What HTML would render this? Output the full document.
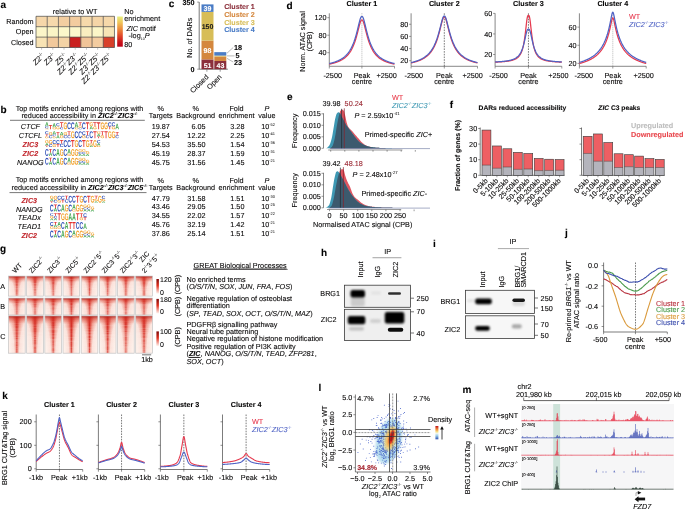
<!DOCTYPE html><html><head><meta charset="utf-8"><style>html,body{margin:0;padding:0;background:#fff;width:685px;height:509px;overflow:hidden}text{stroke-width:0.1px}svg{display:block;font-family:"Liberation Sans",sans-serif;text-rendering:geometricPrecision;will-change:transform}</style></head><body><svg width="685" height="509" viewBox="0 0 685 509"><defs><path id="gA" d="M0.787 1 0.697 0.744H0.306L0.215 1H0L0.374 0H0.627L1 1ZM0.501 0.154 0.496 0.17Q0.489 0.195 0.479 0.228Q0.469 0.26 0.354 0.587H0.648L0.547 0.3L0.516 0.203Z"/><path id="gC" d="M0.531 0.84Q0.73 0.84 0.808 0.655L1 0.722Q0.938 0.863 0.818 0.931Q0.698 1 0.531 1Q0.277 1 0.139 0.867Q0 0.734 0 0.496Q0 0.257 0.134 0.128Q0.267 0 0.521 0Q0.706 0 0.823 0.069Q0.94 0.137 0.987 0.27L0.792 0.319Q0.768 0.246 0.696 0.203Q0.624 0.16 0.526 0.16Q0.376 0.16 0.299 0.246Q0.222 0.331 0.222 0.496Q0.222 0.663 0.301 0.752Q0.381 0.84 0.531 0.84Z"/><path id="gG" d="M0.522 0.841Q0.606 0.841 0.684 0.818Q0.762 0.794 0.805 0.759V0.624H0.556V0.474H1V0.831Q0.919 0.91 0.789 0.955Q0.659 1 0.517 1Q0.268 1 0.134 0.869Q-0 0.737 -0 0.496Q-0 0.256 0.135 0.128Q0.269 0 0.522 0Q0.881 0 0.978 0.253L0.781 0.31Q0.75 0.236 0.682 0.198Q0.614 0.16 0.522 0.16Q0.371 0.16 0.293 0.247Q0.215 0.334 0.215 0.496Q0.215 0.661 0.296 0.751Q0.376 0.841 0.522 0.841Z"/><path id="gT" d="M0.622 0.162V1H0.377V0.162H0V0H1V0.162Z"/><linearGradient id="ylorrd" x1="0" y1="0" x2="0" y2="1"><stop offset="0" stop-color="#e6f07c"/><stop offset="0.2" stop-color="#f0c45a"/><stop offset="0.42" stop-color="#ec8a3c"/><stop offset="0.65" stop-color="#e04428"/><stop offset="0.85" stop-color="#c8141c"/><stop offset="1" stop-color="#be0018"/></linearGradient><filter id="bl6" x="-50%" y="-50%" width="200%" height="200%"><feGaussianBlur stdDeviation="0.6"/></filter><filter id="bl7" x="-50%" y="-50%" width="200%" height="200%"><feGaussianBlur stdDeviation="0.7"/></filter><filter id="bl8" x="-50%" y="-50%" width="200%" height="200%"><feGaussianBlur stdDeviation="0.8"/></filter><filter id="bl9" x="-50%" y="-50%" width="200%" height="200%"><feGaussianBlur stdDeviation="0.9"/></filter><filter id="bl10" x="-50%" y="-50%" width="200%" height="200%"><feGaussianBlur stdDeviation="1.0"/></filter><filter id="bl12" x="-50%" y="-50%" width="200%" height="200%"><feGaussianBlur stdDeviation="1.2"/></filter><linearGradient id="hg" x1="0" y1="0" x2="1" y2="0"><stop offset="0" stop-color="#e8553e" stop-opacity="0"/><stop offset="0.3" stop-color="#e24a36" stop-opacity="0.35"/><stop offset="0.5" stop-color="#d42c24" stop-opacity="1"/><stop offset="0.7" stop-color="#e24a36" stop-opacity="0.35"/><stop offset="1" stop-color="#e8553e" stop-opacity="0"/></linearGradient><linearGradient id="cbg" x1="0" y1="0" x2="0" y2="1"><stop offset="0" stop-color="#7d0a0a"/><stop offset="0.45" stop-color="#e0301e"/><stop offset="1" stop-color="#fff4ef"/></linearGradient><linearGradient id="vtop" x1="0" y1="0" x2="0" y2="1"><stop offset="0" stop-color="#a5120e" stop-opacity="0.95"/><stop offset="0.35" stop-color="#c8281c" stop-opacity="0.45"/><stop offset="1" stop-color="#e04a36" stop-opacity="0"/></linearGradient><clipPath id="gc00"><rect x="8.50" y="276.10" width="16.7" height="20.00"/></clipPath><clipPath id="gc01"><rect x="26.67" y="276.10" width="16.7" height="20.00"/></clipPath><clipPath id="gc02"><rect x="44.84" y="276.10" width="16.7" height="20.00"/></clipPath><clipPath id="gc03"><rect x="63.01" y="276.10" width="16.7" height="20.00"/></clipPath><clipPath id="gc04"><rect x="81.18" y="276.10" width="16.7" height="20.00"/></clipPath><clipPath id="gc05"><rect x="99.35" y="276.10" width="16.7" height="20.00"/></clipPath><clipPath id="gc06"><rect x="117.52" y="276.10" width="16.7" height="20.00"/></clipPath><clipPath id="gc07"><rect x="135.69" y="276.10" width="16.7" height="20.00"/></clipPath><clipPath id="gc10"><rect x="8.50" y="298.10" width="16.7" height="16.90"/></clipPath><clipPath id="gc11"><rect x="26.67" y="298.10" width="16.7" height="16.90"/></clipPath><clipPath id="gc12"><rect x="44.84" y="298.10" width="16.7" height="16.90"/></clipPath><clipPath id="gc13"><rect x="63.01" y="298.10" width="16.7" height="16.90"/></clipPath><clipPath id="gc14"><rect x="81.18" y="298.10" width="16.7" height="16.90"/></clipPath><clipPath id="gc15"><rect x="99.35" y="298.10" width="16.7" height="16.90"/></clipPath><clipPath id="gc16"><rect x="117.52" y="298.10" width="16.7" height="16.90"/></clipPath><clipPath id="gc17"><rect x="135.69" y="298.10" width="16.7" height="16.90"/></clipPath><clipPath id="gc20"><rect x="8.50" y="315.90" width="16.7" height="37.30"/></clipPath><clipPath id="gc21"><rect x="26.67" y="315.90" width="16.7" height="37.30"/></clipPath><clipPath id="gc22"><rect x="44.84" y="315.90" width="16.7" height="37.30"/></clipPath><clipPath id="gc23"><rect x="63.01" y="315.90" width="16.7" height="37.30"/></clipPath><clipPath id="gc24"><rect x="81.18" y="315.90" width="16.7" height="37.30"/></clipPath><clipPath id="gc25"><rect x="99.35" y="315.90" width="16.7" height="37.30"/></clipPath><clipPath id="gc26"><rect x="117.52" y="315.90" width="16.7" height="37.30"/></clipPath><clipPath id="gc27"><rect x="135.69" y="315.90" width="16.7" height="37.30"/></clipPath><linearGradient id="dens" x1="0" y1="0" x2="0" y2="1"><stop offset="0" stop-color="#c0141c"/><stop offset="0.25" stop-color="#f08a3a"/><stop offset="0.45" stop-color="#f8e88a"/><stop offset="0.55" stop-color="#f2f4ee"/><stop offset="0.72" stop-color="#9fd0ea"/><stop offset="1" stop-color="#2d4fb0"/></linearGradient></defs><text x="0.50" y="7.60" font-size="10" font-weight="bold" fill="#000" stroke="#000">a</text>
<text x="75.20" y="13.50" font-size="7.25" text-anchor="middle" stroke="#231f20">relative to WT</text>
<text x="33.60" y="24.20" font-size="7.25" text-anchor="end" stroke="#231f20">Random</text>
<text x="33.60" y="34.40" font-size="7.25" text-anchor="end" stroke="#231f20">Open</text>
<text x="33.60" y="44.80" font-size="7.25" text-anchor="end" stroke="#231f20">Closed</text>
<rect x="36.00" y="16.30" width="11.21" height="10.40" fill="#f6d7aa"/>
<rect x="47.21" y="16.30" width="11.21" height="10.40" fill="#f6d9ac"/>
<rect x="58.42" y="16.30" width="11.21" height="10.40" fill="#f3cea1"/>
<rect x="69.63" y="16.30" width="11.21" height="10.40" fill="#f3cc9f"/>
<rect x="80.84" y="16.30" width="11.21" height="10.40" fill="#f6d9ab"/>
<rect x="92.05" y="16.30" width="11.21" height="10.40" fill="#f5d5a7"/>
<rect x="103.26" y="16.30" width="11.21" height="10.40" fill="#f6d8aa"/>
<rect x="36.00" y="26.70" width="11.21" height="10.40" fill="#fcf6c9"/>
<rect x="47.21" y="26.70" width="11.21" height="10.40" fill="#fbf5c6"/>
<rect x="58.42" y="26.70" width="11.21" height="10.40" fill="#fcf7ca"/>
<rect x="69.63" y="26.70" width="11.21" height="10.40" fill="#fcf8cc"/>
<rect x="80.84" y="26.70" width="11.21" height="10.40" fill="#f9eec0"/>
<rect x="92.05" y="26.70" width="11.21" height="10.40" fill="#fbf6c8"/>
<rect x="103.26" y="26.70" width="11.21" height="10.40" fill="#f7e5b6"/>
<rect x="36.00" y="37.10" width="11.21" height="10.40" fill="#f8e3b4"/>
<rect x="47.21" y="37.10" width="11.21" height="10.40" fill="#f2c99c"/>
<rect x="58.42" y="37.10" width="11.21" height="10.40" fill="#f4d3a5"/>
<rect x="69.63" y="37.10" width="11.21" height="10.40" fill="#c9201f"/>
<rect x="80.84" y="37.10" width="11.21" height="10.40" fill="#f1c498"/>
<rect x="92.05" y="37.10" width="11.21" height="10.40" fill="#f3cca0"/>
<rect x="103.26" y="37.10" width="11.21" height="10.40" fill="#d8402a"/>
<line x1="36.00" y1="16.30" x2="36.00" y2="47.50" stroke="#3a3a3a" stroke-width="0.65"/>
<line x1="47.21" y1="16.30" x2="47.21" y2="47.50" stroke="#3a3a3a" stroke-width="0.65"/>
<line x1="58.42" y1="16.30" x2="58.42" y2="47.50" stroke="#3a3a3a" stroke-width="0.65"/>
<line x1="69.63" y1="16.30" x2="69.63" y2="47.50" stroke="#3a3a3a" stroke-width="0.65"/>
<line x1="80.84" y1="16.30" x2="80.84" y2="47.50" stroke="#3a3a3a" stroke-width="0.65"/>
<line x1="92.05" y1="16.30" x2="92.05" y2="47.50" stroke="#3a3a3a" stroke-width="0.65"/>
<line x1="103.26" y1="16.30" x2="103.26" y2="47.50" stroke="#3a3a3a" stroke-width="0.65"/>
<line x1="114.47" y1="16.30" x2="114.47" y2="47.50" stroke="#3a3a3a" stroke-width="0.65"/>
<line x1="36.00" y1="16.30" x2="114.47" y2="16.30" stroke="#3a3a3a" stroke-width="0.65"/>
<line x1="36.00" y1="26.70" x2="114.47" y2="26.70" stroke="#3a3a3a" stroke-width="0.65"/>
<line x1="36.00" y1="37.10" x2="114.47" y2="37.10" stroke="#3a3a3a" stroke-width="0.65"/>
<line x1="36.00" y1="47.50" x2="114.47" y2="47.50" stroke="#3a3a3a" stroke-width="0.65"/>
<line x1="41.61" y1="47.50" x2="41.61" y2="49.70" stroke="#888" stroke-width="0.5"/>
<line x1="52.81" y1="47.50" x2="52.81" y2="49.70" stroke="#888" stroke-width="0.5"/>
<line x1="64.03" y1="47.50" x2="64.03" y2="49.70" stroke="#888" stroke-width="0.5"/>
<line x1="75.23" y1="47.50" x2="75.23" y2="49.70" stroke="#888" stroke-width="0.5"/>
<line x1="86.45" y1="47.50" x2="86.45" y2="49.70" stroke="#888" stroke-width="0.5"/>
<line x1="97.66" y1="47.50" x2="97.66" y2="49.70" stroke="#888" stroke-width="0.5"/>
<line x1="108.87" y1="47.50" x2="108.87" y2="49.70" stroke="#888" stroke-width="0.5"/>
<text x="45.01" y="56.20" font-size="7.6" text-anchor="end" font-style="italic" stroke="#231f20" transform="rotate(-45 45.01 56.20)">Z2<tspan font-size="4.6" baseline-shift="2.9" stroke="none" font-style="normal">-/-</tspan></text>
<text x="56.21" y="56.20" font-size="7.6" text-anchor="end" font-style="italic" stroke="#231f20" transform="rotate(-45 56.21 56.20)">Z3<tspan font-size="4.6" baseline-shift="2.9" stroke="none" font-style="normal">-/-</tspan></text>
<text x="67.43" y="56.20" font-size="7.6" text-anchor="end" font-style="italic" stroke="#231f20" transform="rotate(-45 67.43 56.20)">Z5<tspan font-size="4.6" baseline-shift="2.9" stroke="none" font-style="normal">-/-</tspan></text>
<text x="78.64" y="56.20" font-size="7.6" text-anchor="end" font-style="italic" stroke="#231f20" transform="rotate(-45 78.64 56.20)">Z2<tspan font-size="4.6" baseline-shift="2.9" stroke="none" font-style="normal">-/-</tspan>Z3<tspan font-size="4.6" baseline-shift="2.9" stroke="none" font-style="normal">-/-</tspan></text>
<text x="89.85" y="56.20" font-size="7.6" text-anchor="end" font-style="italic" stroke="#231f20" transform="rotate(-45 89.85 56.20)">Z2<tspan font-size="4.6" baseline-shift="2.9" stroke="none" font-style="normal">-/-</tspan>Z5<tspan font-size="4.6" baseline-shift="2.9" stroke="none" font-style="normal">-/-</tspan></text>
<text x="101.06" y="56.20" font-size="7.6" text-anchor="end" font-style="italic" stroke="#231f20" transform="rotate(-45 101.06 56.20)">Z3<tspan font-size="4.6" baseline-shift="2.9" stroke="none" font-style="normal">-/-</tspan>Z5<tspan font-size="4.6" baseline-shift="2.9" stroke="none" font-style="normal">-/-</tspan></text>
<text x="112.27" y="56.20" font-size="7.6" text-anchor="end" font-style="italic" stroke="#231f20" transform="rotate(-45 112.27 56.20)">Z2<tspan font-size="4.6" baseline-shift="2.9" stroke="none" font-style="normal">-/-</tspan>Z3<tspan font-size="4.6" baseline-shift="2.9" stroke="none" font-style="normal">-/-</tspan>Z5<tspan font-size="4.6" baseline-shift="2.9" stroke="none" font-style="normal">-/-</tspan></text>
<rect x="117.20" y="16.50" width="5.60" height="30.20" fill="url(#ylorrd)"/>
<text x="124.30" y="14.20" font-size="7.25" stroke="#231f20">No</text>
<text x="124.30" y="21.20" font-size="7.25" stroke="#231f20">enrichment</text>
<text x="126.40" y="30.80" font-size="7.25" stroke="#231f20"><tspan font-style="italic">ZIC</tspan> motif</text>
<text x="128.60" y="37.60" font-size="7.25" stroke="#231f20">-log<tspan font-size="3.6" baseline-shift="-1.5" stroke="none" font-style="normal">10</tspan><tspan font-style="italic">P</tspan></text>
<text x="124.30" y="47.00" font-size="7.25" stroke="#231f20">80</text>
<text x="168.80" y="7.20" font-size="10" font-weight="bold" fill="#000" stroke="#000">c</text>
<line x1="199.20" y1="2.10" x2="199.20" y2="69.20" stroke="#555" stroke-width="0.8"/>
<line x1="199.20" y1="69.20" x2="227.80" y2="69.20" stroke="#555" stroke-width="0.8"/>
<line x1="197.20" y1="2.10" x2="199.20" y2="2.10" stroke="#555" stroke-width="0.6"/>
<line x1="197.20" y1="69.20" x2="199.20" y2="69.20" stroke="#555" stroke-width="0.6"/>
<text x="194.50" y="5.20" font-size="7.25" text-anchor="end" font-weight="bold" stroke="#231f20">350</text>
<text x="194.50" y="71.80" font-size="7.25" text-anchor="end" font-weight="bold" stroke="#231f20">0</text>
<text x="192.50" y="37.70" font-size="7.25" text-anchor="middle" stroke="#231f20" transform="rotate(-90 192.50 37.70)">No. of DARs</text>
<rect x="201.50" y="59.42" width="12.00" height="9.78" fill="#8b2f3b"/>
<rect x="201.50" y="40.63" width="12.00" height="18.79" fill="#d4873e"/>
<rect x="201.50" y="11.88" width="12.00" height="28.76" fill="#d7bd57"/>
<rect x="201.50" y="4.40" width="12.00" height="7.48" fill="#4a7cc6"/>
<rect x="214.30" y="60.96" width="12.00" height="8.24" fill="#8b2f3b"/>
<rect x="214.30" y="56.55" width="12.00" height="4.41" fill="#d4873e"/>
<rect x="214.30" y="55.59" width="12.00" height="0.96" fill="#d7bd57"/>
<rect x="214.30" y="52.14" width="12.00" height="3.45" fill="#4a7cc6"/>
<text x="207.50" y="10.60" font-size="7" text-anchor="middle" font-weight="bold" fill="#fff" stroke="#fff">39</text>
<text x="207.50" y="28.60" font-size="7" text-anchor="middle" font-weight="bold" fill="#1a1a1a" stroke="#1a1a1a">150</text>
<text x="207.50" y="53.00" font-size="7" text-anchor="middle" font-weight="bold" fill="#fff" stroke="#fff">98</text>
<text x="207.60" y="67.60" font-size="7" text-anchor="middle" font-weight="bold" fill="#fff" stroke="#fff">51</text>
<text x="220.40" y="67.60" font-size="7" text-anchor="middle" font-weight="bold" fill="#fff" stroke="#fff">43</text>
<line x1="227.00" y1="53.20" x2="233.20" y2="47.50" stroke="#777" stroke-width="0.5"/>
<line x1="227.00" y1="55.90" x2="234.50" y2="55.90" stroke="#777" stroke-width="0.5"/>
<line x1="227.00" y1="58.40" x2="233.20" y2="62.00" stroke="#777" stroke-width="0.5"/>
<text x="234.00" y="50.00" font-size="7.25" font-weight="bold" stroke="#231f20">18</text>
<text x="235.50" y="57.80" font-size="7.25" font-weight="bold" stroke="#231f20">5</text>
<text x="234.00" y="64.60" font-size="7.25" font-weight="bold" stroke="#231f20">23</text>
<line x1="206.90" y1="69.20" x2="206.90" y2="71.70" stroke="#555" stroke-width="0.6"/>
<line x1="220.20" y1="69.20" x2="220.20" y2="71.70" stroke="#555" stroke-width="0.6"/>
<text x="209.00" y="77.50" font-size="7.25" text-anchor="end" stroke="#231f20" transform="rotate(-45 209.00 77.50)">Closed</text>
<text x="222.20" y="77.50" font-size="7.25" text-anchor="end" stroke="#231f20" transform="rotate(-45 222.20 77.50)">Open</text>
<text x="224.20" y="9.30" font-size="7.15" font-weight="bold" fill="#8b2f3b" stroke="#8b2f3b">Cluster 1</text>
<text x="224.20" y="16.90" font-size="7.15" font-weight="bold" fill="#d4873e" stroke="#d4873e">Cluster 2</text>
<text x="224.20" y="24.50" font-size="7.15" font-weight="bold" fill="#d7bd57" stroke="#d7bd57">Cluster 3</text>
<text x="224.20" y="32.10" font-size="7.15" font-weight="bold" fill="#4a7cc6" stroke="#4a7cc6">Cluster 4</text>
<text x="286.50" y="9.00" font-size="10" font-weight="bold" fill="#000" stroke="#000">d</text>
<text x="304.60" y="41.50" font-size="7.25" text-anchor="middle" stroke="#231f20" transform="rotate(-90 304.60 41.50)">Norm. ATAC signal</text>
<text x="312.30" y="41.50" font-size="7.25" text-anchor="middle" stroke="#231f20" transform="rotate(-90 312.30 41.50)">(CPB)</text>
<text x="361.90" y="6.20" font-size="7.2" text-anchor="middle" font-weight="bold" stroke="#231f20">Cluster 1</text>
<line x1="329.30" y1="13.30" x2="329.30" y2="66.30" stroke="#555" stroke-width="0.7"/>
<line x1="329.30" y1="66.30" x2="394.50" y2="66.30" stroke="#555" stroke-width="0.7"/>
<line x1="327.30" y1="17.70" x2="329.30" y2="17.70" stroke="#555" stroke-width="0.6"/>
<text x="326.50" y="20.30" font-size="7.25" text-anchor="end" stroke="#231f20">120</text>
<line x1="327.30" y1="35.20" x2="329.30" y2="35.20" stroke="#555" stroke-width="0.6"/>
<text x="326.50" y="37.80" font-size="7.25" text-anchor="end" stroke="#231f20">80</text>
<line x1="327.30" y1="52.70" x2="329.30" y2="52.70" stroke="#555" stroke-width="0.6"/>
<text x="326.50" y="55.30" font-size="7.25" text-anchor="end" stroke="#231f20">40</text>
<line x1="329.30" y1="66.30" x2="329.30" y2="68.50" stroke="#555" stroke-width="0.6"/>
<line x1="361.90" y1="66.30" x2="361.90" y2="68.50" stroke="#555" stroke-width="0.6"/>
<line x1="394.50" y1="66.30" x2="394.50" y2="68.50" stroke="#555" stroke-width="0.6"/>
<text x="332.70" y="77.60" font-size="7.25" text-anchor="middle" stroke="#231f20">-2500</text>
<text x="361.90" y="77.50" font-size="7.25" text-anchor="middle" stroke="#231f20">Peak</text>
<text x="361.90" y="84.30" font-size="7.25" text-anchor="middle" stroke="#231f20">centre</text>
<text x="386.70" y="77.60" font-size="7.25" text-anchor="middle" stroke="#231f20">+2500</text>
<line x1="361.90" y1="13.30" x2="361.90" y2="66.30" stroke="#999" stroke-width="0.7" stroke-dasharray="1,1"/>
<path d="M329.30,64.16 L329.63,64.09 L329.95,64.02 L330.28,63.95 L330.60,63.88 L330.93,63.80 L331.26,63.73 L331.58,63.65 L331.91,63.57 L332.23,63.49 L332.56,63.41 L332.89,63.32 L333.21,63.24 L333.54,63.15 L333.86,63.05 L334.19,62.96 L334.52,62.86 L334.84,62.76 L335.17,62.66 L335.49,62.56 L335.82,62.45 L336.15,62.34 L336.47,62.23 L336.80,62.11 L337.12,61.99 L337.45,61.87 L337.78,61.74 L338.10,61.61 L338.43,61.47 L338.75,61.34 L339.08,61.19 L339.41,61.05 L339.73,60.90 L340.06,60.74 L340.38,60.58 L340.71,60.41 L341.04,60.24 L341.36,60.06 L341.69,59.88 L342.01,59.69 L342.34,59.50 L342.67,59.30 L342.99,59.09 L343.32,58.87 L343.64,58.65 L343.97,58.42 L344.30,58.18 L344.62,57.93 L344.95,57.67 L345.27,57.40 L345.60,57.13 L345.93,56.84 L346.25,56.54 L346.58,56.23 L346.90,55.91 L347.23,55.57 L347.56,55.22 L347.88,54.86 L348.21,54.48 L348.53,54.09 L348.86,53.68 L349.19,53.25 L349.51,52.80 L349.84,52.34 L350.16,51.85 L350.49,51.35 L350.82,50.82 L351.14,50.26 L351.47,49.68 L351.79,49.08 L352.12,48.45 L352.45,47.78 L352.77,47.09 L353.10,46.37 L353.42,45.61 L353.75,44.81 L354.08,43.98 L354.40,43.12 L354.73,42.21 L355.05,41.26 L355.38,40.27 L355.71,39.24 L356.03,38.17 L356.36,37.05 L356.68,35.90 L357.01,34.70 L357.34,33.47 L357.66,32.20 L357.99,30.92 L358.31,29.61 L358.64,28.29 L358.97,26.99 L359.29,25.71 L359.62,24.48 L359.94,23.32 L360.27,22.28 L360.60,21.39 L360.92,20.70 L361.25,20.24 L361.57,20.04 L361.90,20.00 L362.23,20.04 L362.55,20.24 L362.88,20.70 L363.20,21.39 L363.53,22.28 L363.86,23.32 L364.18,24.48 L364.51,25.71 L364.83,26.99 L365.16,28.29 L365.49,29.61 L365.81,30.92 L366.14,32.20 L366.46,33.47 L366.79,34.70 L367.12,35.90 L367.44,37.05 L367.77,38.17 L368.09,39.24 L368.42,40.27 L368.75,41.26 L369.07,42.21 L369.40,43.12 L369.72,43.98 L370.05,44.81 L370.38,45.61 L370.70,46.37 L371.03,47.09 L371.35,47.78 L371.68,48.45 L372.01,49.08 L372.33,49.68 L372.66,50.26 L372.98,50.82 L373.31,51.35 L373.64,51.85 L373.96,52.34 L374.29,52.80 L374.61,53.25 L374.94,53.68 L375.27,54.09 L375.59,54.48 L375.92,54.86 L376.24,55.22 L376.57,55.57 L376.90,55.91 L377.22,56.23 L377.55,56.54 L377.87,56.84 L378.20,57.13 L378.53,57.40 L378.85,57.67 L379.18,57.93 L379.50,58.18 L379.83,58.42 L380.16,58.65 L380.48,58.87 L380.81,59.09 L381.13,59.30 L381.46,59.50 L381.79,59.69 L382.11,59.88 L382.44,60.06 L382.76,60.24 L383.09,60.41 L383.42,60.58 L383.74,60.74 L384.07,60.90 L384.39,61.05 L384.72,61.19 L385.05,61.34 L385.37,61.47 L385.70,61.61 L386.02,61.74 L386.35,61.87 L386.68,61.99 L387.00,62.11 L387.33,62.23 L387.65,62.34 L387.98,62.45 L388.31,62.56 L388.63,62.66 L388.96,62.76 L389.28,62.86 L389.61,62.96 L389.94,63.05 L390.26,63.15 L390.59,63.24 L390.91,63.32 L391.24,63.41 L391.57,63.49 L391.89,63.57 L392.22,63.65 L392.54,63.73 L392.87,63.80 L393.20,63.88 L393.52,63.95 L393.85,64.02 L394.17,64.09 L394.50,64.16" fill="none" stroke="#e63a4f" stroke-width="1.25" stroke-linejoin="round"/>
<path d="M329.30,63.56 L329.63,63.48 L329.95,63.40 L330.28,63.33 L330.60,63.25 L330.93,63.16 L331.26,63.08 L331.58,62.99 L331.91,62.90 L332.23,62.81 L332.56,62.72 L332.89,62.62 L333.21,62.53 L333.54,62.43 L333.86,62.33 L334.19,62.22 L334.52,62.11 L334.84,62.00 L335.17,61.89 L335.49,61.77 L335.82,61.65 L336.15,61.53 L336.47,61.40 L336.80,61.27 L337.12,61.14 L337.45,61.00 L337.78,60.86 L338.10,60.72 L338.43,60.57 L338.75,60.41 L339.08,60.25 L339.41,60.09 L339.73,59.92 L340.06,59.75 L340.38,59.57 L340.71,59.39 L341.04,59.20 L341.36,59.00 L341.69,58.80 L342.01,58.59 L342.34,58.37 L342.67,58.15 L342.99,57.92 L343.32,57.68 L343.64,57.43 L343.97,57.18 L344.30,56.91 L344.62,56.64 L344.95,56.36 L345.27,56.06 L345.60,55.76 L345.93,55.44 L346.25,55.11 L346.58,54.77 L346.90,54.42 L347.23,54.05 L347.56,53.67 L347.88,53.27 L348.21,52.85 L348.53,52.42 L348.86,51.98 L349.19,51.51 L349.51,51.02 L349.84,50.51 L350.16,49.99 L350.49,49.43 L350.82,48.86 L351.14,48.26 L351.47,47.63 L351.79,46.98 L352.12,46.29 L352.45,45.58 L352.77,44.83 L353.10,44.05 L353.42,43.24 L353.75,42.39 L354.08,41.50 L354.40,40.57 L354.73,39.60 L355.05,38.59 L355.38,37.54 L355.71,36.45 L356.03,35.32 L356.36,34.14 L356.68,32.92 L357.01,31.67 L357.34,30.38 L357.66,29.06 L357.99,27.72 L358.31,26.36 L358.64,25.00 L358.97,23.65 L359.29,22.33 L359.62,21.07 L359.94,19.89 L360.27,18.82 L360.60,17.91 L360.92,17.21 L361.25,16.75 L361.57,16.54 L361.90,16.50 L362.23,16.54 L362.55,16.75 L362.88,17.21 L363.20,17.91 L363.53,18.82 L363.86,19.89 L364.18,21.07 L364.51,22.33 L364.83,23.65 L365.16,25.00 L365.49,26.36 L365.81,27.72 L366.14,29.06 L366.46,30.38 L366.79,31.67 L367.12,32.92 L367.44,34.14 L367.77,35.32 L368.09,36.45 L368.42,37.54 L368.75,38.59 L369.07,39.60 L369.40,40.57 L369.72,41.50 L370.05,42.39 L370.38,43.24 L370.70,44.05 L371.03,44.83 L371.35,45.58 L371.68,46.29 L372.01,46.98 L372.33,47.63 L372.66,48.26 L372.98,48.86 L373.31,49.43 L373.64,49.99 L373.96,50.51 L374.29,51.02 L374.61,51.51 L374.94,51.98 L375.27,52.42 L375.59,52.85 L375.92,53.27 L376.24,53.67 L376.57,54.05 L376.90,54.42 L377.22,54.77 L377.55,55.11 L377.87,55.44 L378.20,55.76 L378.53,56.06 L378.85,56.36 L379.18,56.64 L379.50,56.91 L379.83,57.18 L380.16,57.43 L380.48,57.68 L380.81,57.92 L381.13,58.15 L381.46,58.37 L381.79,58.59 L382.11,58.80 L382.44,59.00 L382.76,59.20 L383.09,59.39 L383.42,59.57 L383.74,59.75 L384.07,59.92 L384.39,60.09 L384.72,60.25 L385.05,60.41 L385.37,60.57 L385.70,60.72 L386.02,60.86 L386.35,61.00 L386.68,61.14 L387.00,61.27 L387.33,61.40 L387.65,61.53 L387.98,61.65 L388.31,61.77 L388.63,61.89 L388.96,62.00 L389.28,62.11 L389.61,62.22 L389.94,62.33 L390.26,62.43 L390.59,62.53 L390.91,62.62 L391.24,62.72 L391.57,62.81 L391.89,62.90 L392.22,62.99 L392.54,63.08 L392.87,63.16 L393.20,63.25 L393.52,63.33 L393.85,63.40 L394.17,63.48 L394.50,63.56" fill="none" stroke="#4f62c4" stroke-width="1.25" stroke-linejoin="round"/>
<text x="444.30" y="6.20" font-size="7.2" text-anchor="middle" font-weight="bold" stroke="#231f20">Cluster 2</text>
<line x1="411.10" y1="13.30" x2="411.10" y2="66.30" stroke="#555" stroke-width="0.7"/>
<line x1="411.10" y1="66.30" x2="477.50" y2="66.30" stroke="#555" stroke-width="0.7"/>
<line x1="409.10" y1="24.25" x2="411.10" y2="24.25" stroke="#555" stroke-width="0.6"/>
<text x="408.30" y="26.85" font-size="7.25" text-anchor="end" stroke="#231f20">80</text>
<line x1="409.10" y1="36.40" x2="411.10" y2="36.40" stroke="#555" stroke-width="0.6"/>
<text x="408.30" y="39.00" font-size="7.25" text-anchor="end" stroke="#231f20">60</text>
<line x1="409.10" y1="48.55" x2="411.10" y2="48.55" stroke="#555" stroke-width="0.6"/>
<text x="408.30" y="51.15" font-size="7.25" text-anchor="end" stroke="#231f20">40</text>
<line x1="409.10" y1="60.70" x2="411.10" y2="60.70" stroke="#555" stroke-width="0.6"/>
<text x="408.30" y="63.30" font-size="7.25" text-anchor="end" stroke="#231f20">20</text>
<line x1="411.10" y1="66.30" x2="411.10" y2="68.50" stroke="#555" stroke-width="0.6"/>
<line x1="444.30" y1="66.30" x2="444.30" y2="68.50" stroke="#555" stroke-width="0.6"/>
<line x1="477.50" y1="66.30" x2="477.50" y2="68.50" stroke="#555" stroke-width="0.6"/>
<text x="413.80" y="77.60" font-size="7.25" text-anchor="middle" stroke="#231f20">-2500</text>
<text x="444.30" y="77.50" font-size="7.25" text-anchor="middle" stroke="#231f20">Peak</text>
<text x="444.30" y="84.30" font-size="7.25" text-anchor="middle" stroke="#231f20">centre</text>
<text x="472.60" y="77.60" font-size="7.25" text-anchor="middle" stroke="#231f20">+2500</text>
<line x1="444.30" y1="13.30" x2="444.30" y2="66.30" stroke="#222" stroke-width="0.6" stroke-dasharray="1.6,1.1"/>
<path d="M411.10,62.96 L411.43,62.88 L411.76,62.81 L412.10,62.73 L412.43,62.66 L412.76,62.58 L413.09,62.49 L413.42,62.41 L413.76,62.33 L414.09,62.24 L414.42,62.15 L414.75,62.06 L415.08,61.96 L415.42,61.87 L415.75,61.77 L416.08,61.67 L416.41,61.56 L416.74,61.46 L417.08,61.35 L417.41,61.24 L417.74,61.12 L418.07,61.00 L418.40,60.88 L418.74,60.76 L419.07,60.63 L419.40,60.50 L419.73,60.36 L420.06,60.22 L420.40,60.08 L420.73,59.93 L421.06,59.78 L421.39,59.62 L421.72,59.46 L422.06,59.30 L422.39,59.12 L422.72,58.95 L423.05,58.77 L423.38,58.58 L423.72,58.38 L424.05,58.18 L424.38,57.98 L424.71,57.76 L425.04,57.54 L425.38,57.31 L425.71,57.08 L426.04,56.83 L426.37,56.58 L426.70,56.32 L427.04,56.04 L427.37,55.76 L427.70,55.47 L428.03,55.17 L428.36,54.85 L428.70,54.53 L429.03,54.19 L429.36,53.84 L429.69,53.47 L430.02,53.09 L430.36,52.70 L430.69,52.28 L431.02,51.85 L431.35,51.41 L431.68,50.94 L432.02,50.46 L432.35,49.95 L432.68,49.42 L433.01,48.87 L433.34,48.30 L433.68,47.69 L434.01,47.07 L434.34,46.41 L434.67,45.73 L435.00,45.01 L435.34,44.26 L435.67,43.48 L436.00,42.66 L436.33,41.80 L436.66,40.91 L437.00,39.98 L437.33,39.00 L437.66,37.98 L437.99,36.93 L438.32,35.82 L438.66,34.68 L438.99,33.50 L439.32,32.27 L439.65,31.01 L439.98,29.71 L440.32,28.39 L440.65,27.05 L440.98,25.70 L441.31,24.36 L441.64,23.04 L441.98,21.77 L442.31,20.57 L442.64,19.48 L442.97,18.55 L443.30,17.82 L443.64,17.33 L443.97,17.11 L444.30,17.07 L444.63,17.11 L444.96,17.33 L445.30,17.82 L445.63,18.55 L445.96,19.48 L446.29,20.57 L446.62,21.77 L446.96,23.04 L447.29,24.36 L447.62,25.70 L447.95,27.05 L448.28,28.39 L448.62,29.71 L448.95,31.01 L449.28,32.27 L449.61,33.50 L449.94,34.68 L450.28,35.82 L450.61,36.93 L450.94,37.98 L451.27,39.00 L451.60,39.98 L451.94,40.91 L452.27,41.80 L452.60,42.66 L452.93,43.48 L453.26,44.26 L453.60,45.01 L453.93,45.73 L454.26,46.41 L454.59,47.07 L454.92,47.69 L455.26,48.30 L455.59,48.87 L455.92,49.42 L456.25,49.95 L456.58,50.46 L456.92,50.94 L457.25,51.41 L457.58,51.85 L457.91,52.28 L458.24,52.70 L458.58,53.09 L458.91,53.47 L459.24,53.84 L459.57,54.19 L459.90,54.53 L460.24,54.85 L460.57,55.17 L460.90,55.47 L461.23,55.76 L461.56,56.04 L461.90,56.32 L462.23,56.58 L462.56,56.83 L462.89,57.08 L463.22,57.31 L463.56,57.54 L463.89,57.76 L464.22,57.98 L464.55,58.18 L464.88,58.38 L465.22,58.58 L465.55,58.77 L465.88,58.95 L466.21,59.12 L466.54,59.30 L466.88,59.46 L467.21,59.62 L467.54,59.78 L467.87,59.93 L468.20,60.08 L468.54,60.22 L468.87,60.36 L469.20,60.50 L469.53,60.63 L469.86,60.76 L470.20,60.88 L470.53,61.00 L470.86,61.12 L471.19,61.24 L471.52,61.35 L471.86,61.46 L472.19,61.56 L472.52,61.67 L472.85,61.77 L473.18,61.87 L473.52,61.96 L473.85,62.06 L474.18,62.15 L474.51,62.24 L474.84,62.33 L475.18,62.41 L475.51,62.49 L475.84,62.58 L476.17,62.66 L476.50,62.73 L476.84,62.81 L477.17,62.88 L477.50,62.96" fill="none" stroke="#e63a4f" stroke-width="1.25" stroke-linejoin="round"/>
<path d="M411.10,62.57 L411.43,62.50 L411.76,62.42 L412.10,62.34 L412.43,62.25 L412.76,62.17 L413.09,62.08 L413.42,61.99 L413.76,61.90 L414.09,61.81 L414.42,61.71 L414.75,61.62 L415.08,61.52 L415.42,61.41 L415.75,61.31 L416.08,61.20 L416.41,61.09 L416.74,60.98 L417.08,60.86 L417.41,60.74 L417.74,60.62 L418.07,60.50 L418.40,60.37 L418.74,60.24 L419.07,60.10 L419.40,59.96 L419.73,59.82 L420.06,59.67 L420.40,59.52 L420.73,59.36 L421.06,59.20 L421.39,59.03 L421.72,58.86 L422.06,58.69 L422.39,58.51 L422.72,58.32 L423.05,58.13 L423.38,57.93 L423.72,57.73 L424.05,57.51 L424.38,57.30 L424.71,57.07 L425.04,56.84 L425.38,56.60 L425.71,56.35 L426.04,56.09 L426.37,55.83 L426.70,55.55 L427.04,55.27 L427.37,54.97 L427.70,54.66 L428.03,54.35 L428.36,54.02 L428.70,53.68 L429.03,53.32 L429.36,52.96 L429.69,52.57 L430.02,52.18 L430.36,51.77 L430.69,51.34 L431.02,50.89 L431.35,50.43 L431.68,49.94 L432.02,49.44 L432.35,48.92 L432.68,48.37 L433.01,47.80 L433.34,47.21 L433.68,46.59 L434.01,45.94 L434.34,45.27 L434.67,44.57 L435.00,43.83 L435.34,43.07 L435.67,42.27 L436.00,41.43 L436.33,40.56 L436.66,39.65 L437.00,38.71 L437.33,37.72 L437.66,36.70 L437.99,35.63 L438.32,34.53 L438.66,33.38 L438.99,32.20 L439.32,30.98 L439.65,29.72 L439.98,28.44 L440.32,27.13 L440.65,25.81 L440.98,24.48 L441.31,23.17 L441.64,21.88 L441.98,20.64 L442.31,19.48 L442.64,18.43 L442.97,17.53 L443.30,16.82 L443.64,16.35 L443.97,16.13 L444.30,16.10 L444.63,16.13 L444.96,16.35 L445.30,16.82 L445.63,17.53 L445.96,18.43 L446.29,19.48 L446.62,20.64 L446.96,21.88 L447.29,23.17 L447.62,24.48 L447.95,25.81 L448.28,27.13 L448.62,28.44 L448.95,29.72 L449.28,30.98 L449.61,32.20 L449.94,33.38 L450.28,34.53 L450.61,35.63 L450.94,36.70 L451.27,37.72 L451.60,38.71 L451.94,39.65 L452.27,40.56 L452.60,41.43 L452.93,42.27 L453.26,43.07 L453.60,43.83 L453.93,44.57 L454.26,45.27 L454.59,45.94 L454.92,46.59 L455.26,47.21 L455.59,47.80 L455.92,48.37 L456.25,48.92 L456.58,49.44 L456.92,49.94 L457.25,50.43 L457.58,50.89 L457.91,51.34 L458.24,51.77 L458.58,52.18 L458.91,52.57 L459.24,52.96 L459.57,53.32 L459.90,53.68 L460.24,54.02 L460.57,54.35 L460.90,54.66 L461.23,54.97 L461.56,55.27 L461.90,55.55 L462.23,55.83 L462.56,56.09 L462.89,56.35 L463.22,56.60 L463.56,56.84 L463.89,57.07 L464.22,57.30 L464.55,57.51 L464.88,57.73 L465.22,57.93 L465.55,58.13 L465.88,58.32 L466.21,58.51 L466.54,58.69 L466.88,58.86 L467.21,59.03 L467.54,59.20 L467.87,59.36 L468.20,59.52 L468.54,59.67 L468.87,59.82 L469.20,59.96 L469.53,60.10 L469.86,60.24 L470.20,60.37 L470.53,60.50 L470.86,60.62 L471.19,60.74 L471.52,60.86 L471.86,60.98 L472.19,61.09 L472.52,61.20 L472.85,61.31 L473.18,61.41 L473.52,61.52 L473.85,61.62 L474.18,61.71 L474.51,61.81 L474.84,61.90 L475.18,61.99 L475.51,62.08 L475.84,62.17 L476.17,62.25 L476.50,62.34 L476.84,62.42 L477.17,62.50 L477.50,62.57" fill="none" stroke="#4f62c4" stroke-width="1.25" stroke-linejoin="round"/>
<text x="528.45" y="6.20" font-size="7.2" text-anchor="middle" font-weight="bold" stroke="#231f20">Cluster 3</text>
<line x1="495.10" y1="13.30" x2="495.10" y2="66.30" stroke="#555" stroke-width="0.7"/>
<line x1="495.10" y1="66.30" x2="561.80" y2="66.30" stroke="#555" stroke-width="0.7"/>
<line x1="493.10" y1="13.40" x2="495.10" y2="13.40" stroke="#555" stroke-width="0.6"/>
<text x="492.30" y="16.00" font-size="7.25" text-anchor="end" stroke="#231f20">60</text>
<line x1="493.10" y1="33.95" x2="495.10" y2="33.95" stroke="#555" stroke-width="0.6"/>
<text x="492.30" y="36.55" font-size="7.25" text-anchor="end" stroke="#231f20">40</text>
<line x1="493.10" y1="54.50" x2="495.10" y2="54.50" stroke="#555" stroke-width="0.6"/>
<text x="492.30" y="57.10" font-size="7.25" text-anchor="end" stroke="#231f20">20</text>
<line x1="495.10" y1="66.30" x2="495.10" y2="68.50" stroke="#555" stroke-width="0.6"/>
<line x1="528.45" y1="66.30" x2="528.45" y2="68.50" stroke="#555" stroke-width="0.6"/>
<line x1="561.80" y1="66.30" x2="561.80" y2="68.50" stroke="#555" stroke-width="0.6"/>
<text x="498.60" y="77.60" font-size="7.25" text-anchor="middle" stroke="#231f20">-2500</text>
<text x="528.45" y="77.50" font-size="7.25" text-anchor="middle" stroke="#231f20">Peak</text>
<text x="528.45" y="84.30" font-size="7.25" text-anchor="middle" stroke="#231f20">centre</text>
<text x="558.40" y="77.60" font-size="7.25" text-anchor="middle" stroke="#231f20">+2500</text>
<line x1="528.45" y1="13.30" x2="528.45" y2="66.30" stroke="#222" stroke-width="0.6" stroke-dasharray="1.6,1.1"/>
<path d="M495.10,62.13 L495.43,62.12 L495.77,62.10 L496.10,62.09 L496.43,62.08 L496.77,62.06 L497.10,62.05 L497.43,62.03 L497.77,62.02 L498.10,62.00 L498.44,61.98 L498.77,61.97 L499.10,61.95 L499.44,61.93 L499.77,61.91 L500.10,61.89 L500.44,61.87 L500.77,61.85 L501.10,61.83 L501.44,61.81 L501.77,61.78 L502.10,61.76 L502.44,61.74 L502.77,61.71 L503.10,61.68 L503.44,61.66 L503.77,61.63 L504.10,61.60 L504.44,61.57 L504.77,61.54 L505.11,61.50 L505.44,61.47 L505.77,61.43 L506.11,61.39 L506.44,61.35 L506.77,61.31 L507.11,61.27 L507.44,61.23 L507.77,61.18 L508.11,61.13 L508.44,61.08 L508.77,61.03 L509.11,60.97 L509.44,60.91 L509.77,60.85 L510.11,60.78 L510.44,60.72 L510.77,60.64 L511.11,60.57 L511.44,60.49 L511.77,60.40 L512.11,60.31 L512.44,60.22 L512.78,60.12 L513.11,60.01 L513.44,59.90 L513.78,59.78 L514.11,59.66 L514.44,59.52 L514.78,59.38 L515.11,59.22 L515.44,59.06 L515.78,58.88 L516.11,58.69 L516.44,58.49 L516.78,58.27 L517.11,58.04 L517.44,57.78 L517.78,57.50 L518.11,57.21 L518.45,56.88 L518.78,56.53 L519.11,56.14 L519.45,55.72 L519.78,55.25 L520.11,54.75 L520.45,54.18 L520.78,53.57 L521.11,52.88 L521.45,52.12 L521.78,51.27 L522.11,50.33 L522.45,49.28 L522.78,48.10 L523.11,46.78 L523.45,45.29 L523.78,43.63 L524.11,41.78 L524.45,39.71 L524.78,37.41 L525.12,34.89 L525.45,32.17 L525.78,29.28 L526.12,26.32 L526.45,23.40 L526.78,20.70 L527.12,18.44 L527.45,16.78 L527.78,15.83 L528.12,15.49 L528.45,15.45 L528.78,15.49 L529.12,15.83 L529.45,16.78 L529.78,18.44 L530.12,20.70 L530.45,23.40 L530.78,26.32 L531.12,29.28 L531.45,32.17 L531.78,34.89 L532.12,37.41 L532.45,39.71 L532.79,41.78 L533.12,43.63 L533.45,45.29 L533.79,46.78 L534.12,48.10 L534.45,49.28 L534.79,50.33 L535.12,51.27 L535.45,52.12 L535.79,52.88 L536.12,53.57 L536.45,54.18 L536.79,54.75 L537.12,55.25 L537.45,55.72 L537.79,56.14 L538.12,56.53 L538.45,56.88 L538.79,57.21 L539.12,57.50 L539.46,57.78 L539.79,58.04 L540.12,58.27 L540.46,58.49 L540.79,58.69 L541.12,58.88 L541.46,59.06 L541.79,59.22 L542.12,59.38 L542.46,59.52 L542.79,59.66 L543.12,59.78 L543.46,59.90 L543.79,60.01 L544.12,60.12 L544.46,60.22 L544.79,60.31 L545.12,60.40 L545.46,60.49 L545.79,60.57 L546.13,60.64 L546.46,60.72 L546.79,60.78 L547.13,60.85 L547.46,60.91 L547.79,60.97 L548.13,61.03 L548.46,61.08 L548.79,61.13 L549.13,61.18 L549.46,61.23 L549.79,61.27 L550.13,61.31 L550.46,61.35 L550.79,61.39 L551.13,61.43 L551.46,61.47 L551.79,61.50 L552.13,61.54 L552.46,61.57 L552.80,61.60 L553.13,61.63 L553.46,61.66 L553.80,61.68 L554.13,61.71 L554.46,61.74 L554.80,61.76 L555.13,61.78 L555.46,61.81 L555.80,61.83 L556.13,61.85 L556.46,61.87 L556.80,61.89 L557.13,61.91 L557.46,61.93 L557.80,61.95 L558.13,61.97 L558.46,61.98 L558.80,62.00 L559.13,62.02 L559.47,62.03 L559.80,62.05 L560.13,62.06 L560.47,62.08 L560.80,62.09 L561.13,62.10 L561.47,62.12 L561.80,62.13" fill="none" stroke="#e63a4f" stroke-width="1.25" stroke-linejoin="round"/>
<path d="M495.10,61.93 L495.43,61.92 L495.77,61.90 L496.10,61.88 L496.43,61.87 L496.77,61.85 L497.10,61.83 L497.43,61.81 L497.77,61.79 L498.10,61.77 L498.44,61.75 L498.77,61.73 L499.10,61.71 L499.44,61.68 L499.77,61.66 L500.10,61.64 L500.44,61.61 L500.77,61.58 L501.10,61.56 L501.44,61.53 L501.77,61.50 L502.10,61.47 L502.44,61.44 L502.77,61.41 L503.10,61.37 L503.44,61.34 L503.77,61.31 L504.10,61.27 L504.44,61.23 L504.77,61.19 L505.11,61.15 L505.44,61.11 L505.77,61.06 L506.11,61.01 L506.44,60.97 L506.77,60.92 L507.11,60.86 L507.44,60.81 L507.77,60.75 L508.11,60.69 L508.44,60.63 L508.77,60.56 L509.11,60.49 L509.44,60.42 L509.77,60.35 L510.11,60.27 L510.44,60.19 L510.77,60.10 L511.11,60.01 L511.44,59.91 L511.77,59.81 L512.11,59.71 L512.44,59.59 L512.78,59.48 L513.11,59.35 L513.44,59.22 L513.78,59.08 L514.11,58.93 L514.44,58.78 L514.78,58.61 L515.11,58.43 L515.44,58.24 L515.78,58.04 L516.11,57.83 L516.44,57.60 L516.78,57.36 L517.11,57.09 L517.44,56.81 L517.78,56.51 L518.11,56.19 L518.45,55.84 L518.78,55.47 L519.11,55.06 L519.45,54.63 L519.78,54.15 L520.11,53.64 L520.45,53.09 L520.78,52.49 L521.11,51.84 L521.45,51.13 L521.78,50.36 L522.11,49.53 L522.45,48.62 L522.78,47.64 L523.11,46.57 L523.45,45.42 L523.78,44.19 L524.11,42.87 L524.45,41.47 L524.78,40.01 L525.12,38.49 L525.45,36.94 L525.78,35.41 L526.12,33.93 L526.45,32.56 L526.78,31.37 L527.12,30.41 L527.45,29.74 L527.78,29.37 L528.12,29.24 L528.45,29.22 L528.78,29.24 L529.12,29.37 L529.45,29.74 L529.78,30.41 L530.12,31.37 L530.45,32.56 L530.78,33.93 L531.12,35.41 L531.45,36.94 L531.78,38.49 L532.12,40.01 L532.45,41.47 L532.79,42.87 L533.12,44.19 L533.45,45.42 L533.79,46.57 L534.12,47.64 L534.45,48.62 L534.79,49.53 L535.12,50.36 L535.45,51.13 L535.79,51.84 L536.12,52.49 L536.45,53.09 L536.79,53.64 L537.12,54.15 L537.45,54.63 L537.79,55.06 L538.12,55.47 L538.45,55.84 L538.79,56.19 L539.12,56.51 L539.46,56.81 L539.79,57.09 L540.12,57.36 L540.46,57.60 L540.79,57.83 L541.12,58.04 L541.46,58.24 L541.79,58.43 L542.12,58.61 L542.46,58.78 L542.79,58.93 L543.12,59.08 L543.46,59.22 L543.79,59.35 L544.12,59.48 L544.46,59.59 L544.79,59.71 L545.12,59.81 L545.46,59.91 L545.79,60.01 L546.13,60.10 L546.46,60.19 L546.79,60.27 L547.13,60.35 L547.46,60.42 L547.79,60.49 L548.13,60.56 L548.46,60.63 L548.79,60.69 L549.13,60.75 L549.46,60.81 L549.79,60.86 L550.13,60.92 L550.46,60.97 L550.79,61.01 L551.13,61.06 L551.46,61.11 L551.79,61.15 L552.13,61.19 L552.46,61.23 L552.80,61.27 L553.13,61.31 L553.46,61.34 L553.80,61.37 L554.13,61.41 L554.46,61.44 L554.80,61.47 L555.13,61.50 L555.46,61.53 L555.80,61.56 L556.13,61.58 L556.46,61.61 L556.80,61.64 L557.13,61.66 L557.46,61.68 L557.80,61.71 L558.13,61.73 L558.46,61.75 L558.80,61.77 L559.13,61.79 L559.47,61.81 L559.80,61.83 L560.13,61.85 L560.47,61.87 L560.80,61.88 L561.13,61.90 L561.47,61.92 L561.80,61.93" fill="none" stroke="#4f62c4" stroke-width="1.25" stroke-linejoin="round"/>
<text x="612.80" y="6.20" font-size="7.2" text-anchor="middle" font-weight="bold" stroke="#231f20">Cluster 4</text>
<line x1="579.40" y1="13.30" x2="579.40" y2="66.30" stroke="#555" stroke-width="0.7"/>
<line x1="579.40" y1="66.30" x2="646.20" y2="66.30" stroke="#555" stroke-width="0.7"/>
<line x1="577.40" y1="27.10" x2="579.40" y2="27.10" stroke="#555" stroke-width="0.6"/>
<text x="576.60" y="29.70" font-size="7.25" text-anchor="end" stroke="#231f20">60</text>
<line x1="577.40" y1="45.25" x2="579.40" y2="45.25" stroke="#555" stroke-width="0.6"/>
<text x="576.60" y="47.85" font-size="7.25" text-anchor="end" stroke="#231f20">40</text>
<line x1="577.40" y1="63.40" x2="579.40" y2="63.40" stroke="#555" stroke-width="0.6"/>
<text x="576.60" y="66.00" font-size="7.25" text-anchor="end" stroke="#231f20">20</text>
<line x1="579.40" y1="66.30" x2="579.40" y2="68.50" stroke="#555" stroke-width="0.6"/>
<line x1="612.80" y1="66.30" x2="612.80" y2="68.50" stroke="#555" stroke-width="0.6"/>
<line x1="646.20" y1="66.30" x2="646.20" y2="68.50" stroke="#555" stroke-width="0.6"/>
<text x="583.80" y="77.60" font-size="7.25" text-anchor="middle" stroke="#231f20">-2500</text>
<text x="612.80" y="77.50" font-size="7.25" text-anchor="middle" stroke="#231f20">Peak</text>
<text x="612.80" y="84.30" font-size="7.25" text-anchor="middle" stroke="#231f20">centre</text>
<text x="643.70" y="77.60" font-size="7.25" text-anchor="middle" stroke="#231f20">+2500</text>
<line x1="612.80" y1="13.30" x2="612.80" y2="66.30" stroke="#999" stroke-width="0.7" stroke-dasharray="1,1"/>
<path d="M579.40,63.51 L579.73,63.42 L580.07,63.33 L580.40,63.24 L580.74,63.14 L581.07,63.05 L581.40,62.95 L581.74,62.85 L582.07,62.75 L582.41,62.65 L582.74,62.54 L583.07,62.43 L583.41,62.33 L583.74,62.22 L584.08,62.10 L584.41,61.99 L584.74,61.87 L585.08,61.75 L585.41,61.63 L585.75,61.50 L586.08,61.37 L586.41,61.24 L586.75,61.11 L587.08,60.97 L587.42,60.83 L587.75,60.69 L588.08,60.55 L588.42,60.40 L588.75,60.25 L589.09,60.09 L589.42,59.93 L589.75,59.77 L590.09,59.60 L590.42,59.43 L590.76,59.26 L591.09,59.08 L591.42,58.90 L591.76,58.71 L592.09,58.52 L592.43,58.32 L592.76,58.11 L593.09,57.91 L593.43,57.69 L593.76,57.47 L594.10,57.25 L594.43,57.02 L594.76,56.78 L595.10,56.53 L595.43,56.28 L595.77,56.02 L596.10,55.75 L596.43,55.48 L596.77,55.20 L597.10,54.90 L597.44,54.60 L597.77,54.29 L598.10,53.97 L598.44,53.64 L598.77,53.30 L599.11,52.94 L599.44,52.58 L599.77,52.20 L600.11,51.81 L600.44,51.40 L600.78,50.98 L601.11,50.54 L601.44,50.09 L601.78,49.62 L602.11,49.13 L602.45,48.63 L602.78,48.10 L603.11,47.55 L603.45,46.98 L603.78,46.38 L604.12,45.76 L604.45,45.11 L604.78,44.44 L605.12,43.73 L605.45,42.99 L605.79,42.21 L606.12,41.40 L606.45,40.55 L606.79,39.66 L607.12,38.72 L607.46,37.73 L607.79,36.70 L608.12,35.61 L608.46,34.47 L608.79,33.26 L609.13,32.00 L609.46,30.67 L609.79,29.29 L610.13,27.84 L610.46,26.33 L610.80,24.78 L611.13,23.21 L611.46,21.66 L611.80,20.20 L612.13,18.96 L612.47,18.12 L612.80,17.84 L613.13,18.12 L613.47,18.96 L613.80,20.20 L614.14,21.66 L614.47,23.21 L614.80,24.78 L615.14,26.33 L615.47,27.84 L615.81,29.29 L616.14,30.67 L616.47,32.00 L616.81,33.26 L617.14,34.47 L617.48,35.61 L617.81,36.70 L618.14,37.73 L618.48,38.72 L618.81,39.66 L619.15,40.55 L619.48,41.40 L619.81,42.21 L620.15,42.99 L620.48,43.73 L620.82,44.44 L621.15,45.11 L621.48,45.76 L621.82,46.38 L622.15,46.98 L622.49,47.55 L622.82,48.10 L623.15,48.63 L623.49,49.13 L623.82,49.62 L624.16,50.09 L624.49,50.54 L624.82,50.98 L625.16,51.40 L625.49,51.81 L625.83,52.20 L626.16,52.58 L626.49,52.94 L626.83,53.30 L627.16,53.64 L627.50,53.97 L627.83,54.29 L628.16,54.60 L628.50,54.90 L628.83,55.20 L629.17,55.48 L629.50,55.75 L629.83,56.02 L630.17,56.28 L630.50,56.53 L630.84,56.78 L631.17,57.02 L631.50,57.25 L631.84,57.47 L632.17,57.69 L632.51,57.91 L632.84,58.11 L633.17,58.32 L633.51,58.52 L633.84,58.71 L634.18,58.90 L634.51,59.08 L634.84,59.26 L635.18,59.43 L635.51,59.60 L635.85,59.77 L636.18,59.93 L636.51,60.09 L636.85,60.25 L637.18,60.40 L637.52,60.55 L637.85,60.69 L638.18,60.83 L638.52,60.97 L638.85,61.11 L639.19,61.24 L639.52,61.37 L639.85,61.50 L640.19,61.63 L640.52,61.75 L640.86,61.87 L641.19,61.99 L641.52,62.10 L641.86,62.22 L642.19,62.33 L642.53,62.43 L642.86,62.54 L643.19,62.65 L643.53,62.75 L643.86,62.85 L644.20,62.95 L644.53,63.05 L644.86,63.14 L645.20,63.24 L645.53,63.33 L645.87,63.42 L646.20,63.51" fill="none" stroke="#e63a4f" stroke-width="1.25" stroke-linejoin="round"/>
<path d="M579.40,62.41 L579.73,62.31 L580.07,62.21 L580.40,62.10 L580.74,62.00 L581.07,61.89 L581.40,61.79 L581.74,61.68 L582.07,61.56 L582.41,61.45 L582.74,61.33 L583.07,61.22 L583.41,61.09 L583.74,60.97 L584.08,60.85 L584.41,60.72 L584.74,60.59 L585.08,60.45 L585.41,60.32 L585.75,60.18 L586.08,60.04 L586.41,59.89 L586.75,59.74 L587.08,59.59 L587.42,59.44 L587.75,59.28 L588.08,59.12 L588.42,58.96 L588.75,58.79 L589.09,58.61 L589.42,58.44 L589.75,58.26 L590.09,58.07 L590.42,57.88 L590.76,57.69 L591.09,57.49 L591.42,57.29 L591.76,57.08 L592.09,56.87 L592.43,56.65 L592.76,56.42 L593.09,56.19 L593.43,55.96 L593.76,55.71 L594.10,55.46 L594.43,55.21 L594.76,54.94 L595.10,54.67 L595.43,54.39 L595.77,54.10 L596.10,53.81 L596.43,53.50 L596.77,53.19 L597.10,52.87 L597.44,52.53 L597.77,52.19 L598.10,51.84 L598.44,51.47 L598.77,51.09 L599.11,50.70 L599.44,50.29 L599.77,49.88 L600.11,49.44 L600.44,49.00 L600.78,48.53 L601.11,48.05 L601.44,47.55 L601.78,47.03 L602.11,46.49 L602.45,45.93 L602.78,45.35 L603.11,44.75 L603.45,44.12 L603.78,43.46 L604.12,42.77 L604.45,42.06 L604.78,41.31 L605.12,40.53 L605.45,39.72 L605.79,38.87 L606.12,37.97 L606.45,37.04 L606.79,36.06 L607.12,35.03 L607.46,33.95 L607.79,32.81 L608.12,31.62 L608.46,30.36 L608.79,29.05 L609.13,27.66 L609.46,26.21 L609.79,24.69 L610.13,23.11 L610.46,21.46 L610.80,19.77 L611.13,18.06 L611.46,16.37 L611.80,14.78 L612.13,13.43 L612.47,12.52 L612.80,12.22 L613.13,12.52 L613.47,13.43 L613.80,14.78 L614.14,16.37 L614.47,18.06 L614.80,19.77 L615.14,21.46 L615.47,23.11 L615.81,24.69 L616.14,26.21 L616.47,27.66 L616.81,29.05 L617.14,30.36 L617.48,31.62 L617.81,32.81 L618.14,33.95 L618.48,35.03 L618.81,36.06 L619.15,37.04 L619.48,37.97 L619.81,38.87 L620.15,39.72 L620.48,40.53 L620.82,41.31 L621.15,42.06 L621.48,42.77 L621.82,43.46 L622.15,44.12 L622.49,44.75 L622.82,45.35 L623.15,45.93 L623.49,46.49 L623.82,47.03 L624.16,47.55 L624.49,48.05 L624.82,48.53 L625.16,49.00 L625.49,49.44 L625.83,49.88 L626.16,50.29 L626.49,50.70 L626.83,51.09 L627.16,51.47 L627.50,51.84 L627.83,52.19 L628.16,52.53 L628.50,52.87 L628.83,53.19 L629.17,53.50 L629.50,53.81 L629.83,54.10 L630.17,54.39 L630.50,54.67 L630.84,54.94 L631.17,55.21 L631.50,55.46 L631.84,55.71 L632.17,55.96 L632.51,56.19 L632.84,56.42 L633.17,56.65 L633.51,56.87 L633.84,57.08 L634.18,57.29 L634.51,57.49 L634.84,57.69 L635.18,57.88 L635.51,58.07 L635.85,58.26 L636.18,58.44 L636.51,58.61 L636.85,58.79 L637.18,58.96 L637.52,59.12 L637.85,59.28 L638.18,59.44 L638.52,59.59 L638.85,59.74 L639.19,59.89 L639.52,60.04 L639.85,60.18 L640.19,60.32 L640.52,60.45 L640.86,60.59 L641.19,60.72 L641.52,60.85 L641.86,60.97 L642.19,61.09 L642.53,61.22 L642.86,61.33 L643.19,61.45 L643.53,61.56 L643.86,61.68 L644.20,61.79 L644.53,61.89 L644.86,62.00 L645.20,62.10 L645.53,62.21 L645.87,62.31 L646.20,62.41" fill="none" stroke="#4f62c4" stroke-width="1.25" stroke-linejoin="round"/>
<text x="629.00" y="19.20" font-size="7.25" fill="#e63a4f" stroke="#e63a4f">WT</text>
<text x="629.00" y="26.60" font-size="7.25" fill="#4f62c4" stroke="#4f62c4"><tspan font-style="italic">ZIC2</tspan><tspan font-size="4.3" baseline-shift="2.9" stroke="none" font-style="normal">-/-</tspan><tspan font-style="italic">ZIC3</tspan><tspan font-size="4.3" baseline-shift="2.9" stroke="none" font-style="normal">-/-</tspan></text>
<text x="0.50" y="113.00" font-size="10" font-weight="bold" fill="#000" stroke="#000">b</text>
<text x="79.50" y="110.60" font-size="7.25" text-anchor="middle" stroke="#231f20">Top motifs enriched among regions with</text>
<text x="79.50" y="117.60" font-size="7.25" text-anchor="middle" stroke="#231f20">reduced accessibility in <tspan font-weight="bold" font-style="italic">ZIC2<tspan font-size="4.3" baseline-shift="2.9" stroke="none">-/-</tspan>ZIC3<tspan font-size="4.3" baseline-shift="2.9" stroke="none">-/-</tspan></tspan></text>
<line x1="10.00" y1="120.30" x2="144.80" y2="120.30" stroke="#555" stroke-width="0.8"/>
<text x="30.40" y="129.30" font-size="7.25" text-anchor="middle" stroke="#231f20"><tspan font-style="italic">CTCF</tspan></text>
<use href="#gG" fill="#f2a22e" transform="matrix(3.400 0 0 1.000 45.15 128.30)"/>
<use href="#gC" fill="#2f4fb8" transform="matrix(3.400 0 0 2.000 45.15 126.30)"/>
<use href="#gA" fill="#3ea34a" transform="matrix(3.400 0 0 4.000 45.15 122.30)"/>
<use href="#gT" fill="#e3322f" transform="matrix(3.400 0 0 4.200 48.85 125.10)"/>
<use href="#gG" fill="#f2a22e" transform="matrix(3.400 0 0 2.030 52.55 127.27)"/>
<use href="#gA" fill="#3ea34a" transform="matrix(3.400 0 0 4.060 52.55 123.21)"/>
<use href="#gG" fill="#f2a22e" transform="matrix(3.400 0 0 3.045 56.25 126.26)"/>
<use href="#gC" fill="#2f4fb8" transform="matrix(3.400 0 0 3.045 56.25 123.21)"/>
<use href="#gC" fill="#2f4fb8" transform="matrix(3.400 0 0 2.000 59.95 127.30)"/>
<use href="#gT" fill="#e3322f" transform="matrix(3.400 0 0 5.000 59.95 122.30)"/>
<use href="#gG" fill="#f2a22e" transform="matrix(3.400 0 0 7.000 63.65 122.30)"/>
<use href="#gC" fill="#2f4fb8" transform="matrix(3.400 0 0 7.000 67.35 122.30)"/>
<use href="#gC" fill="#2f4fb8" transform="matrix(3.400 0 0 7.000 71.05 122.30)"/>
<use href="#gG" fill="#f2a22e" transform="matrix(3.400 0 0 1.750 74.75 127.55)"/>
<use href="#gA" fill="#3ea34a" transform="matrix(3.400 0 0 5.250 74.75 122.30)"/>
<use href="#gC" fill="#2f4fb8" transform="matrix(3.400 0 0 1.556 78.45 127.74)"/>
<use href="#gG" fill="#f2a22e" transform="matrix(3.400 0 0 2.333 78.45 125.41)"/>
<use href="#gT" fill="#e3322f" transform="matrix(3.400 0 0 3.111 78.45 122.30)"/>
<use href="#gC" fill="#2f4fb8" transform="matrix(3.400 0 0 7.000 82.15 122.30)"/>
<use href="#gT" fill="#e3322f" transform="matrix(3.400 0 0 7.000 85.85 122.30)"/>
<use href="#gA" fill="#3ea34a" transform="matrix(3.400 0 0 3.000 89.55 126.30)"/>
<use href="#gG" fill="#f2a22e" transform="matrix(3.400 0 0 4.000 89.55 122.30)"/>
<use href="#gG" fill="#f2a22e" transform="matrix(3.400 0 0 3.000 93.25 126.30)"/>
<use href="#gT" fill="#e3322f" transform="matrix(3.400 0 0 4.000 93.25 122.30)"/>
<use href="#gT" fill="#e3322f" transform="matrix(3.400 0 0 7.000 96.95 122.30)"/>
<use href="#gG" fill="#f2a22e" transform="matrix(3.400 0 0 7.000 100.65 122.30)"/>
<use href="#gG" fill="#f2a22e" transform="matrix(3.400 0 0 7.000 104.35 122.30)"/>
<use href="#gT" fill="#e3322f" transform="matrix(3.400 0 0 2.625 108.05 126.68)"/>
<use href="#gC" fill="#2f4fb8" transform="matrix(3.400 0 0 4.375 108.05 122.30)"/>
<use href="#gG" fill="#f2a22e" transform="matrix(3.400 0 0 3.000 111.75 126.30)"/>
<use href="#gC" fill="#2f4fb8" transform="matrix(3.400 0 0 4.000 111.75 122.30)"/>
<use href="#gA" fill="#3ea34a" transform="matrix(3.400 0 0 5.600 115.45 123.70)"/>
<text x="30.40" y="138.20" font-size="7.25" text-anchor="middle" stroke="#231f20"><tspan font-style="italic">CTCFL</tspan></text>
<use href="#gG" fill="#f2a22e" transform="matrix(3.400 0 0 2.000 45.15 136.20)"/>
<use href="#gT" fill="#e3322f" transform="matrix(3.400 0 0 2.000 45.15 134.20)"/>
<use href="#gC" fill="#2f4fb8" transform="matrix(3.400 0 0 3.000 45.15 131.20)"/>
<use href="#gC" fill="#2f4fb8" transform="matrix(3.400 0 0 3.045 48.85 135.16)"/>
<use href="#gG" fill="#f2a22e" transform="matrix(3.400 0 0 3.045 48.85 132.11)"/>
<use href="#gG" fill="#f2a22e" transform="matrix(3.400 0 0 2.000 52.55 136.20)"/>
<use href="#gC" fill="#2f4fb8" transform="matrix(3.400 0 0 2.000 52.55 134.20)"/>
<use href="#gA" fill="#3ea34a" transform="matrix(3.400 0 0 3.000 52.55 131.20)"/>
<use href="#gA" fill="#3ea34a" transform="matrix(3.400 0 0 3.045 56.25 135.16)"/>
<use href="#gT" fill="#e3322f" transform="matrix(3.400 0 0 3.045 56.25 132.11)"/>
<use href="#gG" fill="#f2a22e" transform="matrix(3.400 0 0 3.045 59.95 135.16)"/>
<use href="#gA" fill="#3ea34a" transform="matrix(3.400 0 0 3.045 59.95 132.11)"/>
<use href="#gC" fill="#2f4fb8" transform="matrix(3.400 0 0 3.045 63.65 135.16)"/>
<use href="#gG" fill="#f2a22e" transform="matrix(3.400 0 0 3.045 63.65 132.11)"/>
<use href="#gC" fill="#2f4fb8" transform="matrix(3.400 0 0 3.000 67.35 135.20)"/>
<use href="#gT" fill="#e3322f" transform="matrix(3.400 0 0 4.000 67.35 131.20)"/>
<use href="#gG" fill="#f2a22e" transform="matrix(3.400 0 0 7.000 71.05 131.20)"/>
<use href="#gC" fill="#2f4fb8" transform="matrix(3.400 0 0 7.000 74.75 131.20)"/>
<use href="#gC" fill="#2f4fb8" transform="matrix(3.400 0 0 7.000 78.45 131.20)"/>
<use href="#gG" fill="#f2a22e" transform="matrix(3.400 0 0 3.000 82.15 135.20)"/>
<use href="#gC" fill="#2f4fb8" transform="matrix(3.400 0 0 4.000 82.15 131.20)"/>
<use href="#gC" fill="#2f4fb8" transform="matrix(3.400 0 0 3.000 85.85 135.20)"/>
<use href="#gT" fill="#e3322f" transform="matrix(3.400 0 0 4.000 85.85 131.20)"/>
<use href="#gC" fill="#2f4fb8" transform="matrix(3.400 0 0 7.000 89.55 131.20)"/>
<use href="#gT" fill="#e3322f" transform="matrix(3.400 0 0 7.000 93.25 131.20)"/>
<use href="#gT" fill="#e3322f" transform="matrix(3.400 0 0 1.750 96.95 136.45)"/>
<use href="#gA" fill="#3ea34a" transform="matrix(3.400 0 0 2.625 96.95 133.82)"/>
<use href="#gG" fill="#f2a22e" transform="matrix(3.400 0 0 2.625 96.95 131.20)"/>
<use href="#gG" fill="#f2a22e" transform="matrix(3.400 0 0 3.000 100.65 135.20)"/>
<use href="#gT" fill="#e3322f" transform="matrix(3.400 0 0 4.000 100.65 131.20)"/>
<use href="#gT" fill="#e3322f" transform="matrix(3.400 0 0 7.000 104.35 131.20)"/>
<use href="#gG" fill="#f2a22e" transform="matrix(3.400 0 0 7.000 108.05 131.20)"/>
<use href="#gG" fill="#f2a22e" transform="matrix(3.400 0 0 7.000 111.75 131.20)"/>
<use href="#gC" fill="#2f4fb8" transform="matrix(3.400 0 0 3.045 115.45 135.16)"/>
<use href="#gT" fill="#e3322f" transform="matrix(3.400 0 0 3.045 115.45 132.11)"/>
<text x="30.40" y="147.10" font-size="7.25" text-anchor="middle" font-weight="bold" fill="#c1272d" stroke="#c1272d"><tspan font-style="italic">ZIC3</tspan></text>
<use href="#gT" fill="#e3322f" transform="matrix(3.400 0 0 1.556 45.15 145.54)"/>
<use href="#gA" fill="#3ea34a" transform="matrix(3.400 0 0 2.333 45.15 143.21)"/>
<use href="#gG" fill="#f2a22e" transform="matrix(3.400 0 0 3.111 45.15 140.10)"/>
<use href="#gC" fill="#2f4fb8" transform="matrix(3.400 0 0 3.000 48.85 144.10)"/>
<use href="#gG" fill="#f2a22e" transform="matrix(3.400 0 0 4.000 48.85 140.10)"/>
<use href="#gG" fill="#f2a22e" transform="matrix(3.400 0 0 3.000 52.55 144.10)"/>
<use href="#gC" fill="#2f4fb8" transform="matrix(3.400 0 0 4.000 52.55 140.10)"/>
<use href="#gT" fill="#e3322f" transform="matrix(3.400 0 0 3.000 56.25 144.10)"/>
<use href="#gC" fill="#2f4fb8" transform="matrix(3.400 0 0 4.000 56.25 140.10)"/>
<use href="#gC" fill="#2f4fb8" transform="matrix(3.400 0 0 3.500 59.95 143.60)"/>
<use href="#gT" fill="#e3322f" transform="matrix(3.400 0 0 3.500 59.95 140.10)"/>
<use href="#gC" fill="#2f4fb8" transform="matrix(3.400 0 0 7.000 63.65 140.10)"/>
<use href="#gC" fill="#2f4fb8" transform="matrix(3.400 0 0 7.000 67.35 140.10)"/>
<use href="#gT" fill="#e3322f" transform="matrix(3.400 0 0 7.000 71.05 140.10)"/>
<use href="#gG" fill="#f2a22e" transform="matrix(3.400 0 0 7.000 74.75 140.10)"/>
<use href="#gC" fill="#2f4fb8" transform="matrix(3.400 0 0 7.000 78.45 140.10)"/>
<use href="#gT" fill="#e3322f" transform="matrix(3.400 0 0 7.000 82.15 140.10)"/>
<use href="#gG" fill="#f2a22e" transform="matrix(3.400 0 0 7.000 85.85 140.10)"/>
<use href="#gA" fill="#3ea34a" transform="matrix(3.400 0 0 1.556 89.55 145.54)"/>
<use href="#gG" fill="#f2a22e" transform="matrix(3.400 0 0 2.333 89.55 143.21)"/>
<use href="#gT" fill="#e3322f" transform="matrix(3.400 0 0 3.111 89.55 140.10)"/>
<use href="#gG" fill="#f2a22e" transform="matrix(3.400 0 0 7.000 93.25 140.10)"/>
<use href="#gG" fill="#f2a22e" transform="matrix(3.400 0 0 1.556 96.95 145.54)"/>
<use href="#gA" fill="#3ea34a" transform="matrix(3.400 0 0 2.333 96.95 143.21)"/>
<use href="#gC" fill="#2f4fb8" transform="matrix(3.400 0 0 3.111 96.95 140.10)"/>
<text x="30.40" y="156.00" font-size="7.25" text-anchor="middle" font-weight="bold" fill="#c1272d" stroke="#c1272d"><tspan font-style="italic">ZIC2</tspan></text>
<use href="#gC" fill="#2f4fb8" transform="matrix(3.400 0 0 7.000 45.15 149.00)"/>
<use href="#gA" fill="#3ea34a" transform="matrix(3.400 0 0 3.500 48.85 152.50)"/>
<use href="#gT" fill="#e3322f" transform="matrix(3.400 0 0 3.500 48.85 149.00)"/>
<use href="#gC" fill="#2f4fb8" transform="matrix(3.400 0 0 7.000 52.55 149.00)"/>
<use href="#gA" fill="#3ea34a" transform="matrix(3.400 0 0 7.000 56.25 149.00)"/>
<use href="#gG" fill="#f2a22e" transform="matrix(3.400 0 0 7.000 59.95 149.00)"/>
<use href="#gC" fill="#2f4fb8" transform="matrix(3.400 0 0 7.000 63.65 149.00)"/>
<use href="#gG" fill="#f2a22e" transform="matrix(3.400 0 0 2.333 67.35 153.67)"/>
<use href="#gA" fill="#3ea34a" transform="matrix(3.400 0 0 4.667 67.35 149.00)"/>
<use href="#gG" fill="#f2a22e" transform="matrix(3.400 0 0 7.000 71.05 149.00)"/>
<use href="#gG" fill="#f2a22e" transform="matrix(3.400 0 0 7.000 74.75 149.00)"/>
<use href="#gA" fill="#3ea34a" transform="matrix(3.400 0 0 2.000 78.45 154.00)"/>
<use href="#gC" fill="#2f4fb8" transform="matrix(3.400 0 0 2.000 78.45 152.00)"/>
<use href="#gG" fill="#f2a22e" transform="matrix(3.400 0 0 3.000 78.45 149.00)"/>
<use href="#gA" fill="#3ea34a" transform="matrix(3.400 0 0 2.000 82.15 154.00)"/>
<use href="#gC" fill="#2f4fb8" transform="matrix(3.400 0 0 2.000 82.15 152.00)"/>
<use href="#gG" fill="#f2a22e" transform="matrix(3.400 0 0 3.000 82.15 149.00)"/>
<use href="#gA" fill="#3ea34a" transform="matrix(3.400 0 0 2.030 85.85 153.97)"/>
<use href="#gG" fill="#f2a22e" transform="matrix(3.400 0 0 3.045 85.85 150.93)"/>
<text x="30.40" y="164.80" font-size="7.25" text-anchor="middle" stroke="#231f20"><tspan font-style="italic">NANOG</tspan></text>
<use href="#gC" fill="#2f4fb8" transform="matrix(3.400 0 0 7.000 45.15 157.80)"/>
<use href="#gA" fill="#3ea34a" transform="matrix(3.400 0 0 3.500 48.85 161.30)"/>
<use href="#gT" fill="#e3322f" transform="matrix(3.400 0 0 3.500 48.85 157.80)"/>
<use href="#gC" fill="#2f4fb8" transform="matrix(3.400 0 0 7.000 52.55 157.80)"/>
<use href="#gA" fill="#3ea34a" transform="matrix(3.400 0 0 7.000 56.25 157.80)"/>
<use href="#gG" fill="#f2a22e" transform="matrix(3.400 0 0 7.000 59.95 157.80)"/>
<use href="#gC" fill="#2f4fb8" transform="matrix(3.400 0 0 7.000 63.65 157.80)"/>
<use href="#gG" fill="#f2a22e" transform="matrix(3.400 0 0 2.333 67.35 162.47)"/>
<use href="#gA" fill="#3ea34a" transform="matrix(3.400 0 0 4.667 67.35 157.80)"/>
<use href="#gG" fill="#f2a22e" transform="matrix(3.400 0 0 7.000 71.05 157.80)"/>
<use href="#gG" fill="#f2a22e" transform="matrix(3.400 0 0 7.000 74.75 157.80)"/>
<use href="#gA" fill="#3ea34a" transform="matrix(3.400 0 0 2.000 78.45 162.80)"/>
<use href="#gC" fill="#2f4fb8" transform="matrix(3.400 0 0 2.000 78.45 160.80)"/>
<use href="#gG" fill="#f2a22e" transform="matrix(3.400 0 0 3.000 78.45 157.80)"/>
<use href="#gA" fill="#3ea34a" transform="matrix(3.400 0 0 2.000 82.15 162.80)"/>
<use href="#gC" fill="#2f4fb8" transform="matrix(3.400 0 0 2.000 82.15 160.80)"/>
<use href="#gG" fill="#f2a22e" transform="matrix(3.400 0 0 3.000 82.15 157.80)"/>
<use href="#gA" fill="#3ea34a" transform="matrix(3.400 0 0 2.030 85.85 162.77)"/>
<use href="#gG" fill="#f2a22e" transform="matrix(3.400 0 0 3.045 85.85 159.73)"/>
<text x="160.70" y="110.50" font-size="7.25" text-anchor="middle" stroke="#231f20">%</text>
<text x="160.70" y="117.50" font-size="7.25" text-anchor="middle" stroke="#231f20">Targets</text>
<text x="195.70" y="110.50" font-size="7.25" text-anchor="middle" stroke="#231f20">%</text>
<text x="195.70" y="117.50" font-size="7.25" text-anchor="middle" stroke="#231f20">Background</text>
<text x="236.50" y="110.50" font-size="7.25" text-anchor="middle" stroke="#231f20">Fold</text>
<text x="236.50" y="117.50" font-size="7.25" text-anchor="middle" stroke="#231f20">enrichment</text>
<text x="266.80" y="110.50" font-size="7.25" text-anchor="middle" stroke="#231f20"><tspan font-style="italic">P</tspan></text>
<text x="266.80" y="117.50" font-size="7.25" text-anchor="middle" stroke="#231f20">value</text>
<text x="169.80" y="129.30" font-size="7.25" text-anchor="end" stroke="#231f20">19.87</text>
<text x="205.50" y="129.30" font-size="7.25" text-anchor="end" stroke="#231f20">6.05</text>
<text x="237.40" y="129.30" font-size="7.25" text-anchor="middle" stroke="#231f20">3.28</text>
<text x="261.20" y="129.30" font-size="7.25" stroke="#231f20">10<tspan font-size="4.0" baseline-shift="2.6" stroke="none" font-style="normal">-52</tspan></text>
<text x="169.80" y="138.20" font-size="7.25" text-anchor="end" stroke="#231f20">27.54</text>
<text x="205.50" y="138.20" font-size="7.25" text-anchor="end" stroke="#231f20">12.22</text>
<text x="237.40" y="138.20" font-size="7.25" text-anchor="middle" stroke="#231f20">2.25</text>
<text x="261.20" y="138.20" font-size="7.25" stroke="#231f20">10<tspan font-size="4.0" baseline-shift="2.6" stroke="none" font-style="normal">-41</tspan></text>
<text x="169.80" y="147.00" font-size="7.25" text-anchor="end" stroke="#231f20">54.53</text>
<text x="205.50" y="147.00" font-size="7.25" text-anchor="end" stroke="#231f20">35.50</text>
<text x="237.40" y="147.00" font-size="7.25" text-anchor="middle" stroke="#231f20">1.54</text>
<text x="261.20" y="147.00" font-size="7.25" stroke="#231f20">10<tspan font-size="4.0" baseline-shift="2.6" stroke="none" font-style="normal">-36</tspan></text>
<text x="169.80" y="156.00" font-size="7.25" text-anchor="end" stroke="#231f20">45.19</text>
<text x="205.50" y="156.00" font-size="7.25" text-anchor="end" stroke="#231f20">28.37</text>
<text x="237.40" y="156.00" font-size="7.25" text-anchor="middle" stroke="#231f20">1.59</text>
<text x="261.20" y="156.00" font-size="7.25" stroke="#231f20">10<tspan font-size="4.0" baseline-shift="2.6" stroke="none" font-style="normal">-31</tspan></text>
<text x="169.80" y="164.90" font-size="7.25" text-anchor="end" stroke="#231f20">45.75</text>
<text x="205.50" y="164.90" font-size="7.25" text-anchor="end" stroke="#231f20">31.56</text>
<text x="237.40" y="164.90" font-size="7.25" text-anchor="middle" stroke="#231f20">1.45</text>
<text x="261.20" y="164.90" font-size="7.25" stroke="#231f20">10<tspan font-size="4.0" baseline-shift="2.6" stroke="none" font-style="normal">-21</tspan></text>
<text x="79.50" y="182.40" font-size="7.25" text-anchor="middle" stroke="#231f20">Top motifs enriched among regions with</text>
<text x="79.50" y="189.70" font-size="7.25" text-anchor="middle" stroke="#231f20">reduced accessibility in <tspan font-weight="bold" font-style="italic">ZIC2<tspan font-size="4.3" baseline-shift="2.9" stroke="none">-/-</tspan>ZIC3<tspan font-size="4.3" baseline-shift="2.9" stroke="none">-/-</tspan>ZIC5<tspan font-size="4.3" baseline-shift="2.9" stroke="none">-/-</tspan></tspan></text>
<line x1="9.50" y1="192.60" x2="146.50" y2="192.60" stroke="#555" stroke-width="0.8"/>
<text x="29.30" y="202.70" font-size="7.25" text-anchor="middle" font-weight="bold" fill="#c1272d" stroke="#c1272d"><tspan font-style="italic">ZIC3</tspan></text>
<use href="#gT" fill="#e3322f" transform="matrix(3.400 0 0 1.556 50.05 201.14)"/>
<use href="#gA" fill="#3ea34a" transform="matrix(3.400 0 0 2.333 50.05 198.81)"/>
<use href="#gG" fill="#f2a22e" transform="matrix(3.400 0 0 3.111 50.05 195.70)"/>
<use href="#gC" fill="#2f4fb8" transform="matrix(3.400 0 0 3.000 53.75 199.70)"/>
<use href="#gG" fill="#f2a22e" transform="matrix(3.400 0 0 4.000 53.75 195.70)"/>
<use href="#gG" fill="#f2a22e" transform="matrix(3.400 0 0 3.000 57.45 199.70)"/>
<use href="#gC" fill="#2f4fb8" transform="matrix(3.400 0 0 4.000 57.45 195.70)"/>
<use href="#gT" fill="#e3322f" transform="matrix(3.400 0 0 3.000 61.15 199.70)"/>
<use href="#gC" fill="#2f4fb8" transform="matrix(3.400 0 0 4.000 61.15 195.70)"/>
<use href="#gC" fill="#2f4fb8" transform="matrix(3.400 0 0 3.500 64.85 199.20)"/>
<use href="#gT" fill="#e3322f" transform="matrix(3.400 0 0 3.500 64.85 195.70)"/>
<use href="#gC" fill="#2f4fb8" transform="matrix(3.400 0 0 7.000 68.55 195.70)"/>
<use href="#gC" fill="#2f4fb8" transform="matrix(3.400 0 0 7.000 72.25 195.70)"/>
<use href="#gT" fill="#e3322f" transform="matrix(3.400 0 0 7.000 75.95 195.70)"/>
<use href="#gG" fill="#f2a22e" transform="matrix(3.400 0 0 7.000 79.65 195.70)"/>
<use href="#gC" fill="#2f4fb8" transform="matrix(3.400 0 0 7.000 83.35 195.70)"/>
<use href="#gT" fill="#e3322f" transform="matrix(3.400 0 0 7.000 87.05 195.70)"/>
<use href="#gG" fill="#f2a22e" transform="matrix(3.400 0 0 7.000 90.75 195.70)"/>
<use href="#gA" fill="#3ea34a" transform="matrix(3.400 0 0 1.556 94.45 201.14)"/>
<use href="#gG" fill="#f2a22e" transform="matrix(3.400 0 0 2.333 94.45 198.81)"/>
<use href="#gT" fill="#e3322f" transform="matrix(3.400 0 0 3.111 94.45 195.70)"/>
<use href="#gG" fill="#f2a22e" transform="matrix(3.400 0 0 7.000 98.15 195.70)"/>
<use href="#gA" fill="#3ea34a" transform="matrix(3.400 0 0 1.556 101.85 201.14)"/>
<use href="#gG" fill="#f2a22e" transform="matrix(3.400 0 0 2.333 101.85 198.81)"/>
<use href="#gC" fill="#2f4fb8" transform="matrix(3.400 0 0 3.111 101.85 195.70)"/>
<text x="29.30" y="211.60" font-size="7.25" text-anchor="middle" stroke="#231f20"><tspan font-style="italic">NANOG</tspan></text>
<use href="#gC" fill="#2f4fb8" transform="matrix(3.400 0 0 7.000 50.05 204.60)"/>
<use href="#gA" fill="#3ea34a" transform="matrix(3.400 0 0 3.500 53.75 208.10)"/>
<use href="#gT" fill="#e3322f" transform="matrix(3.400 0 0 3.500 53.75 204.60)"/>
<use href="#gC" fill="#2f4fb8" transform="matrix(3.400 0 0 7.000 57.45 204.60)"/>
<use href="#gA" fill="#3ea34a" transform="matrix(3.400 0 0 7.000 61.15 204.60)"/>
<use href="#gG" fill="#f2a22e" transform="matrix(3.400 0 0 7.000 64.85 204.60)"/>
<use href="#gC" fill="#2f4fb8" transform="matrix(3.400 0 0 7.000 68.55 204.60)"/>
<use href="#gG" fill="#f2a22e" transform="matrix(3.400 0 0 2.333 72.25 209.27)"/>
<use href="#gA" fill="#3ea34a" transform="matrix(3.400 0 0 4.667 72.25 204.60)"/>
<use href="#gG" fill="#f2a22e" transform="matrix(3.400 0 0 7.000 75.95 204.60)"/>
<use href="#gG" fill="#f2a22e" transform="matrix(3.400 0 0 7.000 79.65 204.60)"/>
<use href="#gA" fill="#3ea34a" transform="matrix(3.400 0 0 2.000 83.35 209.60)"/>
<use href="#gC" fill="#2f4fb8" transform="matrix(3.400 0 0 2.000 83.35 207.60)"/>
<use href="#gG" fill="#f2a22e" transform="matrix(3.400 0 0 3.000 83.35 204.60)"/>
<use href="#gA" fill="#3ea34a" transform="matrix(3.400 0 0 2.000 87.05 209.60)"/>
<use href="#gC" fill="#2f4fb8" transform="matrix(3.400 0 0 2.000 87.05 207.60)"/>
<use href="#gG" fill="#f2a22e" transform="matrix(3.400 0 0 3.000 87.05 204.60)"/>
<use href="#gA" fill="#3ea34a" transform="matrix(3.400 0 0 2.030 90.75 209.57)"/>
<use href="#gG" fill="#f2a22e" transform="matrix(3.400 0 0 3.045 90.75 206.53)"/>
<text x="29.30" y="220.20" font-size="7.25" text-anchor="middle" stroke="#231f20"><tspan font-style="italic">TEADx</tspan></text>
<use href="#gA" fill="#3ea34a" transform="matrix(3.400 0 0 1.750 50.05 218.45)"/>
<use href="#gG" fill="#f2a22e" transform="matrix(3.400 0 0 2.625 50.05 215.82)"/>
<use href="#gC" fill="#2f4fb8" transform="matrix(3.400 0 0 2.625 50.05 213.20)"/>
<use href="#gA" fill="#3ea34a" transform="matrix(3.400 0 0 1.750 53.75 218.45)"/>
<use href="#gC" fill="#2f4fb8" transform="matrix(3.400 0 0 2.625 53.75 215.82)"/>
<use href="#gT" fill="#e3322f" transform="matrix(3.400 0 0 2.625 53.75 213.20)"/>
<use href="#gT" fill="#e3322f" transform="matrix(3.400 0 0 7.000 57.45 213.20)"/>
<use href="#gG" fill="#f2a22e" transform="matrix(3.400 0 0 7.000 61.15 213.20)"/>
<use href="#gG" fill="#f2a22e" transform="matrix(3.400 0 0 7.000 64.85 213.20)"/>
<use href="#gA" fill="#3ea34a" transform="matrix(3.400 0 0 7.000 68.55 213.20)"/>
<use href="#gA" fill="#3ea34a" transform="matrix(3.400 0 0 7.000 72.25 213.20)"/>
<use href="#gT" fill="#e3322f" transform="matrix(3.400 0 0 7.000 75.95 213.20)"/>
<use href="#gG" fill="#f2a22e" transform="matrix(3.400 0 0 3.000 79.65 217.20)"/>
<use href="#gT" fill="#e3322f" transform="matrix(3.400 0 0 4.000 79.65 213.20)"/>
<use href="#gT" fill="#e3322f" transform="matrix(3.400 0 0 3.000 83.35 217.20)"/>
<use href="#gC" fill="#2f4fb8" transform="matrix(3.400 0 0 4.000 83.35 213.20)"/>
<text x="29.30" y="229.00" font-size="7.25" text-anchor="middle" stroke="#231f20"><tspan font-style="italic">TEAD1</tspan></text>
<use href="#gG" fill="#f2a22e" transform="matrix(3.400 0 0 3.000 50.05 226.00)"/>
<use href="#gC" fill="#2f4fb8" transform="matrix(3.400 0 0 4.000 50.05 222.00)"/>
<use href="#gG" fill="#f2a22e" transform="matrix(3.400 0 0 1.750 53.75 227.25)"/>
<use href="#gA" fill="#3ea34a" transform="matrix(3.400 0 0 2.625 53.75 224.62)"/>
<use href="#gT" fill="#e3322f" transform="matrix(3.400 0 0 2.625 53.75 222.00)"/>
<use href="#gG" fill="#f2a22e" transform="matrix(3.400 0 0 3.000 57.45 226.00)"/>
<use href="#gA" fill="#3ea34a" transform="matrix(3.400 0 0 4.000 57.45 222.00)"/>
<use href="#gC" fill="#2f4fb8" transform="matrix(3.400 0 0 7.000 61.15 222.00)"/>
<use href="#gA" fill="#3ea34a" transform="matrix(3.400 0 0 7.000 64.85 222.00)"/>
<use href="#gT" fill="#e3322f" transform="matrix(3.400 0 0 7.000 68.55 222.00)"/>
<use href="#gT" fill="#e3322f" transform="matrix(3.400 0 0 7.000 72.25 222.00)"/>
<use href="#gC" fill="#2f4fb8" transform="matrix(3.400 0 0 7.000 75.95 222.00)"/>
<use href="#gC" fill="#2f4fb8" transform="matrix(3.400 0 0 7.000 79.65 222.00)"/>
<use href="#gA" fill="#3ea34a" transform="matrix(3.400 0 0 5.600 83.35 223.40)"/>
<text x="29.30" y="237.60" font-size="7.25" text-anchor="middle" font-weight="bold" fill="#c1272d" stroke="#c1272d"><tspan font-style="italic">ZIC2</tspan></text>
<use href="#gC" fill="#2f4fb8" transform="matrix(3.400 0 0 7.000 50.05 230.60)"/>
<use href="#gA" fill="#3ea34a" transform="matrix(3.400 0 0 3.500 53.75 234.10)"/>
<use href="#gT" fill="#e3322f" transform="matrix(3.400 0 0 3.500 53.75 230.60)"/>
<use href="#gC" fill="#2f4fb8" transform="matrix(3.400 0 0 7.000 57.45 230.60)"/>
<use href="#gA" fill="#3ea34a" transform="matrix(3.400 0 0 7.000 61.15 230.60)"/>
<use href="#gG" fill="#f2a22e" transform="matrix(3.400 0 0 7.000 64.85 230.60)"/>
<use href="#gC" fill="#2f4fb8" transform="matrix(3.400 0 0 7.000 68.55 230.60)"/>
<use href="#gG" fill="#f2a22e" transform="matrix(3.400 0 0 2.333 72.25 235.27)"/>
<use href="#gA" fill="#3ea34a" transform="matrix(3.400 0 0 4.667 72.25 230.60)"/>
<use href="#gG" fill="#f2a22e" transform="matrix(3.400 0 0 7.000 75.95 230.60)"/>
<use href="#gG" fill="#f2a22e" transform="matrix(3.400 0 0 7.000 79.65 230.60)"/>
<use href="#gA" fill="#3ea34a" transform="matrix(3.400 0 0 2.000 83.35 235.60)"/>
<use href="#gC" fill="#2f4fb8" transform="matrix(3.400 0 0 2.000 83.35 233.60)"/>
<use href="#gG" fill="#f2a22e" transform="matrix(3.400 0 0 3.000 83.35 230.60)"/>
<use href="#gA" fill="#3ea34a" transform="matrix(3.400 0 0 2.000 87.05 235.60)"/>
<use href="#gC" fill="#2f4fb8" transform="matrix(3.400 0 0 2.000 87.05 233.60)"/>
<use href="#gG" fill="#f2a22e" transform="matrix(3.400 0 0 3.000 87.05 230.60)"/>
<use href="#gA" fill="#3ea34a" transform="matrix(3.400 0 0 2.030 90.75 235.57)"/>
<use href="#gG" fill="#f2a22e" transform="matrix(3.400 0 0 3.045 90.75 232.53)"/>
<text x="160.70" y="183.40" font-size="7.25" text-anchor="middle" stroke="#231f20">%</text>
<text x="160.70" y="189.60" font-size="7.25" text-anchor="middle" stroke="#231f20">Targets</text>
<text x="195.70" y="183.40" font-size="7.25" text-anchor="middle" stroke="#231f20">%</text>
<text x="195.70" y="189.60" font-size="7.25" text-anchor="middle" stroke="#231f20">Background</text>
<text x="236.50" y="183.40" font-size="7.25" text-anchor="middle" stroke="#231f20">Fold</text>
<text x="236.50" y="189.60" font-size="7.25" text-anchor="middle" stroke="#231f20">enrichment</text>
<text x="266.80" y="183.40" font-size="7.25" text-anchor="middle" stroke="#231f20"><tspan font-style="italic">P</tspan></text>
<text x="266.80" y="189.60" font-size="7.25" text-anchor="middle" stroke="#231f20">value</text>
<text x="169.80" y="200.60" font-size="7.25" text-anchor="end" stroke="#231f20">47.79</text>
<text x="205.50" y="200.60" font-size="7.25" text-anchor="end" stroke="#231f20">31.58</text>
<text x="237.40" y="200.60" font-size="7.25" text-anchor="middle" stroke="#231f20">1.51</text>
<text x="261.20" y="200.60" font-size="7.25" stroke="#231f20">10<tspan font-size="4.0" baseline-shift="2.6" stroke="none" font-style="normal">-30</tspan></text>
<text x="169.80" y="209.40" font-size="7.25" text-anchor="end" stroke="#231f20">43.46</text>
<text x="205.50" y="209.40" font-size="7.25" text-anchor="end" stroke="#231f20">29.05</text>
<text x="237.40" y="209.40" font-size="7.25" text-anchor="middle" stroke="#231f20">1.50</text>
<text x="261.20" y="209.40" font-size="7.25" stroke="#231f20">10<tspan font-size="4.0" baseline-shift="2.6" stroke="none" font-style="normal">-25</tspan></text>
<text x="169.80" y="218.10" font-size="7.25" text-anchor="end" stroke="#231f20">34.55</text>
<text x="205.50" y="218.10" font-size="7.25" text-anchor="end" stroke="#231f20">22.02</text>
<text x="237.40" y="218.10" font-size="7.25" text-anchor="middle" stroke="#231f20">1.57</text>
<text x="261.20" y="218.10" font-size="7.25" stroke="#231f20">10<tspan font-size="4.0" baseline-shift="2.6" stroke="none" font-style="normal">-22</tspan></text>
<text x="169.80" y="226.90" font-size="7.25" text-anchor="end" stroke="#231f20">45.76</text>
<text x="205.50" y="226.90" font-size="7.25" text-anchor="end" stroke="#231f20">32.19</text>
<text x="237.40" y="226.90" font-size="7.25" text-anchor="middle" stroke="#231f20">1.42</text>
<text x="261.20" y="226.90" font-size="7.25" stroke="#231f20">10<tspan font-size="4.0" baseline-shift="2.6" stroke="none" font-style="normal">-21</tspan></text>
<text x="169.80" y="235.80" font-size="7.25" text-anchor="end" stroke="#231f20">37.86</text>
<text x="205.50" y="235.80" font-size="7.25" text-anchor="end" stroke="#231f20">25.14</text>
<text x="237.40" y="235.80" font-size="7.25" text-anchor="middle" stroke="#231f20">1.51</text>
<text x="261.20" y="235.80" font-size="7.25" stroke="#231f20">10<tspan font-size="4.0" baseline-shift="2.6" stroke="none" font-style="normal">-21</tspan></text>
<text x="287.00" y="100.10" font-size="10" font-weight="bold" fill="#000" stroke="#000">e</text>
<text x="392.00" y="100.20" font-size="7.25" fill="#e8404f" stroke="#e8404f">WT</text>
<text x="392.00" y="107.90" font-size="7.25" fill="#3e98b3" stroke="#3e98b3"><tspan font-style="italic">ZIC2</tspan><tspan font-size="4.3" baseline-shift="2.9" stroke="none" font-style="normal">-/-</tspan><tspan font-style="italic">ZIC3</tspan><tspan font-size="4.3" baseline-shift="2.9" stroke="none" font-style="normal">-/-</tspan></text>
<path d="M325.80,148.30 L325.80,148.30 L326.20,148.30 L326.60,148.30 L327.01,148.30 L327.41,148.30 L327.81,148.30 L328.21,148.30 L328.62,148.30 L329.02,148.30 L329.42,148.30 L329.82,148.30 L330.23,148.23 L330.63,148.03 L331.03,147.73 L331.43,147.34 L331.83,146.88 L332.24,146.36 L332.64,145.78 L333.04,144.87 L333.44,143.61 L333.85,142.10 L334.25,140.42 L334.65,138.66 L335.05,136.79 L335.46,134.53 L335.86,132.01 L336.26,129.41 L336.66,126.90 L337.06,124.66 L337.47,122.57 L337.87,120.55 L338.27,118.62 L338.67,116.83 L339.08,115.20 L339.48,113.58 L339.88,112.10 L340.28,111.01 L340.69,110.38 L341.09,109.88 L341.49,109.61 L341.89,109.62 L342.29,109.72 L342.70,109.86 L343.10,110.09 L343.50,110.51 L343.90,111.11 L344.31,112.13 L344.71,113.63 L345.11,115.24 L345.51,117.02 L345.92,119.04 L346.32,121.05 L346.72,122.78 L347.12,124.07 L347.53,125.18 L347.93,126.15 L348.33,126.96 L348.73,127.59 L349.13,128.11 L349.54,128.55 L349.94,128.94 L350.34,129.30 L350.74,129.66 L351.15,130.03 L351.55,130.45 L351.95,130.90 L352.35,131.36 L352.76,131.84 L353.16,132.31 L353.56,132.79 L353.96,133.28 L354.36,133.75 L354.77,134.23 L355.17,134.70 L355.57,135.16 L355.97,135.62 L356.38,136.08 L356.78,136.53 L357.18,136.99 L357.58,137.45 L357.99,137.91 L358.39,138.37 L358.79,138.84 L359.19,139.33 L359.59,139.82 L360.00,140.32 L360.40,140.80 L360.80,141.27 L361.20,141.70 L361.61,142.10 L362.01,142.49 L362.41,142.86 L362.81,143.22 L363.22,143.55 L363.62,143.87 L364.02,144.16 L364.42,144.41 L364.82,144.65 L365.23,144.88 L365.63,145.11 L366.03,145.32 L366.43,145.52 L366.84,145.71 L367.24,145.89 L367.64,146.06 L368.04,146.21 L368.45,146.34 L368.85,146.46 L369.25,146.56 L369.65,146.66 L370.05,146.76 L370.46,146.85 L370.86,146.94 L371.26,147.02 L371.66,147.11 L372.07,147.18 L372.47,147.26 L372.87,147.32 L373.27,147.39 L373.68,147.45 L374.08,147.50 L374.48,147.55 L374.88,147.60 L375.28,147.64 L375.69,147.67 L376.09,147.70 L376.49,147.72 L376.89,147.75 L377.30,147.77 L377.70,147.80 L378.10,147.82 L378.50,147.84 L378.91,147.86 L379.31,147.89 L379.71,147.91 L380.11,147.93 L380.52,147.95 L380.92,147.96 L381.32,147.98 L381.72,148.00 L382.12,148.02 L382.53,148.03 L382.93,148.05 L383.33,148.06 L383.73,148.08 L384.14,148.09 L384.54,148.10 L384.94,148.11 L385.34,148.12 L385.75,148.13 L386.15,148.14 L386.55,148.15 L386.95,148.16 L387.35,148.17 L387.76,148.18 L388.16,148.18 L388.56,148.19 L388.96,148.19 L389.37,148.20 L389.77,148.20 L390.17,148.20 L390.57,148.20 L390.98,148.21 L391.38,148.21 L391.78,148.21 L392.18,148.21 L392.58,148.21 L392.99,148.22 L393.39,148.22 L393.79,148.22 L394.19,148.22 L394.60,148.22 L395.00,148.23 L395.40,148.23 L395.80,148.23 L396.21,148.23 L396.61,148.23 L397.01,148.23 L397.41,148.24 L397.81,148.24 L398.22,148.24 L398.62,148.24 L399.02,148.24 L399.42,148.24 L399.83,148.25 L400.23,148.25 L400.63,148.25 L401.03,148.25 L401.44,148.25 L401.84,148.25 L402.24,148.25 L402.64,148.26 L403.04,148.26 L403.45,148.26 L403.85,148.26 L404.25,148.26 L404.65,148.26 L405.06,148.26 L405.46,148.26 L405.86,148.27 L406.26,148.27 L406.67,148.27 L407.07,148.27 L407.47,148.27 L407.87,148.27 L408.27,148.27 L408.68,148.27 L409.08,148.27 L409.48,148.28 L409.88,148.28 L410.29,148.28 L410.69,148.28 L411.09,148.28 L411.49,148.28 L411.90,148.28 L412.30,148.28 L412.70,148.28 L413.10,148.28 L413.51,148.28 L413.91,148.29 L414.31,148.29 L414.71,148.29 L415.11,148.29 L415.52,148.29 L415.92,148.29 L416.32,148.29 L416.72,148.29 L417.13,148.29 L417.53,148.29 L417.93,148.29 L418.33,148.29 L418.74,148.29 L419.14,148.29 L419.54,148.29 L419.94,148.29 L420.34,148.29 L420.75,148.30 L421.15,148.30 L421.55,148.30 L421.95,148.30 L422.36,148.30 L422.76,148.30 L423.16,148.30 L423.56,148.30 L423.97,148.30 L424.37,148.30 L424.77,148.30 L425.17,148.30 L425.57,148.30 L425.98,148.30 L426.38,148.30 L426.78,148.30 L427.18,148.30 L427.59,148.30 L427.99,148.30 L428.39,148.30 L428.79,148.30 L429.20,148.30 L429.60,148.30 L430.00,148.30 L430.00,148.30Z" fill="#df5560"/>
<path d="M325.80,148.30 L325.80,148.30 L326.20,148.25 L326.60,148.11 L327.01,147.89 L327.41,147.59 L327.81,147.23 L328.21,146.81 L328.62,146.36 L329.02,145.86 L329.42,145.33 L329.82,144.58 L330.23,143.57 L330.63,142.37 L331.03,141.00 L331.43,139.52 L331.83,137.95 L332.24,135.98 L332.64,133.70 L333.04,131.29 L333.44,128.95 L333.85,126.50 L334.25,123.92 L334.65,121.45 L335.05,119.34 L335.46,117.67 L335.86,116.11 L336.26,114.76 L336.66,113.76 L337.06,113.22 L337.47,112.82 L337.87,112.51 L338.27,112.33 L338.67,112.32 L339.08,112.47 L339.48,112.75 L339.88,113.08 L340.28,113.60 L340.69,114.38 L341.09,115.29 L341.49,116.18 L341.89,116.97 L342.29,117.76 L342.70,118.55 L343.10,119.33 L343.50,120.09 L343.90,120.85 L344.31,121.60 L344.71,122.35 L345.11,123.08 L345.51,123.79 L345.92,124.48 L346.32,125.13 L346.72,125.75 L347.12,126.34 L347.53,126.91 L347.93,127.47 L348.33,128.02 L348.73,128.56 L349.13,129.11 L349.54,129.66 L349.94,130.21 L350.34,130.75 L350.74,131.30 L351.15,131.83 L351.55,132.37 L351.95,132.90 L352.35,133.44 L352.76,133.97 L353.16,134.51 L353.56,135.06 L353.96,135.60 L354.36,136.15 L354.77,136.68 L355.17,137.21 L355.57,137.73 L355.97,138.23 L356.38,138.71 L356.78,139.19 L357.18,139.68 L357.58,140.16 L357.99,140.62 L358.39,141.07 L358.79,141.49 L359.19,141.87 L359.59,142.22 L360.00,142.52 L360.40,142.80 L360.80,143.07 L361.20,143.31 L361.61,143.54 L362.01,143.76 L362.41,143.98 L362.81,144.19 L363.22,144.41 L363.62,144.63 L364.02,144.85 L364.42,145.07 L364.82,145.29 L365.23,145.50 L365.63,145.69 L366.03,145.86 L366.43,146.01 L366.84,146.14 L367.24,146.26 L367.64,146.37 L368.04,146.47 L368.45,146.57 L368.85,146.66 L369.25,146.75 L369.65,146.84 L370.05,146.92 L370.46,146.99 L370.86,147.06 L371.26,147.12 L371.66,147.18 L372.07,147.24 L372.47,147.29 L372.87,147.33 L373.27,147.37 L373.68,147.42 L374.08,147.46 L374.48,147.50 L374.88,147.53 L375.28,147.57 L375.69,147.61 L376.09,147.64 L376.49,147.67 L376.89,147.70 L377.30,147.73 L377.70,147.76 L378.10,147.78 L378.50,147.81 L378.91,147.83 L379.31,147.85 L379.71,147.87 L380.11,147.88 L380.52,147.89 L380.92,147.91 L381.32,147.92 L381.72,147.93 L382.12,147.94 L382.53,147.95 L382.93,147.96 L383.33,147.97 L383.73,147.98 L384.14,147.99 L384.54,148.00 L384.94,148.01 L385.34,148.01 L385.75,148.02 L386.15,148.03 L386.55,148.04 L386.95,148.05 L387.35,148.05 L387.76,148.06 L388.16,148.07 L388.56,148.08 L388.96,148.08 L389.37,148.09 L389.77,148.10 L390.17,148.10 L390.57,148.11 L390.98,148.11 L391.38,148.12 L391.78,148.12 L392.18,148.13 L392.58,148.13 L392.99,148.14 L393.39,148.14 L393.79,148.15 L394.19,148.15 L394.60,148.16 L395.00,148.16 L395.40,148.17 L395.80,148.17 L396.21,148.17 L396.61,148.18 L397.01,148.18 L397.41,148.18 L397.81,148.19 L398.22,148.19 L398.62,148.19 L399.02,148.19 L399.42,148.20 L399.83,148.20 L400.23,148.20 L400.63,148.20 L401.03,148.21 L401.44,148.21 L401.84,148.21 L402.24,148.21 L402.64,148.21 L403.04,148.22 L403.45,148.22 L403.85,148.22 L404.25,148.22 L404.65,148.23 L405.06,148.23 L405.46,148.23 L405.86,148.23 L406.26,148.23 L406.67,148.24 L407.07,148.24 L407.47,148.24 L407.87,148.24 L408.27,148.24 L408.68,148.25 L409.08,148.25 L409.48,148.25 L409.88,148.25 L410.29,148.25 L410.69,148.25 L411.09,148.26 L411.49,148.26 L411.90,148.26 L412.30,148.26 L412.70,148.26 L413.10,148.26 L413.51,148.27 L413.91,148.27 L414.31,148.27 L414.71,148.27 L415.11,148.27 L415.52,148.27 L415.92,148.27 L416.32,148.28 L416.72,148.28 L417.13,148.28 L417.53,148.28 L417.93,148.28 L418.33,148.28 L418.74,148.28 L419.14,148.28 L419.54,148.29 L419.94,148.29 L420.34,148.29 L420.75,148.29 L421.15,148.29 L421.55,148.29 L421.95,148.29 L422.36,148.29 L422.76,148.29 L423.16,148.29 L423.56,148.29 L423.97,148.30 L424.37,148.30 L424.77,148.30 L425.17,148.30 L425.57,148.30 L425.98,148.30 L426.38,148.30 L426.78,148.30 L427.18,148.30 L427.59,148.30 L427.99,148.30 L428.39,148.30 L428.79,148.30 L429.20,148.30 L429.60,148.30 L430.00,148.30 L430.00,148.30Z" fill="#3e98b3"/>
<path d="M325.80,148.30 L325.80,148.30 L326.20,148.30 L326.60,148.30 L327.01,148.30 L327.41,148.30 L327.81,148.30 L328.21,148.30 L328.62,148.30 L329.02,148.30 L329.42,148.30 L329.82,148.30 L330.23,148.23 L330.63,148.03 L331.03,147.73 L331.43,147.34 L331.83,146.88 L332.24,146.36 L332.64,145.78 L333.04,144.87 L333.44,143.61 L333.85,142.10 L334.25,140.42 L334.65,138.66 L335.05,136.79 L335.46,134.53 L335.86,132.01 L336.26,129.41 L336.66,126.90 L337.06,124.66 L337.47,122.57 L337.87,120.55 L338.27,118.62 L338.67,116.83 L339.08,115.20 L339.48,113.58 L339.88,113.08 L340.28,113.60 L340.69,114.38 L341.09,115.29 L341.49,116.18 L341.89,116.97 L342.29,117.76 L342.70,118.55 L343.10,119.33 L343.50,120.09 L343.90,120.85 L344.31,121.60 L344.71,122.35 L345.11,123.08 L345.51,123.79 L345.92,124.48 L346.32,125.13 L346.72,125.75 L347.12,126.34 L347.53,126.91 L347.93,127.47 L348.33,128.02 L348.73,128.56 L349.13,129.11 L349.54,129.66 L349.94,130.21 L350.34,130.75 L350.74,131.30 L351.15,131.83 L351.55,132.37 L351.95,132.90 L352.35,133.44 L352.76,133.97 L353.16,134.51 L353.56,135.06 L353.96,135.60 L354.36,136.15 L354.77,136.68 L355.17,137.21 L355.57,137.73 L355.97,138.23 L356.38,138.71 L356.78,139.19 L357.18,139.68 L357.58,140.16 L357.99,140.62 L358.39,141.07 L358.79,141.49 L359.19,141.87 L359.59,142.22 L360.00,142.52 L360.40,142.80 L360.80,143.07 L361.20,143.31 L361.61,143.54 L362.01,143.76 L362.41,143.98 L362.81,144.19 L363.22,144.41 L363.62,144.63 L364.02,144.85 L364.42,145.07 L364.82,145.29 L365.23,145.50 L365.63,145.69 L366.03,145.86 L366.43,146.01 L366.84,146.14 L367.24,146.26 L367.64,146.37 L368.04,146.47 L368.45,146.57 L368.85,146.66 L369.25,146.75 L369.65,146.84 L370.05,146.92 L370.46,146.99 L370.86,147.06 L371.26,147.12 L371.66,147.18 L372.07,147.24 L372.47,147.29 L372.87,147.33 L373.27,147.39 L373.68,147.45 L374.08,147.50 L374.48,147.55 L374.88,147.60 L375.28,147.64 L375.69,147.67 L376.09,147.70 L376.49,147.72 L376.89,147.75 L377.30,147.77 L377.70,147.80 L378.10,147.82 L378.50,147.84 L378.91,147.86 L379.31,147.89 L379.71,147.91 L380.11,147.93 L380.52,147.95 L380.92,147.96 L381.32,147.98 L381.72,148.00 L382.12,148.02 L382.53,148.03 L382.93,148.05 L383.33,148.06 L383.73,148.08 L384.14,148.09 L384.54,148.10 L384.94,148.11 L385.34,148.12 L385.75,148.13 L386.15,148.14 L386.55,148.15 L386.95,148.16 L387.35,148.17 L387.76,148.18 L388.16,148.18 L388.56,148.19 L388.96,148.19 L389.37,148.20 L389.77,148.20 L390.17,148.20 L390.57,148.20 L390.98,148.21 L391.38,148.21 L391.78,148.21 L392.18,148.21 L392.58,148.21 L392.99,148.22 L393.39,148.22 L393.79,148.22 L394.19,148.22 L394.60,148.22 L395.00,148.23 L395.40,148.23 L395.80,148.23 L396.21,148.23 L396.61,148.23 L397.01,148.23 L397.41,148.24 L397.81,148.24 L398.22,148.24 L398.62,148.24 L399.02,148.24 L399.42,148.24 L399.83,148.25 L400.23,148.25 L400.63,148.25 L401.03,148.25 L401.44,148.25 L401.84,148.25 L402.24,148.25 L402.64,148.26 L403.04,148.26 L403.45,148.26 L403.85,148.26 L404.25,148.26 L404.65,148.26 L405.06,148.26 L405.46,148.26 L405.86,148.27 L406.26,148.27 L406.67,148.27 L407.07,148.27 L407.47,148.27 L407.87,148.27 L408.27,148.27 L408.68,148.27 L409.08,148.27 L409.48,148.28 L409.88,148.28 L410.29,148.28 L410.69,148.28 L411.09,148.28 L411.49,148.28 L411.90,148.28 L412.30,148.28 L412.70,148.28 L413.10,148.28 L413.51,148.28 L413.91,148.29 L414.31,148.29 L414.71,148.29 L415.11,148.29 L415.52,148.29 L415.92,148.29 L416.32,148.29 L416.72,148.29 L417.13,148.29 L417.53,148.29 L417.93,148.29 L418.33,148.29 L418.74,148.29 L419.14,148.29 L419.54,148.29 L419.94,148.29 L420.34,148.29 L420.75,148.30 L421.15,148.30 L421.55,148.30 L421.95,148.30 L422.36,148.30 L422.76,148.30 L423.16,148.30 L423.56,148.30 L423.97,148.30 L424.37,148.30 L424.77,148.30 L425.17,148.30 L425.57,148.30 L425.98,148.30 L426.38,148.30 L426.78,148.30 L427.18,148.30 L427.59,148.30 L427.99,148.30 L428.39,148.30 L428.79,148.30 L429.20,148.30 L429.60,148.30 L430.00,148.30 L430.00,148.30Z" fill="#3c5a6e"/>
<line x1="341.60" y1="108.80" x2="341.60" y2="148.30" stroke="#1e2a30" stroke-width="0.7"/>
<line x1="344.30" y1="108.30" x2="344.30" y2="148.30" stroke="#8a1f2a" stroke-width="0.7"/>
<line x1="323.50" y1="113.30" x2="323.50" y2="148.30" stroke="#555" stroke-width="0.7"/>
<line x1="321.50" y1="148.30" x2="323.50" y2="148.30" stroke="#555" stroke-width="0.6"/>
<text x="320.90" y="150.90" font-size="7.25" text-anchor="end" stroke="#231f20">0.000</text>
<line x1="321.50" y1="136.80" x2="323.50" y2="136.80" stroke="#555" stroke-width="0.6"/>
<text x="320.90" y="139.40" font-size="7.25" text-anchor="end" stroke="#231f20">0.005</text>
<line x1="321.50" y1="125.30" x2="323.50" y2="125.30" stroke="#555" stroke-width="0.6"/>
<text x="320.90" y="127.90" font-size="7.25" text-anchor="end" stroke="#231f20">0.010</text>
<line x1="321.50" y1="113.80" x2="323.50" y2="113.80" stroke="#555" stroke-width="0.6"/>
<text x="320.90" y="116.40" font-size="7.25" text-anchor="end" stroke="#231f20">0.015</text>
<line x1="329.70" y1="148.60" x2="430.00" y2="148.60" stroke="#4a5a8a" stroke-width="0.5"/>
<line x1="328.20" y1="150.00" x2="402.40" y2="150.00" stroke="#555" stroke-width="0.6"/>
<line x1="330.70" y1="150.00" x2="330.70" y2="151.70" stroke="#555" stroke-width="0.6"/>
<line x1="344.80" y1="150.00" x2="344.80" y2="151.70" stroke="#555" stroke-width="0.6"/>
<line x1="358.90" y1="150.00" x2="358.90" y2="151.70" stroke="#555" stroke-width="0.6"/>
<line x1="373.00" y1="150.00" x2="373.00" y2="151.70" stroke="#555" stroke-width="0.6"/>
<line x1="387.10" y1="150.00" x2="387.10" y2="151.70" stroke="#555" stroke-width="0.6"/>
<line x1="401.20" y1="150.00" x2="401.20" y2="151.70" stroke="#555" stroke-width="0.6"/>
<line x1="415.30" y1="150.00" x2="415.30" y2="151.70" stroke="#555" stroke-width="0.6"/>
<text x="297.30" y="130.80" font-size="7.25" text-anchor="middle" stroke="#231f20" transform="rotate(-90 297.30 130.80)">Frequency</text>
<text x="340.60" y="106.20" font-size="7.25" text-anchor="end" stroke="#231f20">39.98</text>
<text x="344.60" y="106.20" font-size="7.25" fill="#9b2a35" stroke="#9b2a35">50.24</text>
<text x="354.50" y="117.50" font-size="7.25" stroke="#231f20"><tspan font-style="italic">P</tspan> = 2.59x10<tspan font-size="4.3" baseline-shift="2.9" stroke="none" font-style="normal">-41</tspan></text>
<text x="364.70" y="136.70" font-size="7.25" stroke="#231f20">Primed-specific <tspan font-style="italic">ZIC</tspan>+</text>
<path d="M324.70,207.80 L324.70,207.80 L325.11,207.80 L325.51,207.80 L325.92,207.80 L326.33,207.80 L326.73,207.80 L327.14,207.80 L327.55,207.80 L327.95,207.80 L328.36,207.80 L328.77,207.80 L329.17,207.75 L329.58,207.59 L329.99,207.34 L330.39,207.01 L330.80,206.61 L331.21,206.16 L331.61,205.64 L332.02,204.78 L332.42,203.55 L332.83,202.04 L333.24,200.38 L333.64,198.65 L334.05,196.88 L334.46,194.81 L334.86,192.52 L335.27,190.14 L335.68,187.78 L336.08,185.58 L336.49,183.56 L336.90,181.56 L337.30,179.61 L337.71,177.79 L338.12,176.16 L338.52,174.73 L338.93,173.39 L339.34,172.19 L339.74,171.26 L340.15,170.63 L340.56,170.07 L340.96,169.62 L341.37,169.35 L341.78,169.30 L342.18,169.30 L342.59,169.30 L343.00,169.30 L343.40,169.61 L343.81,170.32 L344.22,171.43 L344.62,173.20 L345.03,174.95 L345.43,176.28 L345.84,177.52 L346.25,178.68 L346.65,179.78 L347.06,180.80 L347.47,181.75 L347.87,182.61 L348.28,183.39 L348.69,184.13 L349.09,184.87 L349.50,185.66 L349.91,186.54 L350.31,187.56 L350.72,188.69 L351.13,189.86 L351.53,191.03 L351.94,192.15 L352.35,193.15 L352.75,194.00 L353.16,194.74 L353.57,195.43 L353.97,196.07 L354.38,196.64 L354.79,197.16 L355.19,197.61 L355.60,198.01 L356.01,198.37 L356.41,198.70 L356.82,199.02 L357.23,199.32 L357.63,199.62 L358.04,199.93 L358.44,200.25 L358.85,200.60 L359.26,200.95 L359.66,201.32 L360.07,201.68 L360.48,202.04 L360.88,202.38 L361.29,202.70 L361.70,203.00 L362.10,203.26 L362.51,203.51 L362.92,203.76 L363.32,203.99 L363.73,204.22 L364.14,204.44 L364.54,204.64 L364.95,204.83 L365.36,205.01 L365.76,205.18 L366.17,205.33 L366.58,205.46 L366.98,205.58 L367.39,205.70 L367.80,205.81 L368.20,205.91 L368.61,206.01 L369.02,206.11 L369.42,206.20 L369.83,206.28 L370.24,206.36 L370.64,206.44 L371.05,206.51 L371.45,206.57 L371.86,206.62 L372.27,206.67 L372.67,206.71 L373.08,206.74 L373.49,206.78 L373.89,206.81 L374.30,206.85 L374.71,206.88 L375.11,206.92 L375.52,206.95 L375.93,206.98 L376.33,207.01 L376.74,207.04 L377.15,207.07 L377.55,207.10 L377.96,207.13 L378.37,207.15 L378.77,207.18 L379.18,207.21 L379.59,207.23 L379.99,207.25 L380.40,207.28 L380.81,207.30 L381.21,207.32 L381.62,207.34 L382.03,207.36 L382.43,207.38 L382.84,207.40 L383.25,207.42 L383.65,207.44 L384.06,207.45 L384.46,207.47 L384.87,207.48 L385.28,207.50 L385.68,207.51 L386.09,207.52 L386.50,207.53 L386.90,207.54 L387.31,207.55 L387.72,207.56 L388.12,207.57 L388.53,207.58 L388.94,207.59 L389.34,207.59 L389.75,207.60 L390.16,207.60 L390.56,207.61 L390.97,207.61 L391.38,207.61 L391.78,207.62 L392.19,207.62 L392.60,207.63 L393.00,207.63 L393.41,207.63 L393.82,207.64 L394.22,207.64 L394.63,207.64 L395.04,207.65 L395.44,207.65 L395.85,207.66 L396.26,207.66 L396.66,207.66 L397.07,207.67 L397.47,207.67 L397.88,207.67 L398.29,207.68 L398.69,207.68 L399.10,207.68 L399.51,207.69 L399.91,207.69 L400.32,207.69 L400.73,207.69 L401.13,207.70 L401.54,207.70 L401.95,207.70 L402.35,207.71 L402.76,207.71 L403.17,207.71 L403.57,207.71 L403.98,207.72 L404.39,207.72 L404.79,207.72 L405.20,207.72 L405.61,207.73 L406.01,207.73 L406.42,207.73 L406.83,207.73 L407.23,207.74 L407.64,207.74 L408.05,207.74 L408.45,207.74 L408.86,207.75 L409.27,207.75 L409.67,207.75 L410.08,207.75 L410.48,207.75 L410.89,207.76 L411.30,207.76 L411.70,207.76 L412.11,207.76 L412.52,207.76 L412.92,207.76 L413.33,207.77 L413.74,207.77 L414.14,207.77 L414.55,207.77 L414.96,207.77 L415.36,207.77 L415.77,207.78 L416.18,207.78 L416.58,207.78 L416.99,207.78 L417.40,207.78 L417.80,207.78 L418.21,207.78 L418.62,207.78 L419.02,207.79 L419.43,207.79 L419.84,207.79 L420.24,207.79 L420.65,207.79 L421.06,207.79 L421.46,207.79 L421.87,207.79 L422.28,207.79 L422.68,207.79 L423.09,207.79 L423.49,207.79 L423.90,207.80 L424.31,207.80 L424.71,207.80 L425.12,207.80 L425.53,207.80 L425.93,207.80 L426.34,207.80 L426.75,207.80 L427.15,207.80 L427.56,207.80 L427.97,207.80 L428.37,207.80 L428.78,207.80 L429.19,207.80 L429.59,207.80 L430.00,207.80 L430.00,207.80Z" fill="#df5560"/>
<path d="M324.70,207.80 L324.70,207.80 L325.11,207.77 L325.51,207.70 L325.92,207.57 L326.33,207.40 L326.73,207.18 L327.14,206.92 L327.55,206.63 L327.95,206.29 L328.36,205.93 L328.77,205.53 L329.17,204.95 L329.58,204.01 L329.99,202.78 L330.39,201.34 L330.80,199.74 L331.21,198.04 L331.61,195.83 L332.02,193.18 L332.42,190.41 L332.83,187.81 L333.24,185.27 L333.64,182.68 L334.05,180.24 L334.46,178.13 L334.86,176.38 L335.27,174.68 L335.68,173.19 L336.08,172.12 L336.49,171.65 L336.90,171.44 L337.30,171.32 L337.71,171.33 L338.12,171.55 L338.52,171.92 L338.93,172.37 L339.34,172.84 L339.74,173.40 L340.15,174.09 L340.56,174.87 L340.96,175.68 L341.37,176.47 L341.78,177.21 L342.18,177.93 L342.59,178.64 L343.00,179.36 L343.40,180.09 L343.81,180.83 L344.22,181.60 L344.62,182.39 L345.03,183.20 L345.43,184.02 L345.84,184.83 L346.25,185.64 L346.65,186.43 L347.06,187.20 L347.47,187.97 L347.87,188.73 L348.28,189.48 L348.69,190.22 L349.09,190.93 L349.50,191.62 L349.91,192.27 L350.31,192.89 L350.72,193.50 L351.13,194.08 L351.53,194.65 L351.94,195.20 L352.35,195.74 L352.75,196.27 L353.16,196.79 L353.57,197.30 L353.97,197.81 L354.38,198.30 L354.79,198.78 L355.19,199.25 L355.60,199.69 L356.01,200.11 L356.41,200.50 L356.82,200.89 L357.23,201.27 L357.63,201.63 L358.04,201.98 L358.44,202.31 L358.85,202.62 L359.26,202.91 L359.66,203.18 L360.07,203.43 L360.48,203.67 L360.88,203.91 L361.29,204.14 L361.70,204.36 L362.10,204.57 L362.51,204.77 L362.92,204.95 L363.32,205.12 L363.73,205.28 L364.14,205.42 L364.54,205.54 L364.95,205.66 L365.36,205.77 L365.76,205.88 L366.17,205.98 L366.58,206.07 L366.98,206.17 L367.39,206.25 L367.80,206.33 L368.20,206.41 L368.61,206.48 L369.02,206.54 L369.42,206.60 L369.83,206.66 L370.24,206.70 L370.64,206.75 L371.05,206.79 L371.45,206.83 L371.86,206.87 L372.27,206.91 L372.67,206.95 L373.08,206.98 L373.49,207.02 L373.89,207.05 L374.30,207.08 L374.71,207.11 L375.11,207.14 L375.52,207.16 L375.93,207.19 L376.33,207.21 L376.74,207.23 L377.15,207.25 L377.55,207.27 L377.96,207.28 L378.37,207.30 L378.77,207.31 L379.18,207.32 L379.59,207.34 L379.99,207.35 L380.40,207.36 L380.81,207.37 L381.21,207.39 L381.62,207.40 L382.03,207.41 L382.43,207.42 L382.84,207.43 L383.25,207.44 L383.65,207.45 L384.06,207.46 L384.46,207.47 L384.87,207.48 L385.28,207.49 L385.68,207.50 L386.09,207.51 L386.50,207.52 L386.90,207.53 L387.31,207.54 L387.72,207.54 L388.12,207.55 L388.53,207.56 L388.94,207.57 L389.34,207.57 L389.75,207.58 L390.16,207.59 L390.56,207.60 L390.97,207.60 L391.38,207.61 L391.78,207.61 L392.19,207.62 L392.60,207.63 L393.00,207.63 L393.41,207.64 L393.82,207.64 L394.22,207.65 L394.63,207.65 L395.04,207.66 L395.44,207.66 L395.85,207.67 L396.26,207.67 L396.66,207.67 L397.07,207.68 L397.47,207.68 L397.88,207.69 L398.29,207.69 L398.69,207.69 L399.10,207.69 L399.51,207.70 L399.91,207.70 L400.32,207.70 L400.73,207.70 L401.13,207.71 L401.54,207.71 L401.95,207.71 L402.35,207.71 L402.76,207.72 L403.17,207.72 L403.57,207.72 L403.98,207.72 L404.39,207.72 L404.79,207.73 L405.20,207.73 L405.61,207.73 L406.01,207.73 L406.42,207.74 L406.83,207.74 L407.23,207.74 L407.64,207.74 L408.05,207.74 L408.45,207.74 L408.86,207.75 L409.27,207.75 L409.67,207.75 L410.08,207.75 L410.48,207.75 L410.89,207.76 L411.30,207.76 L411.70,207.76 L412.11,207.76 L412.52,207.76 L412.92,207.76 L413.33,207.77 L413.74,207.77 L414.14,207.77 L414.55,207.77 L414.96,207.77 L415.36,207.77 L415.77,207.77 L416.18,207.78 L416.58,207.78 L416.99,207.78 L417.40,207.78 L417.80,207.78 L418.21,207.78 L418.62,207.78 L419.02,207.78 L419.43,207.79 L419.84,207.79 L420.24,207.79 L420.65,207.79 L421.06,207.79 L421.46,207.79 L421.87,207.79 L422.28,207.79 L422.68,207.79 L423.09,207.79 L423.49,207.79 L423.90,207.80 L424.31,207.80 L424.71,207.80 L425.12,207.80 L425.53,207.80 L425.93,207.80 L426.34,207.80 L426.75,207.80 L427.15,207.80 L427.56,207.80 L427.97,207.80 L428.37,207.80 L428.78,207.80 L429.19,207.80 L429.59,207.80 L430.00,207.80 L430.00,207.80Z" fill="#3e98b3"/>
<path d="M324.70,207.80 L324.70,207.80 L325.11,207.80 L325.51,207.80 L325.92,207.80 L326.33,207.80 L326.73,207.80 L327.14,207.80 L327.55,207.80 L327.95,207.80 L328.36,207.80 L328.77,207.80 L329.17,207.75 L329.58,207.59 L329.99,207.34 L330.39,207.01 L330.80,206.61 L331.21,206.16 L331.61,205.64 L332.02,204.78 L332.42,203.55 L332.83,202.04 L333.24,200.38 L333.64,198.65 L334.05,196.88 L334.46,194.81 L334.86,192.52 L335.27,190.14 L335.68,187.78 L336.08,185.58 L336.49,183.56 L336.90,181.56 L337.30,179.61 L337.71,177.79 L338.12,176.16 L338.52,174.73 L338.93,173.39 L339.34,172.84 L339.74,173.40 L340.15,174.09 L340.56,174.87 L340.96,175.68 L341.37,176.47 L341.78,177.21 L342.18,177.93 L342.59,178.64 L343.00,179.36 L343.40,180.09 L343.81,180.83 L344.22,181.60 L344.62,182.39 L345.03,183.20 L345.43,184.02 L345.84,184.83 L346.25,185.64 L346.65,186.43 L347.06,187.20 L347.47,187.97 L347.87,188.73 L348.28,189.48 L348.69,190.22 L349.09,190.93 L349.50,191.62 L349.91,192.27 L350.31,192.89 L350.72,193.50 L351.13,194.08 L351.53,194.65 L351.94,195.20 L352.35,195.74 L352.75,196.27 L353.16,196.79 L353.57,197.30 L353.97,197.81 L354.38,198.30 L354.79,198.78 L355.19,199.25 L355.60,199.69 L356.01,200.11 L356.41,200.50 L356.82,200.89 L357.23,201.27 L357.63,201.63 L358.04,201.98 L358.44,202.31 L358.85,202.62 L359.26,202.91 L359.66,203.18 L360.07,203.43 L360.48,203.67 L360.88,203.91 L361.29,204.14 L361.70,204.36 L362.10,204.57 L362.51,204.77 L362.92,204.95 L363.32,205.12 L363.73,205.28 L364.14,205.42 L364.54,205.54 L364.95,205.66 L365.36,205.77 L365.76,205.88 L366.17,205.98 L366.58,206.07 L366.98,206.17 L367.39,206.25 L367.80,206.33 L368.20,206.41 L368.61,206.48 L369.02,206.54 L369.42,206.60 L369.83,206.66 L370.24,206.70 L370.64,206.75 L371.05,206.79 L371.45,206.83 L371.86,206.87 L372.27,206.91 L372.67,206.95 L373.08,206.98 L373.49,207.02 L373.89,207.05 L374.30,207.08 L374.71,207.11 L375.11,207.14 L375.52,207.16 L375.93,207.19 L376.33,207.21 L376.74,207.23 L377.15,207.25 L377.55,207.27 L377.96,207.28 L378.37,207.30 L378.77,207.31 L379.18,207.32 L379.59,207.34 L379.99,207.35 L380.40,207.36 L380.81,207.37 L381.21,207.39 L381.62,207.40 L382.03,207.41 L382.43,207.42 L382.84,207.43 L383.25,207.44 L383.65,207.45 L384.06,207.46 L384.46,207.47 L384.87,207.48 L385.28,207.50 L385.68,207.51 L386.09,207.52 L386.50,207.53 L386.90,207.54 L387.31,207.55 L387.72,207.56 L388.12,207.57 L388.53,207.58 L388.94,207.59 L389.34,207.59 L389.75,207.60 L390.16,207.60 L390.56,207.61 L390.97,207.61 L391.38,207.61 L391.78,207.62 L392.19,207.62 L392.60,207.63 L393.00,207.63 L393.41,207.64 L393.82,207.64 L394.22,207.65 L394.63,207.65 L395.04,207.66 L395.44,207.66 L395.85,207.67 L396.26,207.67 L396.66,207.67 L397.07,207.68 L397.47,207.68 L397.88,207.69 L398.29,207.69 L398.69,207.69 L399.10,207.69 L399.51,207.70 L399.91,207.70 L400.32,207.70 L400.73,207.70 L401.13,207.71 L401.54,207.71 L401.95,207.71 L402.35,207.71 L402.76,207.72 L403.17,207.72 L403.57,207.72 L403.98,207.72 L404.39,207.72 L404.79,207.73 L405.20,207.73 L405.61,207.73 L406.01,207.73 L406.42,207.74 L406.83,207.74 L407.23,207.74 L407.64,207.74 L408.05,207.74 L408.45,207.74 L408.86,207.75 L409.27,207.75 L409.67,207.75 L410.08,207.75 L410.48,207.75 L410.89,207.76 L411.30,207.76 L411.70,207.76 L412.11,207.76 L412.52,207.76 L412.92,207.76 L413.33,207.77 L413.74,207.77 L414.14,207.77 L414.55,207.77 L414.96,207.77 L415.36,207.77 L415.77,207.78 L416.18,207.78 L416.58,207.78 L416.99,207.78 L417.40,207.78 L417.80,207.78 L418.21,207.78 L418.62,207.78 L419.02,207.79 L419.43,207.79 L419.84,207.79 L420.24,207.79 L420.65,207.79 L421.06,207.79 L421.46,207.79 L421.87,207.79 L422.28,207.79 L422.68,207.79 L423.09,207.79 L423.49,207.79 L423.90,207.80 L424.31,207.80 L424.71,207.80 L425.12,207.80 L425.53,207.80 L425.93,207.80 L426.34,207.80 L426.75,207.80 L427.15,207.80 L427.56,207.80 L427.97,207.80 L428.37,207.80 L428.78,207.80 L429.19,207.80 L429.59,207.80 L430.00,207.80 L430.00,207.80Z" fill="#3c5a6e"/>
<line x1="340.40" y1="167.60" x2="340.40" y2="207.80" stroke="#1e2a30" stroke-width="0.7"/>
<line x1="343.40" y1="167.10" x2="343.40" y2="207.80" stroke="#8a1f2a" stroke-width="0.7"/>
<line x1="323.50" y1="172.80" x2="323.50" y2="207.80" stroke="#555" stroke-width="0.7"/>
<line x1="321.50" y1="207.80" x2="323.50" y2="207.80" stroke="#555" stroke-width="0.6"/>
<text x="320.90" y="210.40" font-size="7.25" text-anchor="end" stroke="#231f20">0.000</text>
<line x1="321.50" y1="196.30" x2="323.50" y2="196.30" stroke="#555" stroke-width="0.6"/>
<text x="320.90" y="198.90" font-size="7.25" text-anchor="end" stroke="#231f20">0.005</text>
<line x1="321.50" y1="184.80" x2="323.50" y2="184.80" stroke="#555" stroke-width="0.6"/>
<text x="320.90" y="187.40" font-size="7.25" text-anchor="end" stroke="#231f20">0.010</text>
<line x1="321.50" y1="173.30" x2="323.50" y2="173.30" stroke="#555" stroke-width="0.6"/>
<text x="320.90" y="175.90" font-size="7.25" text-anchor="end" stroke="#231f20">0.015</text>
<line x1="328.50" y1="208.10" x2="430.00" y2="208.10" stroke="#4a5a8a" stroke-width="0.5"/>
<line x1="327.00" y1="209.50" x2="401.20" y2="209.50" stroke="#555" stroke-width="0.6"/>
<line x1="329.50" y1="209.50" x2="329.50" y2="211.20" stroke="#555" stroke-width="0.6"/>
<line x1="343.60" y1="209.50" x2="343.60" y2="211.20" stroke="#555" stroke-width="0.6"/>
<line x1="357.70" y1="209.50" x2="357.70" y2="211.20" stroke="#555" stroke-width="0.6"/>
<line x1="371.80" y1="209.50" x2="371.80" y2="211.20" stroke="#555" stroke-width="0.6"/>
<line x1="385.90" y1="209.50" x2="385.90" y2="211.20" stroke="#555" stroke-width="0.6"/>
<line x1="400.00" y1="209.50" x2="400.00" y2="211.20" stroke="#555" stroke-width="0.6"/>
<line x1="414.10" y1="209.50" x2="414.10" y2="211.20" stroke="#555" stroke-width="0.6"/>
<text x="297.30" y="190.30" font-size="7.25" text-anchor="middle" stroke="#231f20" transform="rotate(-90 297.30 190.30)">Frequency</text>
<text x="340.60" y="165.70" font-size="7.25" text-anchor="end" stroke="#231f20">39.42</text>
<text x="344.60" y="165.70" font-size="7.25" fill="#9b2a35" stroke="#9b2a35">48.18</text>
<text x="352.60" y="177.00" font-size="7.25" stroke="#231f20"><tspan font-style="italic">P</tspan> = 2.48x10<tspan font-size="4.3" baseline-shift="2.9" stroke="none" font-style="normal">-27</tspan></text>
<text x="361.50" y="196.20" font-size="7.25" stroke="#231f20">Primed-specific <tspan font-style="italic">ZIC</tspan>-</text>
<text x="329.50" y="217.80" font-size="7.25" text-anchor="middle" stroke="#231f20">0</text>
<text x="343.60" y="217.80" font-size="7.25" text-anchor="middle" stroke="#231f20">50</text>
<text x="357.70" y="217.80" font-size="7.25" text-anchor="middle" stroke="#231f20">100</text>
<text x="371.80" y="217.80" font-size="7.25" text-anchor="middle" stroke="#231f20">150</text>
<text x="385.90" y="217.80" font-size="7.25" text-anchor="middle" stroke="#231f20">200</text>
<text x="400.00" y="217.80" font-size="7.25" text-anchor="middle" stroke="#231f20">250</text>
<text x="313.10" y="227.00" font-size="7.25" stroke="#231f20">Normalised ATAC signal (CPB)</text>
<text x="449.80" y="107.80" font-size="10" font-weight="bold" fill="#000" stroke="#000">f</text>
<text x="460.00" y="155.50" font-size="7.0" text-anchor="middle" font-weight="bold" stroke="#231f20" transform="rotate(-90 460.00 155.50)">Fraction of genes (%)</text>
<line x1="480.20" y1="127.50" x2="480.20" y2="175.30" stroke="#444" stroke-width="0.7"/>
<line x1="480.20" y1="175.30" x2="564.65" y2="175.30" stroke="#444" stroke-width="0.7"/>
<line x1="478.20" y1="175.30" x2="480.20" y2="175.30" stroke="#444" stroke-width="0.6"/>
<text x="477.20" y="177.90" font-size="7.25" text-anchor="end" stroke="#231f20">0</text>
<line x1="478.20" y1="159.70" x2="480.20" y2="159.70" stroke="#444" stroke-width="0.6"/>
<text x="477.20" y="162.30" font-size="7.25" text-anchor="end" stroke="#231f20">10</text>
<line x1="478.20" y1="144.10" x2="480.20" y2="144.10" stroke="#444" stroke-width="0.6"/>
<text x="477.20" y="146.70" font-size="7.25" text-anchor="end" stroke="#231f20">20</text>
<line x1="478.20" y1="128.50" x2="480.20" y2="128.50" stroke="#444" stroke-width="0.6"/>
<text x="477.20" y="131.10" font-size="7.25" text-anchor="end" stroke="#231f20">30</text>
<rect x="482.00" y="165.16" width="8.90" height="10.14" fill="#b4b4bc"/>
<rect x="482.00" y="130.06" width="8.90" height="35.10" fill="#ee5f63"/>
<rect x="482.00" y="130.06" width="8.9" height="45.24" fill="none" stroke="#3a3a3a" stroke-width="0.6"/>
<line x1="482.00" y1="165.16" x2="490.90" y2="165.16" stroke="#3a3a3a" stroke-width="0.5"/>
<line x1="486.45" y1="175.30" x2="486.45" y2="177.30" stroke="#444" stroke-width="0.5"/>
<text x="488.25" y="181.30" font-size="7.1" text-anchor="end" stroke="#231f20" transform="rotate(-45 488.25 181.30)">0-5kb</text>
<rect x="492.45" y="168.28" width="8.90" height="7.02" fill="#b4b4bc"/>
<rect x="492.45" y="145.97" width="8.90" height="22.31" fill="#ee5f63"/>
<rect x="492.45" y="145.97" width="8.9" height="29.33" fill="none" stroke="#3a3a3a" stroke-width="0.6"/>
<line x1="492.45" y1="168.28" x2="501.35" y2="168.28" stroke="#3a3a3a" stroke-width="0.5"/>
<line x1="496.90" y1="175.30" x2="496.90" y2="177.30" stroke="#444" stroke-width="0.5"/>
<text x="498.70" y="181.30" font-size="7.1" text-anchor="end" stroke="#231f20" transform="rotate(-45 498.70 181.30)">5-10kb</text>
<rect x="502.90" y="167.03" width="8.90" height="8.27" fill="#b4b4bc"/>
<rect x="502.90" y="148.78" width="8.90" height="18.25" fill="#ee5f63"/>
<rect x="502.90" y="148.78" width="8.9" height="26.52" fill="none" stroke="#3a3a3a" stroke-width="0.6"/>
<line x1="502.90" y1="167.03" x2="511.80" y2="167.03" stroke="#3a3a3a" stroke-width="0.5"/>
<line x1="507.35" y1="175.30" x2="507.35" y2="177.30" stroke="#444" stroke-width="0.5"/>
<text x="509.15" y="181.30" font-size="7.1" text-anchor="end" stroke="#231f20" transform="rotate(-45 509.15 181.30)">10-25kb</text>
<rect x="513.35" y="169.37" width="8.90" height="5.93" fill="#b4b4bc"/>
<rect x="513.35" y="152.37" width="8.90" height="17.00" fill="#ee5f63"/>
<rect x="513.35" y="152.37" width="8.9" height="22.93" fill="none" stroke="#3a3a3a" stroke-width="0.6"/>
<line x1="513.35" y1="169.37" x2="522.25" y2="169.37" stroke="#3a3a3a" stroke-width="0.5"/>
<line x1="517.80" y1="175.30" x2="517.80" y2="177.30" stroke="#444" stroke-width="0.5"/>
<text x="519.60" y="181.30" font-size="7.1" text-anchor="end" stroke="#231f20" transform="rotate(-45 519.60 181.30)">25-50kb</text>
<rect x="523.80" y="169.06" width="8.90" height="6.24" fill="#b4b4bc"/>
<rect x="523.80" y="153.46" width="8.90" height="15.60" fill="#ee5f63"/>
<rect x="523.80" y="153.46" width="8.9" height="21.84" fill="none" stroke="#3a3a3a" stroke-width="0.6"/>
<line x1="523.80" y1="169.06" x2="532.70" y2="169.06" stroke="#3a3a3a" stroke-width="0.5"/>
<line x1="528.25" y1="175.30" x2="528.25" y2="177.30" stroke="#444" stroke-width="0.5"/>
<text x="530.05" y="181.30" font-size="7.1" text-anchor="end" stroke="#231f20" transform="rotate(-45 530.05 181.30)">50-100kb</text>
<rect x="534.25" y="170.62" width="8.90" height="4.68" fill="#b4b4bc"/>
<rect x="534.25" y="158.45" width="8.90" height="12.17" fill="#ee5f63"/>
<rect x="534.25" y="158.45" width="8.9" height="16.85" fill="none" stroke="#3a3a3a" stroke-width="0.6"/>
<line x1="534.25" y1="170.62" x2="543.15" y2="170.62" stroke="#3a3a3a" stroke-width="0.5"/>
<line x1="538.70" y1="175.30" x2="538.70" y2="177.30" stroke="#444" stroke-width="0.5"/>
<text x="540.50" y="181.30" font-size="7.1" text-anchor="end" stroke="#231f20" transform="rotate(-45 540.50 181.30)">100-200kb</text>
<rect x="544.70" y="170.46" width="8.90" height="4.84" fill="#b4b4bc"/>
<rect x="544.70" y="159.23" width="8.90" height="11.23" fill="#ee5f63"/>
<rect x="544.70" y="159.23" width="8.9" height="16.07" fill="none" stroke="#3a3a3a" stroke-width="0.6"/>
<line x1="544.70" y1="170.46" x2="553.60" y2="170.46" stroke="#3a3a3a" stroke-width="0.5"/>
<line x1="549.15" y1="175.30" x2="549.15" y2="177.30" stroke="#444" stroke-width="0.5"/>
<text x="550.95" y="181.30" font-size="7.1" text-anchor="end" stroke="#231f20" transform="rotate(-45 550.95 181.30)">200-500kb</text>
<rect x="555.15" y="170.31" width="8.90" height="4.99" fill="#b4b4bc"/>
<rect x="555.15" y="159.54" width="8.90" height="10.76" fill="#ee5f63"/>
<rect x="555.15" y="159.54" width="8.9" height="15.76" fill="none" stroke="#3a3a3a" stroke-width="0.6"/>
<line x1="555.15" y1="170.31" x2="564.05" y2="170.31" stroke="#3a3a3a" stroke-width="0.5"/>
<line x1="559.60" y1="175.30" x2="559.60" y2="177.30" stroke="#444" stroke-width="0.5"/>
<text x="561.40" y="181.30" font-size="7.1" text-anchor="end" stroke="#231f20" transform="rotate(-45 561.40 181.30)">500-1000kb</text>
<line x1="581.50" y1="127.50" x2="581.50" y2="175.30" stroke="#444" stroke-width="0.7"/>
<line x1="581.50" y1="175.30" x2="664.80" y2="175.30" stroke="#444" stroke-width="0.7"/>
<line x1="579.50" y1="175.30" x2="581.50" y2="175.30" stroke="#444" stroke-width="0.6"/>
<line x1="579.50" y1="159.70" x2="581.50" y2="159.70" stroke="#444" stroke-width="0.6"/>
<line x1="579.50" y1="144.10" x2="581.50" y2="144.10" stroke="#444" stroke-width="0.6"/>
<line x1="579.50" y1="128.50" x2="581.50" y2="128.50" stroke="#444" stroke-width="0.6"/>
<rect x="583.20" y="153.46" width="8.90" height="21.84" fill="#b4b4bc"/>
<rect x="583.20" y="136.30" width="8.90" height="17.16" fill="#ee5f63"/>
<rect x="583.20" y="136.30" width="8.9" height="39.00" fill="none" stroke="#3a3a3a" stroke-width="0.6"/>
<line x1="583.20" y1="153.46" x2="592.10" y2="153.46" stroke="#3a3a3a" stroke-width="0.5"/>
<line x1="587.65" y1="175.30" x2="587.65" y2="177.30" stroke="#444" stroke-width="0.5"/>
<text x="589.45" y="181.30" font-size="7.1" text-anchor="end" stroke="#231f20" transform="rotate(-45 589.45 181.30)">0-5kb</text>
<rect x="593.50" y="161.26" width="8.90" height="14.04" fill="#b4b4bc"/>
<rect x="593.50" y="133.96" width="8.90" height="27.30" fill="#ee5f63"/>
<rect x="593.50" y="133.96" width="8.9" height="41.34" fill="none" stroke="#3a3a3a" stroke-width="0.6"/>
<line x1="593.50" y1="161.26" x2="602.40" y2="161.26" stroke="#3a3a3a" stroke-width="0.5"/>
<line x1="597.95" y1="175.30" x2="597.95" y2="177.30" stroke="#444" stroke-width="0.5"/>
<text x="599.75" y="181.30" font-size="7.1" text-anchor="end" stroke="#231f20" transform="rotate(-45 599.75 181.30)">5-10kb</text>
<rect x="603.80" y="161.26" width="8.90" height="14.04" fill="#b4b4bc"/>
<rect x="603.80" y="142.54" width="8.90" height="18.72" fill="#ee5f63"/>
<rect x="603.80" y="142.54" width="8.9" height="32.76" fill="none" stroke="#3a3a3a" stroke-width="0.6"/>
<line x1="603.80" y1="161.26" x2="612.70" y2="161.26" stroke="#3a3a3a" stroke-width="0.5"/>
<line x1="608.25" y1="175.30" x2="608.25" y2="177.30" stroke="#444" stroke-width="0.5"/>
<text x="610.05" y="181.30" font-size="7.1" text-anchor="end" stroke="#231f20" transform="rotate(-45 610.05 181.30)">10-25kb</text>
<rect x="614.10" y="167.50" width="8.90" height="7.80" fill="#b4b4bc"/>
<rect x="614.10" y="153.77" width="8.90" height="13.73" fill="#ee5f63"/>
<rect x="614.10" y="153.77" width="8.9" height="21.53" fill="none" stroke="#3a3a3a" stroke-width="0.6"/>
<line x1="614.10" y1="167.50" x2="623.00" y2="167.50" stroke="#3a3a3a" stroke-width="0.5"/>
<line x1="618.55" y1="175.30" x2="618.55" y2="177.30" stroke="#444" stroke-width="0.5"/>
<text x="620.35" y="181.30" font-size="7.1" text-anchor="end" stroke="#231f20" transform="rotate(-45 620.35 181.30)">25-50kb</text>
<rect x="624.40" y="166.72" width="8.90" height="8.58" fill="#b4b4bc"/>
<rect x="624.40" y="154.71" width="8.90" height="12.01" fill="#ee5f63"/>
<rect x="624.40" y="154.71" width="8.9" height="20.59" fill="none" stroke="#3a3a3a" stroke-width="0.6"/>
<line x1="624.40" y1="166.72" x2="633.30" y2="166.72" stroke="#3a3a3a" stroke-width="0.5"/>
<line x1="628.85" y1="175.30" x2="628.85" y2="177.30" stroke="#444" stroke-width="0.5"/>
<text x="630.65" y="181.30" font-size="7.1" text-anchor="end" stroke="#231f20" transform="rotate(-45 630.65 181.30)">50-100kb</text>
<rect x="634.70" y="167.50" width="8.90" height="7.80" fill="#b4b4bc"/>
<rect x="634.70" y="156.11" width="8.90" height="11.39" fill="#ee5f63"/>
<rect x="634.70" y="156.11" width="8.9" height="19.19" fill="none" stroke="#3a3a3a" stroke-width="0.6"/>
<line x1="634.70" y1="167.50" x2="643.60" y2="167.50" stroke="#3a3a3a" stroke-width="0.5"/>
<line x1="639.15" y1="175.30" x2="639.15" y2="177.30" stroke="#444" stroke-width="0.5"/>
<text x="640.95" y="181.30" font-size="7.1" text-anchor="end" stroke="#231f20" transform="rotate(-45 640.95 181.30)">100-200kb</text>
<rect x="645.00" y="167.50" width="8.90" height="7.80" fill="#b4b4bc"/>
<rect x="645.00" y="158.61" width="8.90" height="8.89" fill="#ee5f63"/>
<rect x="645.00" y="158.61" width="8.9" height="16.69" fill="none" stroke="#3a3a3a" stroke-width="0.6"/>
<line x1="645.00" y1="167.50" x2="653.90" y2="167.50" stroke="#3a3a3a" stroke-width="0.5"/>
<line x1="649.45" y1="175.30" x2="649.45" y2="177.30" stroke="#444" stroke-width="0.5"/>
<text x="651.25" y="181.30" font-size="7.1" text-anchor="end" stroke="#231f20" transform="rotate(-45 651.25 181.30)">200-500kb</text>
<rect x="655.30" y="167.50" width="8.90" height="7.80" fill="#b4b4bc"/>
<rect x="655.30" y="159.39" width="8.90" height="8.11" fill="#ee5f63"/>
<rect x="655.30" y="159.39" width="8.9" height="15.91" fill="none" stroke="#3a3a3a" stroke-width="0.6"/>
<line x1="655.30" y1="167.50" x2="664.20" y2="167.50" stroke="#3a3a3a" stroke-width="0.5"/>
<line x1="659.75" y1="175.30" x2="659.75" y2="177.30" stroke="#444" stroke-width="0.5"/>
<text x="661.55" y="181.30" font-size="7.1" text-anchor="end" stroke="#231f20" transform="rotate(-45 661.55 181.30)">500-1000kb</text>
<text x="478.60" y="109.60" font-size="6.7" font-weight="bold" stroke="#231f20">DARs reduced accessibility</text>
<text x="598.30" y="109.60" font-size="6.7" font-weight="bold" stroke="#231f20"><tspan font-style="italic">ZIC</tspan> C3 peaks</text>
<text x="631.00" y="127.90" font-size="7.25" font-weight="bold" fill="#bdbdbd" stroke="#bdbdbd">Upregulated</text>
<text x="631.00" y="136.90" font-size="7.25" font-weight="bold" fill="#e8484e" stroke="#e8484e">Downregulated</text>
<text x="0.00" y="252.30" font-size="10" font-weight="bold" fill="#000" stroke="#000">g</text>
<rect x="8.50" y="276.10" width="16.70" height="20.00" fill="#fdf0ea"/>
<rect x="2.61" y="276.10" width="28.48" height="1.05" fill="url(#hg)" opacity="0.40" clip-path="url(#gc00)"/>
<rect x="6.71" y="276.10" width="20.28" height="1.05" fill="url(#hg)" opacity="1.00" clip-path="url(#gc00)"/>
<rect x="3.31" y="277.10" width="27.07" height="1.05" fill="url(#hg)" opacity="0.39" clip-path="url(#gc00)"/>
<rect x="7.98" y="277.10" width="17.75" height="1.05" fill="url(#hg)" opacity="1.00" clip-path="url(#gc00)"/>
<rect x="3.97" y="278.10" width="25.77" height="1.05" fill="url(#hg)" opacity="0.40" clip-path="url(#gc00)"/>
<rect x="9.05" y="278.10" width="15.61" height="1.05" fill="url(#hg)" opacity="0.90" clip-path="url(#gc00)"/>
<rect x="4.57" y="279.10" width="24.56" height="1.05" fill="url(#hg)" opacity="0.29" clip-path="url(#gc00)"/>
<rect x="9.95" y="279.10" width="13.79" height="1.05" fill="url(#hg)" opacity="1.00" clip-path="url(#gc00)"/>
<rect x="5.13" y="280.10" width="23.44" height="1.05" fill="url(#hg)" opacity="0.31" clip-path="url(#gc00)"/>
<rect x="10.72" y="280.10" width="12.26" height="1.05" fill="url(#hg)" opacity="0.84" clip-path="url(#gc00)"/>
<rect x="5.65" y="281.10" width="22.40" height="1.05" fill="url(#hg)" opacity="0.38" clip-path="url(#gc00)"/>
<rect x="11.37" y="281.10" width="10.96" height="1.05" fill="url(#hg)" opacity="0.88" clip-path="url(#gc00)"/>
<rect x="6.13" y="282.10" width="21.43" height="1.05" fill="url(#hg)" opacity="0.35" clip-path="url(#gc00)"/>
<rect x="11.92" y="282.10" width="9.86" height="1.05" fill="url(#hg)" opacity="0.83" clip-path="url(#gc00)"/>
<rect x="6.58" y="283.10" width="20.54" height="1.05" fill="url(#hg)" opacity="0.31" clip-path="url(#gc00)"/>
<rect x="12.38" y="283.10" width="8.93" height="1.05" fill="url(#hg)" opacity="0.67" clip-path="url(#gc00)"/>
<rect x="6.99" y="284.10" width="19.71" height="1.05" fill="url(#hg)" opacity="0.30" clip-path="url(#gc00)"/>
<rect x="12.78" y="284.10" width="8.14" height="1.05" fill="url(#hg)" opacity="0.88" clip-path="url(#gc00)"/>
<rect x="7.38" y="285.10" width="18.94" height="1.05" fill="url(#hg)" opacity="0.27" clip-path="url(#gc00)"/>
<rect x="13.11" y="285.10" width="7.48" height="1.05" fill="url(#hg)" opacity="0.80" clip-path="url(#gc00)"/>
<rect x="7.73" y="286.10" width="18.23" height="1.05" fill="url(#hg)" opacity="0.28" clip-path="url(#gc00)"/>
<rect x="13.39" y="286.10" width="6.91" height="1.05" fill="url(#hg)" opacity="0.56" clip-path="url(#gc00)"/>
<rect x="8.06" y="287.10" width="17.57" height="1.05" fill="url(#hg)" opacity="0.28" clip-path="url(#gc00)"/>
<rect x="13.63" y="287.10" width="6.43" height="1.05" fill="url(#hg)" opacity="0.70" clip-path="url(#gc00)"/>
<rect x="8.37" y="288.10" width="16.96" height="1.05" fill="url(#hg)" opacity="0.23" clip-path="url(#gc00)"/>
<rect x="13.83" y="288.10" width="6.03" height="1.05" fill="url(#hg)" opacity="0.52" clip-path="url(#gc00)"/>
<rect x="8.65" y="289.10" width="16.39" height="1.05" fill="url(#hg)" opacity="0.28" clip-path="url(#gc00)"/>
<rect x="14.01" y="289.10" width="5.69" height="1.05" fill="url(#hg)" opacity="0.63" clip-path="url(#gc00)"/>
<rect x="8.92" y="290.10" width="15.87" height="1.05" fill="url(#hg)" opacity="0.26" clip-path="url(#gc00)"/>
<rect x="14.15" y="290.10" width="5.40" height="1.05" fill="url(#hg)" opacity="0.73" clip-path="url(#gc00)"/>
<rect x="9.16" y="291.10" width="15.38" height="1.05" fill="url(#hg)" opacity="0.26" clip-path="url(#gc00)"/>
<rect x="14.27" y="291.10" width="5.15" height="1.05" fill="url(#hg)" opacity="0.73" clip-path="url(#gc00)"/>
<rect x="9.39" y="292.10" width="14.93" height="1.05" fill="url(#hg)" opacity="0.23" clip-path="url(#gc00)"/>
<rect x="14.38" y="292.10" width="4.94" height="1.05" fill="url(#hg)" opacity="0.68" clip-path="url(#gc00)"/>
<rect x="9.60" y="293.10" width="14.51" height="1.05" fill="url(#hg)" opacity="0.23" clip-path="url(#gc00)"/>
<rect x="14.47" y="293.10" width="4.77" height="1.05" fill="url(#hg)" opacity="0.71" clip-path="url(#gc00)"/>
<rect x="9.79" y="294.10" width="14.12" height="1.05" fill="url(#hg)" opacity="0.27" clip-path="url(#gc00)"/>
<rect x="14.54" y="294.10" width="4.62" height="1.05" fill="url(#hg)" opacity="0.48" clip-path="url(#gc00)"/>
<rect x="9.97" y="295.10" width="13.76" height="1.05" fill="url(#hg)" opacity="0.20" clip-path="url(#gc00)"/>
<rect x="14.60" y="295.10" width="4.49" height="1.05" fill="url(#hg)" opacity="0.51" clip-path="url(#gc00)"/>
<rect x="8.50" y="276.10" width="16.70" height="6.00" fill="url(#vtop)" opacity="0.90"/>
<rect x="8.50" y="276.10" width="16.7" height="20.00" fill="none" stroke="#c4c4c4" stroke-width="0.7"/>
<rect x="26.67" y="276.10" width="16.70" height="20.00" fill="#fdf0ea"/>
<rect x="20.78" y="276.10" width="28.48" height="1.05" fill="url(#hg)" opacity="0.51" clip-path="url(#gc01)"/>
<rect x="24.88" y="276.10" width="20.28" height="1.05" fill="url(#hg)" opacity="1.00" clip-path="url(#gc01)"/>
<rect x="21.48" y="277.10" width="27.07" height="1.05" fill="url(#hg)" opacity="0.41" clip-path="url(#gc01)"/>
<rect x="26.15" y="277.10" width="17.75" height="1.05" fill="url(#hg)" opacity="1.00" clip-path="url(#gc01)"/>
<rect x="22.14" y="278.10" width="25.77" height="1.05" fill="url(#hg)" opacity="0.37" clip-path="url(#gc01)"/>
<rect x="27.22" y="278.10" width="15.61" height="1.05" fill="url(#hg)" opacity="1.00" clip-path="url(#gc01)"/>
<rect x="22.74" y="279.10" width="24.56" height="1.05" fill="url(#hg)" opacity="0.32" clip-path="url(#gc01)"/>
<rect x="28.12" y="279.10" width="13.79" height="1.05" fill="url(#hg)" opacity="1.00" clip-path="url(#gc01)"/>
<rect x="23.30" y="280.10" width="23.44" height="1.05" fill="url(#hg)" opacity="0.33" clip-path="url(#gc01)"/>
<rect x="28.89" y="280.10" width="12.26" height="1.05" fill="url(#hg)" opacity="1.00" clip-path="url(#gc01)"/>
<rect x="23.82" y="281.10" width="22.40" height="1.05" fill="url(#hg)" opacity="0.33" clip-path="url(#gc01)"/>
<rect x="29.54" y="281.10" width="10.96" height="1.05" fill="url(#hg)" opacity="1.00" clip-path="url(#gc01)"/>
<rect x="24.30" y="282.10" width="21.43" height="1.05" fill="url(#hg)" opacity="0.33" clip-path="url(#gc01)"/>
<rect x="30.09" y="282.10" width="9.86" height="1.05" fill="url(#hg)" opacity="0.97" clip-path="url(#gc01)"/>
<rect x="24.75" y="283.10" width="20.54" height="1.05" fill="url(#hg)" opacity="0.30" clip-path="url(#gc01)"/>
<rect x="30.55" y="283.10" width="8.93" height="1.05" fill="url(#hg)" opacity="0.64" clip-path="url(#gc01)"/>
<rect x="25.16" y="284.10" width="19.71" height="1.05" fill="url(#hg)" opacity="0.31" clip-path="url(#gc01)"/>
<rect x="30.95" y="284.10" width="8.14" height="1.05" fill="url(#hg)" opacity="0.87" clip-path="url(#gc01)"/>
<rect x="25.55" y="285.10" width="18.94" height="1.05" fill="url(#hg)" opacity="0.30" clip-path="url(#gc01)"/>
<rect x="31.28" y="285.10" width="7.48" height="1.05" fill="url(#hg)" opacity="0.71" clip-path="url(#gc01)"/>
<rect x="25.90" y="286.10" width="18.23" height="1.05" fill="url(#hg)" opacity="0.27" clip-path="url(#gc01)"/>
<rect x="31.56" y="286.10" width="6.91" height="1.05" fill="url(#hg)" opacity="0.58" clip-path="url(#gc01)"/>
<rect x="26.23" y="287.10" width="17.57" height="1.05" fill="url(#hg)" opacity="0.28" clip-path="url(#gc01)"/>
<rect x="31.80" y="287.10" width="6.43" height="1.05" fill="url(#hg)" opacity="0.66" clip-path="url(#gc01)"/>
<rect x="26.54" y="288.10" width="16.96" height="1.05" fill="url(#hg)" opacity="0.22" clip-path="url(#gc01)"/>
<rect x="32.00" y="288.10" width="6.03" height="1.05" fill="url(#hg)" opacity="0.50" clip-path="url(#gc01)"/>
<rect x="26.82" y="289.10" width="16.39" height="1.05" fill="url(#hg)" opacity="0.27" clip-path="url(#gc01)"/>
<rect x="32.18" y="289.10" width="5.69" height="1.05" fill="url(#hg)" opacity="0.74" clip-path="url(#gc01)"/>
<rect x="27.09" y="290.10" width="15.87" height="1.05" fill="url(#hg)" opacity="0.19" clip-path="url(#gc01)"/>
<rect x="32.32" y="290.10" width="5.40" height="1.05" fill="url(#hg)" opacity="0.67" clip-path="url(#gc01)"/>
<rect x="27.33" y="291.10" width="15.38" height="1.05" fill="url(#hg)" opacity="0.22" clip-path="url(#gc01)"/>
<rect x="32.44" y="291.10" width="5.15" height="1.05" fill="url(#hg)" opacity="0.49" clip-path="url(#gc01)"/>
<rect x="27.56" y="292.10" width="14.93" height="1.05" fill="url(#hg)" opacity="0.21" clip-path="url(#gc01)"/>
<rect x="32.55" y="292.10" width="4.94" height="1.05" fill="url(#hg)" opacity="0.64" clip-path="url(#gc01)"/>
<rect x="27.77" y="293.10" width="14.51" height="1.05" fill="url(#hg)" opacity="0.25" clip-path="url(#gc01)"/>
<rect x="32.64" y="293.10" width="4.77" height="1.05" fill="url(#hg)" opacity="0.45" clip-path="url(#gc01)"/>
<rect x="27.96" y="294.10" width="14.12" height="1.05" fill="url(#hg)" opacity="0.23" clip-path="url(#gc01)"/>
<rect x="32.71" y="294.10" width="4.62" height="1.05" fill="url(#hg)" opacity="0.45" clip-path="url(#gc01)"/>
<rect x="28.14" y="295.10" width="13.76" height="1.05" fill="url(#hg)" opacity="0.24" clip-path="url(#gc01)"/>
<rect x="32.77" y="295.10" width="4.49" height="1.05" fill="url(#hg)" opacity="0.51" clip-path="url(#gc01)"/>
<rect x="26.67" y="276.10" width="16.70" height="6.00" fill="url(#vtop)" opacity="0.85"/>
<rect x="26.67" y="276.10" width="16.7" height="20.00" fill="none" stroke="#c4c4c4" stroke-width="0.7"/>
<rect x="44.84" y="276.10" width="16.70" height="20.00" fill="#fdf0ea"/>
<rect x="38.95" y="276.10" width="28.48" height="1.05" fill="url(#hg)" opacity="0.49" clip-path="url(#gc02)"/>
<rect x="43.05" y="276.10" width="20.28" height="1.05" fill="url(#hg)" opacity="1.00" clip-path="url(#gc02)"/>
<rect x="39.65" y="277.10" width="27.07" height="1.05" fill="url(#hg)" opacity="0.39" clip-path="url(#gc02)"/>
<rect x="44.32" y="277.10" width="17.75" height="1.05" fill="url(#hg)" opacity="1.00" clip-path="url(#gc02)"/>
<rect x="40.31" y="278.10" width="25.77" height="1.05" fill="url(#hg)" opacity="0.34" clip-path="url(#gc02)"/>
<rect x="45.39" y="278.10" width="15.61" height="1.05" fill="url(#hg)" opacity="0.86" clip-path="url(#gc02)"/>
<rect x="40.91" y="279.10" width="24.56" height="1.05" fill="url(#hg)" opacity="0.36" clip-path="url(#gc02)"/>
<rect x="46.29" y="279.10" width="13.79" height="1.05" fill="url(#hg)" opacity="0.77" clip-path="url(#gc02)"/>
<rect x="41.47" y="280.10" width="23.44" height="1.05" fill="url(#hg)" opacity="0.28" clip-path="url(#gc02)"/>
<rect x="47.06" y="280.10" width="12.26" height="1.05" fill="url(#hg)" opacity="0.87" clip-path="url(#gc02)"/>
<rect x="41.99" y="281.10" width="22.40" height="1.05" fill="url(#hg)" opacity="0.32" clip-path="url(#gc02)"/>
<rect x="47.71" y="281.10" width="10.96" height="1.05" fill="url(#hg)" opacity="0.72" clip-path="url(#gc02)"/>
<rect x="42.47" y="282.10" width="21.43" height="1.05" fill="url(#hg)" opacity="0.24" clip-path="url(#gc02)"/>
<rect x="48.26" y="282.10" width="9.86" height="1.05" fill="url(#hg)" opacity="0.92" clip-path="url(#gc02)"/>
<rect x="42.92" y="283.10" width="20.54" height="1.05" fill="url(#hg)" opacity="0.26" clip-path="url(#gc02)"/>
<rect x="48.72" y="283.10" width="8.93" height="1.05" fill="url(#hg)" opacity="0.91" clip-path="url(#gc02)"/>
<rect x="43.33" y="284.10" width="19.71" height="1.05" fill="url(#hg)" opacity="0.31" clip-path="url(#gc02)"/>
<rect x="49.12" y="284.10" width="8.14" height="1.05" fill="url(#hg)" opacity="0.68" clip-path="url(#gc02)"/>
<rect x="43.72" y="285.10" width="18.94" height="1.05" fill="url(#hg)" opacity="0.25" clip-path="url(#gc02)"/>
<rect x="49.45" y="285.10" width="7.48" height="1.05" fill="url(#hg)" opacity="0.69" clip-path="url(#gc02)"/>
<rect x="44.07" y="286.10" width="18.23" height="1.05" fill="url(#hg)" opacity="0.26" clip-path="url(#gc02)"/>
<rect x="49.73" y="286.10" width="6.91" height="1.05" fill="url(#hg)" opacity="0.69" clip-path="url(#gc02)"/>
<rect x="44.40" y="287.10" width="17.57" height="1.05" fill="url(#hg)" opacity="0.25" clip-path="url(#gc02)"/>
<rect x="49.97" y="287.10" width="6.43" height="1.05" fill="url(#hg)" opacity="0.68" clip-path="url(#gc02)"/>
<rect x="44.71" y="288.10" width="16.96" height="1.05" fill="url(#hg)" opacity="0.28" clip-path="url(#gc02)"/>
<rect x="50.17" y="288.10" width="6.03" height="1.05" fill="url(#hg)" opacity="0.62" clip-path="url(#gc02)"/>
<rect x="44.99" y="289.10" width="16.39" height="1.05" fill="url(#hg)" opacity="0.23" clip-path="url(#gc02)"/>
<rect x="50.35" y="289.10" width="5.69" height="1.05" fill="url(#hg)" opacity="0.67" clip-path="url(#gc02)"/>
<rect x="45.26" y="290.10" width="15.87" height="1.05" fill="url(#hg)" opacity="0.21" clip-path="url(#gc02)"/>
<rect x="50.49" y="290.10" width="5.40" height="1.05" fill="url(#hg)" opacity="0.54" clip-path="url(#gc02)"/>
<rect x="45.50" y="291.10" width="15.38" height="1.05" fill="url(#hg)" opacity="0.27" clip-path="url(#gc02)"/>
<rect x="50.61" y="291.10" width="5.15" height="1.05" fill="url(#hg)" opacity="0.59" clip-path="url(#gc02)"/>
<rect x="45.73" y="292.10" width="14.93" height="1.05" fill="url(#hg)" opacity="0.23" clip-path="url(#gc02)"/>
<rect x="50.72" y="292.10" width="4.94" height="1.05" fill="url(#hg)" opacity="0.45" clip-path="url(#gc02)"/>
<rect x="45.94" y="293.10" width="14.51" height="1.05" fill="url(#hg)" opacity="0.21" clip-path="url(#gc02)"/>
<rect x="50.81" y="293.10" width="4.77" height="1.05" fill="url(#hg)" opacity="0.59" clip-path="url(#gc02)"/>
<rect x="46.13" y="294.10" width="14.12" height="1.05" fill="url(#hg)" opacity="0.18" clip-path="url(#gc02)"/>
<rect x="50.88" y="294.10" width="4.62" height="1.05" fill="url(#hg)" opacity="0.59" clip-path="url(#gc02)"/>
<rect x="46.31" y="295.10" width="13.76" height="1.05" fill="url(#hg)" opacity="0.23" clip-path="url(#gc02)"/>
<rect x="50.94" y="295.10" width="4.49" height="1.05" fill="url(#hg)" opacity="0.45" clip-path="url(#gc02)"/>
<rect x="44.84" y="276.10" width="16.70" height="6.00" fill="url(#vtop)" opacity="0.85"/>
<rect x="44.84" y="276.10" width="16.7" height="20.00" fill="none" stroke="#c4c4c4" stroke-width="0.7"/>
<rect x="63.01" y="276.10" width="16.70" height="20.00" fill="#fdf0ea"/>
<rect x="57.12" y="276.10" width="28.48" height="1.05" fill="url(#hg)" opacity="0.43" clip-path="url(#gc03)"/>
<rect x="61.22" y="276.10" width="20.28" height="1.05" fill="url(#hg)" opacity="1.00" clip-path="url(#gc03)"/>
<rect x="57.82" y="277.10" width="27.07" height="1.05" fill="url(#hg)" opacity="0.40" clip-path="url(#gc03)"/>
<rect x="62.49" y="277.10" width="17.75" height="1.05" fill="url(#hg)" opacity="1.00" clip-path="url(#gc03)"/>
<rect x="58.48" y="278.10" width="25.77" height="1.05" fill="url(#hg)" opacity="0.37" clip-path="url(#gc03)"/>
<rect x="63.56" y="278.10" width="15.61" height="1.05" fill="url(#hg)" opacity="1.00" clip-path="url(#gc03)"/>
<rect x="59.08" y="279.10" width="24.56" height="1.05" fill="url(#hg)" opacity="0.26" clip-path="url(#gc03)"/>
<rect x="64.46" y="279.10" width="13.79" height="1.05" fill="url(#hg)" opacity="0.74" clip-path="url(#gc03)"/>
<rect x="59.64" y="280.10" width="23.44" height="1.05" fill="url(#hg)" opacity="0.33" clip-path="url(#gc03)"/>
<rect x="65.23" y="280.10" width="12.26" height="1.05" fill="url(#hg)" opacity="1.00" clip-path="url(#gc03)"/>
<rect x="60.16" y="281.10" width="22.40" height="1.05" fill="url(#hg)" opacity="0.26" clip-path="url(#gc03)"/>
<rect x="65.88" y="281.10" width="10.96" height="1.05" fill="url(#hg)" opacity="0.79" clip-path="url(#gc03)"/>
<rect x="60.64" y="282.10" width="21.43" height="1.05" fill="url(#hg)" opacity="0.28" clip-path="url(#gc03)"/>
<rect x="66.43" y="282.10" width="9.86" height="1.05" fill="url(#hg)" opacity="0.69" clip-path="url(#gc03)"/>
<rect x="61.09" y="283.10" width="20.54" height="1.05" fill="url(#hg)" opacity="0.25" clip-path="url(#gc03)"/>
<rect x="66.89" y="283.10" width="8.93" height="1.05" fill="url(#hg)" opacity="0.66" clip-path="url(#gc03)"/>
<rect x="61.50" y="284.10" width="19.71" height="1.05" fill="url(#hg)" opacity="0.24" clip-path="url(#gc03)"/>
<rect x="67.29" y="284.10" width="8.14" height="1.05" fill="url(#hg)" opacity="0.71" clip-path="url(#gc03)"/>
<rect x="61.89" y="285.10" width="18.94" height="1.05" fill="url(#hg)" opacity="0.22" clip-path="url(#gc03)"/>
<rect x="67.62" y="285.10" width="7.48" height="1.05" fill="url(#hg)" opacity="0.62" clip-path="url(#gc03)"/>
<rect x="62.24" y="286.10" width="18.23" height="1.05" fill="url(#hg)" opacity="0.26" clip-path="url(#gc03)"/>
<rect x="67.90" y="286.10" width="6.91" height="1.05" fill="url(#hg)" opacity="0.50" clip-path="url(#gc03)"/>
<rect x="62.57" y="287.10" width="17.57" height="1.05" fill="url(#hg)" opacity="0.24" clip-path="url(#gc03)"/>
<rect x="68.14" y="287.10" width="6.43" height="1.05" fill="url(#hg)" opacity="0.67" clip-path="url(#gc03)"/>
<rect x="62.88" y="288.10" width="16.96" height="1.05" fill="url(#hg)" opacity="0.21" clip-path="url(#gc03)"/>
<rect x="68.34" y="288.10" width="6.03" height="1.05" fill="url(#hg)" opacity="0.52" clip-path="url(#gc03)"/>
<rect x="63.16" y="289.10" width="16.39" height="1.05" fill="url(#hg)" opacity="0.25" clip-path="url(#gc03)"/>
<rect x="68.52" y="289.10" width="5.69" height="1.05" fill="url(#hg)" opacity="0.51" clip-path="url(#gc03)"/>
<rect x="63.43" y="290.10" width="15.87" height="1.05" fill="url(#hg)" opacity="0.19" clip-path="url(#gc03)"/>
<rect x="68.66" y="290.10" width="5.40" height="1.05" fill="url(#hg)" opacity="0.55" clip-path="url(#gc03)"/>
<rect x="63.67" y="291.10" width="15.38" height="1.05" fill="url(#hg)" opacity="0.23" clip-path="url(#gc03)"/>
<rect x="68.78" y="291.10" width="5.15" height="1.05" fill="url(#hg)" opacity="0.46" clip-path="url(#gc03)"/>
<rect x="63.90" y="292.10" width="14.93" height="1.05" fill="url(#hg)" opacity="0.20" clip-path="url(#gc03)"/>
<rect x="68.89" y="292.10" width="4.94" height="1.05" fill="url(#hg)" opacity="0.50" clip-path="url(#gc03)"/>
<rect x="64.11" y="293.10" width="14.51" height="1.05" fill="url(#hg)" opacity="0.24" clip-path="url(#gc03)"/>
<rect x="68.98" y="293.10" width="4.77" height="1.05" fill="url(#hg)" opacity="0.52" clip-path="url(#gc03)"/>
<rect x="64.30" y="294.10" width="14.12" height="1.05" fill="url(#hg)" opacity="0.24" clip-path="url(#gc03)"/>
<rect x="69.05" y="294.10" width="4.62" height="1.05" fill="url(#hg)" opacity="0.45" clip-path="url(#gc03)"/>
<rect x="64.48" y="295.10" width="13.76" height="1.05" fill="url(#hg)" opacity="0.19" clip-path="url(#gc03)"/>
<rect x="69.11" y="295.10" width="4.49" height="1.05" fill="url(#hg)" opacity="0.56" clip-path="url(#gc03)"/>
<rect x="63.01" y="276.10" width="16.70" height="6.00" fill="url(#vtop)" opacity="0.81"/>
<rect x="63.01" y="276.10" width="16.7" height="20.00" fill="none" stroke="#c4c4c4" stroke-width="0.7"/>
<rect x="81.18" y="276.10" width="16.70" height="20.00" fill="#fdf0ea"/>
<rect x="75.29" y="276.10" width="28.48" height="1.05" fill="url(#hg)" opacity="0.49" clip-path="url(#gc04)"/>
<rect x="79.39" y="276.10" width="20.28" height="1.05" fill="url(#hg)" opacity="1.00" clip-path="url(#gc04)"/>
<rect x="75.99" y="277.10" width="27.07" height="1.05" fill="url(#hg)" opacity="0.35" clip-path="url(#gc04)"/>
<rect x="80.66" y="277.10" width="17.75" height="1.05" fill="url(#hg)" opacity="0.96" clip-path="url(#gc04)"/>
<rect x="76.65" y="278.10" width="25.77" height="1.05" fill="url(#hg)" opacity="0.37" clip-path="url(#gc04)"/>
<rect x="81.73" y="278.10" width="15.61" height="1.05" fill="url(#hg)" opacity="0.91" clip-path="url(#gc04)"/>
<rect x="77.25" y="279.10" width="24.56" height="1.05" fill="url(#hg)" opacity="0.38" clip-path="url(#gc04)"/>
<rect x="82.63" y="279.10" width="13.79" height="1.05" fill="url(#hg)" opacity="1.00" clip-path="url(#gc04)"/>
<rect x="77.81" y="280.10" width="23.44" height="1.05" fill="url(#hg)" opacity="0.28" clip-path="url(#gc04)"/>
<rect x="83.40" y="280.10" width="12.26" height="1.05" fill="url(#hg)" opacity="0.82" clip-path="url(#gc04)"/>
<rect x="78.33" y="281.10" width="22.40" height="1.05" fill="url(#hg)" opacity="0.34" clip-path="url(#gc04)"/>
<rect x="84.05" y="281.10" width="10.96" height="1.05" fill="url(#hg)" opacity="0.90" clip-path="url(#gc04)"/>
<rect x="78.81" y="282.10" width="21.43" height="1.05" fill="url(#hg)" opacity="0.32" clip-path="url(#gc04)"/>
<rect x="84.60" y="282.10" width="9.86" height="1.05" fill="url(#hg)" opacity="0.74" clip-path="url(#gc04)"/>
<rect x="79.26" y="283.10" width="20.54" height="1.05" fill="url(#hg)" opacity="0.24" clip-path="url(#gc04)"/>
<rect x="85.06" y="283.10" width="8.93" height="1.05" fill="url(#hg)" opacity="0.68" clip-path="url(#gc04)"/>
<rect x="79.67" y="284.10" width="19.71" height="1.05" fill="url(#hg)" opacity="0.30" clip-path="url(#gc04)"/>
<rect x="85.46" y="284.10" width="8.14" height="1.05" fill="url(#hg)" opacity="0.65" clip-path="url(#gc04)"/>
<rect x="80.06" y="285.10" width="18.94" height="1.05" fill="url(#hg)" opacity="0.24" clip-path="url(#gc04)"/>
<rect x="85.79" y="285.10" width="7.48" height="1.05" fill="url(#hg)" opacity="0.66" clip-path="url(#gc04)"/>
<rect x="80.41" y="286.10" width="18.23" height="1.05" fill="url(#hg)" opacity="0.24" clip-path="url(#gc04)"/>
<rect x="86.07" y="286.10" width="6.91" height="1.05" fill="url(#hg)" opacity="0.64" clip-path="url(#gc04)"/>
<rect x="80.74" y="287.10" width="17.57" height="1.05" fill="url(#hg)" opacity="0.28" clip-path="url(#gc04)"/>
<rect x="86.31" y="287.10" width="6.43" height="1.05" fill="url(#hg)" opacity="0.54" clip-path="url(#gc04)"/>
<rect x="81.05" y="288.10" width="16.96" height="1.05" fill="url(#hg)" opacity="0.19" clip-path="url(#gc04)"/>
<rect x="86.51" y="288.10" width="6.03" height="1.05" fill="url(#hg)" opacity="0.74" clip-path="url(#gc04)"/>
<rect x="81.33" y="289.10" width="16.39" height="1.05" fill="url(#hg)" opacity="0.27" clip-path="url(#gc04)"/>
<rect x="86.69" y="289.10" width="5.69" height="1.05" fill="url(#hg)" opacity="0.74" clip-path="url(#gc04)"/>
<rect x="81.60" y="290.10" width="15.87" height="1.05" fill="url(#hg)" opacity="0.22" clip-path="url(#gc04)"/>
<rect x="86.83" y="290.10" width="5.40" height="1.05" fill="url(#hg)" opacity="0.71" clip-path="url(#gc04)"/>
<rect x="81.84" y="291.10" width="15.38" height="1.05" fill="url(#hg)" opacity="0.27" clip-path="url(#gc04)"/>
<rect x="86.95" y="291.10" width="5.15" height="1.05" fill="url(#hg)" opacity="0.51" clip-path="url(#gc04)"/>
<rect x="82.07" y="292.10" width="14.93" height="1.05" fill="url(#hg)" opacity="0.25" clip-path="url(#gc04)"/>
<rect x="87.06" y="292.10" width="4.94" height="1.05" fill="url(#hg)" opacity="0.66" clip-path="url(#gc04)"/>
<rect x="82.28" y="293.10" width="14.51" height="1.05" fill="url(#hg)" opacity="0.24" clip-path="url(#gc04)"/>
<rect x="87.15" y="293.10" width="4.77" height="1.05" fill="url(#hg)" opacity="0.57" clip-path="url(#gc04)"/>
<rect x="82.47" y="294.10" width="14.12" height="1.05" fill="url(#hg)" opacity="0.20" clip-path="url(#gc04)"/>
<rect x="87.22" y="294.10" width="4.62" height="1.05" fill="url(#hg)" opacity="0.52" clip-path="url(#gc04)"/>
<rect x="82.65" y="295.10" width="13.76" height="1.05" fill="url(#hg)" opacity="0.19" clip-path="url(#gc04)"/>
<rect x="87.28" y="295.10" width="4.49" height="1.05" fill="url(#hg)" opacity="0.45" clip-path="url(#gc04)"/>
<rect x="81.18" y="276.10" width="16.70" height="6.00" fill="url(#vtop)" opacity="0.85"/>
<rect x="81.18" y="276.10" width="16.7" height="20.00" fill="none" stroke="#c4c4c4" stroke-width="0.7"/>
<rect x="99.35" y="276.10" width="16.70" height="20.00" fill="#fdf0ea"/>
<rect x="93.46" y="276.10" width="28.48" height="1.05" fill="url(#hg)" opacity="0.42" clip-path="url(#gc05)"/>
<rect x="97.56" y="276.10" width="20.28" height="1.05" fill="url(#hg)" opacity="1.00" clip-path="url(#gc05)"/>
<rect x="94.16" y="277.10" width="27.07" height="1.05" fill="url(#hg)" opacity="0.42" clip-path="url(#gc05)"/>
<rect x="98.83" y="277.10" width="17.75" height="1.05" fill="url(#hg)" opacity="0.87" clip-path="url(#gc05)"/>
<rect x="94.82" y="278.10" width="25.77" height="1.05" fill="url(#hg)" opacity="0.40" clip-path="url(#gc05)"/>
<rect x="99.90" y="278.10" width="15.61" height="1.05" fill="url(#hg)" opacity="1.00" clip-path="url(#gc05)"/>
<rect x="95.42" y="279.10" width="24.56" height="1.05" fill="url(#hg)" opacity="0.38" clip-path="url(#gc05)"/>
<rect x="100.80" y="279.10" width="13.79" height="1.05" fill="url(#hg)" opacity="1.00" clip-path="url(#gc05)"/>
<rect x="95.98" y="280.10" width="23.44" height="1.05" fill="url(#hg)" opacity="0.35" clip-path="url(#gc05)"/>
<rect x="101.57" y="280.10" width="12.26" height="1.05" fill="url(#hg)" opacity="0.89" clip-path="url(#gc05)"/>
<rect x="96.50" y="281.10" width="22.40" height="1.05" fill="url(#hg)" opacity="0.23" clip-path="url(#gc05)"/>
<rect x="102.22" y="281.10" width="10.96" height="1.05" fill="url(#hg)" opacity="0.89" clip-path="url(#gc05)"/>
<rect x="96.98" y="282.10" width="21.43" height="1.05" fill="url(#hg)" opacity="0.24" clip-path="url(#gc05)"/>
<rect x="102.77" y="282.10" width="9.86" height="1.05" fill="url(#hg)" opacity="0.69" clip-path="url(#gc05)"/>
<rect x="97.43" y="283.10" width="20.54" height="1.05" fill="url(#hg)" opacity="0.28" clip-path="url(#gc05)"/>
<rect x="103.23" y="283.10" width="8.93" height="1.05" fill="url(#hg)" opacity="0.72" clip-path="url(#gc05)"/>
<rect x="97.84" y="284.10" width="19.71" height="1.05" fill="url(#hg)" opacity="0.24" clip-path="url(#gc05)"/>
<rect x="103.63" y="284.10" width="8.14" height="1.05" fill="url(#hg)" opacity="0.81" clip-path="url(#gc05)"/>
<rect x="98.23" y="285.10" width="18.94" height="1.05" fill="url(#hg)" opacity="0.26" clip-path="url(#gc05)"/>
<rect x="103.96" y="285.10" width="7.48" height="1.05" fill="url(#hg)" opacity="0.61" clip-path="url(#gc05)"/>
<rect x="98.58" y="286.10" width="18.23" height="1.05" fill="url(#hg)" opacity="0.21" clip-path="url(#gc05)"/>
<rect x="104.24" y="286.10" width="6.91" height="1.05" fill="url(#hg)" opacity="0.73" clip-path="url(#gc05)"/>
<rect x="98.91" y="287.10" width="17.57" height="1.05" fill="url(#hg)" opacity="0.23" clip-path="url(#gc05)"/>
<rect x="104.48" y="287.10" width="6.43" height="1.05" fill="url(#hg)" opacity="0.68" clip-path="url(#gc05)"/>
<rect x="99.22" y="288.10" width="16.96" height="1.05" fill="url(#hg)" opacity="0.21" clip-path="url(#gc05)"/>
<rect x="104.68" y="288.10" width="6.03" height="1.05" fill="url(#hg)" opacity="0.51" clip-path="url(#gc05)"/>
<rect x="99.50" y="289.10" width="16.39" height="1.05" fill="url(#hg)" opacity="0.22" clip-path="url(#gc05)"/>
<rect x="104.86" y="289.10" width="5.69" height="1.05" fill="url(#hg)" opacity="0.66" clip-path="url(#gc05)"/>
<rect x="99.77" y="290.10" width="15.87" height="1.05" fill="url(#hg)" opacity="0.19" clip-path="url(#gc05)"/>
<rect x="105.00" y="290.10" width="5.40" height="1.05" fill="url(#hg)" opacity="0.64" clip-path="url(#gc05)"/>
<rect x="100.01" y="291.10" width="15.38" height="1.05" fill="url(#hg)" opacity="0.25" clip-path="url(#gc05)"/>
<rect x="105.12" y="291.10" width="5.15" height="1.05" fill="url(#hg)" opacity="0.63" clip-path="url(#gc05)"/>
<rect x="100.24" y="292.10" width="14.93" height="1.05" fill="url(#hg)" opacity="0.24" clip-path="url(#gc05)"/>
<rect x="105.23" y="292.10" width="4.94" height="1.05" fill="url(#hg)" opacity="0.43" clip-path="url(#gc05)"/>
<rect x="100.45" y="293.10" width="14.51" height="1.05" fill="url(#hg)" opacity="0.22" clip-path="url(#gc05)"/>
<rect x="105.32" y="293.10" width="4.77" height="1.05" fill="url(#hg)" opacity="0.62" clip-path="url(#gc05)"/>
<rect x="100.64" y="294.10" width="14.12" height="1.05" fill="url(#hg)" opacity="0.17" clip-path="url(#gc05)"/>
<rect x="105.39" y="294.10" width="4.62" height="1.05" fill="url(#hg)" opacity="0.48" clip-path="url(#gc05)"/>
<rect x="100.82" y="295.10" width="13.76" height="1.05" fill="url(#hg)" opacity="0.19" clip-path="url(#gc05)"/>
<rect x="105.45" y="295.10" width="4.49" height="1.05" fill="url(#hg)" opacity="0.53" clip-path="url(#gc05)"/>
<rect x="99.35" y="276.10" width="16.70" height="6.00" fill="url(#vtop)" opacity="0.81"/>
<rect x="99.35" y="276.10" width="16.7" height="20.00" fill="none" stroke="#c4c4c4" stroke-width="0.7"/>
<rect x="117.52" y="276.10" width="16.70" height="20.00" fill="#fdf0ea"/>
<rect x="111.63" y="276.10" width="28.48" height="1.05" fill="url(#hg)" opacity="0.44" clip-path="url(#gc06)"/>
<rect x="115.73" y="276.10" width="20.28" height="1.05" fill="url(#hg)" opacity="1.00" clip-path="url(#gc06)"/>
<rect x="112.33" y="277.10" width="27.07" height="1.05" fill="url(#hg)" opacity="0.46" clip-path="url(#gc06)"/>
<rect x="117.00" y="277.10" width="17.75" height="1.05" fill="url(#hg)" opacity="0.95" clip-path="url(#gc06)"/>
<rect x="112.99" y="278.10" width="25.77" height="1.05" fill="url(#hg)" opacity="0.32" clip-path="url(#gc06)"/>
<rect x="118.07" y="278.10" width="15.61" height="1.05" fill="url(#hg)" opacity="0.93" clip-path="url(#gc06)"/>
<rect x="113.59" y="279.10" width="24.56" height="1.05" fill="url(#hg)" opacity="0.31" clip-path="url(#gc06)"/>
<rect x="118.97" y="279.10" width="13.79" height="1.05" fill="url(#hg)" opacity="0.83" clip-path="url(#gc06)"/>
<rect x="114.15" y="280.10" width="23.44" height="1.05" fill="url(#hg)" opacity="0.40" clip-path="url(#gc06)"/>
<rect x="119.74" y="280.10" width="12.26" height="1.05" fill="url(#hg)" opacity="1.00" clip-path="url(#gc06)"/>
<rect x="114.67" y="281.10" width="22.40" height="1.05" fill="url(#hg)" opacity="0.27" clip-path="url(#gc06)"/>
<rect x="120.39" y="281.10" width="10.96" height="1.05" fill="url(#hg)" opacity="0.89" clip-path="url(#gc06)"/>
<rect x="115.15" y="282.10" width="21.43" height="1.05" fill="url(#hg)" opacity="0.28" clip-path="url(#gc06)"/>
<rect x="120.94" y="282.10" width="9.86" height="1.05" fill="url(#hg)" opacity="0.77" clip-path="url(#gc06)"/>
<rect x="115.60" y="283.10" width="20.54" height="1.05" fill="url(#hg)" opacity="0.27" clip-path="url(#gc06)"/>
<rect x="121.40" y="283.10" width="8.93" height="1.05" fill="url(#hg)" opacity="0.84" clip-path="url(#gc06)"/>
<rect x="116.01" y="284.10" width="19.71" height="1.05" fill="url(#hg)" opacity="0.29" clip-path="url(#gc06)"/>
<rect x="121.80" y="284.10" width="8.14" height="1.05" fill="url(#hg)" opacity="0.71" clip-path="url(#gc06)"/>
<rect x="116.40" y="285.10" width="18.94" height="1.05" fill="url(#hg)" opacity="0.24" clip-path="url(#gc06)"/>
<rect x="122.13" y="285.10" width="7.48" height="1.05" fill="url(#hg)" opacity="0.67" clip-path="url(#gc06)"/>
<rect x="116.75" y="286.10" width="18.23" height="1.05" fill="url(#hg)" opacity="0.22" clip-path="url(#gc06)"/>
<rect x="122.41" y="286.10" width="6.91" height="1.05" fill="url(#hg)" opacity="0.71" clip-path="url(#gc06)"/>
<rect x="117.08" y="287.10" width="17.57" height="1.05" fill="url(#hg)" opacity="0.28" clip-path="url(#gc06)"/>
<rect x="122.65" y="287.10" width="6.43" height="1.05" fill="url(#hg)" opacity="0.64" clip-path="url(#gc06)"/>
<rect x="117.39" y="288.10" width="16.96" height="1.05" fill="url(#hg)" opacity="0.21" clip-path="url(#gc06)"/>
<rect x="122.85" y="288.10" width="6.03" height="1.05" fill="url(#hg)" opacity="0.56" clip-path="url(#gc06)"/>
<rect x="117.67" y="289.10" width="16.39" height="1.05" fill="url(#hg)" opacity="0.23" clip-path="url(#gc06)"/>
<rect x="123.03" y="289.10" width="5.69" height="1.05" fill="url(#hg)" opacity="0.67" clip-path="url(#gc06)"/>
<rect x="117.94" y="290.10" width="15.87" height="1.05" fill="url(#hg)" opacity="0.27" clip-path="url(#gc06)"/>
<rect x="123.17" y="290.10" width="5.40" height="1.05" fill="url(#hg)" opacity="0.59" clip-path="url(#gc06)"/>
<rect x="118.18" y="291.10" width="15.38" height="1.05" fill="url(#hg)" opacity="0.27" clip-path="url(#gc06)"/>
<rect x="123.29" y="291.10" width="5.15" height="1.05" fill="url(#hg)" opacity="0.65" clip-path="url(#gc06)"/>
<rect x="118.41" y="292.10" width="14.93" height="1.05" fill="url(#hg)" opacity="0.23" clip-path="url(#gc06)"/>
<rect x="123.40" y="292.10" width="4.94" height="1.05" fill="url(#hg)" opacity="0.57" clip-path="url(#gc06)"/>
<rect x="118.62" y="293.10" width="14.51" height="1.05" fill="url(#hg)" opacity="0.23" clip-path="url(#gc06)"/>
<rect x="123.49" y="293.10" width="4.77" height="1.05" fill="url(#hg)" opacity="0.65" clip-path="url(#gc06)"/>
<rect x="118.81" y="294.10" width="14.12" height="1.05" fill="url(#hg)" opacity="0.22" clip-path="url(#gc06)"/>
<rect x="123.56" y="294.10" width="4.62" height="1.05" fill="url(#hg)" opacity="0.64" clip-path="url(#gc06)"/>
<rect x="118.99" y="295.10" width="13.76" height="1.05" fill="url(#hg)" opacity="0.23" clip-path="url(#gc06)"/>
<rect x="123.62" y="295.10" width="4.49" height="1.05" fill="url(#hg)" opacity="0.52" clip-path="url(#gc06)"/>
<rect x="117.52" y="276.10" width="16.70" height="6.00" fill="url(#vtop)" opacity="0.90"/>
<rect x="117.52" y="276.10" width="16.7" height="20.00" fill="none" stroke="#c4c4c4" stroke-width="0.7"/>
<rect x="135.69" y="276.10" width="16.70" height="20.00" fill="#fdf0ea"/>
<rect x="129.80" y="276.10" width="28.48" height="1.05" fill="url(#hg)" opacity="0.48" clip-path="url(#gc07)"/>
<rect x="133.90" y="276.10" width="20.28" height="1.05" fill="url(#hg)" opacity="1.00" clip-path="url(#gc07)"/>
<rect x="130.50" y="277.10" width="27.07" height="1.05" fill="url(#hg)" opacity="0.36" clip-path="url(#gc07)"/>
<rect x="135.17" y="277.10" width="17.75" height="1.05" fill="url(#hg)" opacity="1.00" clip-path="url(#gc07)"/>
<rect x="131.16" y="278.10" width="25.77" height="1.05" fill="url(#hg)" opacity="0.39" clip-path="url(#gc07)"/>
<rect x="136.24" y="278.10" width="15.61" height="1.05" fill="url(#hg)" opacity="1.00" clip-path="url(#gc07)"/>
<rect x="131.76" y="279.10" width="24.56" height="1.05" fill="url(#hg)" opacity="0.44" clip-path="url(#gc07)"/>
<rect x="137.14" y="279.10" width="13.79" height="1.05" fill="url(#hg)" opacity="1.00" clip-path="url(#gc07)"/>
<rect x="132.32" y="280.10" width="23.44" height="1.05" fill="url(#hg)" opacity="0.41" clip-path="url(#gc07)"/>
<rect x="137.91" y="280.10" width="12.26" height="1.05" fill="url(#hg)" opacity="1.00" clip-path="url(#gc07)"/>
<rect x="132.84" y="281.10" width="22.40" height="1.05" fill="url(#hg)" opacity="0.30" clip-path="url(#gc07)"/>
<rect x="138.56" y="281.10" width="10.96" height="1.05" fill="url(#hg)" opacity="0.92" clip-path="url(#gc07)"/>
<rect x="133.32" y="282.10" width="21.43" height="1.05" fill="url(#hg)" opacity="0.27" clip-path="url(#gc07)"/>
<rect x="139.11" y="282.10" width="9.86" height="1.05" fill="url(#hg)" opacity="1.00" clip-path="url(#gc07)"/>
<rect x="133.77" y="283.10" width="20.54" height="1.05" fill="url(#hg)" opacity="0.33" clip-path="url(#gc07)"/>
<rect x="139.57" y="283.10" width="8.93" height="1.05" fill="url(#hg)" opacity="0.98" clip-path="url(#gc07)"/>
<rect x="134.18" y="284.10" width="19.71" height="1.05" fill="url(#hg)" opacity="0.33" clip-path="url(#gc07)"/>
<rect x="139.97" y="284.10" width="8.14" height="1.05" fill="url(#hg)" opacity="0.85" clip-path="url(#gc07)"/>
<rect x="134.57" y="285.10" width="18.94" height="1.05" fill="url(#hg)" opacity="0.31" clip-path="url(#gc07)"/>
<rect x="140.30" y="285.10" width="7.48" height="1.05" fill="url(#hg)" opacity="0.78" clip-path="url(#gc07)"/>
<rect x="134.92" y="286.10" width="18.23" height="1.05" fill="url(#hg)" opacity="0.23" clip-path="url(#gc07)"/>
<rect x="140.58" y="286.10" width="6.91" height="1.05" fill="url(#hg)" opacity="0.76" clip-path="url(#gc07)"/>
<rect x="135.25" y="287.10" width="17.57" height="1.05" fill="url(#hg)" opacity="0.22" clip-path="url(#gc07)"/>
<rect x="140.82" y="287.10" width="6.43" height="1.05" fill="url(#hg)" opacity="0.60" clip-path="url(#gc07)"/>
<rect x="135.56" y="288.10" width="16.96" height="1.05" fill="url(#hg)" opacity="0.29" clip-path="url(#gc07)"/>
<rect x="141.02" y="288.10" width="6.03" height="1.05" fill="url(#hg)" opacity="0.55" clip-path="url(#gc07)"/>
<rect x="135.84" y="289.10" width="16.39" height="1.05" fill="url(#hg)" opacity="0.22" clip-path="url(#gc07)"/>
<rect x="141.20" y="289.10" width="5.69" height="1.05" fill="url(#hg)" opacity="0.55" clip-path="url(#gc07)"/>
<rect x="136.11" y="290.10" width="15.87" height="1.05" fill="url(#hg)" opacity="0.29" clip-path="url(#gc07)"/>
<rect x="141.34" y="290.10" width="5.40" height="1.05" fill="url(#hg)" opacity="0.56" clip-path="url(#gc07)"/>
<rect x="136.35" y="291.10" width="15.38" height="1.05" fill="url(#hg)" opacity="0.20" clip-path="url(#gc07)"/>
<rect x="141.46" y="291.10" width="5.15" height="1.05" fill="url(#hg)" opacity="0.74" clip-path="url(#gc07)"/>
<rect x="136.58" y="292.10" width="14.93" height="1.05" fill="url(#hg)" opacity="0.21" clip-path="url(#gc07)"/>
<rect x="141.57" y="292.10" width="4.94" height="1.05" fill="url(#hg)" opacity="0.73" clip-path="url(#gc07)"/>
<rect x="136.79" y="293.10" width="14.51" height="1.05" fill="url(#hg)" opacity="0.26" clip-path="url(#gc07)"/>
<rect x="141.66" y="293.10" width="4.77" height="1.05" fill="url(#hg)" opacity="0.72" clip-path="url(#gc07)"/>
<rect x="136.98" y="294.10" width="14.12" height="1.05" fill="url(#hg)" opacity="0.29" clip-path="url(#gc07)"/>
<rect x="141.73" y="294.10" width="4.62" height="1.05" fill="url(#hg)" opacity="0.64" clip-path="url(#gc07)"/>
<rect x="137.16" y="295.10" width="13.76" height="1.05" fill="url(#hg)" opacity="0.27" clip-path="url(#gc07)"/>
<rect x="141.79" y="295.10" width="4.49" height="1.05" fill="url(#hg)" opacity="0.49" clip-path="url(#gc07)"/>
<rect x="135.69" y="276.10" width="16.70" height="6.00" fill="url(#vtop)" opacity="0.95"/>
<rect x="135.69" y="276.10" width="16.7" height="20.00" fill="none" stroke="#c4c4c4" stroke-width="0.7"/>
<rect x="8.50" y="298.10" width="16.70" height="16.90" fill="#fdf0ea"/>
<rect x="2.58" y="298.10" width="28.53" height="1.04" fill="url(#hg)" opacity="0.45" clip-path="url(#gc10)"/>
<rect x="6.65" y="298.10" width="20.41" height="1.04" fill="url(#hg)" opacity="1.00" clip-path="url(#gc10)"/>
<rect x="3.24" y="299.09" width="27.22" height="1.04" fill="url(#hg)" opacity="0.41" clip-path="url(#gc10)"/>
<rect x="7.81" y="299.09" width="18.08" height="1.04" fill="url(#hg)" opacity="0.84" clip-path="url(#gc10)"/>
<rect x="3.85" y="300.09" width="25.99" height="1.04" fill="url(#hg)" opacity="0.39" clip-path="url(#gc10)"/>
<rect x="8.80" y="300.09" width="16.09" height="1.04" fill="url(#hg)" opacity="1.00" clip-path="url(#gc10)"/>
<rect x="4.42" y="301.08" width="24.85" height="1.04" fill="url(#hg)" opacity="0.27" clip-path="url(#gc10)"/>
<rect x="9.66" y="301.08" width="14.39" height="1.04" fill="url(#hg)" opacity="0.78" clip-path="url(#gc10)"/>
<rect x="4.96" y="302.08" width="23.79" height="1.04" fill="url(#hg)" opacity="0.32" clip-path="url(#gc10)"/>
<rect x="10.39" y="302.08" width="12.92" height="1.04" fill="url(#hg)" opacity="0.90" clip-path="url(#gc10)"/>
<rect x="5.45" y="303.07" width="22.79" height="1.04" fill="url(#hg)" opacity="0.26" clip-path="url(#gc10)"/>
<rect x="11.01" y="303.07" width="11.67" height="1.04" fill="url(#hg)" opacity="0.63" clip-path="url(#gc10)"/>
<rect x="5.92" y="304.06" width="21.87" height="1.04" fill="url(#hg)" opacity="0.25" clip-path="url(#gc10)"/>
<rect x="11.55" y="304.06" width="10.60" height="1.04" fill="url(#hg)" opacity="0.72" clip-path="url(#gc10)"/>
<rect x="6.35" y="305.06" width="21.01" height="1.04" fill="url(#hg)" opacity="0.30" clip-path="url(#gc10)"/>
<rect x="12.01" y="305.06" width="9.68" height="1.04" fill="url(#hg)" opacity="0.61" clip-path="url(#gc10)"/>
<rect x="6.75" y="306.05" width="20.20" height="1.04" fill="url(#hg)" opacity="0.24" clip-path="url(#gc10)"/>
<rect x="12.40" y="306.05" width="8.90" height="1.04" fill="url(#hg)" opacity="0.58" clip-path="url(#gc10)"/>
<rect x="7.12" y="307.05" width="19.46" height="1.04" fill="url(#hg)" opacity="0.23" clip-path="url(#gc10)"/>
<rect x="12.74" y="307.05" width="8.22" height="1.04" fill="url(#hg)" opacity="0.56" clip-path="url(#gc10)"/>
<rect x="7.47" y="308.04" width="18.76" height="1.04" fill="url(#hg)" opacity="0.20" clip-path="url(#gc10)"/>
<rect x="13.03" y="308.04" width="7.65" height="1.04" fill="url(#hg)" opacity="0.56" clip-path="url(#gc10)"/>
<rect x="7.80" y="309.04" width="18.11" height="1.04" fill="url(#hg)" opacity="0.28" clip-path="url(#gc10)"/>
<rect x="13.27" y="309.04" width="7.15" height="1.04" fill="url(#hg)" opacity="0.51" clip-path="url(#gc10)"/>
<rect x="8.10" y="310.03" width="17.50" height="1.04" fill="url(#hg)" opacity="0.25" clip-path="url(#gc10)"/>
<rect x="13.49" y="310.03" width="6.73" height="1.04" fill="url(#hg)" opacity="0.44" clip-path="url(#gc10)"/>
<rect x="8.38" y="311.02" width="16.94" height="1.04" fill="url(#hg)" opacity="0.24" clip-path="url(#gc10)"/>
<rect x="13.67" y="311.02" width="6.37" height="1.04" fill="url(#hg)" opacity="0.56" clip-path="url(#gc10)"/>
<rect x="8.65" y="312.02" width="16.41" height="1.04" fill="url(#hg)" opacity="0.24" clip-path="url(#gc10)"/>
<rect x="13.82" y="312.02" width="6.06" height="1.04" fill="url(#hg)" opacity="0.49" clip-path="url(#gc10)"/>
<rect x="8.89" y="313.01" width="15.92" height="1.04" fill="url(#hg)" opacity="0.22" clip-path="url(#gc10)"/>
<rect x="13.96" y="313.01" width="5.79" height="1.04" fill="url(#hg)" opacity="0.50" clip-path="url(#gc10)"/>
<rect x="9.12" y="314.01" width="15.46" height="1.04" fill="url(#hg)" opacity="0.25" clip-path="url(#gc10)"/>
<rect x="14.07" y="314.01" width="5.56" height="1.04" fill="url(#hg)" opacity="0.39" clip-path="url(#gc10)"/>
<rect x="8.50" y="298.10" width="16.70" height="5.91" fill="url(#vtop)" opacity="0.81"/>
<rect x="8.50" y="298.10" width="16.7" height="16.90" fill="none" stroke="#c4c4c4" stroke-width="0.7"/>
<rect x="26.67" y="298.10" width="16.70" height="16.90" fill="#fdf0ea"/>
<rect x="20.75" y="298.10" width="28.53" height="1.04" fill="url(#hg)" opacity="0.34" clip-path="url(#gc11)"/>
<rect x="24.82" y="298.10" width="20.41" height="1.04" fill="url(#hg)" opacity="1.00" clip-path="url(#gc11)"/>
<rect x="21.41" y="299.09" width="27.22" height="1.04" fill="url(#hg)" opacity="0.44" clip-path="url(#gc11)"/>
<rect x="25.98" y="299.09" width="18.08" height="1.04" fill="url(#hg)" opacity="1.00" clip-path="url(#gc11)"/>
<rect x="22.02" y="300.09" width="25.99" height="1.04" fill="url(#hg)" opacity="0.34" clip-path="url(#gc11)"/>
<rect x="26.97" y="300.09" width="16.09" height="1.04" fill="url(#hg)" opacity="1.00" clip-path="url(#gc11)"/>
<rect x="22.59" y="301.08" width="24.85" height="1.04" fill="url(#hg)" opacity="0.29" clip-path="url(#gc11)"/>
<rect x="27.83" y="301.08" width="14.39" height="1.04" fill="url(#hg)" opacity="0.76" clip-path="url(#gc11)"/>
<rect x="23.13" y="302.08" width="23.79" height="1.04" fill="url(#hg)" opacity="0.27" clip-path="url(#gc11)"/>
<rect x="28.56" y="302.08" width="12.92" height="1.04" fill="url(#hg)" opacity="0.82" clip-path="url(#gc11)"/>
<rect x="23.62" y="303.07" width="22.79" height="1.04" fill="url(#hg)" opacity="0.27" clip-path="url(#gc11)"/>
<rect x="29.18" y="303.07" width="11.67" height="1.04" fill="url(#hg)" opacity="0.65" clip-path="url(#gc11)"/>
<rect x="24.09" y="304.06" width="21.87" height="1.04" fill="url(#hg)" opacity="0.30" clip-path="url(#gc11)"/>
<rect x="29.72" y="304.06" width="10.60" height="1.04" fill="url(#hg)" opacity="0.82" clip-path="url(#gc11)"/>
<rect x="24.52" y="305.06" width="21.01" height="1.04" fill="url(#hg)" opacity="0.25" clip-path="url(#gc11)"/>
<rect x="30.18" y="305.06" width="9.68" height="1.04" fill="url(#hg)" opacity="0.70" clip-path="url(#gc11)"/>
<rect x="24.92" y="306.05" width="20.20" height="1.04" fill="url(#hg)" opacity="0.25" clip-path="url(#gc11)"/>
<rect x="30.57" y="306.05" width="8.90" height="1.04" fill="url(#hg)" opacity="0.71" clip-path="url(#gc11)"/>
<rect x="25.29" y="307.05" width="19.46" height="1.04" fill="url(#hg)" opacity="0.26" clip-path="url(#gc11)"/>
<rect x="30.91" y="307.05" width="8.22" height="1.04" fill="url(#hg)" opacity="0.52" clip-path="url(#gc11)"/>
<rect x="25.64" y="308.04" width="18.76" height="1.04" fill="url(#hg)" opacity="0.21" clip-path="url(#gc11)"/>
<rect x="31.20" y="308.04" width="7.65" height="1.04" fill="url(#hg)" opacity="0.44" clip-path="url(#gc11)"/>
<rect x="25.97" y="309.04" width="18.11" height="1.04" fill="url(#hg)" opacity="0.23" clip-path="url(#gc11)"/>
<rect x="31.44" y="309.04" width="7.15" height="1.04" fill="url(#hg)" opacity="0.51" clip-path="url(#gc11)"/>
<rect x="26.27" y="310.03" width="17.50" height="1.04" fill="url(#hg)" opacity="0.20" clip-path="url(#gc11)"/>
<rect x="31.66" y="310.03" width="6.73" height="1.04" fill="url(#hg)" opacity="0.48" clip-path="url(#gc11)"/>
<rect x="26.55" y="311.02" width="16.94" height="1.04" fill="url(#hg)" opacity="0.21" clip-path="url(#gc11)"/>
<rect x="31.84" y="311.02" width="6.37" height="1.04" fill="url(#hg)" opacity="0.56" clip-path="url(#gc11)"/>
<rect x="26.82" y="312.02" width="16.41" height="1.04" fill="url(#hg)" opacity="0.19" clip-path="url(#gc11)"/>
<rect x="31.99" y="312.02" width="6.06" height="1.04" fill="url(#hg)" opacity="0.59" clip-path="url(#gc11)"/>
<rect x="27.06" y="313.01" width="15.92" height="1.04" fill="url(#hg)" opacity="0.22" clip-path="url(#gc11)"/>
<rect x="32.13" y="313.01" width="5.79" height="1.04" fill="url(#hg)" opacity="0.50" clip-path="url(#gc11)"/>
<rect x="27.29" y="314.01" width="15.46" height="1.04" fill="url(#hg)" opacity="0.21" clip-path="url(#gc11)"/>
<rect x="32.24" y="314.01" width="5.56" height="1.04" fill="url(#hg)" opacity="0.53" clip-path="url(#gc11)"/>
<rect x="26.67" y="298.10" width="16.70" height="5.91" fill="url(#vtop)" opacity="0.81"/>
<rect x="26.67" y="298.10" width="16.7" height="16.90" fill="none" stroke="#c4c4c4" stroke-width="0.7"/>
<rect x="44.84" y="298.10" width="16.70" height="16.90" fill="#fdf0ea"/>
<rect x="38.92" y="298.10" width="28.53" height="1.04" fill="url(#hg)" opacity="0.48" clip-path="url(#gc12)"/>
<rect x="42.99" y="298.10" width="20.41" height="1.04" fill="url(#hg)" opacity="1.00" clip-path="url(#gc12)"/>
<rect x="39.58" y="299.09" width="27.22" height="1.04" fill="url(#hg)" opacity="0.39" clip-path="url(#gc12)"/>
<rect x="44.15" y="299.09" width="18.08" height="1.04" fill="url(#hg)" opacity="1.00" clip-path="url(#gc12)"/>
<rect x="40.19" y="300.09" width="25.99" height="1.04" fill="url(#hg)" opacity="0.42" clip-path="url(#gc12)"/>
<rect x="45.14" y="300.09" width="16.09" height="1.04" fill="url(#hg)" opacity="0.93" clip-path="url(#gc12)"/>
<rect x="40.76" y="301.08" width="24.85" height="1.04" fill="url(#hg)" opacity="0.38" clip-path="url(#gc12)"/>
<rect x="46.00" y="301.08" width="14.39" height="1.04" fill="url(#hg)" opacity="1.00" clip-path="url(#gc12)"/>
<rect x="41.30" y="302.08" width="23.79" height="1.04" fill="url(#hg)" opacity="0.32" clip-path="url(#gc12)"/>
<rect x="46.73" y="302.08" width="12.92" height="1.04" fill="url(#hg)" opacity="0.73" clip-path="url(#gc12)"/>
<rect x="41.79" y="303.07" width="22.79" height="1.04" fill="url(#hg)" opacity="0.28" clip-path="url(#gc12)"/>
<rect x="47.35" y="303.07" width="11.67" height="1.04" fill="url(#hg)" opacity="0.85" clip-path="url(#gc12)"/>
<rect x="42.26" y="304.06" width="21.87" height="1.04" fill="url(#hg)" opacity="0.32" clip-path="url(#gc12)"/>
<rect x="47.89" y="304.06" width="10.60" height="1.04" fill="url(#hg)" opacity="0.87" clip-path="url(#gc12)"/>
<rect x="42.69" y="305.06" width="21.01" height="1.04" fill="url(#hg)" opacity="0.32" clip-path="url(#gc12)"/>
<rect x="48.35" y="305.06" width="9.68" height="1.04" fill="url(#hg)" opacity="0.60" clip-path="url(#gc12)"/>
<rect x="43.09" y="306.05" width="20.20" height="1.04" fill="url(#hg)" opacity="0.24" clip-path="url(#gc12)"/>
<rect x="48.74" y="306.05" width="8.90" height="1.04" fill="url(#hg)" opacity="0.58" clip-path="url(#gc12)"/>
<rect x="43.46" y="307.05" width="19.46" height="1.04" fill="url(#hg)" opacity="0.23" clip-path="url(#gc12)"/>
<rect x="49.08" y="307.05" width="8.22" height="1.04" fill="url(#hg)" opacity="0.67" clip-path="url(#gc12)"/>
<rect x="43.81" y="308.04" width="18.76" height="1.04" fill="url(#hg)" opacity="0.29" clip-path="url(#gc12)"/>
<rect x="49.37" y="308.04" width="7.65" height="1.04" fill="url(#hg)" opacity="0.69" clip-path="url(#gc12)"/>
<rect x="44.14" y="309.04" width="18.11" height="1.04" fill="url(#hg)" opacity="0.22" clip-path="url(#gc12)"/>
<rect x="49.61" y="309.04" width="7.15" height="1.04" fill="url(#hg)" opacity="0.65" clip-path="url(#gc12)"/>
<rect x="44.44" y="310.03" width="17.50" height="1.04" fill="url(#hg)" opacity="0.23" clip-path="url(#gc12)"/>
<rect x="49.83" y="310.03" width="6.73" height="1.04" fill="url(#hg)" opacity="0.53" clip-path="url(#gc12)"/>
<rect x="44.72" y="311.02" width="16.94" height="1.04" fill="url(#hg)" opacity="0.26" clip-path="url(#gc12)"/>
<rect x="50.01" y="311.02" width="6.37" height="1.04" fill="url(#hg)" opacity="0.43" clip-path="url(#gc12)"/>
<rect x="44.99" y="312.02" width="16.41" height="1.04" fill="url(#hg)" opacity="0.20" clip-path="url(#gc12)"/>
<rect x="50.16" y="312.02" width="6.06" height="1.04" fill="url(#hg)" opacity="0.59" clip-path="url(#gc12)"/>
<rect x="45.23" y="313.01" width="15.92" height="1.04" fill="url(#hg)" opacity="0.21" clip-path="url(#gc12)"/>
<rect x="50.30" y="313.01" width="5.79" height="1.04" fill="url(#hg)" opacity="0.47" clip-path="url(#gc12)"/>
<rect x="45.46" y="314.01" width="15.46" height="1.04" fill="url(#hg)" opacity="0.23" clip-path="url(#gc12)"/>
<rect x="50.41" y="314.01" width="5.56" height="1.04" fill="url(#hg)" opacity="0.53" clip-path="url(#gc12)"/>
<rect x="44.84" y="298.10" width="16.70" height="5.91" fill="url(#vtop)" opacity="0.85"/>
<rect x="44.84" y="298.10" width="16.7" height="16.90" fill="none" stroke="#c4c4c4" stroke-width="0.7"/>
<rect x="63.01" y="298.10" width="16.70" height="16.90" fill="#fdf0ea"/>
<rect x="57.09" y="298.10" width="28.53" height="1.04" fill="url(#hg)" opacity="0.40" clip-path="url(#gc13)"/>
<rect x="61.16" y="298.10" width="20.41" height="1.04" fill="url(#hg)" opacity="1.00" clip-path="url(#gc13)"/>
<rect x="57.75" y="299.09" width="27.22" height="1.04" fill="url(#hg)" opacity="0.45" clip-path="url(#gc13)"/>
<rect x="62.32" y="299.09" width="18.08" height="1.04" fill="url(#hg)" opacity="1.00" clip-path="url(#gc13)"/>
<rect x="58.36" y="300.09" width="25.99" height="1.04" fill="url(#hg)" opacity="0.38" clip-path="url(#gc13)"/>
<rect x="63.31" y="300.09" width="16.09" height="1.04" fill="url(#hg)" opacity="1.00" clip-path="url(#gc13)"/>
<rect x="58.93" y="301.08" width="24.85" height="1.04" fill="url(#hg)" opacity="0.48" clip-path="url(#gc13)"/>
<rect x="64.17" y="301.08" width="14.39" height="1.04" fill="url(#hg)" opacity="0.99" clip-path="url(#gc13)"/>
<rect x="59.47" y="302.08" width="23.79" height="1.04" fill="url(#hg)" opacity="0.39" clip-path="url(#gc13)"/>
<rect x="64.90" y="302.08" width="12.92" height="1.04" fill="url(#hg)" opacity="0.80" clip-path="url(#gc13)"/>
<rect x="59.96" y="303.07" width="22.79" height="1.04" fill="url(#hg)" opacity="0.33" clip-path="url(#gc13)"/>
<rect x="65.52" y="303.07" width="11.67" height="1.04" fill="url(#hg)" opacity="0.96" clip-path="url(#gc13)"/>
<rect x="60.43" y="304.06" width="21.87" height="1.04" fill="url(#hg)" opacity="0.29" clip-path="url(#gc13)"/>
<rect x="66.06" y="304.06" width="10.60" height="1.04" fill="url(#hg)" opacity="0.98" clip-path="url(#gc13)"/>
<rect x="60.86" y="305.06" width="21.01" height="1.04" fill="url(#hg)" opacity="0.38" clip-path="url(#gc13)"/>
<rect x="66.52" y="305.06" width="9.68" height="1.04" fill="url(#hg)" opacity="0.65" clip-path="url(#gc13)"/>
<rect x="61.26" y="306.05" width="20.20" height="1.04" fill="url(#hg)" opacity="0.37" clip-path="url(#gc13)"/>
<rect x="66.91" y="306.05" width="8.90" height="1.04" fill="url(#hg)" opacity="0.70" clip-path="url(#gc13)"/>
<rect x="61.63" y="307.05" width="19.46" height="1.04" fill="url(#hg)" opacity="0.34" clip-path="url(#gc13)"/>
<rect x="67.25" y="307.05" width="8.22" height="1.04" fill="url(#hg)" opacity="0.79" clip-path="url(#gc13)"/>
<rect x="61.98" y="308.04" width="18.76" height="1.04" fill="url(#hg)" opacity="0.27" clip-path="url(#gc13)"/>
<rect x="67.54" y="308.04" width="7.65" height="1.04" fill="url(#hg)" opacity="0.73" clip-path="url(#gc13)"/>
<rect x="62.31" y="309.04" width="18.11" height="1.04" fill="url(#hg)" opacity="0.31" clip-path="url(#gc13)"/>
<rect x="67.78" y="309.04" width="7.15" height="1.04" fill="url(#hg)" opacity="0.74" clip-path="url(#gc13)"/>
<rect x="62.61" y="310.03" width="17.50" height="1.04" fill="url(#hg)" opacity="0.26" clip-path="url(#gc13)"/>
<rect x="68.00" y="310.03" width="6.73" height="1.04" fill="url(#hg)" opacity="0.70" clip-path="url(#gc13)"/>
<rect x="62.89" y="311.02" width="16.94" height="1.04" fill="url(#hg)" opacity="0.33" clip-path="url(#gc13)"/>
<rect x="68.18" y="311.02" width="6.37" height="1.04" fill="url(#hg)" opacity="0.66" clip-path="url(#gc13)"/>
<rect x="63.16" y="312.02" width="16.41" height="1.04" fill="url(#hg)" opacity="0.28" clip-path="url(#gc13)"/>
<rect x="68.33" y="312.02" width="6.06" height="1.04" fill="url(#hg)" opacity="0.49" clip-path="url(#gc13)"/>
<rect x="63.40" y="313.01" width="15.92" height="1.04" fill="url(#hg)" opacity="0.27" clip-path="url(#gc13)"/>
<rect x="68.47" y="313.01" width="5.79" height="1.04" fill="url(#hg)" opacity="0.54" clip-path="url(#gc13)"/>
<rect x="63.63" y="314.01" width="15.46" height="1.04" fill="url(#hg)" opacity="0.29" clip-path="url(#gc13)"/>
<rect x="68.58" y="314.01" width="5.56" height="1.04" fill="url(#hg)" opacity="0.61" clip-path="url(#gc13)"/>
<rect x="63.01" y="298.10" width="16.70" height="5.91" fill="url(#vtop)" opacity="0.99"/>
<rect x="63.01" y="298.10" width="16.7" height="16.90" fill="none" stroke="#c4c4c4" stroke-width="0.7"/>
<rect x="81.18" y="298.10" width="16.70" height="16.90" fill="#fdf0ea"/>
<rect x="75.26" y="298.10" width="28.53" height="1.04" fill="url(#hg)" opacity="0.49" clip-path="url(#gc14)"/>
<rect x="79.33" y="298.10" width="20.41" height="1.04" fill="url(#hg)" opacity="1.00" clip-path="url(#gc14)"/>
<rect x="75.92" y="299.09" width="27.22" height="1.04" fill="url(#hg)" opacity="0.46" clip-path="url(#gc14)"/>
<rect x="80.49" y="299.09" width="18.08" height="1.04" fill="url(#hg)" opacity="1.00" clip-path="url(#gc14)"/>
<rect x="76.53" y="300.09" width="25.99" height="1.04" fill="url(#hg)" opacity="0.36" clip-path="url(#gc14)"/>
<rect x="81.48" y="300.09" width="16.09" height="1.04" fill="url(#hg)" opacity="1.00" clip-path="url(#gc14)"/>
<rect x="77.10" y="301.08" width="24.85" height="1.04" fill="url(#hg)" opacity="0.41" clip-path="url(#gc14)"/>
<rect x="82.34" y="301.08" width="14.39" height="1.04" fill="url(#hg)" opacity="0.83" clip-path="url(#gc14)"/>
<rect x="77.64" y="302.08" width="23.79" height="1.04" fill="url(#hg)" opacity="0.42" clip-path="url(#gc14)"/>
<rect x="83.07" y="302.08" width="12.92" height="1.04" fill="url(#hg)" opacity="0.77" clip-path="url(#gc14)"/>
<rect x="78.13" y="303.07" width="22.79" height="1.04" fill="url(#hg)" opacity="0.32" clip-path="url(#gc14)"/>
<rect x="83.69" y="303.07" width="11.67" height="1.04" fill="url(#hg)" opacity="0.94" clip-path="url(#gc14)"/>
<rect x="78.60" y="304.06" width="21.87" height="1.04" fill="url(#hg)" opacity="0.34" clip-path="url(#gc14)"/>
<rect x="84.23" y="304.06" width="10.60" height="1.04" fill="url(#hg)" opacity="0.82" clip-path="url(#gc14)"/>
<rect x="79.03" y="305.06" width="21.01" height="1.04" fill="url(#hg)" opacity="0.33" clip-path="url(#gc14)"/>
<rect x="84.69" y="305.06" width="9.68" height="1.04" fill="url(#hg)" opacity="0.74" clip-path="url(#gc14)"/>
<rect x="79.43" y="306.05" width="20.20" height="1.04" fill="url(#hg)" opacity="0.28" clip-path="url(#gc14)"/>
<rect x="85.08" y="306.05" width="8.90" height="1.04" fill="url(#hg)" opacity="0.61" clip-path="url(#gc14)"/>
<rect x="79.80" y="307.05" width="19.46" height="1.04" fill="url(#hg)" opacity="0.24" clip-path="url(#gc14)"/>
<rect x="85.42" y="307.05" width="8.22" height="1.04" fill="url(#hg)" opacity="0.74" clip-path="url(#gc14)"/>
<rect x="80.15" y="308.04" width="18.76" height="1.04" fill="url(#hg)" opacity="0.31" clip-path="url(#gc14)"/>
<rect x="85.71" y="308.04" width="7.65" height="1.04" fill="url(#hg)" opacity="0.66" clip-path="url(#gc14)"/>
<rect x="80.48" y="309.04" width="18.11" height="1.04" fill="url(#hg)" opacity="0.30" clip-path="url(#gc14)"/>
<rect x="85.95" y="309.04" width="7.15" height="1.04" fill="url(#hg)" opacity="0.58" clip-path="url(#gc14)"/>
<rect x="80.78" y="310.03" width="17.50" height="1.04" fill="url(#hg)" opacity="0.24" clip-path="url(#gc14)"/>
<rect x="86.17" y="310.03" width="6.73" height="1.04" fill="url(#hg)" opacity="0.57" clip-path="url(#gc14)"/>
<rect x="81.06" y="311.02" width="16.94" height="1.04" fill="url(#hg)" opacity="0.30" clip-path="url(#gc14)"/>
<rect x="86.35" y="311.02" width="6.37" height="1.04" fill="url(#hg)" opacity="0.47" clip-path="url(#gc14)"/>
<rect x="81.33" y="312.02" width="16.41" height="1.04" fill="url(#hg)" opacity="0.26" clip-path="url(#gc14)"/>
<rect x="86.50" y="312.02" width="6.06" height="1.04" fill="url(#hg)" opacity="0.50" clip-path="url(#gc14)"/>
<rect x="81.57" y="313.01" width="15.92" height="1.04" fill="url(#hg)" opacity="0.28" clip-path="url(#gc14)"/>
<rect x="86.64" y="313.01" width="5.79" height="1.04" fill="url(#hg)" opacity="0.52" clip-path="url(#gc14)"/>
<rect x="81.80" y="314.01" width="15.46" height="1.04" fill="url(#hg)" opacity="0.23" clip-path="url(#gc14)"/>
<rect x="86.75" y="314.01" width="5.56" height="1.04" fill="url(#hg)" opacity="0.52" clip-path="url(#gc14)"/>
<rect x="81.18" y="298.10" width="16.70" height="5.91" fill="url(#vtop)" opacity="0.95"/>
<rect x="81.18" y="298.10" width="16.7" height="16.90" fill="none" stroke="#c4c4c4" stroke-width="0.7"/>
<rect x="99.35" y="298.10" width="16.70" height="16.90" fill="#fdf0ea"/>
<rect x="93.43" y="298.10" width="28.53" height="1.04" fill="url(#hg)" opacity="0.44" clip-path="url(#gc15)"/>
<rect x="97.50" y="298.10" width="20.41" height="1.04" fill="url(#hg)" opacity="1.00" clip-path="url(#gc15)"/>
<rect x="94.09" y="299.09" width="27.22" height="1.04" fill="url(#hg)" opacity="0.37" clip-path="url(#gc15)"/>
<rect x="98.66" y="299.09" width="18.08" height="1.04" fill="url(#hg)" opacity="1.00" clip-path="url(#gc15)"/>
<rect x="94.70" y="300.09" width="25.99" height="1.04" fill="url(#hg)" opacity="0.31" clip-path="url(#gc15)"/>
<rect x="99.65" y="300.09" width="16.09" height="1.04" fill="url(#hg)" opacity="0.88" clip-path="url(#gc15)"/>
<rect x="95.27" y="301.08" width="24.85" height="1.04" fill="url(#hg)" opacity="0.29" clip-path="url(#gc15)"/>
<rect x="100.51" y="301.08" width="14.39" height="1.04" fill="url(#hg)" opacity="0.74" clip-path="url(#gc15)"/>
<rect x="95.81" y="302.08" width="23.79" height="1.04" fill="url(#hg)" opacity="0.36" clip-path="url(#gc15)"/>
<rect x="101.24" y="302.08" width="12.92" height="1.04" fill="url(#hg)" opacity="0.91" clip-path="url(#gc15)"/>
<rect x="96.30" y="303.07" width="22.79" height="1.04" fill="url(#hg)" opacity="0.27" clip-path="url(#gc15)"/>
<rect x="101.86" y="303.07" width="11.67" height="1.04" fill="url(#hg)" opacity="0.67" clip-path="url(#gc15)"/>
<rect x="96.77" y="304.06" width="21.87" height="1.04" fill="url(#hg)" opacity="0.29" clip-path="url(#gc15)"/>
<rect x="102.40" y="304.06" width="10.60" height="1.04" fill="url(#hg)" opacity="0.80" clip-path="url(#gc15)"/>
<rect x="97.20" y="305.06" width="21.01" height="1.04" fill="url(#hg)" opacity="0.32" clip-path="url(#gc15)"/>
<rect x="102.86" y="305.06" width="9.68" height="1.04" fill="url(#hg)" opacity="0.75" clip-path="url(#gc15)"/>
<rect x="97.60" y="306.05" width="20.20" height="1.04" fill="url(#hg)" opacity="0.28" clip-path="url(#gc15)"/>
<rect x="103.25" y="306.05" width="8.90" height="1.04" fill="url(#hg)" opacity="0.54" clip-path="url(#gc15)"/>
<rect x="97.97" y="307.05" width="19.46" height="1.04" fill="url(#hg)" opacity="0.25" clip-path="url(#gc15)"/>
<rect x="103.59" y="307.05" width="8.22" height="1.04" fill="url(#hg)" opacity="0.53" clip-path="url(#gc15)"/>
<rect x="98.32" y="308.04" width="18.76" height="1.04" fill="url(#hg)" opacity="0.26" clip-path="url(#gc15)"/>
<rect x="103.88" y="308.04" width="7.65" height="1.04" fill="url(#hg)" opacity="0.60" clip-path="url(#gc15)"/>
<rect x="98.65" y="309.04" width="18.11" height="1.04" fill="url(#hg)" opacity="0.22" clip-path="url(#gc15)"/>
<rect x="104.12" y="309.04" width="7.15" height="1.04" fill="url(#hg)" opacity="0.50" clip-path="url(#gc15)"/>
<rect x="98.95" y="310.03" width="17.50" height="1.04" fill="url(#hg)" opacity="0.27" clip-path="url(#gc15)"/>
<rect x="104.34" y="310.03" width="6.73" height="1.04" fill="url(#hg)" opacity="0.43" clip-path="url(#gc15)"/>
<rect x="99.23" y="311.02" width="16.94" height="1.04" fill="url(#hg)" opacity="0.27" clip-path="url(#gc15)"/>
<rect x="104.52" y="311.02" width="6.37" height="1.04" fill="url(#hg)" opacity="0.62" clip-path="url(#gc15)"/>
<rect x="99.50" y="312.02" width="16.41" height="1.04" fill="url(#hg)" opacity="0.28" clip-path="url(#gc15)"/>
<rect x="104.67" y="312.02" width="6.06" height="1.04" fill="url(#hg)" opacity="0.49" clip-path="url(#gc15)"/>
<rect x="99.74" y="313.01" width="15.92" height="1.04" fill="url(#hg)" opacity="0.24" clip-path="url(#gc15)"/>
<rect x="104.81" y="313.01" width="5.79" height="1.04" fill="url(#hg)" opacity="0.52" clip-path="url(#gc15)"/>
<rect x="99.97" y="314.01" width="15.46" height="1.04" fill="url(#hg)" opacity="0.24" clip-path="url(#gc15)"/>
<rect x="104.92" y="314.01" width="5.56" height="1.04" fill="url(#hg)" opacity="0.59" clip-path="url(#gc15)"/>
<rect x="99.35" y="298.10" width="16.70" height="5.91" fill="url(#vtop)" opacity="0.85"/>
<rect x="99.35" y="298.10" width="16.7" height="16.90" fill="none" stroke="#c4c4c4" stroke-width="0.7"/>
<rect x="117.52" y="298.10" width="16.70" height="16.90" fill="#fdf0ea"/>
<rect x="111.60" y="298.10" width="28.53" height="1.04" fill="url(#hg)" opacity="0.44" clip-path="url(#gc16)"/>
<rect x="115.67" y="298.10" width="20.41" height="1.04" fill="url(#hg)" opacity="1.00" clip-path="url(#gc16)"/>
<rect x="112.26" y="299.09" width="27.22" height="1.04" fill="url(#hg)" opacity="0.43" clip-path="url(#gc16)"/>
<rect x="116.83" y="299.09" width="18.08" height="1.04" fill="url(#hg)" opacity="1.00" clip-path="url(#gc16)"/>
<rect x="112.87" y="300.09" width="25.99" height="1.04" fill="url(#hg)" opacity="0.37" clip-path="url(#gc16)"/>
<rect x="117.82" y="300.09" width="16.09" height="1.04" fill="url(#hg)" opacity="1.00" clip-path="url(#gc16)"/>
<rect x="113.44" y="301.08" width="24.85" height="1.04" fill="url(#hg)" opacity="0.26" clip-path="url(#gc16)"/>
<rect x="118.68" y="301.08" width="14.39" height="1.04" fill="url(#hg)" opacity="0.95" clip-path="url(#gc16)"/>
<rect x="113.98" y="302.08" width="23.79" height="1.04" fill="url(#hg)" opacity="0.33" clip-path="url(#gc16)"/>
<rect x="119.41" y="302.08" width="12.92" height="1.04" fill="url(#hg)" opacity="0.78" clip-path="url(#gc16)"/>
<rect x="114.47" y="303.07" width="22.79" height="1.04" fill="url(#hg)" opacity="0.30" clip-path="url(#gc16)"/>
<rect x="120.03" y="303.07" width="11.67" height="1.04" fill="url(#hg)" opacity="0.72" clip-path="url(#gc16)"/>
<rect x="114.94" y="304.06" width="21.87" height="1.04" fill="url(#hg)" opacity="0.25" clip-path="url(#gc16)"/>
<rect x="120.57" y="304.06" width="10.60" height="1.04" fill="url(#hg)" opacity="0.69" clip-path="url(#gc16)"/>
<rect x="115.37" y="305.06" width="21.01" height="1.04" fill="url(#hg)" opacity="0.22" clip-path="url(#gc16)"/>
<rect x="121.03" y="305.06" width="9.68" height="1.04" fill="url(#hg)" opacity="0.64" clip-path="url(#gc16)"/>
<rect x="115.77" y="306.05" width="20.20" height="1.04" fill="url(#hg)" opacity="0.27" clip-path="url(#gc16)"/>
<rect x="121.42" y="306.05" width="8.90" height="1.04" fill="url(#hg)" opacity="0.60" clip-path="url(#gc16)"/>
<rect x="116.14" y="307.05" width="19.46" height="1.04" fill="url(#hg)" opacity="0.26" clip-path="url(#gc16)"/>
<rect x="121.76" y="307.05" width="8.22" height="1.04" fill="url(#hg)" opacity="0.70" clip-path="url(#gc16)"/>
<rect x="116.49" y="308.04" width="18.76" height="1.04" fill="url(#hg)" opacity="0.28" clip-path="url(#gc16)"/>
<rect x="122.05" y="308.04" width="7.65" height="1.04" fill="url(#hg)" opacity="0.47" clip-path="url(#gc16)"/>
<rect x="116.82" y="309.04" width="18.11" height="1.04" fill="url(#hg)" opacity="0.26" clip-path="url(#gc16)"/>
<rect x="122.29" y="309.04" width="7.15" height="1.04" fill="url(#hg)" opacity="0.56" clip-path="url(#gc16)"/>
<rect x="117.12" y="310.03" width="17.50" height="1.04" fill="url(#hg)" opacity="0.19" clip-path="url(#gc16)"/>
<rect x="122.51" y="310.03" width="6.73" height="1.04" fill="url(#hg)" opacity="0.48" clip-path="url(#gc16)"/>
<rect x="117.40" y="311.02" width="16.94" height="1.04" fill="url(#hg)" opacity="0.20" clip-path="url(#gc16)"/>
<rect x="122.69" y="311.02" width="6.37" height="1.04" fill="url(#hg)" opacity="0.41" clip-path="url(#gc16)"/>
<rect x="117.67" y="312.02" width="16.41" height="1.04" fill="url(#hg)" opacity="0.23" clip-path="url(#gc16)"/>
<rect x="122.84" y="312.02" width="6.06" height="1.04" fill="url(#hg)" opacity="0.58" clip-path="url(#gc16)"/>
<rect x="117.91" y="313.01" width="15.92" height="1.04" fill="url(#hg)" opacity="0.20" clip-path="url(#gc16)"/>
<rect x="122.98" y="313.01" width="5.79" height="1.04" fill="url(#hg)" opacity="0.55" clip-path="url(#gc16)"/>
<rect x="118.14" y="314.01" width="15.46" height="1.04" fill="url(#hg)" opacity="0.23" clip-path="url(#gc16)"/>
<rect x="123.09" y="314.01" width="5.56" height="1.04" fill="url(#hg)" opacity="0.39" clip-path="url(#gc16)"/>
<rect x="117.52" y="298.10" width="16.70" height="5.91" fill="url(#vtop)" opacity="0.81"/>
<rect x="117.52" y="298.10" width="16.7" height="16.90" fill="none" stroke="#c4c4c4" stroke-width="0.7"/>
<rect x="135.69" y="298.10" width="16.70" height="16.90" fill="#fdf0ea"/>
<rect x="129.77" y="298.10" width="28.53" height="1.04" fill="url(#hg)" opacity="0.49" clip-path="url(#gc17)"/>
<rect x="133.84" y="298.10" width="20.41" height="1.04" fill="url(#hg)" opacity="1.00" clip-path="url(#gc17)"/>
<rect x="130.43" y="299.09" width="27.22" height="1.04" fill="url(#hg)" opacity="0.47" clip-path="url(#gc17)"/>
<rect x="135.00" y="299.09" width="18.08" height="1.04" fill="url(#hg)" opacity="1.00" clip-path="url(#gc17)"/>
<rect x="131.04" y="300.09" width="25.99" height="1.04" fill="url(#hg)" opacity="0.41" clip-path="url(#gc17)"/>
<rect x="135.99" y="300.09" width="16.09" height="1.04" fill="url(#hg)" opacity="0.91" clip-path="url(#gc17)"/>
<rect x="131.61" y="301.08" width="24.85" height="1.04" fill="url(#hg)" opacity="0.39" clip-path="url(#gc17)"/>
<rect x="136.85" y="301.08" width="14.39" height="1.04" fill="url(#hg)" opacity="1.00" clip-path="url(#gc17)"/>
<rect x="132.15" y="302.08" width="23.79" height="1.04" fill="url(#hg)" opacity="0.37" clip-path="url(#gc17)"/>
<rect x="137.58" y="302.08" width="12.92" height="1.04" fill="url(#hg)" opacity="0.81" clip-path="url(#gc17)"/>
<rect x="132.64" y="303.07" width="22.79" height="1.04" fill="url(#hg)" opacity="0.34" clip-path="url(#gc17)"/>
<rect x="138.20" y="303.07" width="11.67" height="1.04" fill="url(#hg)" opacity="0.77" clip-path="url(#gc17)"/>
<rect x="133.11" y="304.06" width="21.87" height="1.04" fill="url(#hg)" opacity="0.25" clip-path="url(#gc17)"/>
<rect x="138.74" y="304.06" width="10.60" height="1.04" fill="url(#hg)" opacity="0.58" clip-path="url(#gc17)"/>
<rect x="133.54" y="305.06" width="21.01" height="1.04" fill="url(#hg)" opacity="0.24" clip-path="url(#gc17)"/>
<rect x="139.20" y="305.06" width="9.68" height="1.04" fill="url(#hg)" opacity="0.59" clip-path="url(#gc17)"/>
<rect x="133.94" y="306.05" width="20.20" height="1.04" fill="url(#hg)" opacity="0.24" clip-path="url(#gc17)"/>
<rect x="139.59" y="306.05" width="8.90" height="1.04" fill="url(#hg)" opacity="0.64" clip-path="url(#gc17)"/>
<rect x="134.31" y="307.05" width="19.46" height="1.04" fill="url(#hg)" opacity="0.28" clip-path="url(#gc17)"/>
<rect x="139.93" y="307.05" width="8.22" height="1.04" fill="url(#hg)" opacity="0.62" clip-path="url(#gc17)"/>
<rect x="134.66" y="308.04" width="18.76" height="1.04" fill="url(#hg)" opacity="0.25" clip-path="url(#gc17)"/>
<rect x="140.22" y="308.04" width="7.65" height="1.04" fill="url(#hg)" opacity="0.62" clip-path="url(#gc17)"/>
<rect x="134.99" y="309.04" width="18.11" height="1.04" fill="url(#hg)" opacity="0.23" clip-path="url(#gc17)"/>
<rect x="140.46" y="309.04" width="7.15" height="1.04" fill="url(#hg)" opacity="0.55" clip-path="url(#gc17)"/>
<rect x="135.29" y="310.03" width="17.50" height="1.04" fill="url(#hg)" opacity="0.27" clip-path="url(#gc17)"/>
<rect x="140.68" y="310.03" width="6.73" height="1.04" fill="url(#hg)" opacity="0.52" clip-path="url(#gc17)"/>
<rect x="135.57" y="311.02" width="16.94" height="1.04" fill="url(#hg)" opacity="0.21" clip-path="url(#gc17)"/>
<rect x="140.86" y="311.02" width="6.37" height="1.04" fill="url(#hg)" opacity="0.62" clip-path="url(#gc17)"/>
<rect x="135.84" y="312.02" width="16.41" height="1.04" fill="url(#hg)" opacity="0.25" clip-path="url(#gc17)"/>
<rect x="141.01" y="312.02" width="6.06" height="1.04" fill="url(#hg)" opacity="0.48" clip-path="url(#gc17)"/>
<rect x="136.08" y="313.01" width="15.92" height="1.04" fill="url(#hg)" opacity="0.22" clip-path="url(#gc17)"/>
<rect x="141.15" y="313.01" width="5.79" height="1.04" fill="url(#hg)" opacity="0.51" clip-path="url(#gc17)"/>
<rect x="136.31" y="314.01" width="15.46" height="1.04" fill="url(#hg)" opacity="0.24" clip-path="url(#gc17)"/>
<rect x="141.26" y="314.01" width="5.56" height="1.04" fill="url(#hg)" opacity="0.43" clip-path="url(#gc17)"/>
<rect x="135.69" y="298.10" width="16.70" height="5.91" fill="url(#vtop)" opacity="0.85"/>
<rect x="135.69" y="298.10" width="16.7" height="16.90" fill="none" stroke="#c4c4c4" stroke-width="0.7"/>
<rect x="8.50" y="315.90" width="16.70" height="37.30" fill="#fdf0ea"/>
<rect x="2.45" y="315.90" width="28.79" height="1.06" fill="url(#hg)" opacity="0.37" clip-path="url(#gc20)"/>
<rect x="4.92" y="315.90" width="23.85" height="1.06" fill="url(#hg)" opacity="1.00" clip-path="url(#gc20)"/>
<rect x="2.88" y="316.91" width="27.95" height="1.06" fill="url(#hg)" opacity="0.49" clip-path="url(#gc20)"/>
<rect x="5.72" y="316.91" width="22.26" height="1.06" fill="url(#hg)" opacity="1.00" clip-path="url(#gc20)"/>
<rect x="3.28" y="317.92" width="27.14" height="1.06" fill="url(#hg)" opacity="0.41" clip-path="url(#gc20)"/>
<rect x="6.45" y="317.92" width="20.80" height="1.06" fill="url(#hg)" opacity="1.00" clip-path="url(#gc20)"/>
<rect x="3.66" y="318.92" width="26.37" height="1.06" fill="url(#hg)" opacity="0.35" clip-path="url(#gc20)"/>
<rect x="7.12" y="318.92" width="19.46" height="1.06" fill="url(#hg)" opacity="1.00" clip-path="url(#gc20)"/>
<rect x="4.03" y="319.93" width="25.63" height="1.06" fill="url(#hg)" opacity="0.37" clip-path="url(#gc20)"/>
<rect x="7.73" y="319.93" width="18.25" height="1.06" fill="url(#hg)" opacity="1.00" clip-path="url(#gc20)"/>
<rect x="4.39" y="320.94" width="24.93" height="1.06" fill="url(#hg)" opacity="0.30" clip-path="url(#gc20)"/>
<rect x="8.28" y="320.94" width="17.13" height="1.06" fill="url(#hg)" opacity="0.98" clip-path="url(#gc20)"/>
<rect x="4.72" y="321.95" width="24.25" height="1.06" fill="url(#hg)" opacity="0.31" clip-path="url(#gc20)"/>
<rect x="8.79" y="321.95" width="16.12" height="1.06" fill="url(#hg)" opacity="1.00" clip-path="url(#gc20)"/>
<rect x="5.05" y="322.96" width="23.61" height="1.06" fill="url(#hg)" opacity="0.28" clip-path="url(#gc20)"/>
<rect x="9.26" y="322.96" width="15.18" height="1.06" fill="url(#hg)" opacity="0.88" clip-path="url(#gc20)"/>
<rect x="5.36" y="323.96" width="22.99" height="1.06" fill="url(#hg)" opacity="0.32" clip-path="url(#gc20)"/>
<rect x="9.68" y="323.96" width="14.33" height="1.06" fill="url(#hg)" opacity="1.00" clip-path="url(#gc20)"/>
<rect x="5.65" y="324.97" width="22.39" height="1.06" fill="url(#hg)" opacity="0.35" clip-path="url(#gc20)"/>
<rect x="10.08" y="324.97" width="13.55" height="1.06" fill="url(#hg)" opacity="0.85" clip-path="url(#gc20)"/>
<rect x="5.94" y="325.98" width="21.83" height="1.06" fill="url(#hg)" opacity="0.30" clip-path="url(#gc20)"/>
<rect x="10.43" y="325.98" width="12.83" height="1.06" fill="url(#hg)" opacity="0.99" clip-path="url(#gc20)"/>
<rect x="6.21" y="326.99" width="21.28" height="1.06" fill="url(#hg)" opacity="0.25" clip-path="url(#gc20)"/>
<rect x="10.76" y="326.99" width="12.17" height="1.06" fill="url(#hg)" opacity="1.00" clip-path="url(#gc20)"/>
<rect x="6.47" y="328.00" width="20.77" height="1.06" fill="url(#hg)" opacity="0.26" clip-path="url(#gc20)"/>
<rect x="11.07" y="328.00" width="11.57" height="1.06" fill="url(#hg)" opacity="0.82" clip-path="url(#gc20)"/>
<rect x="6.72" y="329.01" width="20.27" height="1.06" fill="url(#hg)" opacity="0.28" clip-path="url(#gc20)"/>
<rect x="11.35" y="329.01" width="11.01" height="1.06" fill="url(#hg)" opacity="0.83" clip-path="url(#gc20)"/>
<rect x="6.95" y="330.01" width="19.79" height="1.06" fill="url(#hg)" opacity="0.30" clip-path="url(#gc20)"/>
<rect x="11.60" y="330.01" width="10.49" height="1.06" fill="url(#hg)" opacity="0.90" clip-path="url(#gc20)"/>
<rect x="7.18" y="331.02" width="19.34" height="1.06" fill="url(#hg)" opacity="0.23" clip-path="url(#gc20)"/>
<rect x="11.84" y="331.02" width="10.02" height="1.06" fill="url(#hg)" opacity="0.76" clip-path="url(#gc20)"/>
<rect x="7.40" y="332.03" width="18.90" height="1.06" fill="url(#hg)" opacity="0.30" clip-path="url(#gc20)"/>
<rect x="12.06" y="332.03" width="9.58" height="1.06" fill="url(#hg)" opacity="0.84" clip-path="url(#gc20)"/>
<rect x="7.61" y="333.04" width="18.48" height="1.06" fill="url(#hg)" opacity="0.30" clip-path="url(#gc20)"/>
<rect x="12.26" y="333.04" width="9.18" height="1.06" fill="url(#hg)" opacity="0.91" clip-path="url(#gc20)"/>
<rect x="7.81" y="334.05" width="18.08" height="1.06" fill="url(#hg)" opacity="0.31" clip-path="url(#gc20)"/>
<rect x="12.45" y="334.05" width="8.80" height="1.06" fill="url(#hg)" opacity="0.83" clip-path="url(#gc20)"/>
<rect x="8.00" y="335.05" width="17.70" height="1.06" fill="url(#hg)" opacity="0.23" clip-path="url(#gc20)"/>
<rect x="12.62" y="335.05" width="8.45" height="1.06" fill="url(#hg)" opacity="0.81" clip-path="url(#gc20)"/>
<rect x="8.18" y="336.06" width="17.34" height="1.06" fill="url(#hg)" opacity="0.29" clip-path="url(#gc20)"/>
<rect x="12.78" y="336.06" width="8.13" height="1.06" fill="url(#hg)" opacity="0.94" clip-path="url(#gc20)"/>
<rect x="8.36" y="337.07" width="16.99" height="1.06" fill="url(#hg)" opacity="0.24" clip-path="url(#gc20)"/>
<rect x="12.94" y="337.07" width="7.83" height="1.06" fill="url(#hg)" opacity="0.72" clip-path="url(#gc20)"/>
<rect x="8.52" y="338.08" width="16.65" height="1.06" fill="url(#hg)" opacity="0.27" clip-path="url(#gc20)"/>
<rect x="13.08" y="338.08" width="7.55" height="1.06" fill="url(#hg)" opacity="1.00" clip-path="url(#gc20)"/>
<rect x="8.68" y="339.09" width="16.33" height="1.06" fill="url(#hg)" opacity="0.25" clip-path="url(#gc20)"/>
<rect x="13.21" y="339.09" width="7.29" height="1.06" fill="url(#hg)" opacity="0.68" clip-path="url(#gc20)"/>
<rect x="8.84" y="340.09" width="16.03" height="1.06" fill="url(#hg)" opacity="0.20" clip-path="url(#gc20)"/>
<rect x="13.33" y="340.09" width="7.04" height="1.06" fill="url(#hg)" opacity="0.71" clip-path="url(#gc20)"/>
<rect x="8.98" y="341.10" width="15.73" height="1.06" fill="url(#hg)" opacity="0.21" clip-path="url(#gc20)"/>
<rect x="13.45" y="341.10" width="6.81" height="1.06" fill="url(#hg)" opacity="0.68" clip-path="url(#gc20)"/>
<rect x="9.12" y="342.11" width="15.45" height="1.06" fill="url(#hg)" opacity="0.20" clip-path="url(#gc20)"/>
<rect x="13.55" y="342.11" width="6.59" height="1.06" fill="url(#hg)" opacity="0.91" clip-path="url(#gc20)"/>
<rect x="9.26" y="343.12" width="15.18" height="1.06" fill="url(#hg)" opacity="0.28" clip-path="url(#gc20)"/>
<rect x="13.66" y="343.12" width="6.39" height="1.06" fill="url(#hg)" opacity="0.73" clip-path="url(#gc20)"/>
<rect x="9.39" y="344.13" width="14.92" height="1.06" fill="url(#hg)" opacity="0.28" clip-path="url(#gc20)"/>
<rect x="13.75" y="344.13" width="6.19" height="1.06" fill="url(#hg)" opacity="0.83" clip-path="url(#gc20)"/>
<rect x="9.51" y="345.14" width="14.68" height="1.06" fill="url(#hg)" opacity="0.26" clip-path="url(#gc20)"/>
<rect x="13.84" y="345.14" width="6.01" height="1.06" fill="url(#hg)" opacity="0.99" clip-path="url(#gc20)"/>
<rect x="9.63" y="346.14" width="14.44" height="1.06" fill="url(#hg)" opacity="0.27" clip-path="url(#gc20)"/>
<rect x="13.93" y="346.14" width="5.84" height="1.06" fill="url(#hg)" opacity="0.66" clip-path="url(#gc20)"/>
<rect x="9.74" y="347.15" width="14.22" height="1.06" fill="url(#hg)" opacity="0.21" clip-path="url(#gc20)"/>
<rect x="14.01" y="347.15" width="5.67" height="1.06" fill="url(#hg)" opacity="0.87" clip-path="url(#gc20)"/>
<rect x="9.85" y="348.16" width="14.00" height="1.06" fill="url(#hg)" opacity="0.27" clip-path="url(#gc20)"/>
<rect x="14.09" y="348.16" width="5.52" height="1.06" fill="url(#hg)" opacity="0.68" clip-path="url(#gc20)"/>
<rect x="9.95" y="349.17" width="13.79" height="1.06" fill="url(#hg)" opacity="0.21" clip-path="url(#gc20)"/>
<rect x="14.17" y="349.17" width="5.37" height="1.06" fill="url(#hg)" opacity="0.95" clip-path="url(#gc20)"/>
<rect x="10.05" y="350.18" width="13.60" height="1.06" fill="url(#hg)" opacity="0.19" clip-path="url(#gc20)"/>
<rect x="14.24" y="350.18" width="5.22" height="1.06" fill="url(#hg)" opacity="0.78" clip-path="url(#gc20)"/>
<rect x="10.15" y="351.18" width="13.41" height="1.06" fill="url(#hg)" opacity="0.21" clip-path="url(#gc20)"/>
<rect x="14.31" y="351.18" width="5.08" height="1.06" fill="url(#hg)" opacity="0.89" clip-path="url(#gc20)"/>
<rect x="10.24" y="352.19" width="13.23" height="1.06" fill="url(#hg)" opacity="0.27" clip-path="url(#gc20)"/>
<rect x="14.37" y="352.19" width="4.95" height="1.06" fill="url(#hg)" opacity="0.70" clip-path="url(#gc20)"/>
<rect x="8.50" y="315.90" width="16.70" height="8.21" fill="url(#vtop)" opacity="0.90"/>
<rect x="8.50" y="315.90" width="16.7" height="37.30" fill="none" stroke="#c4c4c4" stroke-width="0.7"/>
<rect x="26.67" y="315.90" width="16.70" height="37.30" fill="#fdf0ea"/>
<rect x="20.62" y="315.90" width="28.79" height="1.06" fill="url(#hg)" opacity="0.50" clip-path="url(#gc21)"/>
<rect x="23.09" y="315.90" width="23.85" height="1.06" fill="url(#hg)" opacity="1.00" clip-path="url(#gc21)"/>
<rect x="21.05" y="316.91" width="27.95" height="1.06" fill="url(#hg)" opacity="0.49" clip-path="url(#gc21)"/>
<rect x="23.89" y="316.91" width="22.26" height="1.06" fill="url(#hg)" opacity="1.00" clip-path="url(#gc21)"/>
<rect x="21.45" y="317.92" width="27.14" height="1.06" fill="url(#hg)" opacity="0.49" clip-path="url(#gc21)"/>
<rect x="24.62" y="317.92" width="20.80" height="1.06" fill="url(#hg)" opacity="1.00" clip-path="url(#gc21)"/>
<rect x="21.83" y="318.92" width="26.37" height="1.06" fill="url(#hg)" opacity="0.38" clip-path="url(#gc21)"/>
<rect x="25.29" y="318.92" width="19.46" height="1.06" fill="url(#hg)" opacity="1.00" clip-path="url(#gc21)"/>
<rect x="22.20" y="319.93" width="25.63" height="1.06" fill="url(#hg)" opacity="0.42" clip-path="url(#gc21)"/>
<rect x="25.90" y="319.93" width="18.25" height="1.06" fill="url(#hg)" opacity="1.00" clip-path="url(#gc21)"/>
<rect x="22.56" y="320.94" width="24.93" height="1.06" fill="url(#hg)" opacity="0.33" clip-path="url(#gc21)"/>
<rect x="26.45" y="320.94" width="17.13" height="1.06" fill="url(#hg)" opacity="1.00" clip-path="url(#gc21)"/>
<rect x="22.89" y="321.95" width="24.25" height="1.06" fill="url(#hg)" opacity="0.38" clip-path="url(#gc21)"/>
<rect x="26.96" y="321.95" width="16.12" height="1.06" fill="url(#hg)" opacity="1.00" clip-path="url(#gc21)"/>
<rect x="23.22" y="322.96" width="23.61" height="1.06" fill="url(#hg)" opacity="0.37" clip-path="url(#gc21)"/>
<rect x="27.43" y="322.96" width="15.18" height="1.06" fill="url(#hg)" opacity="1.00" clip-path="url(#gc21)"/>
<rect x="23.53" y="323.96" width="22.99" height="1.06" fill="url(#hg)" opacity="0.33" clip-path="url(#gc21)"/>
<rect x="27.85" y="323.96" width="14.33" height="1.06" fill="url(#hg)" opacity="0.92" clip-path="url(#gc21)"/>
<rect x="23.82" y="324.97" width="22.39" height="1.06" fill="url(#hg)" opacity="0.35" clip-path="url(#gc21)"/>
<rect x="28.25" y="324.97" width="13.55" height="1.06" fill="url(#hg)" opacity="0.84" clip-path="url(#gc21)"/>
<rect x="24.11" y="325.98" width="21.83" height="1.06" fill="url(#hg)" opacity="0.31" clip-path="url(#gc21)"/>
<rect x="28.60" y="325.98" width="12.83" height="1.06" fill="url(#hg)" opacity="1.00" clip-path="url(#gc21)"/>
<rect x="24.38" y="326.99" width="21.28" height="1.06" fill="url(#hg)" opacity="0.32" clip-path="url(#gc21)"/>
<rect x="28.93" y="326.99" width="12.17" height="1.06" fill="url(#hg)" opacity="0.83" clip-path="url(#gc21)"/>
<rect x="24.64" y="328.00" width="20.77" height="1.06" fill="url(#hg)" opacity="0.26" clip-path="url(#gc21)"/>
<rect x="29.24" y="328.00" width="11.57" height="1.06" fill="url(#hg)" opacity="1.00" clip-path="url(#gc21)"/>
<rect x="24.89" y="329.01" width="20.27" height="1.06" fill="url(#hg)" opacity="0.30" clip-path="url(#gc21)"/>
<rect x="29.52" y="329.01" width="11.01" height="1.06" fill="url(#hg)" opacity="1.00" clip-path="url(#gc21)"/>
<rect x="25.12" y="330.01" width="19.79" height="1.06" fill="url(#hg)" opacity="0.32" clip-path="url(#gc21)"/>
<rect x="29.77" y="330.01" width="10.49" height="1.06" fill="url(#hg)" opacity="0.94" clip-path="url(#gc21)"/>
<rect x="25.35" y="331.02" width="19.34" height="1.06" fill="url(#hg)" opacity="0.32" clip-path="url(#gc21)"/>
<rect x="30.01" y="331.02" width="10.02" height="1.06" fill="url(#hg)" opacity="1.00" clip-path="url(#gc21)"/>
<rect x="25.57" y="332.03" width="18.90" height="1.06" fill="url(#hg)" opacity="0.25" clip-path="url(#gc21)"/>
<rect x="30.23" y="332.03" width="9.58" height="1.06" fill="url(#hg)" opacity="0.88" clip-path="url(#gc21)"/>
<rect x="25.78" y="333.04" width="18.48" height="1.06" fill="url(#hg)" opacity="0.22" clip-path="url(#gc21)"/>
<rect x="30.43" y="333.04" width="9.18" height="1.06" fill="url(#hg)" opacity="0.88" clip-path="url(#gc21)"/>
<rect x="25.98" y="334.05" width="18.08" height="1.06" fill="url(#hg)" opacity="0.31" clip-path="url(#gc21)"/>
<rect x="30.62" y="334.05" width="8.80" height="1.06" fill="url(#hg)" opacity="0.75" clip-path="url(#gc21)"/>
<rect x="26.17" y="335.05" width="17.70" height="1.06" fill="url(#hg)" opacity="0.27" clip-path="url(#gc21)"/>
<rect x="30.79" y="335.05" width="8.45" height="1.06" fill="url(#hg)" opacity="0.74" clip-path="url(#gc21)"/>
<rect x="26.35" y="336.06" width="17.34" height="1.06" fill="url(#hg)" opacity="0.21" clip-path="url(#gc21)"/>
<rect x="30.95" y="336.06" width="8.13" height="1.06" fill="url(#hg)" opacity="0.95" clip-path="url(#gc21)"/>
<rect x="26.53" y="337.07" width="16.99" height="1.06" fill="url(#hg)" opacity="0.23" clip-path="url(#gc21)"/>
<rect x="31.11" y="337.07" width="7.83" height="1.06" fill="url(#hg)" opacity="0.71" clip-path="url(#gc21)"/>
<rect x="26.69" y="338.08" width="16.65" height="1.06" fill="url(#hg)" opacity="0.21" clip-path="url(#gc21)"/>
<rect x="31.25" y="338.08" width="7.55" height="1.06" fill="url(#hg)" opacity="0.93" clip-path="url(#gc21)"/>
<rect x="26.85" y="339.09" width="16.33" height="1.06" fill="url(#hg)" opacity="0.25" clip-path="url(#gc21)"/>
<rect x="31.38" y="339.09" width="7.29" height="1.06" fill="url(#hg)" opacity="0.68" clip-path="url(#gc21)"/>
<rect x="27.01" y="340.09" width="16.03" height="1.06" fill="url(#hg)" opacity="0.22" clip-path="url(#gc21)"/>
<rect x="31.50" y="340.09" width="7.04" height="1.06" fill="url(#hg)" opacity="1.00" clip-path="url(#gc21)"/>
<rect x="27.15" y="341.10" width="15.73" height="1.06" fill="url(#hg)" opacity="0.21" clip-path="url(#gc21)"/>
<rect x="31.62" y="341.10" width="6.81" height="1.06" fill="url(#hg)" opacity="0.88" clip-path="url(#gc21)"/>
<rect x="27.29" y="342.11" width="15.45" height="1.06" fill="url(#hg)" opacity="0.23" clip-path="url(#gc21)"/>
<rect x="31.72" y="342.11" width="6.59" height="1.06" fill="url(#hg)" opacity="0.96" clip-path="url(#gc21)"/>
<rect x="27.43" y="343.12" width="15.18" height="1.06" fill="url(#hg)" opacity="0.25" clip-path="url(#gc21)"/>
<rect x="31.83" y="343.12" width="6.39" height="1.06" fill="url(#hg)" opacity="0.95" clip-path="url(#gc21)"/>
<rect x="27.56" y="344.13" width="14.92" height="1.06" fill="url(#hg)" opacity="0.24" clip-path="url(#gc21)"/>
<rect x="31.92" y="344.13" width="6.19" height="1.06" fill="url(#hg)" opacity="0.73" clip-path="url(#gc21)"/>
<rect x="27.68" y="345.14" width="14.68" height="1.06" fill="url(#hg)" opacity="0.20" clip-path="url(#gc21)"/>
<rect x="32.01" y="345.14" width="6.01" height="1.06" fill="url(#hg)" opacity="0.68" clip-path="url(#gc21)"/>
<rect x="27.80" y="346.14" width="14.44" height="1.06" fill="url(#hg)" opacity="0.26" clip-path="url(#gc21)"/>
<rect x="32.10" y="346.14" width="5.84" height="1.06" fill="url(#hg)" opacity="0.69" clip-path="url(#gc21)"/>
<rect x="27.91" y="347.15" width="14.22" height="1.06" fill="url(#hg)" opacity="0.19" clip-path="url(#gc21)"/>
<rect x="32.18" y="347.15" width="5.67" height="1.06" fill="url(#hg)" opacity="1.00" clip-path="url(#gc21)"/>
<rect x="28.02" y="348.16" width="14.00" height="1.06" fill="url(#hg)" opacity="0.20" clip-path="url(#gc21)"/>
<rect x="32.26" y="348.16" width="5.52" height="1.06" fill="url(#hg)" opacity="0.97" clip-path="url(#gc21)"/>
<rect x="28.12" y="349.17" width="13.79" height="1.06" fill="url(#hg)" opacity="0.19" clip-path="url(#gc21)"/>
<rect x="32.34" y="349.17" width="5.37" height="1.06" fill="url(#hg)" opacity="0.81" clip-path="url(#gc21)"/>
<rect x="28.22" y="350.18" width="13.60" height="1.06" fill="url(#hg)" opacity="0.20" clip-path="url(#gc21)"/>
<rect x="32.41" y="350.18" width="5.22" height="1.06" fill="url(#hg)" opacity="0.94" clip-path="url(#gc21)"/>
<rect x="28.32" y="351.18" width="13.41" height="1.06" fill="url(#hg)" opacity="0.24" clip-path="url(#gc21)"/>
<rect x="32.48" y="351.18" width="5.08" height="1.06" fill="url(#hg)" opacity="0.87" clip-path="url(#gc21)"/>
<rect x="28.41" y="352.19" width="13.23" height="1.06" fill="url(#hg)" opacity="0.25" clip-path="url(#gc21)"/>
<rect x="32.54" y="352.19" width="4.95" height="1.06" fill="url(#hg)" opacity="0.95" clip-path="url(#gc21)"/>
<rect x="26.67" y="315.90" width="16.70" height="8.21" fill="url(#vtop)" opacity="0.90"/>
<rect x="26.67" y="315.90" width="16.7" height="37.30" fill="none" stroke="#c4c4c4" stroke-width="0.7"/>
<rect x="44.84" y="315.90" width="16.70" height="37.30" fill="#fdf0ea"/>
<rect x="38.79" y="315.90" width="28.79" height="1.06" fill="url(#hg)" opacity="0.39" clip-path="url(#gc22)"/>
<rect x="41.26" y="315.90" width="23.85" height="1.06" fill="url(#hg)" opacity="1.00" clip-path="url(#gc22)"/>
<rect x="39.22" y="316.91" width="27.95" height="1.06" fill="url(#hg)" opacity="0.38" clip-path="url(#gc22)"/>
<rect x="42.06" y="316.91" width="22.26" height="1.06" fill="url(#hg)" opacity="1.00" clip-path="url(#gc22)"/>
<rect x="39.62" y="317.92" width="27.14" height="1.06" fill="url(#hg)" opacity="0.43" clip-path="url(#gc22)"/>
<rect x="42.79" y="317.92" width="20.80" height="1.06" fill="url(#hg)" opacity="1.00" clip-path="url(#gc22)"/>
<rect x="40.00" y="318.92" width="26.37" height="1.06" fill="url(#hg)" opacity="0.40" clip-path="url(#gc22)"/>
<rect x="43.46" y="318.92" width="19.46" height="1.06" fill="url(#hg)" opacity="0.99" clip-path="url(#gc22)"/>
<rect x="40.37" y="319.93" width="25.63" height="1.06" fill="url(#hg)" opacity="0.35" clip-path="url(#gc22)"/>
<rect x="44.07" y="319.93" width="18.25" height="1.06" fill="url(#hg)" opacity="1.00" clip-path="url(#gc22)"/>
<rect x="40.73" y="320.94" width="24.93" height="1.06" fill="url(#hg)" opacity="0.36" clip-path="url(#gc22)"/>
<rect x="44.62" y="320.94" width="17.13" height="1.06" fill="url(#hg)" opacity="0.87" clip-path="url(#gc22)"/>
<rect x="41.06" y="321.95" width="24.25" height="1.06" fill="url(#hg)" opacity="0.30" clip-path="url(#gc22)"/>
<rect x="45.13" y="321.95" width="16.12" height="1.06" fill="url(#hg)" opacity="1.00" clip-path="url(#gc22)"/>
<rect x="41.39" y="322.96" width="23.61" height="1.06" fill="url(#hg)" opacity="0.25" clip-path="url(#gc22)"/>
<rect x="45.60" y="322.96" width="15.18" height="1.06" fill="url(#hg)" opacity="1.00" clip-path="url(#gc22)"/>
<rect x="41.70" y="323.96" width="22.99" height="1.06" fill="url(#hg)" opacity="0.33" clip-path="url(#gc22)"/>
<rect x="46.02" y="323.96" width="14.33" height="1.06" fill="url(#hg)" opacity="0.94" clip-path="url(#gc22)"/>
<rect x="41.99" y="324.97" width="22.39" height="1.06" fill="url(#hg)" opacity="0.31" clip-path="url(#gc22)"/>
<rect x="46.42" y="324.97" width="13.55" height="1.06" fill="url(#hg)" opacity="1.00" clip-path="url(#gc22)"/>
<rect x="42.28" y="325.98" width="21.83" height="1.06" fill="url(#hg)" opacity="0.25" clip-path="url(#gc22)"/>
<rect x="46.77" y="325.98" width="12.83" height="1.06" fill="url(#hg)" opacity="0.87" clip-path="url(#gc22)"/>
<rect x="42.55" y="326.99" width="21.28" height="1.06" fill="url(#hg)" opacity="0.33" clip-path="url(#gc22)"/>
<rect x="47.10" y="326.99" width="12.17" height="1.06" fill="url(#hg)" opacity="0.85" clip-path="url(#gc22)"/>
<rect x="42.81" y="328.00" width="20.77" height="1.06" fill="url(#hg)" opacity="0.26" clip-path="url(#gc22)"/>
<rect x="47.41" y="328.00" width="11.57" height="1.06" fill="url(#hg)" opacity="0.73" clip-path="url(#gc22)"/>
<rect x="43.06" y="329.01" width="20.27" height="1.06" fill="url(#hg)" opacity="0.23" clip-path="url(#gc22)"/>
<rect x="47.69" y="329.01" width="11.01" height="1.06" fill="url(#hg)" opacity="0.75" clip-path="url(#gc22)"/>
<rect x="43.29" y="330.01" width="19.79" height="1.06" fill="url(#hg)" opacity="0.30" clip-path="url(#gc22)"/>
<rect x="47.94" y="330.01" width="10.49" height="1.06" fill="url(#hg)" opacity="0.95" clip-path="url(#gc22)"/>
<rect x="43.52" y="331.02" width="19.34" height="1.06" fill="url(#hg)" opacity="0.29" clip-path="url(#gc22)"/>
<rect x="48.18" y="331.02" width="10.02" height="1.06" fill="url(#hg)" opacity="1.00" clip-path="url(#gc22)"/>
<rect x="43.74" y="332.03" width="18.90" height="1.06" fill="url(#hg)" opacity="0.25" clip-path="url(#gc22)"/>
<rect x="48.40" y="332.03" width="9.58" height="1.06" fill="url(#hg)" opacity="1.00" clip-path="url(#gc22)"/>
<rect x="43.95" y="333.04" width="18.48" height="1.06" fill="url(#hg)" opacity="0.24" clip-path="url(#gc22)"/>
<rect x="48.60" y="333.04" width="9.18" height="1.06" fill="url(#hg)" opacity="0.80" clip-path="url(#gc22)"/>
<rect x="44.15" y="334.05" width="18.08" height="1.06" fill="url(#hg)" opacity="0.28" clip-path="url(#gc22)"/>
<rect x="48.79" y="334.05" width="8.80" height="1.06" fill="url(#hg)" opacity="0.96" clip-path="url(#gc22)"/>
<rect x="44.34" y="335.05" width="17.70" height="1.06" fill="url(#hg)" opacity="0.27" clip-path="url(#gc22)"/>
<rect x="48.96" y="335.05" width="8.45" height="1.06" fill="url(#hg)" opacity="0.80" clip-path="url(#gc22)"/>
<rect x="44.52" y="336.06" width="17.34" height="1.06" fill="url(#hg)" opacity="0.25" clip-path="url(#gc22)"/>
<rect x="49.12" y="336.06" width="8.13" height="1.06" fill="url(#hg)" opacity="0.77" clip-path="url(#gc22)"/>
<rect x="44.70" y="337.07" width="16.99" height="1.06" fill="url(#hg)" opacity="0.27" clip-path="url(#gc22)"/>
<rect x="49.28" y="337.07" width="7.83" height="1.06" fill="url(#hg)" opacity="0.94" clip-path="url(#gc22)"/>
<rect x="44.86" y="338.08" width="16.65" height="1.06" fill="url(#hg)" opacity="0.21" clip-path="url(#gc22)"/>
<rect x="49.42" y="338.08" width="7.55" height="1.06" fill="url(#hg)" opacity="0.94" clip-path="url(#gc22)"/>
<rect x="45.02" y="339.09" width="16.33" height="1.06" fill="url(#hg)" opacity="0.19" clip-path="url(#gc22)"/>
<rect x="49.55" y="339.09" width="7.29" height="1.06" fill="url(#hg)" opacity="0.64" clip-path="url(#gc22)"/>
<rect x="45.18" y="340.09" width="16.03" height="1.06" fill="url(#hg)" opacity="0.24" clip-path="url(#gc22)"/>
<rect x="49.67" y="340.09" width="7.04" height="1.06" fill="url(#hg)" opacity="0.70" clip-path="url(#gc22)"/>
<rect x="45.32" y="341.10" width="15.73" height="1.06" fill="url(#hg)" opacity="0.22" clip-path="url(#gc22)"/>
<rect x="49.79" y="341.10" width="6.81" height="1.06" fill="url(#hg)" opacity="0.82" clip-path="url(#gc22)"/>
<rect x="45.46" y="342.11" width="15.45" height="1.06" fill="url(#hg)" opacity="0.18" clip-path="url(#gc22)"/>
<rect x="49.89" y="342.11" width="6.59" height="1.06" fill="url(#hg)" opacity="0.85" clip-path="url(#gc22)"/>
<rect x="45.60" y="343.12" width="15.18" height="1.06" fill="url(#hg)" opacity="0.19" clip-path="url(#gc22)"/>
<rect x="50.00" y="343.12" width="6.39" height="1.06" fill="url(#hg)" opacity="0.74" clip-path="url(#gc22)"/>
<rect x="45.73" y="344.13" width="14.92" height="1.06" fill="url(#hg)" opacity="0.20" clip-path="url(#gc22)"/>
<rect x="50.09" y="344.13" width="6.19" height="1.06" fill="url(#hg)" opacity="0.84" clip-path="url(#gc22)"/>
<rect x="45.85" y="345.14" width="14.68" height="1.06" fill="url(#hg)" opacity="0.23" clip-path="url(#gc22)"/>
<rect x="50.18" y="345.14" width="6.01" height="1.06" fill="url(#hg)" opacity="0.68" clip-path="url(#gc22)"/>
<rect x="45.97" y="346.14" width="14.44" height="1.06" fill="url(#hg)" opacity="0.18" clip-path="url(#gc22)"/>
<rect x="50.27" y="346.14" width="5.84" height="1.06" fill="url(#hg)" opacity="0.68" clip-path="url(#gc22)"/>
<rect x="46.08" y="347.15" width="14.22" height="1.06" fill="url(#hg)" opacity="0.20" clip-path="url(#gc22)"/>
<rect x="50.35" y="347.15" width="5.67" height="1.06" fill="url(#hg)" opacity="0.61" clip-path="url(#gc22)"/>
<rect x="46.19" y="348.16" width="14.00" height="1.06" fill="url(#hg)" opacity="0.18" clip-path="url(#gc22)"/>
<rect x="50.43" y="348.16" width="5.52" height="1.06" fill="url(#hg)" opacity="0.83" clip-path="url(#gc22)"/>
<rect x="46.29" y="349.17" width="13.79" height="1.06" fill="url(#hg)" opacity="0.22" clip-path="url(#gc22)"/>
<rect x="50.51" y="349.17" width="5.37" height="1.06" fill="url(#hg)" opacity="0.90" clip-path="url(#gc22)"/>
<rect x="46.39" y="350.18" width="13.60" height="1.06" fill="url(#hg)" opacity="0.25" clip-path="url(#gc22)"/>
<rect x="50.58" y="350.18" width="5.22" height="1.06" fill="url(#hg)" opacity="0.86" clip-path="url(#gc22)"/>
<rect x="46.49" y="351.18" width="13.41" height="1.06" fill="url(#hg)" opacity="0.19" clip-path="url(#gc22)"/>
<rect x="50.65" y="351.18" width="5.08" height="1.06" fill="url(#hg)" opacity="0.63" clip-path="url(#gc22)"/>
<rect x="46.58" y="352.19" width="13.23" height="1.06" fill="url(#hg)" opacity="0.19" clip-path="url(#gc22)"/>
<rect x="50.71" y="352.19" width="4.95" height="1.06" fill="url(#hg)" opacity="0.73" clip-path="url(#gc22)"/>
<rect x="44.84" y="315.90" width="16.70" height="8.21" fill="url(#vtop)" opacity="0.81"/>
<rect x="44.84" y="315.90" width="16.7" height="37.30" fill="none" stroke="#c4c4c4" stroke-width="0.7"/>
<rect x="63.01" y="315.90" width="16.70" height="37.30" fill="#fdf0ea"/>
<rect x="56.96" y="315.90" width="28.79" height="1.06" fill="url(#hg)" opacity="0.51" clip-path="url(#gc23)"/>
<rect x="59.43" y="315.90" width="23.85" height="1.06" fill="url(#hg)" opacity="1.00" clip-path="url(#gc23)"/>
<rect x="57.39" y="316.91" width="27.95" height="1.06" fill="url(#hg)" opacity="0.45" clip-path="url(#gc23)"/>
<rect x="60.23" y="316.91" width="22.26" height="1.06" fill="url(#hg)" opacity="1.00" clip-path="url(#gc23)"/>
<rect x="57.79" y="317.92" width="27.14" height="1.06" fill="url(#hg)" opacity="0.42" clip-path="url(#gc23)"/>
<rect x="60.96" y="317.92" width="20.80" height="1.06" fill="url(#hg)" opacity="1.00" clip-path="url(#gc23)"/>
<rect x="58.17" y="318.92" width="26.37" height="1.06" fill="url(#hg)" opacity="0.51" clip-path="url(#gc23)"/>
<rect x="61.63" y="318.92" width="19.46" height="1.06" fill="url(#hg)" opacity="1.00" clip-path="url(#gc23)"/>
<rect x="58.54" y="319.93" width="25.63" height="1.06" fill="url(#hg)" opacity="0.39" clip-path="url(#gc23)"/>
<rect x="62.24" y="319.93" width="18.25" height="1.06" fill="url(#hg)" opacity="1.00" clip-path="url(#gc23)"/>
<rect x="58.90" y="320.94" width="24.93" height="1.06" fill="url(#hg)" opacity="0.45" clip-path="url(#gc23)"/>
<rect x="62.79" y="320.94" width="17.13" height="1.06" fill="url(#hg)" opacity="1.00" clip-path="url(#gc23)"/>
<rect x="59.23" y="321.95" width="24.25" height="1.06" fill="url(#hg)" opacity="0.33" clip-path="url(#gc23)"/>
<rect x="63.30" y="321.95" width="16.12" height="1.06" fill="url(#hg)" opacity="1.00" clip-path="url(#gc23)"/>
<rect x="59.56" y="322.96" width="23.61" height="1.06" fill="url(#hg)" opacity="0.38" clip-path="url(#gc23)"/>
<rect x="63.77" y="322.96" width="15.18" height="1.06" fill="url(#hg)" opacity="1.00" clip-path="url(#gc23)"/>
<rect x="59.87" y="323.96" width="22.99" height="1.06" fill="url(#hg)" opacity="0.30" clip-path="url(#gc23)"/>
<rect x="64.19" y="323.96" width="14.33" height="1.06" fill="url(#hg)" opacity="1.00" clip-path="url(#gc23)"/>
<rect x="60.16" y="324.97" width="22.39" height="1.06" fill="url(#hg)" opacity="0.39" clip-path="url(#gc23)"/>
<rect x="64.59" y="324.97" width="13.55" height="1.06" fill="url(#hg)" opacity="1.00" clip-path="url(#gc23)"/>
<rect x="60.45" y="325.98" width="21.83" height="1.06" fill="url(#hg)" opacity="0.41" clip-path="url(#gc23)"/>
<rect x="64.94" y="325.98" width="12.83" height="1.06" fill="url(#hg)" opacity="1.00" clip-path="url(#gc23)"/>
<rect x="60.72" y="326.99" width="21.28" height="1.06" fill="url(#hg)" opacity="0.40" clip-path="url(#gc23)"/>
<rect x="65.27" y="326.99" width="12.17" height="1.06" fill="url(#hg)" opacity="0.89" clip-path="url(#gc23)"/>
<rect x="60.98" y="328.00" width="20.77" height="1.06" fill="url(#hg)" opacity="0.28" clip-path="url(#gc23)"/>
<rect x="65.58" y="328.00" width="11.57" height="1.06" fill="url(#hg)" opacity="0.86" clip-path="url(#gc23)"/>
<rect x="61.23" y="329.01" width="20.27" height="1.06" fill="url(#hg)" opacity="0.31" clip-path="url(#gc23)"/>
<rect x="65.86" y="329.01" width="11.01" height="1.06" fill="url(#hg)" opacity="1.00" clip-path="url(#gc23)"/>
<rect x="61.46" y="330.01" width="19.79" height="1.06" fill="url(#hg)" opacity="0.25" clip-path="url(#gc23)"/>
<rect x="66.11" y="330.01" width="10.49" height="1.06" fill="url(#hg)" opacity="1.00" clip-path="url(#gc23)"/>
<rect x="61.69" y="331.02" width="19.34" height="1.06" fill="url(#hg)" opacity="0.25" clip-path="url(#gc23)"/>
<rect x="66.35" y="331.02" width="10.02" height="1.06" fill="url(#hg)" opacity="0.95" clip-path="url(#gc23)"/>
<rect x="61.91" y="332.03" width="18.90" height="1.06" fill="url(#hg)" opacity="0.27" clip-path="url(#gc23)"/>
<rect x="66.57" y="332.03" width="9.58" height="1.06" fill="url(#hg)" opacity="1.00" clip-path="url(#gc23)"/>
<rect x="62.12" y="333.04" width="18.48" height="1.06" fill="url(#hg)" opacity="0.28" clip-path="url(#gc23)"/>
<rect x="66.77" y="333.04" width="9.18" height="1.06" fill="url(#hg)" opacity="0.91" clip-path="url(#gc23)"/>
<rect x="62.32" y="334.05" width="18.08" height="1.06" fill="url(#hg)" opacity="0.24" clip-path="url(#gc23)"/>
<rect x="66.96" y="334.05" width="8.80" height="1.06" fill="url(#hg)" opacity="0.97" clip-path="url(#gc23)"/>
<rect x="62.51" y="335.05" width="17.70" height="1.06" fill="url(#hg)" opacity="0.30" clip-path="url(#gc23)"/>
<rect x="67.13" y="335.05" width="8.45" height="1.06" fill="url(#hg)" opacity="1.00" clip-path="url(#gc23)"/>
<rect x="62.69" y="336.06" width="17.34" height="1.06" fill="url(#hg)" opacity="0.33" clip-path="url(#gc23)"/>
<rect x="67.29" y="336.06" width="8.13" height="1.06" fill="url(#hg)" opacity="1.00" clip-path="url(#gc23)"/>
<rect x="62.87" y="337.07" width="16.99" height="1.06" fill="url(#hg)" opacity="0.25" clip-path="url(#gc23)"/>
<rect x="67.45" y="337.07" width="7.83" height="1.06" fill="url(#hg)" opacity="0.81" clip-path="url(#gc23)"/>
<rect x="63.03" y="338.08" width="16.65" height="1.06" fill="url(#hg)" opacity="0.30" clip-path="url(#gc23)"/>
<rect x="67.59" y="338.08" width="7.55" height="1.06" fill="url(#hg)" opacity="1.00" clip-path="url(#gc23)"/>
<rect x="63.19" y="339.09" width="16.33" height="1.06" fill="url(#hg)" opacity="0.27" clip-path="url(#gc23)"/>
<rect x="67.72" y="339.09" width="7.29" height="1.06" fill="url(#hg)" opacity="1.00" clip-path="url(#gc23)"/>
<rect x="63.35" y="340.09" width="16.03" height="1.06" fill="url(#hg)" opacity="0.27" clip-path="url(#gc23)"/>
<rect x="67.84" y="340.09" width="7.04" height="1.06" fill="url(#hg)" opacity="0.86" clip-path="url(#gc23)"/>
<rect x="63.49" y="341.10" width="15.73" height="1.06" fill="url(#hg)" opacity="0.23" clip-path="url(#gc23)"/>
<rect x="67.96" y="341.10" width="6.81" height="1.06" fill="url(#hg)" opacity="0.74" clip-path="url(#gc23)"/>
<rect x="63.63" y="342.11" width="15.45" height="1.06" fill="url(#hg)" opacity="0.28" clip-path="url(#gc23)"/>
<rect x="68.06" y="342.11" width="6.59" height="1.06" fill="url(#hg)" opacity="1.00" clip-path="url(#gc23)"/>
<rect x="63.77" y="343.12" width="15.18" height="1.06" fill="url(#hg)" opacity="0.30" clip-path="url(#gc23)"/>
<rect x="68.17" y="343.12" width="6.39" height="1.06" fill="url(#hg)" opacity="0.92" clip-path="url(#gc23)"/>
<rect x="63.90" y="344.13" width="14.92" height="1.06" fill="url(#hg)" opacity="0.28" clip-path="url(#gc23)"/>
<rect x="68.26" y="344.13" width="6.19" height="1.06" fill="url(#hg)" opacity="1.00" clip-path="url(#gc23)"/>
<rect x="64.02" y="345.14" width="14.68" height="1.06" fill="url(#hg)" opacity="0.29" clip-path="url(#gc23)"/>
<rect x="68.35" y="345.14" width="6.01" height="1.06" fill="url(#hg)" opacity="0.96" clip-path="url(#gc23)"/>
<rect x="64.14" y="346.14" width="14.44" height="1.06" fill="url(#hg)" opacity="0.25" clip-path="url(#gc23)"/>
<rect x="68.44" y="346.14" width="5.84" height="1.06" fill="url(#hg)" opacity="0.93" clip-path="url(#gc23)"/>
<rect x="64.25" y="347.15" width="14.22" height="1.06" fill="url(#hg)" opacity="0.22" clip-path="url(#gc23)"/>
<rect x="68.52" y="347.15" width="5.67" height="1.06" fill="url(#hg)" opacity="0.79" clip-path="url(#gc23)"/>
<rect x="64.36" y="348.16" width="14.00" height="1.06" fill="url(#hg)" opacity="0.27" clip-path="url(#gc23)"/>
<rect x="68.60" y="348.16" width="5.52" height="1.06" fill="url(#hg)" opacity="1.00" clip-path="url(#gc23)"/>
<rect x="64.46" y="349.17" width="13.79" height="1.06" fill="url(#hg)" opacity="0.26" clip-path="url(#gc23)"/>
<rect x="68.68" y="349.17" width="5.37" height="1.06" fill="url(#hg)" opacity="0.87" clip-path="url(#gc23)"/>
<rect x="64.56" y="350.18" width="13.60" height="1.06" fill="url(#hg)" opacity="0.24" clip-path="url(#gc23)"/>
<rect x="68.75" y="350.18" width="5.22" height="1.06" fill="url(#hg)" opacity="0.89" clip-path="url(#gc23)"/>
<rect x="64.66" y="351.18" width="13.41" height="1.06" fill="url(#hg)" opacity="0.28" clip-path="url(#gc23)"/>
<rect x="68.82" y="351.18" width="5.08" height="1.06" fill="url(#hg)" opacity="0.88" clip-path="url(#gc23)"/>
<rect x="64.75" y="352.19" width="13.23" height="1.06" fill="url(#hg)" opacity="0.30" clip-path="url(#gc23)"/>
<rect x="68.88" y="352.19" width="4.95" height="1.06" fill="url(#hg)" opacity="0.76" clip-path="url(#gc23)"/>
<rect x="63.01" y="315.90" width="16.70" height="8.21" fill="url(#vtop)" opacity="0.99"/>
<rect x="63.01" y="315.90" width="16.7" height="37.30" fill="none" stroke="#c4c4c4" stroke-width="0.7"/>
<rect x="81.18" y="315.90" width="16.70" height="37.30" fill="#fdf0ea"/>
<rect x="75.13" y="315.90" width="28.79" height="1.06" fill="url(#hg)" opacity="0.42" clip-path="url(#gc24)"/>
<rect x="77.60" y="315.90" width="23.85" height="1.06" fill="url(#hg)" opacity="1.00" clip-path="url(#gc24)"/>
<rect x="75.56" y="316.91" width="27.95" height="1.06" fill="url(#hg)" opacity="0.42" clip-path="url(#gc24)"/>
<rect x="78.40" y="316.91" width="22.26" height="1.06" fill="url(#hg)" opacity="1.00" clip-path="url(#gc24)"/>
<rect x="75.96" y="317.92" width="27.14" height="1.06" fill="url(#hg)" opacity="0.47" clip-path="url(#gc24)"/>
<rect x="79.13" y="317.92" width="20.80" height="1.06" fill="url(#hg)" opacity="1.00" clip-path="url(#gc24)"/>
<rect x="76.34" y="318.92" width="26.37" height="1.06" fill="url(#hg)" opacity="0.42" clip-path="url(#gc24)"/>
<rect x="79.80" y="318.92" width="19.46" height="1.06" fill="url(#hg)" opacity="1.00" clip-path="url(#gc24)"/>
<rect x="76.71" y="319.93" width="25.63" height="1.06" fill="url(#hg)" opacity="0.39" clip-path="url(#gc24)"/>
<rect x="80.41" y="319.93" width="18.25" height="1.06" fill="url(#hg)" opacity="1.00" clip-path="url(#gc24)"/>
<rect x="77.07" y="320.94" width="24.93" height="1.06" fill="url(#hg)" opacity="0.37" clip-path="url(#gc24)"/>
<rect x="80.96" y="320.94" width="17.13" height="1.06" fill="url(#hg)" opacity="1.00" clip-path="url(#gc24)"/>
<rect x="77.40" y="321.95" width="24.25" height="1.06" fill="url(#hg)" opacity="0.38" clip-path="url(#gc24)"/>
<rect x="81.47" y="321.95" width="16.12" height="1.06" fill="url(#hg)" opacity="1.00" clip-path="url(#gc24)"/>
<rect x="77.73" y="322.96" width="23.61" height="1.06" fill="url(#hg)" opacity="0.29" clip-path="url(#gc24)"/>
<rect x="81.94" y="322.96" width="15.18" height="1.06" fill="url(#hg)" opacity="1.00" clip-path="url(#gc24)"/>
<rect x="78.04" y="323.96" width="22.99" height="1.06" fill="url(#hg)" opacity="0.31" clip-path="url(#gc24)"/>
<rect x="82.36" y="323.96" width="14.33" height="1.06" fill="url(#hg)" opacity="1.00" clip-path="url(#gc24)"/>
<rect x="78.33" y="324.97" width="22.39" height="1.06" fill="url(#hg)" opacity="0.37" clip-path="url(#gc24)"/>
<rect x="82.76" y="324.97" width="13.55" height="1.06" fill="url(#hg)" opacity="1.00" clip-path="url(#gc24)"/>
<rect x="78.62" y="325.98" width="21.83" height="1.06" fill="url(#hg)" opacity="0.33" clip-path="url(#gc24)"/>
<rect x="83.11" y="325.98" width="12.83" height="1.06" fill="url(#hg)" opacity="0.90" clip-path="url(#gc24)"/>
<rect x="78.89" y="326.99" width="21.28" height="1.06" fill="url(#hg)" opacity="0.35" clip-path="url(#gc24)"/>
<rect x="83.44" y="326.99" width="12.17" height="1.06" fill="url(#hg)" opacity="0.87" clip-path="url(#gc24)"/>
<rect x="79.15" y="328.00" width="20.77" height="1.06" fill="url(#hg)" opacity="0.28" clip-path="url(#gc24)"/>
<rect x="83.75" y="328.00" width="11.57" height="1.06" fill="url(#hg)" opacity="1.00" clip-path="url(#gc24)"/>
<rect x="79.40" y="329.01" width="20.27" height="1.06" fill="url(#hg)" opacity="0.27" clip-path="url(#gc24)"/>
<rect x="84.03" y="329.01" width="11.01" height="1.06" fill="url(#hg)" opacity="0.88" clip-path="url(#gc24)"/>
<rect x="79.63" y="330.01" width="19.79" height="1.06" fill="url(#hg)" opacity="0.33" clip-path="url(#gc24)"/>
<rect x="84.28" y="330.01" width="10.49" height="1.06" fill="url(#hg)" opacity="1.00" clip-path="url(#gc24)"/>
<rect x="79.86" y="331.02" width="19.34" height="1.06" fill="url(#hg)" opacity="0.26" clip-path="url(#gc24)"/>
<rect x="84.52" y="331.02" width="10.02" height="1.06" fill="url(#hg)" opacity="0.90" clip-path="url(#gc24)"/>
<rect x="80.08" y="332.03" width="18.90" height="1.06" fill="url(#hg)" opacity="0.25" clip-path="url(#gc24)"/>
<rect x="84.74" y="332.03" width="9.58" height="1.06" fill="url(#hg)" opacity="0.78" clip-path="url(#gc24)"/>
<rect x="80.29" y="333.04" width="18.48" height="1.06" fill="url(#hg)" opacity="0.24" clip-path="url(#gc24)"/>
<rect x="84.94" y="333.04" width="9.18" height="1.06" fill="url(#hg)" opacity="1.00" clip-path="url(#gc24)"/>
<rect x="80.49" y="334.05" width="18.08" height="1.06" fill="url(#hg)" opacity="0.22" clip-path="url(#gc24)"/>
<rect x="85.13" y="334.05" width="8.80" height="1.06" fill="url(#hg)" opacity="0.80" clip-path="url(#gc24)"/>
<rect x="80.68" y="335.05" width="17.70" height="1.06" fill="url(#hg)" opacity="0.23" clip-path="url(#gc24)"/>
<rect x="85.30" y="335.05" width="8.45" height="1.06" fill="url(#hg)" opacity="0.73" clip-path="url(#gc24)"/>
<rect x="80.86" y="336.06" width="17.34" height="1.06" fill="url(#hg)" opacity="0.26" clip-path="url(#gc24)"/>
<rect x="85.46" y="336.06" width="8.13" height="1.06" fill="url(#hg)" opacity="0.99" clip-path="url(#gc24)"/>
<rect x="81.04" y="337.07" width="16.99" height="1.06" fill="url(#hg)" opacity="0.29" clip-path="url(#gc24)"/>
<rect x="85.62" y="337.07" width="7.83" height="1.06" fill="url(#hg)" opacity="0.93" clip-path="url(#gc24)"/>
<rect x="81.20" y="338.08" width="16.65" height="1.06" fill="url(#hg)" opacity="0.28" clip-path="url(#gc24)"/>
<rect x="85.76" y="338.08" width="7.55" height="1.06" fill="url(#hg)" opacity="0.68" clip-path="url(#gc24)"/>
<rect x="81.36" y="339.09" width="16.33" height="1.06" fill="url(#hg)" opacity="0.22" clip-path="url(#gc24)"/>
<rect x="85.89" y="339.09" width="7.29" height="1.06" fill="url(#hg)" opacity="1.00" clip-path="url(#gc24)"/>
<rect x="81.52" y="340.09" width="16.03" height="1.06" fill="url(#hg)" opacity="0.20" clip-path="url(#gc24)"/>
<rect x="86.01" y="340.09" width="7.04" height="1.06" fill="url(#hg)" opacity="0.77" clip-path="url(#gc24)"/>
<rect x="81.66" y="341.10" width="15.73" height="1.06" fill="url(#hg)" opacity="0.24" clip-path="url(#gc24)"/>
<rect x="86.13" y="341.10" width="6.81" height="1.06" fill="url(#hg)" opacity="0.77" clip-path="url(#gc24)"/>
<rect x="81.80" y="342.11" width="15.45" height="1.06" fill="url(#hg)" opacity="0.24" clip-path="url(#gc24)"/>
<rect x="86.23" y="342.11" width="6.59" height="1.06" fill="url(#hg)" opacity="0.68" clip-path="url(#gc24)"/>
<rect x="81.94" y="343.12" width="15.18" height="1.06" fill="url(#hg)" opacity="0.21" clip-path="url(#gc24)"/>
<rect x="86.34" y="343.12" width="6.39" height="1.06" fill="url(#hg)" opacity="1.00" clip-path="url(#gc24)"/>
<rect x="82.07" y="344.13" width="14.92" height="1.06" fill="url(#hg)" opacity="0.20" clip-path="url(#gc24)"/>
<rect x="86.43" y="344.13" width="6.19" height="1.06" fill="url(#hg)" opacity="0.99" clip-path="url(#gc24)"/>
<rect x="82.19" y="345.14" width="14.68" height="1.06" fill="url(#hg)" opacity="0.20" clip-path="url(#gc24)"/>
<rect x="86.52" y="345.14" width="6.01" height="1.06" fill="url(#hg)" opacity="1.00" clip-path="url(#gc24)"/>
<rect x="82.31" y="346.14" width="14.44" height="1.06" fill="url(#hg)" opacity="0.25" clip-path="url(#gc24)"/>
<rect x="86.61" y="346.14" width="5.84" height="1.06" fill="url(#hg)" opacity="0.89" clip-path="url(#gc24)"/>
<rect x="82.42" y="347.15" width="14.22" height="1.06" fill="url(#hg)" opacity="0.20" clip-path="url(#gc24)"/>
<rect x="86.69" y="347.15" width="5.67" height="1.06" fill="url(#hg)" opacity="0.67" clip-path="url(#gc24)"/>
<rect x="82.53" y="348.16" width="14.00" height="1.06" fill="url(#hg)" opacity="0.25" clip-path="url(#gc24)"/>
<rect x="86.77" y="348.16" width="5.52" height="1.06" fill="url(#hg)" opacity="0.71" clip-path="url(#gc24)"/>
<rect x="82.63" y="349.17" width="13.79" height="1.06" fill="url(#hg)" opacity="0.20" clip-path="url(#gc24)"/>
<rect x="86.85" y="349.17" width="5.37" height="1.06" fill="url(#hg)" opacity="0.94" clip-path="url(#gc24)"/>
<rect x="82.73" y="350.18" width="13.60" height="1.06" fill="url(#hg)" opacity="0.26" clip-path="url(#gc24)"/>
<rect x="86.92" y="350.18" width="5.22" height="1.06" fill="url(#hg)" opacity="0.66" clip-path="url(#gc24)"/>
<rect x="82.83" y="351.18" width="13.41" height="1.06" fill="url(#hg)" opacity="0.27" clip-path="url(#gc24)"/>
<rect x="86.99" y="351.18" width="5.08" height="1.06" fill="url(#hg)" opacity="0.83" clip-path="url(#gc24)"/>
<rect x="82.92" y="352.19" width="13.23" height="1.06" fill="url(#hg)" opacity="0.22" clip-path="url(#gc24)"/>
<rect x="87.05" y="352.19" width="4.95" height="1.06" fill="url(#hg)" opacity="0.68" clip-path="url(#gc24)"/>
<rect x="81.18" y="315.90" width="16.70" height="8.21" fill="url(#vtop)" opacity="0.90"/>
<rect x="81.18" y="315.90" width="16.7" height="37.30" fill="none" stroke="#c4c4c4" stroke-width="0.7"/>
<rect x="99.35" y="315.90" width="16.70" height="37.30" fill="#fdf0ea"/>
<rect x="93.30" y="315.90" width="28.79" height="1.06" fill="url(#hg)" opacity="0.42" clip-path="url(#gc25)"/>
<rect x="95.77" y="315.90" width="23.85" height="1.06" fill="url(#hg)" opacity="1.00" clip-path="url(#gc25)"/>
<rect x="93.73" y="316.91" width="27.95" height="1.06" fill="url(#hg)" opacity="0.38" clip-path="url(#gc25)"/>
<rect x="96.57" y="316.91" width="22.26" height="1.06" fill="url(#hg)" opacity="1.00" clip-path="url(#gc25)"/>
<rect x="94.13" y="317.92" width="27.14" height="1.06" fill="url(#hg)" opacity="0.34" clip-path="url(#gc25)"/>
<rect x="97.30" y="317.92" width="20.80" height="1.06" fill="url(#hg)" opacity="1.00" clip-path="url(#gc25)"/>
<rect x="94.51" y="318.92" width="26.37" height="1.06" fill="url(#hg)" opacity="0.36" clip-path="url(#gc25)"/>
<rect x="97.97" y="318.92" width="19.46" height="1.06" fill="url(#hg)" opacity="1.00" clip-path="url(#gc25)"/>
<rect x="94.88" y="319.93" width="25.63" height="1.06" fill="url(#hg)" opacity="0.30" clip-path="url(#gc25)"/>
<rect x="98.58" y="319.93" width="18.25" height="1.06" fill="url(#hg)" opacity="1.00" clip-path="url(#gc25)"/>
<rect x="95.24" y="320.94" width="24.93" height="1.06" fill="url(#hg)" opacity="0.41" clip-path="url(#gc25)"/>
<rect x="99.13" y="320.94" width="17.13" height="1.06" fill="url(#hg)" opacity="1.00" clip-path="url(#gc25)"/>
<rect x="95.57" y="321.95" width="24.25" height="1.06" fill="url(#hg)" opacity="0.40" clip-path="url(#gc25)"/>
<rect x="99.64" y="321.95" width="16.12" height="1.06" fill="url(#hg)" opacity="0.97" clip-path="url(#gc25)"/>
<rect x="95.90" y="322.96" width="23.61" height="1.06" fill="url(#hg)" opacity="0.31" clip-path="url(#gc25)"/>
<rect x="100.11" y="322.96" width="15.18" height="1.06" fill="url(#hg)" opacity="1.00" clip-path="url(#gc25)"/>
<rect x="96.21" y="323.96" width="22.99" height="1.06" fill="url(#hg)" opacity="0.31" clip-path="url(#gc25)"/>
<rect x="100.53" y="323.96" width="14.33" height="1.06" fill="url(#hg)" opacity="1.00" clip-path="url(#gc25)"/>
<rect x="96.50" y="324.97" width="22.39" height="1.06" fill="url(#hg)" opacity="0.28" clip-path="url(#gc25)"/>
<rect x="100.93" y="324.97" width="13.55" height="1.06" fill="url(#hg)" opacity="0.79" clip-path="url(#gc25)"/>
<rect x="96.79" y="325.98" width="21.83" height="1.06" fill="url(#hg)" opacity="0.28" clip-path="url(#gc25)"/>
<rect x="101.28" y="325.98" width="12.83" height="1.06" fill="url(#hg)" opacity="1.00" clip-path="url(#gc25)"/>
<rect x="97.06" y="326.99" width="21.28" height="1.06" fill="url(#hg)" opacity="0.32" clip-path="url(#gc25)"/>
<rect x="101.61" y="326.99" width="12.17" height="1.06" fill="url(#hg)" opacity="0.99" clip-path="url(#gc25)"/>
<rect x="97.32" y="328.00" width="20.77" height="1.06" fill="url(#hg)" opacity="0.28" clip-path="url(#gc25)"/>
<rect x="101.92" y="328.00" width="11.57" height="1.06" fill="url(#hg)" opacity="0.96" clip-path="url(#gc25)"/>
<rect x="97.57" y="329.01" width="20.27" height="1.06" fill="url(#hg)" opacity="0.27" clip-path="url(#gc25)"/>
<rect x="102.20" y="329.01" width="11.01" height="1.06" fill="url(#hg)" opacity="0.94" clip-path="url(#gc25)"/>
<rect x="97.80" y="330.01" width="19.79" height="1.06" fill="url(#hg)" opacity="0.30" clip-path="url(#gc25)"/>
<rect x="102.45" y="330.01" width="10.49" height="1.06" fill="url(#hg)" opacity="0.79" clip-path="url(#gc25)"/>
<rect x="98.03" y="331.02" width="19.34" height="1.06" fill="url(#hg)" opacity="0.27" clip-path="url(#gc25)"/>
<rect x="102.69" y="331.02" width="10.02" height="1.06" fill="url(#hg)" opacity="1.00" clip-path="url(#gc25)"/>
<rect x="98.25" y="332.03" width="18.90" height="1.06" fill="url(#hg)" opacity="0.29" clip-path="url(#gc25)"/>
<rect x="102.91" y="332.03" width="9.58" height="1.06" fill="url(#hg)" opacity="0.76" clip-path="url(#gc25)"/>
<rect x="98.46" y="333.04" width="18.48" height="1.06" fill="url(#hg)" opacity="0.30" clip-path="url(#gc25)"/>
<rect x="103.11" y="333.04" width="9.18" height="1.06" fill="url(#hg)" opacity="1.00" clip-path="url(#gc25)"/>
<rect x="98.66" y="334.05" width="18.08" height="1.06" fill="url(#hg)" opacity="0.22" clip-path="url(#gc25)"/>
<rect x="103.30" y="334.05" width="8.80" height="1.06" fill="url(#hg)" opacity="0.77" clip-path="url(#gc25)"/>
<rect x="98.85" y="335.05" width="17.70" height="1.06" fill="url(#hg)" opacity="0.22" clip-path="url(#gc25)"/>
<rect x="103.47" y="335.05" width="8.45" height="1.06" fill="url(#hg)" opacity="0.69" clip-path="url(#gc25)"/>
<rect x="99.03" y="336.06" width="17.34" height="1.06" fill="url(#hg)" opacity="0.29" clip-path="url(#gc25)"/>
<rect x="103.63" y="336.06" width="8.13" height="1.06" fill="url(#hg)" opacity="0.81" clip-path="url(#gc25)"/>
<rect x="99.21" y="337.07" width="16.99" height="1.06" fill="url(#hg)" opacity="0.27" clip-path="url(#gc25)"/>
<rect x="103.79" y="337.07" width="7.83" height="1.06" fill="url(#hg)" opacity="0.70" clip-path="url(#gc25)"/>
<rect x="99.37" y="338.08" width="16.65" height="1.06" fill="url(#hg)" opacity="0.19" clip-path="url(#gc25)"/>
<rect x="103.93" y="338.08" width="7.55" height="1.06" fill="url(#hg)" opacity="0.97" clip-path="url(#gc25)"/>
<rect x="99.53" y="339.09" width="16.33" height="1.06" fill="url(#hg)" opacity="0.26" clip-path="url(#gc25)"/>
<rect x="104.06" y="339.09" width="7.29" height="1.06" fill="url(#hg)" opacity="1.00" clip-path="url(#gc25)"/>
<rect x="99.69" y="340.09" width="16.03" height="1.06" fill="url(#hg)" opacity="0.25" clip-path="url(#gc25)"/>
<rect x="104.18" y="340.09" width="7.04" height="1.06" fill="url(#hg)" opacity="0.83" clip-path="url(#gc25)"/>
<rect x="99.83" y="341.10" width="15.73" height="1.06" fill="url(#hg)" opacity="0.25" clip-path="url(#gc25)"/>
<rect x="104.30" y="341.10" width="6.81" height="1.06" fill="url(#hg)" opacity="0.67" clip-path="url(#gc25)"/>
<rect x="99.97" y="342.11" width="15.45" height="1.06" fill="url(#hg)" opacity="0.23" clip-path="url(#gc25)"/>
<rect x="104.40" y="342.11" width="6.59" height="1.06" fill="url(#hg)" opacity="0.79" clip-path="url(#gc25)"/>
<rect x="100.11" y="343.12" width="15.18" height="1.06" fill="url(#hg)" opacity="0.19" clip-path="url(#gc25)"/>
<rect x="104.51" y="343.12" width="6.39" height="1.06" fill="url(#hg)" opacity="0.84" clip-path="url(#gc25)"/>
<rect x="100.24" y="344.13" width="14.92" height="1.06" fill="url(#hg)" opacity="0.21" clip-path="url(#gc25)"/>
<rect x="104.60" y="344.13" width="6.19" height="1.06" fill="url(#hg)" opacity="0.80" clip-path="url(#gc25)"/>
<rect x="100.36" y="345.14" width="14.68" height="1.06" fill="url(#hg)" opacity="0.21" clip-path="url(#gc25)"/>
<rect x="104.69" y="345.14" width="6.01" height="1.06" fill="url(#hg)" opacity="0.73" clip-path="url(#gc25)"/>
<rect x="100.48" y="346.14" width="14.44" height="1.06" fill="url(#hg)" opacity="0.21" clip-path="url(#gc25)"/>
<rect x="104.78" y="346.14" width="5.84" height="1.06" fill="url(#hg)" opacity="0.83" clip-path="url(#gc25)"/>
<rect x="100.59" y="347.15" width="14.22" height="1.06" fill="url(#hg)" opacity="0.26" clip-path="url(#gc25)"/>
<rect x="104.86" y="347.15" width="5.67" height="1.06" fill="url(#hg)" opacity="0.94" clip-path="url(#gc25)"/>
<rect x="100.70" y="348.16" width="14.00" height="1.06" fill="url(#hg)" opacity="0.25" clip-path="url(#gc25)"/>
<rect x="104.94" y="348.16" width="5.52" height="1.06" fill="url(#hg)" opacity="0.90" clip-path="url(#gc25)"/>
<rect x="100.80" y="349.17" width="13.79" height="1.06" fill="url(#hg)" opacity="0.20" clip-path="url(#gc25)"/>
<rect x="105.02" y="349.17" width="5.37" height="1.06" fill="url(#hg)" opacity="0.95" clip-path="url(#gc25)"/>
<rect x="100.90" y="350.18" width="13.60" height="1.06" fill="url(#hg)" opacity="0.20" clip-path="url(#gc25)"/>
<rect x="105.09" y="350.18" width="5.22" height="1.06" fill="url(#hg)" opacity="0.65" clip-path="url(#gc25)"/>
<rect x="101.00" y="351.18" width="13.41" height="1.06" fill="url(#hg)" opacity="0.22" clip-path="url(#gc25)"/>
<rect x="105.16" y="351.18" width="5.08" height="1.06" fill="url(#hg)" opacity="0.86" clip-path="url(#gc25)"/>
<rect x="101.09" y="352.19" width="13.23" height="1.06" fill="url(#hg)" opacity="0.20" clip-path="url(#gc25)"/>
<rect x="105.22" y="352.19" width="4.95" height="1.06" fill="url(#hg)" opacity="0.83" clip-path="url(#gc25)"/>
<rect x="99.35" y="315.90" width="16.70" height="8.21" fill="url(#vtop)" opacity="0.85"/>
<rect x="99.35" y="315.90" width="16.7" height="37.30" fill="none" stroke="#c4c4c4" stroke-width="0.7"/>
<rect x="117.52" y="315.90" width="16.70" height="37.30" fill="#fdf0ea"/>
<rect x="111.47" y="315.90" width="28.79" height="1.06" fill="url(#hg)" opacity="0.33" clip-path="url(#gc26)"/>
<rect x="113.94" y="315.90" width="23.85" height="1.06" fill="url(#hg)" opacity="1.00" clip-path="url(#gc26)"/>
<rect x="111.90" y="316.91" width="27.95" height="1.06" fill="url(#hg)" opacity="0.34" clip-path="url(#gc26)"/>
<rect x="114.74" y="316.91" width="22.26" height="1.06" fill="url(#hg)" opacity="1.00" clip-path="url(#gc26)"/>
<rect x="112.30" y="317.92" width="27.14" height="1.06" fill="url(#hg)" opacity="0.34" clip-path="url(#gc26)"/>
<rect x="115.47" y="317.92" width="20.80" height="1.06" fill="url(#hg)" opacity="1.00" clip-path="url(#gc26)"/>
<rect x="112.68" y="318.92" width="26.37" height="1.06" fill="url(#hg)" opacity="0.38" clip-path="url(#gc26)"/>
<rect x="116.14" y="318.92" width="19.46" height="1.06" fill="url(#hg)" opacity="1.00" clip-path="url(#gc26)"/>
<rect x="113.05" y="319.93" width="25.63" height="1.06" fill="url(#hg)" opacity="0.30" clip-path="url(#gc26)"/>
<rect x="116.75" y="319.93" width="18.25" height="1.06" fill="url(#hg)" opacity="1.00" clip-path="url(#gc26)"/>
<rect x="113.41" y="320.94" width="24.93" height="1.06" fill="url(#hg)" opacity="0.24" clip-path="url(#gc26)"/>
<rect x="117.30" y="320.94" width="17.13" height="1.06" fill="url(#hg)" opacity="0.91" clip-path="url(#gc26)"/>
<rect x="113.74" y="321.95" width="24.25" height="1.06" fill="url(#hg)" opacity="0.32" clip-path="url(#gc26)"/>
<rect x="117.81" y="321.95" width="16.12" height="1.06" fill="url(#hg)" opacity="1.00" clip-path="url(#gc26)"/>
<rect x="114.07" y="322.96" width="23.61" height="1.06" fill="url(#hg)" opacity="0.22" clip-path="url(#gc26)"/>
<rect x="118.28" y="322.96" width="15.18" height="1.06" fill="url(#hg)" opacity="1.00" clip-path="url(#gc26)"/>
<rect x="114.38" y="323.96" width="22.99" height="1.06" fill="url(#hg)" opacity="0.25" clip-path="url(#gc26)"/>
<rect x="118.70" y="323.96" width="14.33" height="1.06" fill="url(#hg)" opacity="1.00" clip-path="url(#gc26)"/>
<rect x="114.67" y="324.97" width="22.39" height="1.06" fill="url(#hg)" opacity="0.24" clip-path="url(#gc26)"/>
<rect x="119.10" y="324.97" width="13.55" height="1.06" fill="url(#hg)" opacity="0.74" clip-path="url(#gc26)"/>
<rect x="114.96" y="325.98" width="21.83" height="1.06" fill="url(#hg)" opacity="0.25" clip-path="url(#gc26)"/>
<rect x="119.45" y="325.98" width="12.83" height="1.06" fill="url(#hg)" opacity="0.97" clip-path="url(#gc26)"/>
<rect x="115.23" y="326.99" width="21.28" height="1.06" fill="url(#hg)" opacity="0.24" clip-path="url(#gc26)"/>
<rect x="119.78" y="326.99" width="12.17" height="1.06" fill="url(#hg)" opacity="0.94" clip-path="url(#gc26)"/>
<rect x="115.49" y="328.00" width="20.77" height="1.06" fill="url(#hg)" opacity="0.26" clip-path="url(#gc26)"/>
<rect x="120.09" y="328.00" width="11.57" height="1.06" fill="url(#hg)" opacity="0.75" clip-path="url(#gc26)"/>
<rect x="115.74" y="329.01" width="20.27" height="1.06" fill="url(#hg)" opacity="0.21" clip-path="url(#gc26)"/>
<rect x="120.37" y="329.01" width="11.01" height="1.06" fill="url(#hg)" opacity="0.78" clip-path="url(#gc26)"/>
<rect x="115.97" y="330.01" width="19.79" height="1.06" fill="url(#hg)" opacity="0.22" clip-path="url(#gc26)"/>
<rect x="120.62" y="330.01" width="10.49" height="1.06" fill="url(#hg)" opacity="0.73" clip-path="url(#gc26)"/>
<rect x="116.20" y="331.02" width="19.34" height="1.06" fill="url(#hg)" opacity="0.23" clip-path="url(#gc26)"/>
<rect x="120.86" y="331.02" width="10.02" height="1.06" fill="url(#hg)" opacity="0.88" clip-path="url(#gc26)"/>
<rect x="116.42" y="332.03" width="18.90" height="1.06" fill="url(#hg)" opacity="0.22" clip-path="url(#gc26)"/>
<rect x="121.08" y="332.03" width="9.58" height="1.06" fill="url(#hg)" opacity="0.63" clip-path="url(#gc26)"/>
<rect x="116.63" y="333.04" width="18.48" height="1.06" fill="url(#hg)" opacity="0.19" clip-path="url(#gc26)"/>
<rect x="121.28" y="333.04" width="9.18" height="1.06" fill="url(#hg)" opacity="0.69" clip-path="url(#gc26)"/>
<rect x="116.83" y="334.05" width="18.08" height="1.06" fill="url(#hg)" opacity="0.22" clip-path="url(#gc26)"/>
<rect x="121.47" y="334.05" width="8.80" height="1.06" fill="url(#hg)" opacity="0.61" clip-path="url(#gc26)"/>
<rect x="117.02" y="335.05" width="17.70" height="1.06" fill="url(#hg)" opacity="0.17" clip-path="url(#gc26)"/>
<rect x="121.64" y="335.05" width="8.45" height="1.06" fill="url(#hg)" opacity="0.66" clip-path="url(#gc26)"/>
<rect x="117.20" y="336.06" width="17.34" height="1.06" fill="url(#hg)" opacity="0.19" clip-path="url(#gc26)"/>
<rect x="121.80" y="336.06" width="8.13" height="1.06" fill="url(#hg)" opacity="0.56" clip-path="url(#gc26)"/>
<rect x="117.38" y="337.07" width="16.99" height="1.06" fill="url(#hg)" opacity="0.20" clip-path="url(#gc26)"/>
<rect x="121.96" y="337.07" width="7.83" height="1.06" fill="url(#hg)" opacity="0.84" clip-path="url(#gc26)"/>
<rect x="117.54" y="338.08" width="16.65" height="1.06" fill="url(#hg)" opacity="0.20" clip-path="url(#gc26)"/>
<rect x="122.10" y="338.08" width="7.55" height="1.06" fill="url(#hg)" opacity="0.77" clip-path="url(#gc26)"/>
<rect x="117.70" y="339.09" width="16.33" height="1.06" fill="url(#hg)" opacity="0.22" clip-path="url(#gc26)"/>
<rect x="122.23" y="339.09" width="7.29" height="1.06" fill="url(#hg)" opacity="0.80" clip-path="url(#gc26)"/>
<rect x="117.86" y="340.09" width="16.03" height="1.06" fill="url(#hg)" opacity="0.23" clip-path="url(#gc26)"/>
<rect x="122.35" y="340.09" width="7.04" height="1.06" fill="url(#hg)" opacity="0.67" clip-path="url(#gc26)"/>
<rect x="118.00" y="341.10" width="15.73" height="1.06" fill="url(#hg)" opacity="0.21" clip-path="url(#gc26)"/>
<rect x="122.47" y="341.10" width="6.81" height="1.06" fill="url(#hg)" opacity="0.57" clip-path="url(#gc26)"/>
<rect x="118.14" y="342.11" width="15.45" height="1.06" fill="url(#hg)" opacity="0.22" clip-path="url(#gc26)"/>
<rect x="122.57" y="342.11" width="6.59" height="1.06" fill="url(#hg)" opacity="0.64" clip-path="url(#gc26)"/>
<rect x="118.28" y="343.12" width="15.18" height="1.06" fill="url(#hg)" opacity="0.19" clip-path="url(#gc26)"/>
<rect x="122.68" y="343.12" width="6.39" height="1.06" fill="url(#hg)" opacity="0.79" clip-path="url(#gc26)"/>
<rect x="118.41" y="344.13" width="14.92" height="1.06" fill="url(#hg)" opacity="0.17" clip-path="url(#gc26)"/>
<rect x="122.77" y="344.13" width="6.19" height="1.06" fill="url(#hg)" opacity="0.58" clip-path="url(#gc26)"/>
<rect x="118.53" y="345.14" width="14.68" height="1.06" fill="url(#hg)" opacity="0.21" clip-path="url(#gc26)"/>
<rect x="122.86" y="345.14" width="6.01" height="1.06" fill="url(#hg)" opacity="0.70" clip-path="url(#gc26)"/>
<rect x="118.65" y="346.14" width="14.44" height="1.06" fill="url(#hg)" opacity="0.16" clip-path="url(#gc26)"/>
<rect x="122.95" y="346.14" width="5.84" height="1.06" fill="url(#hg)" opacity="0.53" clip-path="url(#gc26)"/>
<rect x="118.76" y="347.15" width="14.22" height="1.06" fill="url(#hg)" opacity="0.17" clip-path="url(#gc26)"/>
<rect x="123.03" y="347.15" width="5.67" height="1.06" fill="url(#hg)" opacity="0.52" clip-path="url(#gc26)"/>
<rect x="118.87" y="348.16" width="14.00" height="1.06" fill="url(#hg)" opacity="0.21" clip-path="url(#gc26)"/>
<rect x="123.11" y="348.16" width="5.52" height="1.06" fill="url(#hg)" opacity="0.57" clip-path="url(#gc26)"/>
<rect x="118.97" y="349.17" width="13.79" height="1.06" fill="url(#hg)" opacity="0.17" clip-path="url(#gc26)"/>
<rect x="123.19" y="349.17" width="5.37" height="1.06" fill="url(#hg)" opacity="0.63" clip-path="url(#gc26)"/>
<rect x="119.07" y="350.18" width="13.60" height="1.06" fill="url(#hg)" opacity="0.18" clip-path="url(#gc26)"/>
<rect x="123.26" y="350.18" width="5.22" height="1.06" fill="url(#hg)" opacity="0.64" clip-path="url(#gc26)"/>
<rect x="119.17" y="351.18" width="13.41" height="1.06" fill="url(#hg)" opacity="0.19" clip-path="url(#gc26)"/>
<rect x="123.33" y="351.18" width="5.08" height="1.06" fill="url(#hg)" opacity="0.70" clip-path="url(#gc26)"/>
<rect x="119.26" y="352.19" width="13.23" height="1.06" fill="url(#hg)" opacity="0.18" clip-path="url(#gc26)"/>
<rect x="123.39" y="352.19" width="4.95" height="1.06" fill="url(#hg)" opacity="0.54" clip-path="url(#gc26)"/>
<rect x="117.52" y="315.90" width="16.70" height="8.21" fill="url(#vtop)" opacity="0.72"/>
<rect x="117.52" y="315.90" width="16.7" height="37.30" fill="none" stroke="#c4c4c4" stroke-width="0.7"/>
<rect x="135.69" y="315.90" width="16.70" height="37.30" fill="#fdf0ea"/>
<rect x="129.64" y="315.90" width="28.79" height="1.06" fill="url(#hg)" opacity="0.49" clip-path="url(#gc27)"/>
<rect x="132.11" y="315.90" width="23.85" height="1.06" fill="url(#hg)" opacity="1.00" clip-path="url(#gc27)"/>
<rect x="130.07" y="316.91" width="27.95" height="1.06" fill="url(#hg)" opacity="0.33" clip-path="url(#gc27)"/>
<rect x="132.91" y="316.91" width="22.26" height="1.06" fill="url(#hg)" opacity="1.00" clip-path="url(#gc27)"/>
<rect x="130.47" y="317.92" width="27.14" height="1.06" fill="url(#hg)" opacity="0.41" clip-path="url(#gc27)"/>
<rect x="133.64" y="317.92" width="20.80" height="1.06" fill="url(#hg)" opacity="1.00" clip-path="url(#gc27)"/>
<rect x="130.85" y="318.92" width="26.37" height="1.06" fill="url(#hg)" opacity="0.30" clip-path="url(#gc27)"/>
<rect x="134.31" y="318.92" width="19.46" height="1.06" fill="url(#hg)" opacity="0.89" clip-path="url(#gc27)"/>
<rect x="131.22" y="319.93" width="25.63" height="1.06" fill="url(#hg)" opacity="0.34" clip-path="url(#gc27)"/>
<rect x="134.92" y="319.93" width="18.25" height="1.06" fill="url(#hg)" opacity="1.00" clip-path="url(#gc27)"/>
<rect x="131.58" y="320.94" width="24.93" height="1.06" fill="url(#hg)" opacity="0.38" clip-path="url(#gc27)"/>
<rect x="135.47" y="320.94" width="17.13" height="1.06" fill="url(#hg)" opacity="1.00" clip-path="url(#gc27)"/>
<rect x="131.91" y="321.95" width="24.25" height="1.06" fill="url(#hg)" opacity="0.30" clip-path="url(#gc27)"/>
<rect x="135.98" y="321.95" width="16.12" height="1.06" fill="url(#hg)" opacity="1.00" clip-path="url(#gc27)"/>
<rect x="132.24" y="322.96" width="23.61" height="1.06" fill="url(#hg)" opacity="0.32" clip-path="url(#gc27)"/>
<rect x="136.45" y="322.96" width="15.18" height="1.06" fill="url(#hg)" opacity="1.00" clip-path="url(#gc27)"/>
<rect x="132.55" y="323.96" width="22.99" height="1.06" fill="url(#hg)" opacity="0.26" clip-path="url(#gc27)"/>
<rect x="136.87" y="323.96" width="14.33" height="1.06" fill="url(#hg)" opacity="0.93" clip-path="url(#gc27)"/>
<rect x="132.84" y="324.97" width="22.39" height="1.06" fill="url(#hg)" opacity="0.24" clip-path="url(#gc27)"/>
<rect x="137.27" y="324.97" width="13.55" height="1.06" fill="url(#hg)" opacity="1.00" clip-path="url(#gc27)"/>
<rect x="133.13" y="325.98" width="21.83" height="1.06" fill="url(#hg)" opacity="0.23" clip-path="url(#gc27)"/>
<rect x="137.62" y="325.98" width="12.83" height="1.06" fill="url(#hg)" opacity="1.00" clip-path="url(#gc27)"/>
<rect x="133.40" y="326.99" width="21.28" height="1.06" fill="url(#hg)" opacity="0.27" clip-path="url(#gc27)"/>
<rect x="137.95" y="326.99" width="12.17" height="1.06" fill="url(#hg)" opacity="0.94" clip-path="url(#gc27)"/>
<rect x="133.66" y="328.00" width="20.77" height="1.06" fill="url(#hg)" opacity="0.22" clip-path="url(#gc27)"/>
<rect x="138.26" y="328.00" width="11.57" height="1.06" fill="url(#hg)" opacity="0.79" clip-path="url(#gc27)"/>
<rect x="133.91" y="329.01" width="20.27" height="1.06" fill="url(#hg)" opacity="0.26" clip-path="url(#gc27)"/>
<rect x="138.54" y="329.01" width="11.01" height="1.06" fill="url(#hg)" opacity="1.00" clip-path="url(#gc27)"/>
<rect x="134.14" y="330.01" width="19.79" height="1.06" fill="url(#hg)" opacity="0.26" clip-path="url(#gc27)"/>
<rect x="138.79" y="330.01" width="10.49" height="1.06" fill="url(#hg)" opacity="0.78" clip-path="url(#gc27)"/>
<rect x="134.37" y="331.02" width="19.34" height="1.06" fill="url(#hg)" opacity="0.30" clip-path="url(#gc27)"/>
<rect x="139.03" y="331.02" width="10.02" height="1.06" fill="url(#hg)" opacity="0.91" clip-path="url(#gc27)"/>
<rect x="134.59" y="332.03" width="18.90" height="1.06" fill="url(#hg)" opacity="0.25" clip-path="url(#gc27)"/>
<rect x="139.25" y="332.03" width="9.58" height="1.06" fill="url(#hg)" opacity="0.73" clip-path="url(#gc27)"/>
<rect x="134.80" y="333.04" width="18.48" height="1.06" fill="url(#hg)" opacity="0.22" clip-path="url(#gc27)"/>
<rect x="139.45" y="333.04" width="9.18" height="1.06" fill="url(#hg)" opacity="0.97" clip-path="url(#gc27)"/>
<rect x="135.00" y="334.05" width="18.08" height="1.06" fill="url(#hg)" opacity="0.20" clip-path="url(#gc27)"/>
<rect x="139.64" y="334.05" width="8.80" height="1.06" fill="url(#hg)" opacity="0.83" clip-path="url(#gc27)"/>
<rect x="135.19" y="335.05" width="17.70" height="1.06" fill="url(#hg)" opacity="0.24" clip-path="url(#gc27)"/>
<rect x="139.81" y="335.05" width="8.45" height="1.06" fill="url(#hg)" opacity="0.76" clip-path="url(#gc27)"/>
<rect x="135.37" y="336.06" width="17.34" height="1.06" fill="url(#hg)" opacity="0.25" clip-path="url(#gc27)"/>
<rect x="139.97" y="336.06" width="8.13" height="1.06" fill="url(#hg)" opacity="0.95" clip-path="url(#gc27)"/>
<rect x="135.55" y="337.07" width="16.99" height="1.06" fill="url(#hg)" opacity="0.26" clip-path="url(#gc27)"/>
<rect x="140.13" y="337.07" width="7.83" height="1.06" fill="url(#hg)" opacity="0.88" clip-path="url(#gc27)"/>
<rect x="135.71" y="338.08" width="16.65" height="1.06" fill="url(#hg)" opacity="0.20" clip-path="url(#gc27)"/>
<rect x="140.27" y="338.08" width="7.55" height="1.06" fill="url(#hg)" opacity="0.63" clip-path="url(#gc27)"/>
<rect x="135.87" y="339.09" width="16.33" height="1.06" fill="url(#hg)" opacity="0.22" clip-path="url(#gc27)"/>
<rect x="140.40" y="339.09" width="7.29" height="1.06" fill="url(#hg)" opacity="0.72" clip-path="url(#gc27)"/>
<rect x="136.03" y="340.09" width="16.03" height="1.06" fill="url(#hg)" opacity="0.19" clip-path="url(#gc27)"/>
<rect x="140.52" y="340.09" width="7.04" height="1.06" fill="url(#hg)" opacity="0.90" clip-path="url(#gc27)"/>
<rect x="136.17" y="341.10" width="15.73" height="1.06" fill="url(#hg)" opacity="0.19" clip-path="url(#gc27)"/>
<rect x="140.64" y="341.10" width="6.81" height="1.06" fill="url(#hg)" opacity="0.88" clip-path="url(#gc27)"/>
<rect x="136.31" y="342.11" width="15.45" height="1.06" fill="url(#hg)" opacity="0.25" clip-path="url(#gc27)"/>
<rect x="140.74" y="342.11" width="6.59" height="1.06" fill="url(#hg)" opacity="0.64" clip-path="url(#gc27)"/>
<rect x="136.45" y="343.12" width="15.18" height="1.06" fill="url(#hg)" opacity="0.25" clip-path="url(#gc27)"/>
<rect x="140.85" y="343.12" width="6.39" height="1.06" fill="url(#hg)" opacity="0.73" clip-path="url(#gc27)"/>
<rect x="136.58" y="344.13" width="14.92" height="1.06" fill="url(#hg)" opacity="0.19" clip-path="url(#gc27)"/>
<rect x="140.94" y="344.13" width="6.19" height="1.06" fill="url(#hg)" opacity="0.65" clip-path="url(#gc27)"/>
<rect x="136.70" y="345.14" width="14.68" height="1.06" fill="url(#hg)" opacity="0.17" clip-path="url(#gc27)"/>
<rect x="141.03" y="345.14" width="6.01" height="1.06" fill="url(#hg)" opacity="0.75" clip-path="url(#gc27)"/>
<rect x="136.82" y="346.14" width="14.44" height="1.06" fill="url(#hg)" opacity="0.20" clip-path="url(#gc27)"/>
<rect x="141.12" y="346.14" width="5.84" height="1.06" fill="url(#hg)" opacity="0.87" clip-path="url(#gc27)"/>
<rect x="136.93" y="347.15" width="14.22" height="1.06" fill="url(#hg)" opacity="0.24" clip-path="url(#gc27)"/>
<rect x="141.20" y="347.15" width="5.67" height="1.06" fill="url(#hg)" opacity="0.60" clip-path="url(#gc27)"/>
<rect x="137.04" y="348.16" width="14.00" height="1.06" fill="url(#hg)" opacity="0.20" clip-path="url(#gc27)"/>
<rect x="141.28" y="348.16" width="5.52" height="1.06" fill="url(#hg)" opacity="0.71" clip-path="url(#gc27)"/>
<rect x="137.14" y="349.17" width="13.79" height="1.06" fill="url(#hg)" opacity="0.18" clip-path="url(#gc27)"/>
<rect x="141.36" y="349.17" width="5.37" height="1.06" fill="url(#hg)" opacity="0.66" clip-path="url(#gc27)"/>
<rect x="137.24" y="350.18" width="13.60" height="1.06" fill="url(#hg)" opacity="0.19" clip-path="url(#gc27)"/>
<rect x="141.43" y="350.18" width="5.22" height="1.06" fill="url(#hg)" opacity="0.80" clip-path="url(#gc27)"/>
<rect x="137.34" y="351.18" width="13.41" height="1.06" fill="url(#hg)" opacity="0.19" clip-path="url(#gc27)"/>
<rect x="141.50" y="351.18" width="5.08" height="1.06" fill="url(#hg)" opacity="0.61" clip-path="url(#gc27)"/>
<rect x="137.43" y="352.19" width="13.23" height="1.06" fill="url(#hg)" opacity="0.18" clip-path="url(#gc27)"/>
<rect x="141.56" y="352.19" width="4.95" height="1.06" fill="url(#hg)" opacity="0.72" clip-path="url(#gc27)"/>
<rect x="135.69" y="315.90" width="16.70" height="8.21" fill="url(#vtop)" opacity="0.81"/>
<rect x="135.69" y="315.90" width="16.7" height="37.30" fill="none" stroke="#c4c4c4" stroke-width="0.7"/>
<text x="0.20" y="289.30" font-size="7.25" stroke="#231f20">A</text>
<text x="0.20" y="308.80" font-size="7.25" stroke="#231f20">B</text>
<text x="0.20" y="338.80" font-size="7.25" stroke="#231f20">C</text>
<text x="15.30" y="273.60" font-size="7.0" stroke="#231f20" transform="rotate(-48 15.30 273.60)">WT</text>
<text x="32.07" y="273.60" font-size="7.0" stroke="#231f20" transform="rotate(-48 32.07 273.60)">ZIC2<tspan font-size="4.0" baseline-shift="2.7" stroke="none" font-style="normal">-/-</tspan></text>
<text x="50.24" y="273.60" font-size="7.0" stroke="#231f20" transform="rotate(-48 50.24 273.60)">ZIC3<tspan font-size="4.0" baseline-shift="2.7" stroke="none" font-style="normal">-/-</tspan></text>
<text x="68.41" y="273.60" font-size="7.0" stroke="#231f20" transform="rotate(-48 68.41 273.60)">ZIC5<tspan font-size="4.0" baseline-shift="2.7" stroke="none" font-style="normal">-/-</tspan></text>
<text x="86.58" y="273.60" font-size="7.0" stroke="#231f20" transform="rotate(-48 86.58 273.60)">ZIC2<tspan font-size="4.0" baseline-shift="2.7" stroke="none" font-style="normal">-/-</tspan>5<tspan font-size="4.0" baseline-shift="2.7" stroke="none" font-style="normal">-/-</tspan></text>
<text x="104.75" y="273.60" font-size="7.0" stroke="#231f20" transform="rotate(-48 104.75 273.60)">ZIC3<tspan font-size="4.0" baseline-shift="2.7" stroke="none" font-style="normal">-/-</tspan>5<tspan font-size="4.0" baseline-shift="2.7" stroke="none" font-style="normal">-/-</tspan></text>
<text x="122.92" y="273.60" font-size="7.0" stroke="#231f20" transform="rotate(-48 122.92 273.60)">ZIC2<tspan font-size="4.0" baseline-shift="2.7" stroke="none" font-style="normal">-/-</tspan>3<tspan font-size="4.0" baseline-shift="2.7" stroke="none" font-style="normal">-/-</tspan></text>
<text x="142.29" y="262.40" font-size="7.0" stroke="#231f20" transform="rotate(-48 142.29 262.40)">ZIC</text>
<text x="144.69" y="273.60" font-size="7.0" stroke="#231f20" transform="rotate(-48 144.69 273.60)">2<tspan font-size="4.0" baseline-shift="2.7" stroke="none" font-style="normal">-/-</tspan>3<tspan font-size="4.0" baseline-shift="2.7" stroke="none" font-style="normal">-/-</tspan>5<tspan font-size="4.0" baseline-shift="2.7" stroke="none" font-style="normal">-/-</tspan></text>
<rect x="156.40" y="279.00" width="2.50" height="14.70" fill="url(#cbg)"/>
<text x="160.00" y="281.60" font-size="7.0" stroke="#231f20">120</text>
<text x="160.00" y="294.50" font-size="7.0" stroke="#231f20">0</text>
<rect x="156.40" y="298.90" width="2.50" height="14.60" fill="url(#cbg)"/>
<text x="160.00" y="302.00" font-size="7.0" stroke="#231f20">180</text>
<text x="160.00" y="314.30" font-size="7.0" stroke="#231f20">0</text>
<rect x="156.40" y="331.40" width="2.50" height="14.70" fill="url(#cbg)"/>
<text x="160.00" y="334.40" font-size="7.0" stroke="#231f20">100</text>
<text x="160.00" y="346.90" font-size="7.0" stroke="#231f20">0</text>
<text x="179.60" y="284.60" font-size="7.25" text-anchor="middle" stroke="#231f20" transform="rotate(-90 179.60 284.60)">(CPB)</text>
<text x="179.60" y="306.60" font-size="7.25" text-anchor="middle" stroke="#231f20" transform="rotate(-90 179.60 306.60)">(CPB)</text>
<text x="179.60" y="337.00" font-size="7.25" text-anchor="middle" stroke="#231f20" transform="rotate(-90 179.60 337.00)">(CPB)</text>
<line x1="142.00" y1="354.80" x2="151.20" y2="354.80" stroke="#8a8a8a" stroke-width="1.2"/>
<text x="147.00" y="361.90" font-size="7.25" text-anchor="middle" stroke="#231f20">1kb</text>
<text x="193.50" y="267.70" font-size="7.25" stroke="#231f20" text-decoration="underline">GREAT Biological Processes</text>
<line x1="193.50" y1="269.40" x2="287.90" y2="269.40" stroke="#231f20" stroke-width="0.5"/>
<text x="186.50" y="281.60" font-size="7.25" stroke="#231f20">No enriched terms</text>
<text x="186.50" y="288.70" font-size="7.25" stroke="#231f20">(<tspan font-style="italic">O/S/T/N</tspan>, <tspan font-style="italic">SOX</tspan>, <tspan font-style="italic">JUN</tspan>, <tspan font-style="italic">FRA</tspan>, <tspan font-style="italic">FOS</tspan>)</text>
<text x="186.50" y="301.00" font-size="7.25" stroke="#231f20">Negative regulation of osteoblast</text>
<text x="186.50" y="308.40" font-size="7.25" stroke="#231f20">differentiation</text>
<text x="186.50" y="315.80" font-size="7.25" stroke="#231f20">(<tspan font-style="italic">SP</tspan>, <tspan font-style="italic">TEAD</tspan>, <tspan font-style="italic">SOX</tspan>, <tspan font-style="italic">OCT</tspan>, <tspan font-style="italic">O/S/T/N</tspan>, <tspan font-style="italic">MAZ</tspan>)</text>
<text x="186.50" y="327.00" font-size="7.25" stroke="#231f20">PDGFRβ signalling pathway</text>
<text x="186.50" y="334.30" font-size="7.25" stroke="#231f20">Neural tube patterning</text>
<text x="186.50" y="341.40" font-size="7.25" stroke="#231f20">Negative regulation of histone modification</text>
<text x="186.50" y="348.60" font-size="7.25" stroke="#231f20">Positive regulation of PI3K activity</text>
<text x="186.50" y="356.10" font-size="7.25" stroke="#231f20">(<tspan font-weight="bold" font-style="italic" text-decoration="underline">ZIC</tspan>, <tspan font-style="italic">NANOG</tspan>, <tspan font-style="italic">O/S/T/N</tspan>, <tspan font-style="italic">TEAD</tspan>, <tspan font-style="italic">ZFP281</tspan>,</text>
<line x1="188.90" y1="357.40" x2="199.10" y2="357.40" stroke="#231f20" stroke-width="0.7"/>
<text x="186.50" y="363.50" font-size="7.25" stroke="#231f20"><tspan font-style="italic">SOX</tspan>, <tspan font-style="italic">OCT</tspan>)</text>
<text x="321.10" y="255.70" font-size="10" font-weight="bold" fill="#000" stroke="#000">h</text>
<text x="387.60" y="253.80" font-size="7.25" text-anchor="middle" stroke="#231f20">IP</text>
<line x1="372.50" y1="257.70" x2="401.40" y2="257.70" stroke="#aaa" stroke-width="1.1"/>
<text x="362.60" y="277.50" font-size="7.25" stroke="#231f20" transform="rotate(-90 362.60 277.50)">Input</text>
<text x="380.10" y="277.50" font-size="7.25" stroke="#231f20" transform="rotate(-90 380.10 277.50)">IgG</text>
<text x="398.30" y="277.50" font-size="7.25" stroke="#231f20" transform="rotate(-90 398.30 277.50)">ZIC2</text>
<text x="320.30" y="296.00" font-size="7.25" stroke="#231f20">BRG1</text>
<text x="320.80" y="322.10" font-size="7.25" stroke="#231f20">ZIC2</text>
<rect x="344.40" y="285.20" width="66.20" height="22.10" fill="#efefef" stroke="#3a3a3a" stroke-width="0.8"/>
<rect x="344.40" y="309.30" width="66.20" height="31.10" fill="#efefef" stroke="#3a3a3a" stroke-width="0.8"/>
<rect x="350.80" y="297.00" width="14.00" height="9.50" rx="2.20" fill="#888" opacity="0.35" filter="url(#bl12)"/>
<rect x="350.50" y="290.00" width="14.50" height="7.50" rx="2.20" fill="#000" opacity="1.0" filter="url(#bl9)"/>
<rect x="371.00" y="291.50" width="10.00" height="3.00" rx="1.50" fill="#bbb" opacity="0.25" filter="url(#bl10)"/>
<rect x="388.00" y="292.20" width="13.00" height="2.60" rx="1.30" fill="#111" opacity="0.85" filter="url(#bl6)"/>
<rect x="347.80" y="316.00" width="17.50" height="8.20" rx="2.20" fill="#000" opacity="1.0" filter="url(#bl9)"/>
<rect x="349.00" y="327.00" width="15.00" height="3.50" rx="1.75" fill="#888" opacity="0.45" filter="url(#bl10)"/>
<rect x="370.00" y="319.00" width="11.00" height="4.00" rx="2.00" fill="#aaa" opacity="0.45" filter="url(#bl10)"/>
<rect x="384.80" y="312.00" width="19.50" height="11.50" rx="2.20" fill="#000" opacity="1.0" filter="url(#bl10)"/>
<rect x="387.80" y="327.80" width="15.50" height="4.00" rx="2.00" fill="#000" opacity="0.95" filter="url(#bl7)"/>
<line x1="410.60" y1="298.20" x2="414.00" y2="298.20" stroke="#3a3a3a" stroke-width="0.7"/>
<text x="416.60" y="300.70" font-size="7.25" stroke="#231f20">250</text>
<line x1="410.60" y1="311.80" x2="414.00" y2="311.80" stroke="#3a3a3a" stroke-width="0.7"/>
<text x="416.60" y="314.30" font-size="7.25" stroke="#231f20">70</text>
<line x1="410.60" y1="333.00" x2="414.00" y2="333.00" stroke="#3a3a3a" stroke-width="0.7"/>
<text x="416.60" y="335.50" font-size="7.25" stroke="#231f20">40</text>
<text x="433.00" y="246.70" font-size="10" font-weight="bold" fill="#000" stroke="#000">i</text>
<text x="513.00" y="244.40" font-size="7.25" text-anchor="middle" stroke="#231f20">IP</text>
<line x1="497.90" y1="248.60" x2="529.00" y2="248.60" stroke="#aaa" stroke-width="1.0"/>
<text x="485.00" y="287.50" font-size="7.25" stroke="#231f20" transform="rotate(-90 485.00 287.50)">Input</text>
<text x="504.00" y="287.50" font-size="7.25" stroke="#231f20" transform="rotate(-90 504.00 287.50)">IgG</text>
<text x="519.70" y="287.50" font-size="7.25" stroke="#231f20" transform="rotate(-90 519.70 287.50)">BRG1/</text>
<text x="526.10" y="287.50" font-size="7.25" stroke="#231f20" transform="rotate(-90 526.10 287.50)">SMARCD1</text>
<text x="460.20" y="304.40" font-size="7.25" text-anchor="end" stroke="#231f20">BRG1</text>
<text x="460.20" y="332.30" font-size="7.25" text-anchor="end" stroke="#231f20">ZIC2</text>
<rect x="465.40" y="290.30" width="69.00" height="23.10" fill="#f7f7f7" stroke="#3a3a3a" stroke-width="0.8"/>
<rect x="465.40" y="315.80" width="69.00" height="22.80" fill="#f7f7f7" stroke="#3a3a3a" stroke-width="0.8"/>
<rect x="467.00" y="299.50" width="8.00" height="2.50" rx="1.25" fill="#aaa" opacity="0.3" filter="url(#bl10)"/>
<rect x="475.20" y="298.50" width="16.60" height="5.80" rx="2.20" fill="#000" opacity="1.0" filter="url(#bl9)"/>
<rect x="512.40" y="301.00" width="12.50" height="5.00" rx="2.20" fill="#999" opacity="0.3" filter="url(#bl10)"/>
<rect x="512.40" y="298.50" width="12.60" height="3.60" rx="1.80" fill="#111" opacity="0.95" filter="url(#bl6)"/>
<rect x="475.20" y="325.90" width="14.60" height="4.80" rx="2.20" fill="#000" opacity="1.0" filter="url(#bl9)"/>
<rect x="511.80" y="324.30" width="10.00" height="4.20" rx="2.10" fill="#888" opacity="0.7" filter="url(#bl8)"/>
<line x1="534.40" y1="298.00" x2="538.00" y2="298.00" stroke="#3a3a3a" stroke-width="0.7"/>
<text x="540.60" y="300.50" font-size="7.25" stroke="#231f20">250</text>
<line x1="534.40" y1="308.00" x2="538.00" y2="308.00" stroke="#3a3a3a" stroke-width="0.7"/>
<text x="540.60" y="310.50" font-size="7.25" stroke="#231f20">150</text>
<line x1="534.40" y1="324.00" x2="538.00" y2="324.00" stroke="#3a3a3a" stroke-width="0.7"/>
<text x="540.60" y="326.50" font-size="7.25" stroke="#231f20">70</text>
<line x1="534.40" y1="335.30" x2="538.00" y2="335.30" stroke="#3a3a3a" stroke-width="0.7"/>
<text x="540.60" y="337.80" font-size="7.25" stroke="#231f20">50</text>
<text x="565.00" y="235.60" font-size="10" font-weight="bold" fill="#000" stroke="#000">j</text>
<line x1="603.60" y1="262.50" x2="603.60" y2="332.00" stroke="#444" stroke-width="0.7"/>
<line x1="603.60" y1="332.00" x2="667.30" y2="332.00" stroke="#444" stroke-width="0.7"/>
<line x1="601.60" y1="265.60" x2="603.60" y2="265.60" stroke="#444" stroke-width="0.6"/>
<text x="598.10" y="268.20" font-size="7.25" text-anchor="end" stroke="#231f20">0.0</text>
<line x1="601.60" y1="285.90" x2="603.60" y2="285.90" stroke="#444" stroke-width="0.6"/>
<text x="598.10" y="288.50" font-size="7.25" text-anchor="end" stroke="#231f20">-0.2</text>
<line x1="601.60" y1="306.20" x2="603.60" y2="306.20" stroke="#444" stroke-width="0.6"/>
<text x="598.10" y="308.80" font-size="7.25" text-anchor="end" stroke="#231f20">-0.4</text>
<line x1="601.60" y1="326.50" x2="603.60" y2="326.50" stroke="#444" stroke-width="0.6"/>
<text x="598.10" y="329.10" font-size="7.25" text-anchor="end" stroke="#231f20">-0.6</text>
<line x1="603.60" y1="332.00" x2="603.60" y2="334.20" stroke="#444" stroke-width="0.6"/>
<line x1="635.45" y1="332.00" x2="635.45" y2="334.20" stroke="#444" stroke-width="0.6"/>
<line x1="667.30" y1="332.00" x2="667.30" y2="334.20" stroke="#444" stroke-width="0.6"/>
<line x1="635.50" y1="262.50" x2="635.50" y2="332.00" stroke="#222" stroke-width="0.6" stroke-dasharray="1.6,1.1"/>
<text x="600.20" y="342.30" font-size="7.25" text-anchor="middle" stroke="#231f20">-500</text>
<text x="635.20" y="342.30" font-size="7.25" text-anchor="middle" stroke="#231f20">Peak</text>
<text x="635.20" y="349.30" font-size="7.25" text-anchor="middle" stroke="#231f20">centre</text>
<text x="662.80" y="342.30" font-size="7.25" text-anchor="middle" stroke="#231f20">+500</text>
<text x="570.90" y="301.20" font-size="7.25" text-anchor="middle" stroke="#231f20" transform="rotate(-90 570.90 301.20)">Re-primed <tspan font-style="italic">BRG1</tspan><tspan font-size="4.3" baseline-shift="2.9" stroke="none" font-style="normal">-/-</tspan> vs WT</text>
<text x="578.60" y="300.60" font-size="7.25" text-anchor="middle" stroke="#231f20" transform="rotate(-90 578.60 300.60)">ATAC signal ratio</text>
<path d="M603.60,279.00 L604.13,279.14 L604.66,279.16 L605.19,279.41 L605.72,279.68 L606.25,279.83 L606.78,280.28 L607.32,280.58 L607.85,280.85 L608.38,281.28 L608.91,281.42 L609.44,281.81 L609.97,282.19 L610.50,282.38 L611.03,282.45 L611.56,282.90 L612.09,283.16 L612.62,283.66 L613.15,283.95 L613.69,284.33 L614.22,284.84 L614.75,285.29 L615.28,285.46 L615.81,285.88 L616.34,286.20 L616.87,286.49 L617.40,286.82 L617.93,287.14 L618.46,287.73 L618.99,288.26 L619.52,288.75 L620.06,289.21 L620.59,289.67 L621.12,290.12 L621.65,290.55 L622.18,290.95 L622.71,291.25 L623.24,291.68 L623.77,292.09 L624.30,292.44 L624.83,292.72 L625.36,293.06 L625.89,293.13 L626.43,293.32 L626.96,293.39 L627.49,293.52 L628.02,293.68 L628.55,293.72 L629.08,293.85 L629.61,294.19 L630.14,294.46 L630.67,294.66 L631.20,294.63 L631.73,294.72 L632.26,294.72 L632.80,294.75 L633.33,294.68 L633.86,294.71 L634.39,294.61 L634.92,294.75 L635.45,294.82 L635.98,294.95 L636.51,294.98 L637.04,294.85 L637.57,294.76 L638.10,295.02 L638.63,294.85 L639.17,294.85 L639.70,294.67 L640.23,294.40 L640.76,294.43 L641.29,294.40 L641.82,294.15 L642.35,294.01 L642.88,293.73 L643.41,293.75 L643.94,293.73 L644.47,293.29 L645.00,292.91 L645.54,292.45 L646.07,292.16 L646.60,291.75 L647.13,291.28 L647.66,290.98 L648.19,290.84 L648.72,290.58 L649.25,290.35 L649.78,289.97 L650.31,289.75 L650.84,289.50 L651.38,289.15 L651.91,288.86 L652.44,288.39 L652.97,288.03 L653.50,287.82 L654.03,287.37 L654.56,286.96 L655.09,286.46 L655.62,286.03 L656.15,285.88 L656.68,285.43 L657.21,284.99 L657.75,284.59 L658.28,284.37 L658.81,283.90 L659.34,283.71 L659.87,283.19 L660.40,282.95 L660.93,282.73 L661.46,282.46 L661.99,282.12 L662.52,282.26 L663.05,281.98 L663.58,281.73 L664.12,281.27 L664.65,281.09 L665.18,280.91 L665.71,280.50 L666.24,280.06 L666.77,279.71 L667.30,279.52" fill="none" stroke="#b8323f" stroke-width="1.1" stroke-linejoin="round"/>
<path d="M603.60,270.16 L604.13,270.36 L604.66,270.53 L605.19,270.92 L605.72,271.34 L606.25,271.47 L606.78,271.58 L607.32,271.71 L607.85,271.92 L608.38,272.22 L608.91,272.17 L609.44,272.10 L609.97,272.22 L610.50,272.44 L611.03,272.65 L611.56,272.86 L612.09,273.03 L612.62,273.42 L613.15,273.93 L613.69,274.69 L614.22,275.42 L614.75,275.90 L615.28,276.56 L615.81,277.24 L616.34,277.97 L616.87,278.72 L617.40,279.02 L617.93,279.35 L618.46,280.10 L618.99,280.62 L619.52,281.15 L620.06,281.58 L620.59,281.80 L621.12,282.50 L621.65,283.23 L622.18,283.64 L622.71,284.25 L623.24,284.70 L623.77,285.17 L624.30,285.78 L624.83,286.26 L625.36,286.51 L625.89,286.98 L626.43,287.27 L626.96,287.74 L627.49,288.25 L628.02,288.59 L628.55,288.94 L629.08,289.14 L629.61,289.31 L630.14,289.56 L630.67,289.72 L631.20,289.80 L631.73,290.27 L632.26,290.25 L632.80,290.64 L633.33,290.73 L633.86,290.96 L634.39,291.08 L634.92,291.16 L635.45,291.04 L635.98,291.15 L636.51,290.92 L637.04,290.90 L637.57,290.76 L638.10,290.56 L638.63,290.25 L639.17,289.74 L639.70,289.35 L640.23,289.09 L640.76,288.83 L641.29,288.23 L641.82,287.74 L642.35,287.33 L642.88,286.85 L643.41,286.35 L643.94,285.79 L644.47,285.26 L645.00,284.86 L645.54,284.50 L646.07,283.93 L646.60,283.52 L647.13,283.03 L647.66,282.62 L648.19,282.11 L648.72,281.42 L649.25,280.93 L649.78,280.68 L650.31,280.34 L650.84,279.99 L651.38,279.65 L651.91,279.26 L652.44,279.20 L652.97,278.55 L653.50,278.09 L654.03,277.74 L654.56,277.41 L655.09,277.05 L655.62,276.61 L656.15,275.93 L656.68,275.70 L657.21,275.21 L657.75,274.72 L658.28,274.31 L658.81,273.75 L659.34,273.29 L659.87,273.09 L660.40,272.80 L660.93,272.50 L661.46,272.10 L661.99,271.81 L662.52,271.65 L663.05,271.64 L663.58,271.27 L664.12,271.10 L664.65,271.00 L665.18,270.93 L665.71,270.74 L666.24,270.55 L666.77,270.21 L667.30,270.18" fill="none" stroke="#4a9a4c" stroke-width="1.1" stroke-linejoin="round"/>
<path d="M603.60,270.98 L604.13,271.07 L604.66,271.31 L605.19,271.70 L605.72,272.21 L606.25,272.83 L606.78,273.53 L607.32,274.29 L607.85,275.11 L608.38,275.97 L608.91,277.22 L609.44,278.85 L609.97,280.63 L610.50,282.35 L611.03,283.88 L611.56,285.37 L612.09,286.84 L612.62,288.30 L613.15,289.76 L613.69,291.22 L614.22,292.70 L614.75,294.20 L615.28,295.74 L615.81,297.34 L616.34,299.03 L616.87,300.79 L617.40,302.59 L617.93,304.41 L618.46,306.21 L618.99,307.97 L619.52,309.66 L620.06,311.25 L620.59,312.72 L621.12,314.03 L621.65,315.22 L622.18,316.40 L622.71,317.56 L623.24,318.70 L623.77,319.80 L624.30,320.87 L624.83,321.87 L625.36,322.82 L625.89,323.69 L626.43,324.48 L626.96,325.17 L627.49,325.76 L628.02,326.24 L628.55,326.61 L629.08,326.93 L629.61,327.25 L630.14,327.55 L630.67,327.84 L631.20,328.11 L631.73,328.35 L632.26,328.57 L632.80,328.76 L633.33,328.93 L633.86,329.06 L634.39,329.16 L634.92,329.22 L635.45,329.24 L635.98,329.20 L636.51,329.10 L637.04,328.93 L637.57,328.70 L638.10,328.41 L638.63,328.07 L639.17,327.68 L639.70,327.25 L640.23,326.78 L640.76,326.27 L641.29,325.73 L641.82,325.17 L642.35,324.59 L642.88,323.89 L643.41,322.90 L643.94,321.65 L644.47,320.19 L645.00,318.56 L645.54,316.81 L646.07,314.99 L646.60,313.13 L647.13,311.28 L647.66,309.48 L648.19,307.79 L648.72,306.19 L649.25,304.55 L649.78,302.87 L650.31,301.18 L650.84,299.50 L651.38,297.85 L651.91,296.25 L652.44,294.74 L652.97,293.33 L653.50,292.01 L654.03,290.71 L654.56,289.46 L655.09,288.24 L655.62,287.07 L656.15,285.96 L656.68,284.92 L657.21,283.95 L657.75,283.06 L658.28,282.23 L658.81,281.41 L659.34,280.60 L659.87,279.82 L660.40,279.07 L660.93,278.37 L661.46,277.72 L661.99,277.13 L662.52,276.61 L663.05,276.18 L663.58,275.83 L664.12,275.56 L664.65,275.30 L665.18,275.06 L665.71,274.85 L666.24,274.68 L666.77,274.58 L667.30,274.53" fill="none" stroke="#da9a3c" stroke-width="1.1" stroke-linejoin="round"/>
<path d="M603.60,270.03 L604.13,270.82 L604.66,271.45 L605.19,272.10 L605.72,272.61 L606.25,273.02 L606.78,273.30 L607.32,273.48 L607.85,273.47 L608.38,273.56 L608.91,273.64 L609.44,273.90 L609.97,273.93 L610.50,274.30 L611.03,274.53 L611.56,274.69 L612.09,274.99 L612.62,275.13 L613.15,275.33 L613.69,275.67 L614.22,275.66 L614.75,275.74 L615.28,275.86 L615.81,276.01 L616.34,276.23 L616.87,276.28 L617.40,276.39 L617.93,276.79 L618.46,277.14 L618.99,277.33 L619.52,277.68 L620.06,277.88 L620.59,278.22 L621.12,278.40 L621.65,278.58 L622.18,278.75 L622.71,279.34 L623.24,279.45 L623.77,279.63 L624.30,279.96 L624.83,280.16 L625.36,280.37 L625.89,280.58 L626.43,280.86 L626.96,280.97 L627.49,281.39 L628.02,281.51 L628.55,281.98 L629.08,282.20 L629.61,282.25 L630.14,282.15 L630.67,282.25 L631.20,282.24 L631.73,282.20 L632.26,282.17 L632.80,282.07 L633.33,281.96 L633.86,281.88 L634.39,281.94 L634.92,281.98 L635.45,281.92 L635.98,281.71 L636.51,281.86 L637.04,282.16 L637.57,281.88 L638.10,281.73 L638.63,281.49 L639.17,281.35 L639.70,281.18 L640.23,280.73 L640.76,280.37 L641.29,280.08 L641.82,279.78 L642.35,279.50 L642.88,279.20 L643.41,278.88 L643.94,278.54 L644.47,278.06 L645.00,277.77 L645.54,277.64 L646.07,277.17 L646.60,276.59 L647.13,276.11 L647.66,275.76 L648.19,275.43 L648.72,274.98 L649.25,274.30 L649.78,273.91 L650.31,273.45 L650.84,273.19 L651.38,272.69 L651.91,272.28 L652.44,272.04 L652.97,271.77 L653.50,271.45 L654.03,271.18 L654.56,270.91 L655.09,270.56 L655.62,270.26 L656.15,269.86 L656.68,269.36 L657.21,269.07 L657.75,268.78 L658.28,268.45 L658.81,268.24 L659.34,268.22 L659.87,268.17 L660.40,268.04 L660.93,267.99 L661.46,268.32 L661.99,268.41 L662.52,268.65 L663.05,268.67 L663.58,268.83 L664.12,269.12 L664.65,269.08 L665.18,269.02 L665.71,269.10 L666.24,269.04 L666.77,268.92 L667.30,268.79" fill="none" stroke="#3d4fae" stroke-width="1.1" stroke-linejoin="round"/>
<text x="656.10" y="305.80" font-size="7.25" fill="#b8323f" stroke="#b8323f">Cluster 1</text>
<text x="656.10" y="312.35" font-size="7.25" fill="#4a9a4c" stroke="#4a9a4c">Cluster 2</text>
<text x="656.10" y="318.90" font-size="7.25" fill="#da9a3c" stroke="#da9a3c">Cluster 3</text>
<text x="656.10" y="325.45" font-size="7.25" fill="#3d4fae" stroke="#3d4fae">Cluster 4</text>
<text x="2.30" y="398.80" font-size="10" font-weight="bold" fill="#000" stroke="#000">k</text>
<text x="6.60" y="447.90" font-size="7.25" text-anchor="middle" stroke="#231f20" transform="rotate(-90 6.60 447.90)">BRG1 CUT&amp;Tag signal</text>
<text x="14.80" y="447.90" font-size="7.25" text-anchor="middle" stroke="#231f20" transform="rotate(-90 14.80 447.90)">(CPB)</text>
<text x="59.45" y="407.00" font-size="7.2" text-anchor="middle" font-weight="bold" stroke="#231f20">Cluster 1</text>
<line x1="36.20" y1="414.50" x2="36.20" y2="469.50" stroke="#444" stroke-width="0.7"/>
<line x1="36.20" y1="469.50" x2="82.70" y2="469.50" stroke="#444" stroke-width="0.7"/>
<line x1="34.20" y1="468.80" x2="36.20" y2="468.80" stroke="#444" stroke-width="0.6"/>
<text x="31.70" y="471.40" font-size="7.25" text-anchor="end" stroke="#231f20">0</text>
<line x1="34.20" y1="445.30" x2="36.20" y2="445.30" stroke="#444" stroke-width="0.6"/>
<text x="31.70" y="447.90" font-size="7.25" text-anchor="end" stroke="#231f20">100</text>
<line x1="34.20" y1="421.80" x2="36.20" y2="421.80" stroke="#444" stroke-width="0.6"/>
<text x="31.70" y="424.40" font-size="7.25" text-anchor="end" stroke="#231f20">200</text>
<line x1="36.20" y1="469.50" x2="36.20" y2="471.70" stroke="#444" stroke-width="0.6"/>
<line x1="59.45" y1="469.50" x2="59.45" y2="471.70" stroke="#444" stroke-width="0.6"/>
<line x1="82.70" y1="469.50" x2="82.70" y2="471.70" stroke="#444" stroke-width="0.6"/>
<line x1="59.45" y1="414.50" x2="59.45" y2="469.50" stroke="#222" stroke-width="0.6" stroke-dasharray="1.6,1.1"/>
<text x="36.00" y="480.30" font-size="7.25" text-anchor="middle" stroke="#231f20">-1kb</text>
<text x="59.20" y="480.30" font-size="7.25" text-anchor="middle" stroke="#231f20">Peak</text>
<text x="79.80" y="480.30" font-size="7.25" text-anchor="middle" stroke="#231f20">+1kb</text>
<path d="M36.20,461.51 L36.49,461.24 L36.78,460.97 L37.07,460.70 L37.36,460.43 L37.65,460.16 L37.94,459.90 L38.23,459.64 L38.53,459.38 L38.82,459.12 L39.11,458.87 L39.40,458.62 L39.69,458.37 L39.98,458.12 L40.27,457.88 L40.56,457.64 L40.85,457.40 L41.14,457.16 L41.43,456.93 L41.72,456.69 L42.01,456.46 L42.30,456.23 L42.59,456.00 L42.88,455.77 L43.18,455.54 L43.47,455.32 L43.76,455.10 L44.05,454.88 L44.34,454.66 L44.63,454.45 L44.92,454.24 L45.21,454.04 L45.50,453.84 L45.79,453.65 L46.08,453.46 L46.37,453.28 L46.66,453.12 L46.95,452.96 L47.24,452.82 L47.53,452.69 L47.83,452.56 L48.12,452.44 L48.41,452.30 L48.70,452.17 L48.99,452.02 L49.28,451.86 L49.57,451.67 L49.86,451.47 L50.15,451.24 L50.44,450.98 L50.73,450.68 L51.02,450.35 L51.31,449.98 L51.60,449.59 L51.89,449.16 L52.18,448.71 L52.48,448.23 L52.77,447.72 L53.06,447.18 L53.35,446.59 L53.64,445.91 L53.93,445.15 L54.22,444.32 L54.51,443.42 L54.80,442.46 L55.09,441.45 L55.38,440.39 L55.67,439.24 L55.96,437.91 L56.25,436.44 L56.54,434.89 L56.83,433.33 L57.12,431.79 L57.42,430.29 L57.71,428.68 L58.00,427.07 L58.29,425.63 L58.58,424.50 L58.87,423.48 L59.16,422.63 L59.45,422.27 L59.74,422.72 L60.03,423.75 L60.32,424.89 L60.61,425.88 L60.90,426.94 L61.19,428.04 L61.48,429.16 L61.78,430.28 L62.07,431.37 L62.36,432.45 L62.65,433.55 L62.94,434.68 L63.23,435.81 L63.52,436.91 L63.81,437.97 L64.10,438.96 L64.39,439.86 L64.68,440.66 L64.97,441.37 L65.26,442.04 L65.55,442.66 L65.84,443.24 L66.13,443.79 L66.43,444.33 L66.72,444.84 L67.01,445.35 L67.30,445.86 L67.59,446.38 L67.88,446.91 L68.17,447.47 L68.46,448.05 L68.75,448.68 L69.04,449.34 L69.33,450.01 L69.62,450.69 L69.91,451.37 L70.20,452.04 L70.49,452.68 L70.78,453.28 L71.08,453.83 L71.37,454.32 L71.66,454.75 L71.95,455.09 L72.24,455.37 L72.53,455.62 L72.82,455.85 L73.11,456.06 L73.40,456.25 L73.69,456.43 L73.98,456.60 L74.27,456.76 L74.56,456.92 L74.85,457.09 L75.14,457.26 L75.43,457.44 L75.72,457.63 L76.02,457.82 L76.31,458.01 L76.60,458.20 L76.89,458.39 L77.18,458.58 L77.47,458.76 L77.76,458.95 L78.05,459.13 L78.34,459.31 L78.63,459.49 L78.92,459.67 L79.21,459.84 L79.50,460.01 L79.79,460.18 L80.08,460.35 L80.38,460.51 L80.67,460.67 L80.96,460.83 L81.25,460.99 L81.54,461.15 L81.83,461.30 L82.12,461.45 L82.41,461.60 L82.70,461.75" fill="none" stroke="#e63a4f" stroke-width="1.1" stroke-linejoin="round"/>
<path d="M36.20,460.81 L36.49,460.46 L36.78,460.12 L37.07,459.78 L37.36,459.45 L37.65,459.11 L37.94,458.78 L38.23,458.46 L38.53,458.14 L38.82,457.82 L39.11,457.50 L39.40,457.19 L39.69,456.89 L39.98,456.58 L40.27,456.28 L40.56,455.99 L40.85,455.69 L41.14,455.41 L41.43,455.12 L41.72,454.84 L42.01,454.56 L42.30,454.27 L42.59,453.99 L42.88,453.71 L43.18,453.43 L43.47,453.15 L43.76,452.88 L44.05,452.62 L44.34,452.36 L44.63,452.10 L44.92,451.86 L45.21,451.62 L45.50,451.40 L45.79,451.18 L46.08,450.98 L46.37,450.79 L46.66,450.62 L46.95,450.47 L47.24,450.33 L47.53,450.21 L47.83,450.09 L48.12,449.97 L48.41,449.85 L48.70,449.72 L48.99,449.59 L49.28,449.43 L49.57,449.25 L49.86,449.05 L50.15,448.81 L50.44,448.52 L50.73,448.18 L51.02,447.79 L51.31,447.36 L51.60,446.89 L51.89,446.39 L52.18,445.85 L52.48,445.29 L52.77,444.70 L53.06,444.10 L53.35,443.45 L53.64,442.72 L53.93,441.92 L54.22,441.05 L54.51,440.12 L54.80,439.14 L55.09,438.12 L55.38,437.05 L55.67,435.92 L55.96,434.67 L56.25,433.32 L56.54,431.89 L56.83,430.41 L57.12,428.91 L57.42,427.37 L57.71,425.66 L58.00,423.91 L58.29,422.26 L58.58,420.84 L58.87,419.40 L59.16,418.14 L59.45,417.59 L59.74,418.16 L60.03,419.46 L60.32,420.86 L60.61,422.02 L60.90,423.20 L61.19,424.40 L61.48,425.60 L61.78,426.80 L62.07,427.98 L62.36,429.16 L62.65,430.37 L62.94,431.60 L63.23,432.84 L63.52,434.04 L63.81,435.19 L64.10,436.26 L64.39,437.23 L64.68,438.08 L64.97,438.83 L65.26,439.53 L65.55,440.17 L65.84,440.78 L66.13,441.36 L66.43,441.91 L66.72,442.44 L67.01,442.97 L67.30,443.49 L67.59,444.02 L67.88,444.56 L68.17,445.12 L68.46,445.70 L68.75,446.32 L69.04,446.95 L69.33,447.60 L69.62,448.25 L69.91,448.89 L70.20,449.53 L70.49,450.14 L70.78,450.72 L71.08,451.26 L71.37,451.76 L71.66,452.21 L71.95,452.59 L72.24,452.93 L72.53,453.24 L72.82,453.52 L73.11,453.79 L73.40,454.03 L73.69,454.27 L73.98,454.49 L74.27,454.71 L74.56,454.93 L74.85,455.15 L75.14,455.37 L75.43,455.61 L75.72,455.85 L76.02,456.09 L76.31,456.34 L76.60,456.58 L76.89,456.83 L77.18,457.07 L77.47,457.31 L77.76,457.55 L78.05,457.79 L78.34,458.02 L78.63,458.24 L78.92,458.45 L79.21,458.66 L79.50,458.86 L79.79,459.06 L80.08,459.26 L80.38,459.45 L80.67,459.63 L80.96,459.81 L81.25,459.99 L81.54,460.16 L81.83,460.33 L82.12,460.50 L82.41,460.66 L82.70,460.81" fill="none" stroke="#4f62c4" stroke-width="1.1" stroke-linejoin="round"/>
<text x="121.55" y="407.00" font-size="7.2" text-anchor="middle" font-weight="bold" stroke="#231f20">Cluster 2</text>
<line x1="98.40" y1="414.50" x2="98.40" y2="469.50" stroke="#444" stroke-width="0.7"/>
<line x1="98.40" y1="469.50" x2="144.70" y2="469.50" stroke="#444" stroke-width="0.7"/>
<line x1="96.40" y1="468.80" x2="98.40" y2="468.80" stroke="#444" stroke-width="0.6"/>
<line x1="96.40" y1="445.30" x2="98.40" y2="445.30" stroke="#444" stroke-width="0.6"/>
<line x1="96.40" y1="421.80" x2="98.40" y2="421.80" stroke="#444" stroke-width="0.6"/>
<line x1="98.40" y1="469.50" x2="98.40" y2="471.70" stroke="#444" stroke-width="0.6"/>
<line x1="121.55" y1="469.50" x2="121.55" y2="471.70" stroke="#444" stroke-width="0.6"/>
<line x1="144.70" y1="469.50" x2="144.70" y2="471.70" stroke="#444" stroke-width="0.6"/>
<line x1="121.55" y1="414.50" x2="121.55" y2="469.50" stroke="#222" stroke-width="0.6" stroke-dasharray="1.6,1.1"/>
<text x="100.00" y="480.30" font-size="7.25" text-anchor="middle" stroke="#231f20">-1kb</text>
<text x="123.00" y="480.30" font-size="7.25" text-anchor="middle" stroke="#231f20">Peak</text>
<text x="143.30" y="480.30" font-size="7.25" text-anchor="middle" stroke="#231f20">+1kb</text>
<path d="M98.40,462.45 L98.69,462.35 L98.98,462.25 L99.27,462.15 L99.56,462.05 L99.85,461.94 L100.14,461.84 L100.43,461.74 L100.72,461.64 L101.00,461.54 L101.29,461.44 L101.58,461.34 L101.87,461.24 L102.16,461.14 L102.45,461.04 L102.74,460.94 L103.03,460.85 L103.32,460.75 L103.61,460.65 L103.90,460.55 L104.19,460.45 L104.48,460.36 L104.77,460.26 L105.06,460.16 L105.34,460.07 L105.63,459.97 L105.92,459.88 L106.21,459.78 L106.50,459.69 L106.79,459.61 L107.08,459.53 L107.37,459.45 L107.66,459.37 L107.95,459.29 L108.24,459.22 L108.53,459.14 L108.82,459.07 L109.11,459.00 L109.40,458.92 L109.69,458.84 L109.97,458.76 L110.26,458.68 L110.55,458.60 L110.84,458.51 L111.13,458.42 L111.42,458.32 L111.71,458.22 L112.00,458.11 L112.29,458.00 L112.58,457.88 L112.87,457.75 L113.16,457.62 L113.45,457.47 L113.74,457.31 L114.03,457.13 L114.32,456.94 L114.61,456.72 L114.89,456.49 L115.18,456.24 L115.47,455.97 L115.76,455.68 L116.05,455.37 L116.34,455.05 L116.63,454.71 L116.92,454.35 L117.21,453.98 L117.50,453.59 L117.79,453.16 L118.08,452.66 L118.37,452.10 L118.66,451.48 L118.95,450.81 L119.23,450.09 L119.52,449.33 L119.81,448.54 L120.10,447.71 L120.39,446.54 L120.68,445.12 L120.97,443.75 L121.26,442.70 L121.55,442.29 L121.84,442.70 L122.13,443.73 L122.42,445.09 L122.71,446.51 L123.00,447.70 L123.29,448.58 L123.58,449.44 L123.86,450.27 L124.15,451.07 L124.44,451.81 L124.73,452.48 L125.02,453.07 L125.31,453.57 L125.60,453.98 L125.89,454.36 L126.18,454.73 L126.47,455.08 L126.76,455.41 L127.05,455.72 L127.34,456.02 L127.63,456.30 L127.92,456.56 L128.21,456.81 L128.50,457.04 L128.78,457.26 L129.07,457.45 L129.36,457.63 L129.65,457.79 L129.94,457.94 L130.23,458.06 L130.52,458.17 L130.81,458.27 L131.10,458.36 L131.39,458.44 L131.68,458.52 L131.97,458.59 L132.26,458.66 L132.55,458.72 L132.84,458.78 L133.12,458.83 L133.41,458.89 L133.70,458.95 L133.99,459.01 L134.28,459.07 L134.57,459.13 L134.86,459.20 L135.15,459.28 L135.44,459.36 L135.73,459.44 L136.02,459.53 L136.31,459.61 L136.60,459.70 L136.89,459.78 L137.18,459.87 L137.47,459.96 L137.75,460.05 L138.04,460.15 L138.33,460.24 L138.62,460.33 L138.91,460.43 L139.20,460.53 L139.49,460.62 L139.78,460.72 L140.07,460.82 L140.36,460.93 L140.65,461.03 L140.94,461.13 L141.23,461.24 L141.52,461.34 L141.81,461.45 L142.10,461.56 L142.38,461.67 L142.67,461.78 L142.96,461.89 L143.25,462.01 L143.54,462.12 L143.83,462.24 L144.12,462.36 L144.41,462.48 L144.70,462.60" fill="none" stroke="#e63a4f" stroke-width="1.1" stroke-linejoin="round"/>
<path d="M98.40,462.93 L98.69,462.83 L98.98,462.74 L99.27,462.64 L99.56,462.55 L99.85,462.46 L100.14,462.37 L100.43,462.27 L100.72,462.18 L101.00,462.09 L101.29,462.00 L101.58,461.91 L101.87,461.82 L102.16,461.73 L102.45,461.64 L102.74,461.55 L103.03,461.46 L103.32,461.37 L103.61,461.28 L103.90,461.19 L104.19,461.10 L104.48,461.02 L104.77,460.93 L105.06,460.84 L105.34,460.75 L105.63,460.67 L105.92,460.58 L106.21,460.50 L106.50,460.42 L106.79,460.34 L107.08,460.26 L107.37,460.19 L107.66,460.12 L107.95,460.05 L108.24,459.98 L108.53,459.91 L108.82,459.85 L109.11,459.78 L109.40,459.71 L109.69,459.64 L109.97,459.57 L110.26,459.49 L110.55,459.42 L110.84,459.34 L111.13,459.25 L111.42,459.17 L111.71,459.08 L112.00,458.98 L112.29,458.88 L112.58,458.78 L112.87,458.66 L113.16,458.54 L113.45,458.42 L113.74,458.28 L114.03,458.13 L114.32,457.96 L114.61,457.78 L114.89,457.59 L115.18,457.38 L115.47,457.16 L115.76,456.92 L116.05,456.67 L116.34,456.41 L116.63,456.13 L116.92,455.84 L117.21,455.54 L117.50,455.22 L117.79,454.88 L118.08,454.48 L118.37,454.03 L118.66,453.54 L118.95,453.01 L119.23,452.44 L119.52,451.85 L119.81,451.22 L120.10,450.56 L120.39,449.65 L120.68,448.53 L120.97,447.45 L121.26,446.63 L121.55,446.31 L121.84,446.63 L122.13,447.43 L122.42,448.50 L122.71,449.62 L123.00,450.56 L123.29,451.26 L123.58,451.94 L123.86,452.60 L124.15,453.23 L124.44,453.82 L124.73,454.36 L125.02,454.84 L125.31,455.25 L125.60,455.59 L125.89,455.91 L126.18,456.22 L126.47,456.52 L126.76,456.80 L127.05,457.07 L127.34,457.32 L127.63,457.56 L127.92,457.79 L128.21,458.01 L128.50,458.21 L128.78,458.39 L129.07,458.57 L129.36,458.73 L129.65,458.87 L129.94,459.00 L130.23,459.12 L130.52,459.23 L130.81,459.32 L131.10,459.41 L131.39,459.49 L131.68,459.57 L131.97,459.64 L132.26,459.70 L132.55,459.76 L132.84,459.82 L133.12,459.88 L133.41,459.94 L133.70,459.99 L133.99,460.05 L134.28,460.11 L134.57,460.17 L134.86,460.24 L135.15,460.31 L135.44,460.39 L135.73,460.47 L136.02,460.54 L136.31,460.62 L136.60,460.70 L136.89,460.78 L137.18,460.86 L137.47,460.94 L137.75,461.02 L138.04,461.10 L138.33,461.18 L138.62,461.27 L138.91,461.35 L139.20,461.43 L139.49,461.52 L139.78,461.60 L140.07,461.69 L140.36,461.78 L140.65,461.86 L140.94,461.95 L141.23,462.04 L141.52,462.13 L141.81,462.22 L142.10,462.31 L142.38,462.40 L142.67,462.49 L142.96,462.59 L143.25,462.68 L143.54,462.78 L143.83,462.87 L144.12,462.97 L144.41,463.06 L144.70,463.16" fill="none" stroke="#4f62c4" stroke-width="1.1" stroke-linejoin="round"/>
<text x="183.85" y="407.00" font-size="7.2" text-anchor="middle" font-weight="bold" stroke="#231f20">Cluster 3</text>
<line x1="160.40" y1="414.50" x2="160.40" y2="469.50" stroke="#444" stroke-width="0.7"/>
<line x1="160.40" y1="469.50" x2="207.30" y2="469.50" stroke="#444" stroke-width="0.7"/>
<line x1="158.40" y1="468.80" x2="160.40" y2="468.80" stroke="#444" stroke-width="0.6"/>
<line x1="158.40" y1="445.30" x2="160.40" y2="445.30" stroke="#444" stroke-width="0.6"/>
<line x1="158.40" y1="421.80" x2="160.40" y2="421.80" stroke="#444" stroke-width="0.6"/>
<line x1="160.40" y1="469.50" x2="160.40" y2="471.70" stroke="#444" stroke-width="0.6"/>
<line x1="183.85" y1="469.50" x2="183.85" y2="471.70" stroke="#444" stroke-width="0.6"/>
<line x1="207.30" y1="469.50" x2="207.30" y2="471.70" stroke="#444" stroke-width="0.6"/>
<line x1="183.85" y1="414.50" x2="183.85" y2="469.50" stroke="#222" stroke-width="0.6" stroke-dasharray="1.6,1.1"/>
<text x="161.70" y="480.30" font-size="7.25" text-anchor="middle" stroke="#231f20">-1kb</text>
<text x="185.20" y="480.30" font-size="7.25" text-anchor="middle" stroke="#231f20">Peak</text>
<text x="205.40" y="480.30" font-size="7.25" text-anchor="middle" stroke="#231f20">+1kb</text>
<path d="M160.40,466.31 L160.69,466.31 L160.99,466.31 L161.28,466.30 L161.57,466.29 L161.87,466.28 L162.16,466.27 L162.45,466.26 L162.75,466.25 L163.04,466.23 L163.33,466.22 L163.62,466.20 L163.92,466.18 L164.21,466.15 L164.50,466.13 L164.80,466.11 L165.09,466.08 L165.38,466.05 L165.68,466.02 L165.97,465.99 L166.26,465.96 L166.56,465.93 L166.85,465.89 L167.14,465.86 L167.44,465.82 L167.73,465.78 L168.02,465.75 L168.31,465.71 L168.61,465.67 L168.90,465.63 L169.19,465.58 L169.49,465.54 L169.78,465.50 L170.07,465.45 L170.37,465.41 L170.66,465.36 L170.95,465.31 L171.25,465.25 L171.54,465.19 L171.83,465.12 L172.12,465.05 L172.42,464.97 L172.71,464.88 L173.00,464.79 L173.30,464.69 L173.59,464.58 L173.88,464.47 L174.18,464.34 L174.47,464.21 L174.76,464.07 L175.06,463.92 L175.35,463.76 L175.64,463.59 L175.94,463.41 L176.23,463.22 L176.52,463.02 L176.81,462.78 L177.11,462.46 L177.40,462.06 L177.69,461.58 L177.99,461.04 L178.28,460.43 L178.57,459.76 L178.87,459.03 L179.16,458.26 L179.45,457.43 L179.75,456.56 L180.04,455.66 L180.33,454.67 L180.63,453.38 L180.92,451.82 L181.21,450.10 L181.50,448.34 L181.80,446.62 L182.09,445.06 L182.38,443.36 L182.68,441.49 L182.97,439.67 L183.26,438.11 L183.56,437.02 L183.85,436.61 L184.14,437.03 L184.44,438.14 L184.73,439.72 L185.02,441.56 L185.32,443.41 L185.61,445.07 L185.90,446.53 L186.20,448.06 L186.49,449.62 L186.78,451.12 L187.07,452.52 L187.37,453.73 L187.66,454.74 L187.95,455.71 L188.25,456.66 L188.54,457.58 L188.83,458.47 L189.13,459.30 L189.42,460.08 L189.71,460.80 L190.01,461.43 L190.30,461.98 L190.59,462.44 L190.89,462.79 L191.18,463.02 L191.47,463.20 L191.76,463.36 L192.06,463.52 L192.35,463.67 L192.64,463.82 L192.94,463.95 L193.23,464.07 L193.52,464.19 L193.82,464.30 L194.11,464.40 L194.40,464.50 L194.70,464.59 L194.99,464.68 L195.28,464.76 L195.58,464.83 L195.87,464.90 L196.16,464.97 L196.45,465.03 L196.75,465.09 L197.04,465.15 L197.33,465.20 L197.63,465.25 L197.92,465.30 L198.21,465.35 L198.51,465.40 L198.80,465.45 L199.09,465.49 L199.39,465.54 L199.68,465.59 L199.97,465.63 L200.27,465.67 L200.56,465.72 L200.85,465.76 L201.14,465.80 L201.44,465.84 L201.73,465.88 L202.02,465.92 L202.32,465.96 L202.61,466.00 L202.90,466.03 L203.20,466.06 L203.49,466.09 L203.78,466.12 L204.08,466.15 L204.37,466.18 L204.66,466.20 L204.96,466.22 L205.25,466.24 L205.54,466.26 L205.83,466.27 L206.13,466.29 L206.42,466.30 L206.71,466.30 L207.01,466.31 L207.30,466.31" fill="none" stroke="#e63a4f" stroke-width="1.1" stroke-linejoin="round"/>
<path d="M160.40,466.80 L160.69,466.80 L160.99,466.80 L161.28,466.80 L161.57,466.79 L161.87,466.79 L162.16,466.78 L162.45,466.77 L162.75,466.76 L163.04,466.75 L163.33,466.74 L163.62,466.73 L163.92,466.71 L164.21,466.70 L164.50,466.68 L164.80,466.67 L165.09,466.65 L165.38,466.63 L165.68,466.61 L165.97,466.59 L166.26,466.57 L166.56,466.55 L166.85,466.53 L167.14,466.50 L167.44,466.48 L167.73,466.46 L168.02,466.43 L168.31,466.41 L168.61,466.38 L168.90,466.36 L169.19,466.33 L169.49,466.30 L169.78,466.28 L170.07,466.25 L170.37,466.22 L170.66,466.20 L170.95,466.17 L171.25,466.14 L171.54,466.10 L171.83,466.07 L172.12,466.03 L172.42,465.99 L172.71,465.95 L173.00,465.90 L173.30,465.85 L173.59,465.80 L173.88,465.74 L174.18,465.68 L174.47,465.62 L174.76,465.55 L175.06,465.48 L175.35,465.41 L175.64,465.32 L175.94,465.24 L176.23,465.15 L176.52,465.05 L176.81,464.94 L177.11,464.79 L177.40,464.61 L177.69,464.40 L177.99,464.15 L178.28,463.88 L178.57,463.58 L178.87,463.26 L179.16,462.87 L179.45,462.33 L179.75,461.68 L180.04,460.95 L180.33,460.16 L180.63,459.35 L180.92,458.56 L181.21,457.82 L181.50,457.13 L181.80,456.34 L182.09,455.49 L182.38,454.64 L182.68,453.82 L182.97,453.10 L183.26,452.52 L183.56,452.14 L183.85,452.00 L184.14,452.14 L184.44,452.52 L184.73,453.10 L185.02,453.82 L185.32,454.64 L185.61,455.49 L185.90,456.34 L186.20,457.13 L186.49,457.82 L186.78,458.56 L187.07,459.35 L187.37,460.16 L187.66,460.95 L187.95,461.68 L188.25,462.33 L188.54,462.87 L188.83,463.26 L189.13,463.58 L189.42,463.89 L189.71,464.16 L190.01,464.41 L190.30,464.62 L190.59,464.80 L190.89,464.95 L191.18,465.05 L191.47,465.14 L191.76,465.22 L192.06,465.29 L192.35,465.36 L192.64,465.43 L192.94,465.49 L193.23,465.55 L193.52,465.61 L193.82,465.66 L194.11,465.71 L194.40,465.76 L194.70,465.80 L194.99,465.84 L195.28,465.88 L195.58,465.92 L195.87,465.95 L196.16,465.99 L196.45,466.02 L196.75,466.05 L197.04,466.08 L197.33,466.11 L197.63,466.14 L197.92,466.16 L198.21,466.19 L198.51,466.22 L198.80,466.25 L199.09,466.27 L199.39,466.30 L199.68,466.33 L199.97,466.36 L200.27,466.38 L200.56,466.41 L200.85,466.43 L201.14,466.46 L201.44,466.48 L201.73,466.51 L202.02,466.53 L202.32,466.56 L202.61,466.58 L202.90,466.60 L203.20,466.62 L203.49,466.64 L203.78,466.66 L204.08,466.68 L204.37,466.69 L204.66,466.71 L204.96,466.73 L205.25,466.74 L205.54,466.75 L205.83,466.76 L206.13,466.77 L206.42,466.78 L206.71,466.79 L207.01,466.80 L207.30,466.80" fill="none" stroke="#4f62c4" stroke-width="1.1" stroke-linejoin="round"/>
<text x="246.10" y="407.00" font-size="7.2" text-anchor="middle" font-weight="bold" stroke="#231f20">Cluster 4</text>
<line x1="222.50" y1="414.50" x2="222.50" y2="469.50" stroke="#444" stroke-width="0.7"/>
<line x1="222.50" y1="469.50" x2="269.70" y2="469.50" stroke="#444" stroke-width="0.7"/>
<line x1="220.50" y1="468.80" x2="222.50" y2="468.80" stroke="#444" stroke-width="0.6"/>
<line x1="220.50" y1="445.30" x2="222.50" y2="445.30" stroke="#444" stroke-width="0.6"/>
<line x1="220.50" y1="421.80" x2="222.50" y2="421.80" stroke="#444" stroke-width="0.6"/>
<line x1="222.50" y1="469.50" x2="222.50" y2="471.70" stroke="#444" stroke-width="0.6"/>
<line x1="246.10" y1="469.50" x2="246.10" y2="471.70" stroke="#444" stroke-width="0.6"/>
<line x1="269.70" y1="469.50" x2="269.70" y2="471.70" stroke="#444" stroke-width="0.6"/>
<line x1="246.10" y1="414.50" x2="246.10" y2="469.50" stroke="#222" stroke-width="0.6" stroke-dasharray="1.6,1.1"/>
<text x="225.90" y="480.30" font-size="7.25" text-anchor="middle" stroke="#231f20">-1kb</text>
<text x="249.10" y="480.30" font-size="7.25" text-anchor="middle" stroke="#231f20">Peak</text>
<text x="269.00" y="480.30" font-size="7.25" text-anchor="middle" stroke="#231f20">+1kb</text>
<path d="M222.50,462.45 L222.79,462.45 L223.09,462.45 L223.38,462.44 L223.68,462.43 L223.97,462.42 L224.27,462.41 L224.56,462.39 L224.86,462.37 L225.16,462.35 L225.45,462.32 L225.75,462.30 L226.04,462.27 L226.34,462.24 L226.63,462.21 L226.93,462.17 L227.22,462.14 L227.51,462.10 L227.81,462.06 L228.10,462.02 L228.40,461.98 L228.69,461.94 L228.99,461.89 L229.28,461.85 L229.58,461.80 L229.88,461.76 L230.17,461.71 L230.47,461.66 L230.76,461.61 L231.06,461.56 L231.35,461.51 L231.65,461.45 L231.94,461.40 L232.23,461.35 L232.53,461.30 L232.82,461.24 L233.12,461.19 L233.41,461.13 L233.71,461.07 L234.00,461.00 L234.30,460.93 L234.59,460.85 L234.89,460.77 L235.19,460.69 L235.48,460.60 L235.78,460.51 L236.07,460.41 L236.37,460.31 L236.66,460.21 L236.95,460.10 L237.25,459.99 L237.54,459.88 L237.84,459.76 L238.13,459.64 L238.43,459.52 L238.72,459.40 L239.02,459.27 L239.31,459.14 L239.61,459.01 L239.91,458.88 L240.20,458.74 L240.50,458.60 L240.79,458.45 L241.08,458.30 L241.38,458.14 L241.68,457.97 L241.97,457.79 L242.26,457.60 L242.56,457.40 L242.85,457.19 L243.15,456.97 L243.44,456.73 L243.74,456.49 L244.03,456.22 L244.33,455.83 L244.62,455.37 L244.92,454.87 L245.22,454.39 L245.51,453.98 L245.81,453.70 L246.10,453.60 L246.39,453.69 L246.69,453.94 L246.98,454.31 L247.28,454.74 L247.57,455.20 L247.87,455.63 L248.16,455.99 L248.46,456.25 L248.75,456.48 L249.05,456.70 L249.34,456.91 L249.64,457.11 L249.94,457.30 L250.23,457.48 L250.52,457.66 L250.82,457.83 L251.11,458.00 L251.41,458.18 L251.70,458.36 L252.00,458.54 L252.29,458.72 L252.59,458.90 L252.88,459.09 L253.18,459.27 L253.47,459.45 L253.77,459.63 L254.06,459.81 L254.36,459.98 L254.66,460.14 L254.95,460.30 L255.25,460.45 L255.54,460.59 L255.83,460.73 L256.13,460.85 L256.43,460.96 L256.72,461.06 L257.01,461.14 L257.31,461.21 L257.61,461.27 L257.90,461.33 L258.19,461.39 L258.49,461.45 L258.78,461.51 L259.08,461.56 L259.38,461.62 L259.67,461.67 L259.96,461.73 L260.26,461.78 L260.56,461.83 L260.85,461.88 L261.14,461.93 L261.44,461.98 L261.74,462.02 L262.03,462.07 L262.32,462.11 L262.62,462.15 L262.91,462.20 L263.21,462.24 L263.50,462.27 L263.80,462.31 L264.09,462.35 L264.39,462.38 L264.69,462.41 L264.98,462.44 L265.27,462.47 L265.57,462.50 L265.87,462.52 L266.16,462.55 L266.45,462.57 L266.75,462.59 L267.04,462.61 L267.34,462.63 L267.63,462.64 L267.93,462.65 L268.22,462.66 L268.52,462.67 L268.81,462.68 L269.11,462.69 L269.40,462.69 L269.70,462.69" fill="none" stroke="#e63a4f" stroke-width="1.1" stroke-linejoin="round"/>
<path d="M222.50,464.41 L222.79,464.40 L223.09,464.39 L223.38,464.38 L223.68,464.37 L223.97,464.36 L224.27,464.35 L224.56,464.33 L224.86,464.32 L225.16,464.30 L225.45,464.28 L225.75,464.27 L226.04,464.25 L226.34,464.23 L226.63,464.21 L226.93,464.19 L227.22,464.17 L227.51,464.14 L227.81,464.12 L228.10,464.10 L228.40,464.07 L228.69,464.05 L228.99,464.02 L229.28,463.99 L229.58,463.97 L229.88,463.94 L230.17,463.91 L230.47,463.88 L230.76,463.86 L231.06,463.83 L231.35,463.80 L231.65,463.77 L231.94,463.74 L232.23,463.71 L232.53,463.68 L232.82,463.65 L233.12,463.62 L233.41,463.59 L233.71,463.56 L234.00,463.53 L234.30,463.49 L234.59,463.46 L234.89,463.43 L235.19,463.40 L235.48,463.36 L235.78,463.32 L236.07,463.29 L236.37,463.25 L236.66,463.20 L236.95,463.16 L237.25,463.11 L237.54,463.07 L237.84,463.01 L238.13,462.96 L238.43,462.90 L238.72,462.84 L239.02,462.78 L239.31,462.71 L239.61,462.64 L239.91,462.56 L240.20,462.48 L240.50,462.39 L240.79,462.26 L241.08,462.10 L241.38,461.92 L241.68,461.71 L241.97,461.48 L242.26,461.24 L242.56,460.99 L242.85,460.74 L243.15,460.49 L243.44,460.24 L243.74,460.00 L244.03,459.76 L244.33,459.49 L244.62,459.18 L244.92,458.86 L245.22,458.57 L245.51,458.33 L245.81,458.17 L246.10,458.11 L246.39,458.17 L246.69,458.33 L246.98,458.58 L247.28,458.87 L247.57,459.18 L247.87,459.49 L248.16,459.77 L248.46,460.00 L248.75,460.23 L249.05,460.47 L249.34,460.71 L249.64,460.94 L249.94,461.17 L250.23,461.39 L250.52,461.58 L250.82,461.76 L251.11,461.91 L251.41,462.03 L251.70,462.14 L252.00,462.25 L252.29,462.35 L252.59,462.45 L252.88,462.54 L253.18,462.63 L253.47,462.71 L253.77,462.80 L254.06,462.87 L254.36,462.95 L254.66,463.02 L254.95,463.08 L255.25,463.14 L255.54,463.20 L255.83,463.26 L256.13,463.31 L256.43,463.36 L256.72,463.41 L257.01,463.45 L257.31,463.49 L257.61,463.53 L257.90,463.57 L258.19,463.60 L258.49,463.64 L258.78,463.68 L259.08,463.71 L259.38,463.75 L259.67,463.79 L259.96,463.82 L260.26,463.86 L260.56,463.89 L260.85,463.93 L261.14,463.96 L261.44,463.99 L261.74,464.02 L262.03,464.05 L262.32,464.08 L262.62,464.11 L262.91,464.14 L263.21,464.17 L263.50,464.20 L263.80,464.22 L264.09,464.25 L264.39,464.27 L264.69,464.29 L264.98,464.32 L265.27,464.34 L265.57,464.36 L265.87,464.38 L266.16,464.39 L266.45,464.41 L266.75,464.42 L267.04,464.44 L267.34,464.45 L267.63,464.46 L267.93,464.47 L268.22,464.48 L268.52,464.49 L268.81,464.49 L269.11,464.50 L269.40,464.50 L269.70,464.50" fill="none" stroke="#4f62c4" stroke-width="1.1" stroke-linejoin="round"/>
<text x="252.00" y="424.40" font-size="7.25" fill="#e63a4f" stroke="#e63a4f">WT</text>
<text x="252.00" y="431.70" font-size="7.25" fill="#4f62c4" stroke="#4f62c4"><tspan font-style="italic">ZIC2</tspan><tspan font-size="4.3" baseline-shift="2.9" stroke="none" font-style="normal">-/-</tspan><tspan font-style="italic">ZIC3</tspan><tspan font-size="4.3" baseline-shift="2.9" stroke="none" font-style="normal">-/-</tspan></text>
<text x="318.60" y="391.10" font-size="10" font-weight="bold" fill="#000" stroke="#000">l</text>
<ellipse cx="388.8" cy="441.0" rx="12.5" ry="23.0" fill="#a6d6ea" opacity="0.8" filter="url(#bl12)" transform="rotate(14 388.8 441.0)"/>
<ellipse cx="389.4" cy="440.0" rx="8.5" ry="16.0" fill="#c4e6ea" opacity="0.8" filter="url(#bl10)" transform="rotate(14 389.4 440.0)"/>
<path d="M401.8,446.9h.9v.9h-.9zM385.8,445.5h.9v.9h-.9zM384.1,450.5h.9v.9h-.9zM387.3,441.4h.9v.9h-.9zM379.8,452.2h.9v.9h-.9zM385.3,446.7h.9v.9h-.9zM390.1,456.8h.9v.9h-.9zM365.1,460.1h.9v.9h-.9zM391.5,444.8h.9v.9h-.9zM380.0,419.6h.9v.9h-.9zM386.9,442.5h.9v.9h-.9zM387.2,421.8h.9v.9h-.9zM390.0,435.0h.9v.9h-.9zM398.0,450.5h.9v.9h-.9zM386.4,436.4h.9v.9h-.9zM383.6,450.8h.9v.9h-.9zM390.8,435.9h.9v.9h-.9zM399.4,433.1h.9v.9h-.9zM385.2,464.1h.9v.9h-.9zM377.2,434.5h.9v.9h-.9zM409.4,443.8h.9v.9h-.9zM368.0,442.3h.9v.9h-.9zM390.5,452.4h.9v.9h-.9zM389.9,446.1h.9v.9h-.9zM392.6,453.9h.9v.9h-.9zM372.5,436.5h.9v.9h-.9zM395.1,417.8h.9v.9h-.9zM394.2,431.2h.9v.9h-.9zM384.2,424.2h.9v.9h-.9zM389.3,417.1h.9v.9h-.9zM390.3,431.1h.9v.9h-.9zM395.4,431.3h.9v.9h-.9zM396.7,424.3h.9v.9h-.9zM390.9,444.2h.9v.9h-.9zM388.8,438.5h.9v.9h-.9zM384.6,450.7h.9v.9h-.9zM378.9,429.1h.9v.9h-.9zM394.1,425.1h.9v.9h-.9zM392.8,438.0h.9v.9h-.9zM389.4,438.2h.9v.9h-.9zM389.8,438.3h.9v.9h-.9zM388.1,441.0h.9v.9h-.9zM398.6,445.5h.9v.9h-.9zM389.3,421.2h.9v.9h-.9zM388.3,433.9h.9v.9h-.9zM388.5,431.3h.9v.9h-.9zM379.4,448.9h.9v.9h-.9zM386.2,454.2h.9v.9h-.9zM392.5,437.3h.9v.9h-.9zM385.0,437.7h.9v.9h-.9zM396.4,448.3h.9v.9h-.9zM398.7,457.0h.9v.9h-.9zM390.5,453.3h.9v.9h-.9zM382.7,447.7h.9v.9h-.9zM390.0,453.5h.9v.9h-.9zM393.5,447.5h.9v.9h-.9zM386.5,442.4h.9v.9h-.9zM395.9,431.3h.9v.9h-.9zM390.5,440.9h.9v.9h-.9zM392.3,441.2h.9v.9h-.9zM387.2,446.3h.9v.9h-.9zM405.3,439.4h.9v.9h-.9zM387.6,440.5h.9v.9h-.9zM386.3,435.8h.9v.9h-.9zM392.4,453.1h.9v.9h-.9zM396.6,432.7h.9v.9h-.9zM380.6,432.4h.9v.9h-.9zM376.4,450.5h.9v.9h-.9zM396.6,443.5h.9v.9h-.9zM399.5,441.0h.9v.9h-.9zM397.7,428.2h.9v.9h-.9zM387.4,435.0h.9v.9h-.9zM384.5,449.5h.9v.9h-.9zM392.0,437.5h.9v.9h-.9zM395.2,432.4h.9v.9h-.9zM386.3,424.0h.9v.9h-.9zM394.4,425.9h.9v.9h-.9zM407.8,434.1h.9v.9h-.9zM393.2,458.4h.9v.9h-.9zM381.1,444.9h.9v.9h-.9zM384.1,436.1h.9v.9h-.9zM396.8,426.4h.9v.9h-.9zM403.4,446.7h.9v.9h-.9zM392.3,443.4h.9v.9h-.9zM385.0,460.9h.9v.9h-.9zM384.3,452.1h.9v.9h-.9zM389.2,425.2h.9v.9h-.9zM389.5,448.9h.9v.9h-.9zM394.7,450.9h.9v.9h-.9zM410.0,427.5h.9v.9h-.9zM381.0,437.8h.9v.9h-.9zM383.2,429.9h.9v.9h-.9zM385.6,453.1h.9v.9h-.9zM400.1,408.0h.9v.9h-.9zM398.3,427.1h.9v.9h-.9zM389.9,418.2h.9v.9h-.9zM382.9,424.9h.9v.9h-.9zM387.5,440.5h.9v.9h-.9zM384.4,425.1h.9v.9h-.9zM399.2,438.1h.9v.9h-.9zM389.9,448.7h.9v.9h-.9zM392.8,425.2h.9v.9h-.9zM377.5,439.5h.9v.9h-.9zM375.1,433.8h.9v.9h-.9zM406.4,443.4h.9v.9h-.9zM390.6,438.9h.9v.9h-.9zM383.4,432.9h.9v.9h-.9zM388.5,403.9h.9v.9h-.9zM390.0,438.4h.9v.9h-.9zM394.3,428.1h.9v.9h-.9zM387.1,415.0h.9v.9h-.9zM381.3,449.7h.9v.9h-.9zM396.8,433.6h.9v.9h-.9zM383.5,456.1h.9v.9h-.9zM392.6,450.6h.9v.9h-.9zM374.0,453.4h.9v.9h-.9zM391.1,431.3h.9v.9h-.9zM377.6,415.2h.9v.9h-.9zM392.1,435.7h.9v.9h-.9zM384.9,439.2h.9v.9h-.9zM381.3,437.2h.9v.9h-.9zM373.9,455.2h.9v.9h-.9zM388.0,441.3h.9v.9h-.9zM384.1,424.8h.9v.9h-.9zM385.5,439.3h.9v.9h-.9zM392.2,449.6h.9v.9h-.9zM388.7,447.4h.9v.9h-.9zM397.8,433.7h.9v.9h-.9zM391.1,468.0h.9v.9h-.9zM380.3,445.4h.9v.9h-.9zM392.1,409.0h.9v.9h-.9zM387.5,432.0h.9v.9h-.9zM371.6,442.7h.9v.9h-.9zM395.4,439.7h.9v.9h-.9zM388.3,436.4h.9v.9h-.9zM386.8,443.6h.9v.9h-.9zM386.2,436.0h.9v.9h-.9zM395.6,438.5h.9v.9h-.9zM388.6,445.2h.9v.9h-.9zM388.8,443.7h.9v.9h-.9zM387.1,449.1h.9v.9h-.9zM380.3,446.9h.9v.9h-.9zM392.3,454.4h.9v.9h-.9zM395.7,433.7h.9v.9h-.9zM393.1,430.9h.9v.9h-.9zM365.8,439.7h.9v.9h-.9zM376.9,459.4h.9v.9h-.9zM362.8,448.5h.9v.9h-.9zM370.4,441.1h.9v.9h-.9zM383.0,458.0h.9v.9h-.9zM372.4,453.5h.9v.9h-.9zM391.6,429.9h.9v.9h-.9zM393.7,446.1h.9v.9h-.9zM388.1,442.1h.9v.9h-.9zM393.3,424.7h.9v.9h-.9zM374.8,453.3h.9v.9h-.9zM380.7,433.4h.9v.9h-.9zM385.8,450.3h.9v.9h-.9zM382.9,443.0h.9v.9h-.9zM389.1,436.7h.9v.9h-.9zM387.7,456.6h.9v.9h-.9zM392.8,430.1h.9v.9h-.9zM399.9,447.2h.9v.9h-.9zM403.1,413.2h.9v.9h-.9zM382.5,447.4h.9v.9h-.9zM391.9,437.1h.9v.9h-.9zM391.3,456.2h.9v.9h-.9zM389.6,444.9h.9v.9h-.9zM388.0,421.2h.9v.9h-.9zM391.3,425.3h.9v.9h-.9zM392.3,455.5h.9v.9h-.9zM387.8,438.8h.9v.9h-.9zM385.2,438.5h.9v.9h-.9zM382.6,425.4h.9v.9h-.9zM368.8,453.2h.9v.9h-.9zM387.8,441.1h.9v.9h-.9zM377.5,441.0h.9v.9h-.9zM402.0,430.8h.9v.9h-.9zM385.2,452.0h.9v.9h-.9zM388.3,423.5h.9v.9h-.9zM390.0,417.8h.9v.9h-.9zM368.1,439.9h.9v.9h-.9zM381.4,448.0h.9v.9h-.9zM386.8,448.1h.9v.9h-.9zM392.2,445.8h.9v.9h-.9zM403.1,427.6h.9v.9h-.9zM386.1,448.7h.9v.9h-.9zM390.5,439.1h.9v.9h-.9zM415.0,448.3h.9v.9h-.9zM393.4,423.6h.9v.9h-.9zM388.8,448.8h.9v.9h-.9zM375.4,437.5h.9v.9h-.9zM377.1,452.5h.9v.9h-.9zM390.7,428.1h.9v.9h-.9zM388.3,457.3h.9v.9h-.9zM386.3,432.5h.9v.9h-.9zM401.5,428.6h.9v.9h-.9zM373.7,454.2h.9v.9h-.9zM399.4,441.1h.9v.9h-.9zM386.6,433.8h.9v.9h-.9zM394.5,413.0h.9v.9h-.9zM399.6,434.3h.9v.9h-.9zM382.7,445.5h.9v.9h-.9zM382.3,442.5h.9v.9h-.9zM388.3,439.9h.9v.9h-.9zM401.8,427.2h.9v.9h-.9zM385.3,441.5h.9v.9h-.9zM392.7,437.9h.9v.9h-.9zM385.0,447.2h.9v.9h-.9zM389.3,435.5h.9v.9h-.9zM391.9,446.8h.9v.9h-.9zM389.0,437.0h.9v.9h-.9zM379.0,442.4h.9v.9h-.9zM393.8,451.2h.9v.9h-.9zM397.3,440.9h.9v.9h-.9zM387.4,443.5h.9v.9h-.9zM393.1,444.7h.9v.9h-.9zM394.1,444.0h.9v.9h-.9zM387.3,450.4h.9v.9h-.9zM378.3,440.6h.9v.9h-.9zM394.4,455.4h.9v.9h-.9zM392.4,439.3h.9v.9h-.9zM386.2,427.1h.9v.9h-.9zM397.6,447.8h.9v.9h-.9zM385.5,456.0h.9v.9h-.9zM371.9,430.1h.9v.9h-.9zM392.4,452.6h.9v.9h-.9zM388.8,449.0h.9v.9h-.9zM380.6,437.4h.9v.9h-.9zM385.5,425.1h.9v.9h-.9zM409.6,449.5h.9v.9h-.9zM380.4,453.6h.9v.9h-.9zM388.7,425.7h.9v.9h-.9zM383.9,455.1h.9v.9h-.9zM395.3,427.9h.9v.9h-.9zM393.3,423.7h.9v.9h-.9zM393.3,446.8h.9v.9h-.9zM393.6,410.0h.9v.9h-.9zM382.4,446.8h.9v.9h-.9zM399.7,423.1h.9v.9h-.9zM382.4,454.4h.9v.9h-.9zM393.0,452.6h.9v.9h-.9zM380.4,454.3h.9v.9h-.9zM390.6,462.3h.9v.9h-.9zM400.0,453.0h.9v.9h-.9zM383.9,418.2h.9v.9h-.9zM389.1,439.8h.9v.9h-.9zM392.2,434.4h.9v.9h-.9zM382.2,424.5h.9v.9h-.9zM374.4,438.3h.9v.9h-.9zM386.1,451.9h.9v.9h-.9zM396.4,443.5h.9v.9h-.9zM382.5,435.9h.9v.9h-.9zM386.7,451.0h.9v.9h-.9zM385.5,439.9h.9v.9h-.9zM399.7,415.7h.9v.9h-.9zM386.0,436.8h.9v.9h-.9zM394.2,449.1h.9v.9h-.9zM392.3,447.6h.9v.9h-.9zM384.6,460.5h.9v.9h-.9zM396.8,448.5h.9v.9h-.9zM392.0,443.4h.9v.9h-.9zM393.5,445.9h.9v.9h-.9zM394.6,453.9h.9v.9h-.9zM400.1,443.6h.9v.9h-.9zM393.7,435.1h.9v.9h-.9zM387.9,433.7h.9v.9h-.9zM371.3,419.4h.9v.9h-.9zM388.4,438.6h.9v.9h-.9zM383.0,444.0h.9v.9h-.9zM380.7,445.8h.9v.9h-.9zM379.9,445.6h.9v.9h-.9zM379.0,445.6h.9v.9h-.9zM373.4,435.0h.9v.9h-.9zM383.3,439.3h.9v.9h-.9zM385.1,447.5h.9v.9h-.9zM388.6,435.0h.9v.9h-.9zM390.2,448.6h.9v.9h-.9zM385.6,416.5h.9v.9h-.9zM389.4,453.5h.9v.9h-.9zM389.3,449.7h.9v.9h-.9zM381.0,431.3h.9v.9h-.9zM369.9,456.9h.9v.9h-.9zM391.7,451.2h.9v.9h-.9zM381.2,436.8h.9v.9h-.9zM385.6,441.2h.9v.9h-.9zM390.3,444.9h.9v.9h-.9zM386.3,445.4h.9v.9h-.9zM392.1,445.7h.9v.9h-.9zM396.8,450.0h.9v.9h-.9zM391.2,430.9h.9v.9h-.9zM390.0,446.2h.9v.9h-.9zM385.0,444.0h.9v.9h-.9zM392.9,433.4h.9v.9h-.9zM400.3,443.3h.9v.9h-.9zM390.0,424.4h.9v.9h-.9zM388.7,431.5h.9v.9h-.9zM391.5,426.2h.9v.9h-.9zM395.5,435.1h.9v.9h-.9zM387.3,441.2h.9v.9h-.9zM391.4,444.9h.9v.9h-.9zM381.4,451.7h.9v.9h-.9zM392.1,439.4h.9v.9h-.9zM392.8,422.6h.9v.9h-.9zM383.4,445.2h.9v.9h-.9zM392.8,439.1h.9v.9h-.9zM376.5,435.4h.9v.9h-.9zM398.4,425.1h.9v.9h-.9zM382.7,456.9h.9v.9h-.9zM376.5,448.1h.9v.9h-.9zM389.6,421.9h.9v.9h-.9zM388.5,427.5h.9v.9h-.9zM376.3,437.2h.9v.9h-.9zM383.3,449.5h.9v.9h-.9zM380.7,419.6h.9v.9h-.9zM401.6,444.4h.9v.9h-.9zM381.7,441.7h.9v.9h-.9zM383.8,434.5h.9v.9h-.9zM384.5,438.9h.9v.9h-.9zM386.5,444.3h.9v.9h-.9zM384.8,444.9h.9v.9h-.9zM402.8,451.9h.9v.9h-.9zM377.1,437.0h.9v.9h-.9zM401.0,449.8h.9v.9h-.9zM390.2,434.5h.9v.9h-.9zM386.9,450.6h.9v.9h-.9zM385.4,457.5h.9v.9h-.9zM375.1,451.5h.9v.9h-.9zM392.7,435.7h.9v.9h-.9zM398.3,455.4h.9v.9h-.9zM385.9,436.7h.9v.9h-.9zM377.0,436.6h.9v.9h-.9zM396.0,439.2h.9v.9h-.9zM391.9,436.9h.9v.9h-.9zM387.6,433.8h.9v.9h-.9zM389.8,444.2h.9v.9h-.9zM404.0,412.0h.9v.9h-.9zM390.8,447.2h.9v.9h-.9zM382.9,462.4h.9v.9h-.9zM391.6,439.9h.9v.9h-.9zM380.4,423.1h.9v.9h-.9zM386.2,431.2h.9v.9h-.9zM386.9,436.1h.9v.9h-.9zM386.3,434.4h.9v.9h-.9zM373.5,452.9h.9v.9h-.9zM381.3,438.4h.9v.9h-.9zM384.3,460.9h.9v.9h-.9zM392.4,430.2h.9v.9h-.9zM387.4,442.4h.9v.9h-.9zM379.0,437.2h.9v.9h-.9zM388.4,430.5h.9v.9h-.9zM385.5,450.1h.9v.9h-.9zM401.3,428.0h.9v.9h-.9zM383.1,453.1h.9v.9h-.9zM397.5,438.5h.9v.9h-.9zM369.5,436.8h.9v.9h-.9zM393.3,438.7h.9v.9h-.9zM396.8,422.6h.9v.9h-.9zM399.4,438.4h.9v.9h-.9zM387.8,430.4h.9v.9h-.9zM378.8,453.8h.9v.9h-.9zM385.2,446.9h.9v.9h-.9zM381.9,433.0h.9v.9h-.9zM389.3,425.3h.9v.9h-.9zM383.1,436.2h.9v.9h-.9zM401.1,456.8h.9v.9h-.9zM384.5,434.5h.9v.9h-.9zM397.4,455.9h.9v.9h-.9zM383.1,444.7h.9v.9h-.9zM400.3,461.5h.9v.9h-.9zM391.9,435.4h.9v.9h-.9zM385.8,441.8h.9v.9h-.9zM384.6,457.2h.9v.9h-.9zM397.3,433.9h.9v.9h-.9zM386.6,449.5h.9v.9h-.9zM361.7,438.8h.9v.9h-.9zM391.1,434.3h.9v.9h-.9zM387.3,445.4h.9v.9h-.9zM396.7,431.6h.9v.9h-.9zM386.2,448.3h.9v.9h-.9zM395.1,432.0h.9v.9h-.9zM375.4,462.4h.9v.9h-.9zM394.0,443.0h.9v.9h-.9zM382.6,433.0h.9v.9h-.9zM397.3,428.1h.9v.9h-.9zM382.2,451.1h.9v.9h-.9zM379.8,450.6h.9v.9h-.9zM379.3,440.9h.9v.9h-.9zM389.8,441.0h.9v.9h-.9zM390.4,450.1h.9v.9h-.9zM401.3,436.4h.9v.9h-.9zM404.2,443.7h.9v.9h-.9zM407.0,435.2h.9v.9h-.9zM376.4,425.1h.9v.9h-.9zM391.2,440.0h.9v.9h-.9zM376.1,422.8h.9v.9h-.9zM391.4,413.3h.9v.9h-.9zM386.0,450.2h.9v.9h-.9zM387.1,448.2h.9v.9h-.9zM389.4,404.8h.9v.9h-.9zM379.1,448.7h.9v.9h-.9zM392.4,449.8h.9v.9h-.9zM385.6,426.9h.9v.9h-.9zM373.1,455.9h.9v.9h-.9zM391.1,445.3h.9v.9h-.9zM398.8,434.7h.9v.9h-.9zM368.9,429.3h.9v.9h-.9zM389.9,446.4h.9v.9h-.9zM388.2,446.0h.9v.9h-.9zM389.6,426.3h.9v.9h-.9zM394.4,456.6h.9v.9h-.9zM378.1,427.2h.9v.9h-.9zM386.6,448.9h.9v.9h-.9zM395.0,417.1h.9v.9h-.9zM387.2,442.6h.9v.9h-.9zM397.2,423.7h.9v.9h-.9zM389.2,452.6h.9v.9h-.9zM386.0,433.2h.9v.9h-.9zM386.9,438.7h.9v.9h-.9zM388.9,428.3h.9v.9h-.9zM387.5,432.5h.9v.9h-.9zM394.6,448.3h.9v.9h-.9zM385.7,457.4h.9v.9h-.9zM394.1,439.5h.9v.9h-.9zM387.9,438.9h.9v.9h-.9zM376.9,441.1h.9v.9h-.9zM388.5,434.0h.9v.9h-.9zM399.2,417.9h.9v.9h-.9zM391.6,428.8h.9v.9h-.9zM379.3,437.9h.9v.9h-.9zM397.2,445.7h.9v.9h-.9zM391.7,447.7h.9v.9h-.9zM393.4,429.7h.9v.9h-.9zM388.5,406.2h.9v.9h-.9zM393.9,440.3h.9v.9h-.9zM376.3,435.9h.9v.9h-.9zM377.3,460.1h.9v.9h-.9zM387.9,440.2h.9v.9h-.9zM392.5,429.0h.9v.9h-.9zM406.2,421.9h.9v.9h-.9zM383.1,447.9h.9v.9h-.9zM383.6,437.6h.9v.9h-.9zM381.5,456.7h.9v.9h-.9zM397.3,431.8h.9v.9h-.9zM391.0,439.7h.9v.9h-.9zM386.9,440.8h.9v.9h-.9zM392.4,445.9h.9v.9h-.9zM385.4,450.0h.9v.9h-.9zM382.2,428.3h.9v.9h-.9zM407.4,434.3h.9v.9h-.9zM391.1,426.9h.9v.9h-.9zM383.4,448.5h.9v.9h-.9zM394.9,438.2h.9v.9h-.9zM390.5,449.9h.9v.9h-.9zM398.6,416.3h.9v.9h-.9zM383.8,463.5h.9v.9h-.9zM389.0,437.2h.9v.9h-.9zM384.6,420.9h.9v.9h-.9zM386.0,436.5h.9v.9h-.9zM396.0,430.7h.9v.9h-.9zM382.3,449.3h.9v.9h-.9zM390.6,445.6h.9v.9h-.9zM401.0,442.1h.9v.9h-.9zM382.8,434.2h.9v.9h-.9zM380.1,440.8h.9v.9h-.9zM376.6,429.3h.9v.9h-.9zM381.3,422.8h.9v.9h-.9zM390.1,417.1h.9v.9h-.9zM396.5,461.5h.9v.9h-.9zM381.6,426.3h.9v.9h-.9zM389.8,437.5h.9v.9h-.9zM398.3,452.1h.9v.9h-.9zM380.6,438.3h.9v.9h-.9zM392.0,432.8h.9v.9h-.9zM405.6,428.4h.9v.9h-.9zM395.9,438.8h.9v.9h-.9zM397.9,410.6h.9v.9h-.9zM389.5,455.5h.9v.9h-.9zM387.4,414.2h.9v.9h-.9zM404.7,446.4h.9v.9h-.9zM381.2,417.1h.9v.9h-.9zM384.9,427.3h.9v.9h-.9zM395.2,422.2h.9v.9h-.9zM373.3,418.1h.9v.9h-.9zM387.5,423.6h.9v.9h-.9zM377.3,441.0h.9v.9h-.9zM383.2,435.2h.9v.9h-.9zM406.4,430.4h.9v.9h-.9zM392.9,435.4h.9v.9h-.9zM387.6,441.5h.9v.9h-.9zM382.3,459.7h.9v.9h-.9zM389.6,437.2h.9v.9h-.9zM390.7,438.4h.9v.9h-.9zM385.9,430.5h.9v.9h-.9zM380.4,420.0h.9v.9h-.9zM395.1,418.3h.9v.9h-.9zM381.0,450.1h.9v.9h-.9zM399.7,439.5h.9v.9h-.9zM394.4,435.0h.9v.9h-.9zM376.7,417.0h.9v.9h-.9zM383.2,444.5h.9v.9h-.9zM394.6,443.0h.9v.9h-.9zM393.9,452.3h.9v.9h-.9zM394.2,429.3h.9v.9h-.9zM392.0,443.6h.9v.9h-.9zM385.5,424.0h.9v.9h-.9zM389.0,444.2h.9v.9h-.9zM390.7,426.5h.9v.9h-.9zM389.5,448.0h.9v.9h-.9zM397.7,417.5h.9v.9h-.9zM397.1,442.6h.9v.9h-.9zM387.8,431.0h.9v.9h-.9zM393.2,429.6h.9v.9h-.9zM381.0,440.4h.9v.9h-.9zM378.5,441.5h.9v.9h-.9zM389.1,431.0h.9v.9h-.9zM373.3,445.8h.9v.9h-.9zM398.0,421.9h.9v.9h-.9zM393.7,430.5h.9v.9h-.9zM397.6,450.1h.9v.9h-.9zM386.7,444.1h.9v.9h-.9zM386.0,446.8h.9v.9h-.9zM385.8,447.2h.9v.9h-.9zM383.2,451.1h.9v.9h-.9zM389.7,450.8h.9v.9h-.9zM384.5,440.9h.9v.9h-.9zM391.1,435.2h.9v.9h-.9zM391.4,435.7h.9v.9h-.9zM385.3,436.0h.9v.9h-.9zM406.8,450.6h.9v.9h-.9zM395.7,436.0h.9v.9h-.9zM396.1,438.4h.9v.9h-.9zM392.0,442.4h.9v.9h-.9zM390.2,451.8h.9v.9h-.9zM386.0,441.7h.9v.9h-.9zM389.6,444.8h.9v.9h-.9zM395.2,437.0h.9v.9h-.9zM403.6,436.3h.9v.9h-.9zM394.8,442.1h.9v.9h-.9zM387.0,445.9h.9v.9h-.9zM394.2,456.9h.9v.9h-.9zM385.2,452.1h.9v.9h-.9zM396.8,431.6h.9v.9h-.9zM382.9,448.8h.9v.9h-.9zM366.8,436.4h.9v.9h-.9zM381.6,455.1h.9v.9h-.9zM404.0,433.7h.9v.9h-.9zM387.5,424.9h.9v.9h-.9zM378.3,434.5h.9v.9h-.9zM394.0,420.3h.9v.9h-.9zM391.7,425.4h.9v.9h-.9zM365.9,457.7h.9v.9h-.9zM403.3,427.9h.9v.9h-.9zM379.0,438.1h.9v.9h-.9zM382.6,448.1h.9v.9h-.9zM390.0,438.8h.9v.9h-.9zM397.1,434.6h.9v.9h-.9zM386.6,446.0h.9v.9h-.9zM382.5,431.6h.9v.9h-.9zM375.8,424.9h.9v.9h-.9zM379.8,437.9h.9v.9h-.9zM390.3,438.0h.9v.9h-.9zM388.1,447.9h.9v.9h-.9zM384.9,440.5h.9v.9h-.9zM396.7,423.9h.9v.9h-.9zM385.4,461.9h.9v.9h-.9zM384.1,443.3h.9v.9h-.9zM387.0,443.4h.9v.9h-.9zM382.9,433.4h.9v.9h-.9zM381.1,453.6h.9v.9h-.9zM399.6,440.7h.9v.9h-.9zM383.0,441.9h.9v.9h-.9zM393.9,438.0h.9v.9h-.9zM375.9,453.5h.9v.9h-.9zM386.3,425.6h.9v.9h-.9zM376.1,450.2h.9v.9h-.9zM392.2,422.8h.9v.9h-.9zM373.4,451.1h.9v.9h-.9zM399.4,437.2h.9v.9h-.9zM385.6,453.0h.9v.9h-.9zM390.3,428.2h.9v.9h-.9zM370.9,461.4h.9v.9h-.9zM398.0,421.2h.9v.9h-.9zM399.6,441.9h.9v.9h-.9zM376.2,451.5h.9v.9h-.9zM395.0,430.0h.9v.9h-.9zM386.9,439.6h.9v.9h-.9zM399.2,434.0h.9v.9h-.9zM402.8,428.5h.9v.9h-.9zM396.4,428.1h.9v.9h-.9zM394.9,435.0h.9v.9h-.9zM388.4,427.5h.9v.9h-.9zM405.4,437.6h.9v.9h-.9zM389.3,447.4h.9v.9h-.9zM383.9,454.4h.9v.9h-.9zM392.0,449.1h.9v.9h-.9zM393.6,424.1h.9v.9h-.9zM370.0,449.2h.9v.9h-.9zM373.4,430.7h.9v.9h-.9zM392.9,442.8h.9v.9h-.9zM394.9,447.0h.9v.9h-.9zM397.2,434.3h.9v.9h-.9zM387.8,442.4h.9v.9h-.9zM400.5,414.0h.9v.9h-.9zM398.5,441.0h.9v.9h-.9zM396.6,423.5h.9v.9h-.9zM394.7,437.9h.9v.9h-.9zM393.3,437.3h.9v.9h-.9zM379.2,451.1h.9v.9h-.9zM379.4,437.8h.9v.9h-.9zM385.4,449.7h.9v.9h-.9zM383.2,439.1h.9v.9h-.9zM393.6,439.2h.9v.9h-.9zM384.6,450.7h.9v.9h-.9zM390.1,435.2h.9v.9h-.9zM381.9,418.4h.9v.9h-.9zM391.2,435.4h.9v.9h-.9zM383.4,446.7h.9v.9h-.9zM381.8,439.7h.9v.9h-.9zM395.0,430.7h.9v.9h-.9zM388.9,441.9h.9v.9h-.9zM404.9,441.6h.9v.9h-.9zM383.0,454.4h.9v.9h-.9zM403.2,420.6h.9v.9h-.9zM391.9,437.6h.9v.9h-.9zM377.2,446.6h.9v.9h-.9zM390.4,449.0h.9v.9h-.9zM381.7,439.9h.9v.9h-.9zM387.5,431.6h.9v.9h-.9zM392.4,428.5h.9v.9h-.9zM382.8,441.1h.9v.9h-.9zM383.9,404.8h.9v.9h-.9zM385.3,451.0h.9v.9h-.9zM394.0,431.6h.9v.9h-.9zM378.4,428.1h.9v.9h-.9zM397.6,438.4h.9v.9h-.9zM371.4,468.5h.9v.9h-.9zM395.4,450.1h.9v.9h-.9zM381.4,435.1h.9v.9h-.9zM403.4,433.2h.9v.9h-.9zM388.3,440.0h.9v.9h-.9zM396.1,427.4h.9v.9h-.9zM376.8,441.2h.9v.9h-.9zM390.7,445.7h.9v.9h-.9zM398.3,430.7h.9v.9h-.9zM400.1,450.6h.9v.9h-.9zM418.2,446.6h.9v.9h-.9zM389.0,448.3h.9v.9h-.9zM390.3,459.8h.9v.9h-.9zM388.2,413.4h.9v.9h-.9zM399.4,438.5h.9v.9h-.9zM393.5,425.4h.9v.9h-.9zM380.3,450.5h.9v.9h-.9zM378.7,438.8h.9v.9h-.9zM398.4,427.4h.9v.9h-.9zM380.9,441.5h.9v.9h-.9zM389.8,439.7h.9v.9h-.9zM386.2,426.5h.9v.9h-.9zM397.0,439.5h.9v.9h-.9zM383.4,445.1h.9v.9h-.9zM397.6,400.7h.9v.9h-.9zM398.3,446.9h.9v.9h-.9zM393.0,441.2h.9v.9h-.9zM382.6,437.6h.9v.9h-.9zM405.1,438.9h.9v.9h-.9zM390.2,436.6h.9v.9h-.9zM380.9,462.7h.9v.9h-.9zM386.2,434.3h.9v.9h-.9zM389.9,429.8h.9v.9h-.9zM385.2,426.2h.9v.9h-.9zM390.1,421.9h.9v.9h-.9zM398.0,416.2h.9v.9h-.9zM393.1,428.4h.9v.9h-.9zM359.9,443.5h.9v.9h-.9zM381.5,435.7h.9v.9h-.9zM402.9,425.7h.9v.9h-.9zM403.3,423.5h.9v.9h-.9zM383.9,465.6h.9v.9h-.9zM379.6,442.3h.9v.9h-.9zM393.4,435.6h.9v.9h-.9zM394.6,420.3h.9v.9h-.9zM373.9,456.1h.9v.9h-.9zM397.0,424.0h.9v.9h-.9zM371.6,438.8h.9v.9h-.9zM397.3,430.6h.9v.9h-.9zM392.9,424.9h.9v.9h-.9zM389.0,432.5h.9v.9h-.9zM398.8,421.5h.9v.9h-.9zM378.1,462.4h.9v.9h-.9zM394.8,440.3h.9v.9h-.9zM390.5,453.2h.9v.9h-.9zM382.6,448.5h.9v.9h-.9zM397.9,442.9h.9v.9h-.9zM383.5,454.6h.9v.9h-.9zM383.9,458.2h.9v.9h-.9zM394.2,451.9h.9v.9h-.9zM377.5,436.8h.9v.9h-.9zM395.2,422.0h.9v.9h-.9zM386.0,460.3h.9v.9h-.9zM389.3,430.9h.9v.9h-.9zM376.6,455.2h.9v.9h-.9zM378.3,442.6h.9v.9h-.9zM376.0,452.0h.9v.9h-.9zM396.4,418.2h.9v.9h-.9zM388.6,434.0h.9v.9h-.9zM409.5,436.9h.9v.9h-.9zM388.3,429.2h.9v.9h-.9zM391.1,450.1h.9v.9h-.9zM394.5,439.9h.9v.9h-.9zM385.7,431.1h.9v.9h-.9zM414.5,434.4h.9v.9h-.9zM410.7,436.8h.9v.9h-.9zM385.0,431.1h.9v.9h-.9zM376.5,434.0h.9v.9h-.9zM381.8,447.9h.9v.9h-.9zM387.0,438.7h.9v.9h-.9zM388.4,447.1h.9v.9h-.9zM390.0,408.4h.9v.9h-.9zM389.7,455.3h.9v.9h-.9zM357.5,452.0h.9v.9h-.9zM391.5,442.3h.9v.9h-.9zM380.1,440.1h.9v.9h-.9zM396.2,427.1h.9v.9h-.9zM378.6,435.6h.9v.9h-.9zM397.6,431.1h.9v.9h-.9zM389.4,449.3h.9v.9h-.9zM388.4,454.7h.9v.9h-.9zM390.7,433.1h.9v.9h-.9zM385.6,431.9h.9v.9h-.9zM393.3,436.5h.9v.9h-.9zM391.6,447.5h.9v.9h-.9z" fill="#3552c4" opacity="0.8"/>
<ellipse cx="390.4" cy="438.6" rx="5.8" ry="12.5" fill="#f3df8c" opacity="0.95" filter="url(#bl9)" transform="rotate(14 390.4 438.6)"/>
<ellipse cx="391.0" cy="437.8" rx="4.0" ry="10.0" fill="#f0a448" opacity="0.95" filter="url(#bl8)" transform="rotate(14 391.0 437.8)"/>
<ellipse cx="391.5" cy="437.2" rx="2.4" ry="7.2" fill="#dc3a24" opacity="1.0" filter="url(#bl7)" transform="rotate(14 391.5 437.2)"/>
<ellipse cx="391.8" cy="436.6" rx="1.4" ry="5.0" fill="#a9141b" opacity="1.0" filter="url(#bl6)" transform="rotate(14 391.8 436.6)"/>
<line x1="355.40" y1="429.50" x2="430.50" y2="429.50" stroke="#333" stroke-width="0.75"/>
<line x1="355.40" y1="436.50" x2="430.50" y2="436.50" stroke="#333" stroke-width="0.75"/>
<line x1="355.40" y1="432.60" x2="430.50" y2="432.60" stroke="#555" stroke-width="0.6" stroke-dasharray="2,1"/>
<line x1="389.50" y1="393.40" x2="389.50" y2="472.00" stroke="#333" stroke-width="0.75"/>
<line x1="396.50" y1="393.40" x2="396.50" y2="472.00" stroke="#333" stroke-width="0.75"/>
<line x1="392.70" y1="393.40" x2="392.70" y2="472.00" stroke="#555" stroke-width="0.6" stroke-dasharray="2,1"/>
<line x1="355.40" y1="394.50" x2="355.40" y2="472.00" stroke="#444" stroke-width="0.7"/>
<line x1="355.40" y1="472.00" x2="430.50" y2="472.00" stroke="#444" stroke-width="0.7"/>
<line x1="353.40" y1="397.05" x2="355.40" y2="397.05" stroke="#444" stroke-width="0.6"/>
<text x="352.40" y="399.65" font-size="7.25" text-anchor="end" stroke="#231f20">5.0</text>
<line x1="427.50" y1="472.00" x2="427.50" y2="474.00" stroke="#444" stroke-width="0.6"/>
<text x="427.50" y="480.80" font-size="7.25" text-anchor="middle" stroke="#231f20">5.0</text>
<line x1="353.40" y1="414.72" x2="355.40" y2="414.72" stroke="#444" stroke-width="0.6"/>
<text x="352.40" y="417.32" font-size="7.25" text-anchor="end" stroke="#231f20">2.5</text>
<line x1="410.00" y1="472.00" x2="410.00" y2="474.00" stroke="#444" stroke-width="0.6"/>
<text x="410.00" y="480.80" font-size="7.25" text-anchor="middle" stroke="#231f20">2.5</text>
<line x1="353.40" y1="432.40" x2="355.40" y2="432.40" stroke="#444" stroke-width="0.6"/>
<text x="352.40" y="435.00" font-size="7.25" text-anchor="end" stroke="#231f20">0.0</text>
<line x1="392.50" y1="472.00" x2="392.50" y2="474.00" stroke="#444" stroke-width="0.6"/>
<text x="392.50" y="480.80" font-size="7.25" text-anchor="middle" stroke="#231f20">0.0</text>
<line x1="353.40" y1="450.07" x2="355.40" y2="450.07" stroke="#444" stroke-width="0.6"/>
<text x="352.40" y="452.68" font-size="7.25" text-anchor="end" stroke="#231f20">−2.5</text>
<line x1="375.00" y1="472.00" x2="375.00" y2="474.00" stroke="#444" stroke-width="0.6"/>
<text x="375.00" y="480.80" font-size="7.25" text-anchor="middle" stroke="#231f20">−2.5</text>
<line x1="353.40" y1="467.75" x2="355.40" y2="467.75" stroke="#444" stroke-width="0.6"/>
<text x="352.40" y="470.35" font-size="7.25" text-anchor="end" stroke="#231f20">−5.0</text>
<line x1="357.50" y1="472.00" x2="357.50" y2="474.00" stroke="#444" stroke-width="0.6"/>
<text x="357.50" y="480.80" font-size="7.25" text-anchor="middle" stroke="#231f20">−5.0</text>
<text x="357.20" y="400.50" font-size="7.25" stroke="#231f20">4.7%</text>
<text x="413.30" y="400.80" font-size="7.25" stroke="#231f20">2.7%</text>
<text x="357.20" y="470.30" font-size="7.0" font-weight="bold" fill="#a3202c" stroke="#a3202c">34.8%</text>
<text x="413.30" y="470.30" font-size="7.25" stroke="#231f20">3.9%</text>
<text x="392.90" y="489.10" font-size="7.25" text-anchor="middle" stroke="#231f20"><tspan font-style="italic">ZIC2</tspan><tspan font-size="4.3" baseline-shift="2.9" stroke="none" font-style="normal">-/-</tspan><tspan font-style="italic">ZIC3</tspan><tspan font-size="4.3" baseline-shift="2.9" stroke="none" font-style="normal">-/-</tspan> vs WT</text>
<text x="392.90" y="496.40" font-size="7.25" text-anchor="middle" stroke="#231f20">log<tspan font-size="4.0" baseline-shift="-1.6" stroke="none" font-style="normal">2</tspan> ATAC ratio</text>
<text x="327.30" y="436.60" font-size="7.25" text-anchor="middle" stroke="#231f20" transform="rotate(-90 327.30 436.60)"><tspan font-style="italic">ZIC2</tspan><tspan font-size="4.3" baseline-shift="2.9" stroke="none" font-style="normal">-/-</tspan><tspan font-style="italic">ZIC3</tspan><tspan font-size="4.3" baseline-shift="2.9" stroke="none" font-style="normal">-/-</tspan> vs WT</text>
<text x="334.00" y="436.20" font-size="7.25" text-anchor="middle" stroke="#231f20" transform="rotate(-90 334.00 436.20)">log<tspan font-size="4.0" baseline-shift="-1.6" stroke="none" font-style="normal">2</tspan> BRG1 ratio</text>
<text x="428.00" y="422.10" font-size="7.25" stroke="#231f20">Density</text>
<rect x="435.40" y="426.00" width="3.00" height="13.30" fill="url(#dens)"/>
<line x1="442.00" y1="439.50" x2="442.00" y2="427.50" stroke="#111" stroke-width="0.8"/>
<path d="M440.2,429.6 L442,426.2 L443.8,429.6 Z" fill="#111"/>
<text x="462.40" y="392.50" font-size="10" font-weight="bold" fill="#000" stroke="#000">m</text>
<text x="517.50" y="388.80" font-size="7.25" stroke="#231f20">chr2</text>
<text x="515.90" y="396.70" font-size="7.25" stroke="#231f20">201,980 kb</text>
<text x="585.60" y="396.70" font-size="7.25" stroke="#231f20">202,015 kb</text>
<text x="645.50" y="396.70" font-size="7.25" stroke="#231f20">202,050 kb</text>
<line x1="523.70" y1="400.60" x2="669.10" y2="400.60" stroke="#231f20" stroke-width="0.7"/>
<line x1="523.70" y1="397.60" x2="523.70" y2="400.60" stroke="#231f20" stroke-width="0.6"/>
<line x1="596.40" y1="397.60" x2="596.40" y2="400.60" stroke="#231f20" stroke-width="0.6"/>
<line x1="669.10" y1="397.60" x2="669.10" y2="400.60" stroke="#231f20" stroke-width="0.6"/>
<rect x="521.20" y="404.00" width="152.80" height="85.50" fill="#f6f6f7"/>
<rect x="553.20" y="404.00" width="6.90" height="85.50" fill="#cde2d9"/>
<path d="M522.00,420.80v-0.49M522.50,420.80v-0.42M523.50,420.80v-0.69M524.50,420.80v-1.40M525.00,420.80v-0.61M526.50,420.80v-1.17M531.50,420.80v-0.88M532.00,420.80v-0.92M532.50,420.80v-0.72M533.00,420.80v-0.40M533.50,420.80v-0.72M536.00,420.80v-0.42M537.00,420.80v-0.32M538.50,420.80v-0.54M539.50,420.80v-0.89M540.00,420.80v-0.19M540.50,420.80v-1.33M541.00,420.80v-0.59M541.50,420.80v-0.15M542.50,420.80v-0.60M544.00,420.80v-0.51M544.50,420.80v-0.15M545.00,420.80v-1.68M546.00,420.80v-0.49M547.00,420.80v-0.28M548.00,420.80v-0.28M549.00,420.80v-0.47M550.00,420.80v-0.74M552.50,420.80v-0.41M553.00,420.80v-0.24M553.50,420.80v-0.39M556.00,420.80v-0.57M556.50,420.80v-2.94M557.00,420.80v-7.35M557.50,420.80v-7.64M558.00,420.80v-4.42M558.50,420.80v-1.10M559.50,420.80v-0.25M560.00,420.80v-0.66M561.00,420.80v-0.61M562.00,420.80v-0.16M563.00,420.80v-0.33M564.50,420.80v-0.54M566.00,420.80v-0.90M567.50,420.80v-0.30M568.50,420.80v-0.34M570.50,420.80v-0.50M571.50,420.80v-0.36M572.00,420.80v-0.98M573.00,420.80v-0.47M574.50,420.80v-0.59M575.00,420.80v-0.76M575.50,420.80v-0.21M578.00,420.80v-0.69M578.50,420.80v-0.28M579.00,420.80v-1.05M580.00,420.80v-1.29M581.00,420.80v-0.33M582.00,420.80v-0.62M583.00,420.80v-1.57M584.00,420.80v-0.99M584.50,420.80v-1.30M585.00,420.80v-0.27M586.00,420.80v-0.69M587.00,420.80v-0.48M592.50,420.80v-0.70M593.00,420.80v-0.60M597.00,420.80v-1.95M597.50,420.80v-0.83M598.00,420.80v-1.75M598.50,420.80v-0.35M601.00,420.80v-0.90M602.00,420.80v-0.80M603.00,420.80v-0.24M603.50,420.80v-0.40M605.00,420.80v-0.17M605.50,420.80v-1.75M606.00,420.80v-1.52M608.00,420.80v-0.20M610.00,420.80v-0.26M611.00,420.80v-0.35M611.50,420.80v-1.85M612.00,420.80v-1.58M612.50,420.80v-2.45M613.00,420.80v-4.57M613.50,420.80v-6.33M614.00,420.80v-9.12M614.50,420.80v-6.47M615.00,420.80v-2.05M615.50,420.80v-0.41M616.50,420.80v-0.95M618.00,420.80v-0.89M619.00,420.80v-1.30M620.00,420.80v-0.34M621.00,420.80v-0.84M622.00,420.80v-0.66M622.50,420.80v-0.45M623.50,420.80v-1.07M625.00,420.80v-0.71M625.50,420.80v-0.90M626.00,420.80v-1.59M626.50,420.80v-0.39M627.00,420.80v-1.52M627.50,420.80v-1.83M628.00,420.80v-1.67M628.50,420.80v-0.95M629.00,420.80v-0.50M629.50,420.80v-0.81M630.00,420.80v-0.88M630.50,420.80v-2.23M631.00,420.80v-1.92M631.50,420.80v-2.68M632.00,420.80v-3.00M632.50,420.80v-3.97M633.00,420.80v-2.30M633.50,420.80v-3.83M634.00,420.80v-4.91M634.50,420.80v-6.27M635.00,420.80v-6.24M635.50,420.80v-9.83M636.00,420.80v-9.51M636.50,420.80v-4.89M637.00,420.80v-5.06M637.50,420.80v-6.78M638.00,420.80v-6.95M638.50,420.80v-4.30M639.00,420.80v-4.00M639.50,420.80v-5.10M640.00,420.80v-3.64M640.50,420.80v-2.92M641.00,420.80v-3.45M641.50,420.80v-2.75M642.00,420.80v-2.00M642.50,420.80v-0.93M643.00,420.80v-0.26M643.50,420.80v-0.73M645.00,420.80v-0.36M646.00,420.80v-1.67M646.50,420.80v-2.03M647.00,420.80v-3.18M647.50,420.80v-4.26M648.00,420.80v-2.18M648.50,420.80v-0.38M649.50,420.80v-1.64M650.50,420.80v-0.34M651.00,420.80v-0.49M652.00,420.80v-1.22M653.00,420.80v-0.30M654.00,420.80v-0.96M655.00,420.80v-0.21M656.00,420.80v-0.59M657.00,420.80v-1.23M658.00,420.80v-0.71M659.50,420.80v-1.15M660.50,420.80v-0.20M662.00,420.80v-0.35M663.00,420.80v-0.74M670.50,420.80v-0.76M672.50,420.80v-0.66" fill="none" stroke="#e6283f" stroke-width="0.55"/>
<line x1="521.50" y1="420.80" x2="673.50" y2="420.80" stroke="#e6283f" stroke-width="0.6"/>
<path d="M521.50,437.90v-0.33M522.50,437.90v-1.71M523.00,437.90v-1.31M524.00,437.90v-0.67M524.50,437.90v-0.40M525.50,437.90v-0.85M527.00,437.90v-1.83M528.00,437.90v-0.89M529.00,437.90v-0.48M530.00,437.90v-0.94M530.50,437.90v-0.60M532.50,437.90v-0.21M535.50,437.90v-1.14M537.00,437.90v-1.79M537.50,437.90v-1.95M538.50,437.90v-0.30M539.50,437.90v-0.40M541.50,437.90v-0.25M543.00,437.90v-1.38M544.50,437.90v-0.49M546.50,437.90v-0.80M550.00,437.90v-0.41M551.50,437.90v-0.34M553.00,437.90v-0.26M554.50,437.90v-0.54M555.50,437.90v-0.44M556.00,437.90v-0.80M556.50,437.90v-1.63M557.00,437.90v-2.61M557.50,437.90v-2.82M558.00,437.90v-1.40M558.50,437.90v-1.20M559.00,437.90v-1.30M559.50,437.90v-2.13M560.50,437.90v-0.56M562.50,437.90v-0.66M564.00,437.90v-1.11M564.50,437.90v-1.09M565.00,437.90v-0.97M566.50,437.90v-0.31M569.00,437.90v-0.83M570.50,437.90v-0.94M572.00,437.90v-0.31M576.00,437.90v-0.47M577.00,437.90v-0.45M578.00,437.90v-0.47M578.50,437.90v-0.22M579.50,437.90v-0.56M580.50,437.90v-2.04M581.00,437.90v-1.18M581.50,437.90v-0.82M583.50,437.90v-0.64M584.50,437.90v-0.60M585.50,437.90v-0.89M587.50,437.90v-0.85M589.00,437.90v-0.82M589.50,437.90v-1.19M590.50,437.90v-0.40M591.50,437.90v-1.14M593.00,437.90v-1.67M594.00,437.90v-0.78M594.50,437.90v-1.43M595.00,437.90v-0.34M597.50,437.90v-0.18M598.00,437.90v-1.66M598.50,437.90v-0.49M599.00,437.90v-0.34M599.50,437.90v-0.89M600.50,437.90v-1.39M601.00,437.90v-0.36M601.50,437.90v-1.00M604.00,437.90v-0.61M604.50,437.90v-0.19M605.00,437.90v-0.40M605.50,437.90v-3.29M606.00,437.90v-0.66M606.50,437.90v-1.23M607.00,437.90v-1.59M608.00,437.90v-0.62M608.50,437.90v-0.29M610.00,437.90v-0.30M610.50,437.90v-0.63M611.00,437.90v-0.42M611.50,437.90v-1.99M612.00,437.90v-1.85M612.50,437.90v-2.61M613.00,437.90v-3.32M613.50,437.90v-6.15M614.00,437.90v-8.61M614.50,437.90v-5.33M615.00,437.90v-0.83M615.50,437.90v-0.46M616.50,437.90v-0.78M617.00,437.90v-0.61M618.00,437.90v-0.57M620.00,437.90v-0.44M620.50,437.90v-0.83M621.50,437.90v-0.92M622.00,437.90v-0.34M624.50,437.90v-0.53M625.00,437.90v-0.59M625.50,437.90v-0.85M627.50,437.90v-0.26M628.50,437.90v-0.16M629.00,437.90v-0.61M629.50,437.90v-0.92M630.00,437.90v-1.84M630.50,437.90v-2.68M631.00,437.90v-3.17M631.50,437.90v-2.25M632.00,437.90v-3.43M632.50,437.90v-1.65M633.00,437.90v-3.31M633.50,437.90v-4.88M634.00,437.90v-6.05M634.50,437.90v-4.92M635.00,437.90v-7.30M635.50,437.90v-13.87M636.00,437.90v-6.57M636.50,437.90v-5.66M637.00,437.90v-8.79M637.50,437.90v-5.66M638.00,437.90v-2.73M638.50,437.90v-2.08M639.00,437.90v-3.91M639.50,437.90v-7.01M640.00,437.90v-3.95M640.50,437.90v-2.16M641.00,437.90v-1.63M641.50,437.90v-3.48M642.00,437.90v-4.63M642.50,437.90v-2.40M643.00,437.90v-1.35M643.50,437.90v-0.33M644.00,437.90v-0.55M644.50,437.90v-0.19M645.00,437.90v-0.81M645.50,437.90v-1.10M646.00,437.90v-2.19M646.50,437.90v-2.93M647.00,437.90v-3.93M647.50,437.90v-6.73M648.00,437.90v-9.92M648.50,437.90v-5.10M649.00,437.90v-1.00M649.50,437.90v-0.50M650.00,437.90v-0.16M650.50,437.90v-0.28M651.00,437.90v-1.53M652.50,437.90v-0.68M653.00,437.90v-0.68M653.50,437.90v-0.38M655.00,437.90v-0.75M656.50,437.90v-1.32M657.50,437.90v-0.85M658.50,437.90v-0.49M659.00,437.90v-0.28M659.50,437.90v-0.84M660.00,437.90v-1.10M661.00,437.90v-0.29M661.50,437.90v-1.20M662.50,437.90v-1.62M663.00,437.90v-0.21M665.00,437.90v-1.31M667.50,437.90v-1.55M668.00,437.90v-0.86M670.00,437.90v-0.39M671.00,437.90v-0.32M673.00,437.90v-0.55" fill="none" stroke="#3d4fb2" stroke-width="0.55"/>
<line x1="521.50" y1="437.90" x2="673.50" y2="437.90" stroke="#3d4fb2" stroke-width="0.6"/>
<path d="M521.50,455.20v-0.27M528.00,455.20v-0.26M531.00,455.20v-0.17M533.50,455.20v-0.15M537.50,455.20v-0.19M540.00,455.20v-0.15M540.50,455.20v-0.17M541.50,455.20v-0.24M543.00,455.20v-0.26M545.50,455.20v-0.34M548.50,455.20v-0.22M552.00,455.20v-0.20M555.00,455.20v-0.42M555.50,455.20v-1.24M556.00,455.20v-2.57M556.50,455.20v-4.59M557.00,455.20v-14.28M557.50,455.20v-15.98M558.00,455.20v-3.16M558.50,455.20v-0.55M559.00,455.20v-0.24M560.50,455.20v-0.21M561.00,455.20v-0.21M561.50,455.20v-0.21M564.00,455.20v-0.18M565.50,455.20v-0.44M571.00,455.20v-0.32M572.00,455.20v-0.19M591.00,455.20v-0.25M597.50,455.20v-0.18M604.50,455.20v-0.22M605.00,455.20v-0.21M609.00,455.20v-0.24M609.50,455.20v-0.19M611.50,455.20v-0.38M612.00,455.20v-0.42M612.50,455.20v-1.00M613.00,455.20v-1.71M613.50,455.20v-2.67M614.00,455.20v-7.84M614.50,455.20v-5.81M615.00,455.20v-0.78M617.00,455.20v-0.23M624.00,455.20v-0.20M624.50,455.20v-0.17M627.00,455.20v-0.29M628.00,455.20v-0.30M631.50,455.20v-0.80M632.00,455.20v-3.52M632.50,455.20v-0.83M633.00,455.20v-0.25M635.00,455.20v-1.05M635.50,455.20v-5.08M636.00,455.20v-1.05M636.50,455.20v-0.17M637.50,455.20v-0.74M638.00,455.20v-2.07M638.50,455.20v-0.74M642.00,455.20v-0.37M642.50,455.20v-0.16M643.50,455.20v-0.17M644.50,455.20v-0.63M645.00,455.20v-3.31M645.50,455.20v-0.79M646.50,455.20v-0.26M647.50,455.20v-0.71M648.00,455.20v-3.04M648.50,455.20v-0.77M652.00,455.20v-0.20M654.00,455.20v-0.24M656.00,455.20v-0.17M656.50,455.20v-0.16M657.50,455.20v-0.24M660.00,455.20v-0.28M666.50,455.20v-0.28M669.00,455.20v-0.25M670.50,455.20v-0.23M671.50,455.20v-0.15M672.00,455.20v-0.15M673.00,455.20v-0.21" fill="none" stroke="#e6283f" stroke-width="0.55"/>
<line x1="521.50" y1="455.20" x2="673.50" y2="455.20" stroke="#e6283f" stroke-width="0.6"/>
<path d="M556.00,472.30v-0.42M556.50,472.30v-2.00M557.00,472.30v-0.42M596.00,472.30v-1.10M596.50,472.30v-2.82M597.00,472.30v-0.32M602.50,472.30v-0.21M603.00,472.30v-1.00M603.50,472.30v-0.21M605.50,472.30v-0.21M606.00,472.30v-1.00M606.50,472.30v-0.21M613.50,472.30v-0.15M614.00,472.30v-1.40M614.50,472.30v-1.70M615.00,472.30v-0.28M623.50,472.30v-0.21M624.00,472.30v-1.00M624.50,472.30v-0.21M632.50,472.30v-0.55M633.00,472.30v-1.50M633.50,472.30v-0.55M635.00,472.30v-1.05M635.50,472.30v-5.00M636.00,472.30v-1.05M637.50,472.30v-0.74M638.00,472.30v-2.00M638.50,472.30v-0.74M640.50,472.30v-0.31M641.00,472.30v-1.50M641.50,472.30v-0.31M643.50,472.30v-0.21M644.00,472.30v-1.00M644.50,472.30v-0.21" fill="none" stroke="#3d4fb2" stroke-width="0.55"/>
<path d="M522.50,489.20v-0.24M528.50,489.20v-0.17M541.00,489.20v-0.16M550.00,489.20v-0.23M554.00,489.20v-0.20M554.50,489.20v-0.84M555.00,489.20v-2.47M555.50,489.20v-5.13M556.00,489.20v-7.90M556.50,489.20v-14.00M557.00,489.20v-22.74M557.50,489.20v-12.39M558.00,489.20v-6.41M558.50,489.20v-3.78M559.00,489.20v-1.24M559.50,489.20v-0.24M583.50,489.20v-0.18M585.00,489.20v-0.22M589.50,489.20v-0.21M591.50,489.20v-0.17M593.50,489.20v-0.16M610.00,489.20v-0.24M614.00,489.20v-0.52M614.50,489.20v-2.11M615.00,489.20v-1.16M615.50,489.20v-0.21M626.00,489.20v-0.21M631.50,489.20v-0.17M632.00,489.20v-0.55M632.50,489.20v-1.19M633.00,489.20v-1.50M633.50,489.20v-1.24M634.00,489.20v-0.68M634.50,489.20v-0.58M635.00,489.20v-1.03M635.50,489.20v-1.68M636.00,489.20v-2.05M636.50,489.20v-1.72M637.00,489.20v-1.09M637.50,489.20v-0.45M638.00,489.20v-0.30M638.50,489.20v-0.34M639.00,489.20v-0.75M639.50,489.20v-1.26M640.00,489.20v-1.50M640.50,489.20v-1.41M641.00,489.20v-0.91M641.50,489.20v-0.57M642.00,489.20v-0.91M642.50,489.20v-1.22M643.00,489.20v-0.89M643.50,489.20v-0.28M644.50,489.20v-0.18M663.50,489.20v-0.15M665.50,489.20v-0.28" fill="none" stroke="#15281d" stroke-width="0.55"/>
<line x1="521.50" y1="489.20" x2="673.50" y2="489.20" stroke="#15281d" stroke-width="0.6"/>
<text x="522.00" y="408.50" font-size="4.2" stroke="#231f20">[0-250]</text>
<text x="522.00" y="425.60" font-size="4.2" stroke="#231f20">[0-250]</text>
<text x="522.00" y="442.50" font-size="4.2" stroke="#231f20">[0-1000]</text>
<text x="522.00" y="459.50" font-size="4.2" stroke="#231f20">[0-1000]</text>
<text x="522.00" y="476.20" font-size="4.2" stroke="#231f20">[0-400]</text>
<text x="518.20" y="417.70" font-size="7.25" text-anchor="end" stroke="#231f20">WT+sgNT</text>
<text x="518.20" y="434.00" font-size="7.25" text-anchor="end" stroke="#231f20"><tspan font-style="italic">ZIC2</tspan><tspan font-size="4.3" baseline-shift="2.9" stroke="none" font-style="normal">-/-</tspan><tspan font-style="italic">ZIC3</tspan><tspan font-size="4.3" baseline-shift="2.9" stroke="none" font-style="normal">-/-</tspan></text>
<text x="518.20" y="450.70" font-size="7.25" text-anchor="end" stroke="#231f20">WT+sgNT</text>
<text x="518.20" y="467.40" font-size="7.25" text-anchor="end" stroke="#231f20"><tspan font-style="italic">ZIC2</tspan><tspan font-size="4.3" baseline-shift="2.9" stroke="none" font-style="normal">-/-</tspan><tspan font-style="italic">ZIC3</tspan><tspan font-size="4.3" baseline-shift="2.9" stroke="none" font-style="normal">-/-</tspan></text>
<text x="518.20" y="485.70" font-size="7.25" text-anchor="end" stroke="#231f20">ZIC2 ChIP</text>
<text x="469.80" y="416.00" font-size="7.25" text-anchor="middle" stroke="#231f20" transform="rotate(-90 469.80 416.00)">ATAC-seq</text>
<text x="469.80" y="467.60" font-size="7.25" text-anchor="middle" stroke="#231f20" transform="rotate(-90 469.80 467.60)">BRG1 CUT&amp;Tag</text>
<line x1="474.60" y1="407.50" x2="474.60" y2="437.00" stroke="#999" stroke-width="0.8"/>
<line x1="474.60" y1="443.80" x2="474.60" y2="471.30" stroke="#999" stroke-width="0.8"/>
<path d="M636.0,496.0 L636.0,492.7 L638.5,492.7" fill="none" stroke="#999" stroke-width="0.8"/>
<path d="M637.8,491.0 L641.4,492.7 L637.8,494.4 Z" fill="#111"/>
<rect x="637.50" y="497.60" width="7.60" height="2.80" fill="#111"/>
<path d="M638.5,496.3 L634.6,499.3 L638.5,502.3 Z" fill="#111"/>
<text x="633.20" y="508.70" font-size="7.25" stroke="#231f20"><tspan font-style="italic">FZD7</tspan></text></svg></body></html>
